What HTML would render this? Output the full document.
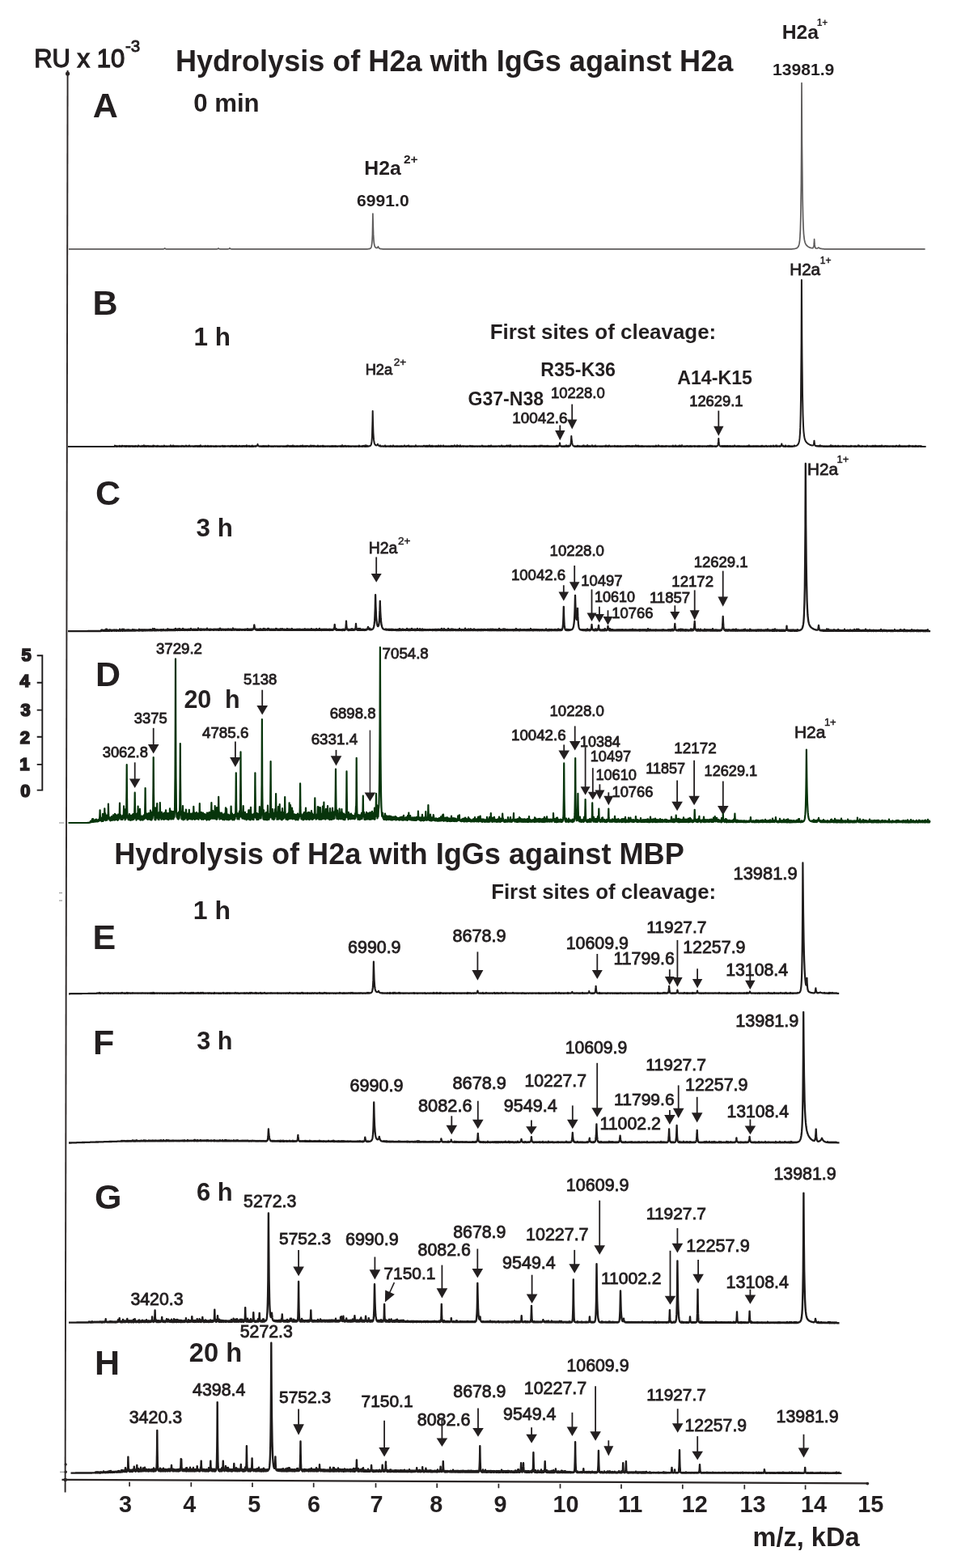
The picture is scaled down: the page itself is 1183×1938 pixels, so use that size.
<!DOCTYPE html>
<html><head><meta charset="utf-8"><title>Hydrolysis of H2a</title>
<style>html,body{margin:0;padding:0;background:#fff;}svg{display:block;}
text{font-family:"Liberation Sans",Arial,sans-serif;font-weight:bold;fill:#231f20;}</style></head>
<body><svg width="1183" height="1938" viewBox="0 0 1183 1938">
<rect width="1183" height="1938" fill="#fff"/>
<path d="M83.6 87L80.6 1844.5" stroke="#2b2626" stroke-width="1.9" fill="none"/>
<circle cx="83.6" cy="91" r="2.6" fill="#2b2626"/>
<path d="M76.5 1828.90L1072.5 1833.30" stroke="#2b2626" stroke-width="2.3" fill="none"/>
<circle cx="80.8" cy="1829" r="2.2" fill="#2b2626"/>
<circle cx="1072.3" cy="1833.6" r="1.9" fill="#2b2626"/>
<path d="M160.1 1831.8V1837.3" stroke="#2b2626" stroke-width="1.7" fill="none"/>
<path d="M236.3 1832.1V1837.6" stroke="#2b2626" stroke-width="1.7" fill="none"/>
<path d="M312.0 1832.4V1837.9" stroke="#2b2626" stroke-width="1.7" fill="none"/>
<path d="M387.7 1832.8V1838.3" stroke="#2b2626" stroke-width="1.7" fill="none"/>
<path d="M464.5 1833.1V1838.6" stroke="#2b2626" stroke-width="1.7" fill="none"/>
<path d="M540.2 1833.4V1838.9" stroke="#2b2626" stroke-width="1.7" fill="none"/>
<path d="M616.4 1833.8V1839.3" stroke="#2b2626" stroke-width="1.7" fill="none"/>
<path d="M692.5 1834.1V1839.6" stroke="#2b2626" stroke-width="1.7" fill="none"/>
<path d="M768.0 1834.5V1840.0" stroke="#2b2626" stroke-width="1.7" fill="none"/>
<path d="M843.8 1834.8V1840.3" stroke="#2b2626" stroke-width="1.7" fill="none"/>
<path d="M920.3 1835.1V1840.6" stroke="#2b2626" stroke-width="1.7" fill="none"/>
<path d="M995.6 1835.5V1841.0" stroke="#2b2626" stroke-width="1.7" fill="none"/>
<text x="146.9" y="1868.5" font-size="28.80">3</text>
<text x="226.2" y="1868.5" font-size="28.80">4</text>
<text x="306.2" y="1868.5" font-size="28.80">5</text>
<text x="379.9" y="1868.5" font-size="28.80">6</text>
<text x="457.4" y="1868.5" font-size="28.80">7</text>
<text x="531.3" y="1868.5" font-size="28.80">8</text>
<text x="610.6" y="1868.5" font-size="28.80">9</text>
<text x="683.6" y="1868.5" font-size="28.80">10</text>
<text x="763.9" y="1868.5" font-size="28.80">11</text>
<text x="842.7" y="1868.5" font-size="28.80">12</text>
<text x="914.5" y="1868.5" font-size="28.80">13</text>
<text x="990.1" y="1868.5" font-size="28.80">14</text>
<text x="1060.2" y="1868.5" font-size="28.80">15</text>
<text x="930.5" y="1910.7" font-size="32.54">m/z, kDa</text>
<text x="42.2" y="82.9" font-size="30.99" style="font-weight:normal" stroke="#231f20" stroke-width="1.30">RU x 10</text>
<text x="155.0" y="64.1" font-size="20.50" style="font-weight:normal" stroke="#231f20" stroke-width="0.90">-3</text>
<text x="216.9" y="87.8" font-size="36.07">Hydrolysis of H2a with IgGs against H2a</text>
<text x="141.2" y="1067.5" font-size="36.13">Hydrolysis of H2a with IgGs against MBP</text>
<text x="114.7" y="145.0" font-size="43.00">A</text>
<text x="239.2" y="138.1" font-size="31.19">0 min</text>
<text x="450.3" y="215.8" font-size="24.80">H2a</text>
<text x="498.9" y="202.3" font-size="15.50">2+</text>
<text x="441.1" y="254.7" font-size="21.10">6991.0</text>
<text x="966.7" y="48.0" font-size="24.69">H2a</text>
<text x="1009.7" y="31.8" font-size="12.00">1+</text>
<text x="954.9" y="92.7" font-size="21.14">13981.9</text>
<polyline points="85.0,307.9 86.0,307.9 87.0,307.9 88.0,307.9 89.0,307.9 90.0,307.9 91.0,307.9 92.0,307.9 93.0,307.9 94.0,307.9 95.0,307.9 96.0,307.9 97.0,307.9 98.0,307.9 99.0,307.9 100.0,307.9 101.0,307.9 102.0,307.9 103.0,307.9 104.0,307.9 105.0,307.9 106.0,307.9 107.0,307.9 108.0,307.9 109.0,307.9 110.0,307.9 111.0,307.9 112.0,307.9 113.0,307.9 114.0,307.9 115.0,307.9 116.0,307.9 117.0,307.9 118.0,307.9 119.0,307.9 120.0,307.9 121.0,307.9 122.0,307.9 123.0,307.9 124.0,307.9 125.0,307.9 126.0,307.9 127.0,307.9 128.0,307.9 129.0,307.9 130.0,307.9 131.0,307.9 132.0,307.9 133.0,307.9 134.0,307.9 135.0,307.9 136.0,307.9 137.0,307.9 138.0,307.9 139.0,307.9 140.0,307.9 141.0,307.9 142.0,307.9 143.0,307.9 144.0,307.9 145.0,307.9 146.0,307.9 147.0,307.9 148.0,307.9 149.0,307.9 150.0,307.9 151.0,307.9 152.0,307.9 153.0,307.9 154.0,307.9 155.0,307.9 156.0,307.9 157.0,307.9 158.0,307.9 159.0,307.9 160.0,307.9 161.0,307.9 162.0,307.9 163.0,307.9 164.0,307.9 165.0,307.9 166.0,307.9 167.0,307.9 168.0,307.9 169.0,307.9 170.0,307.9 171.0,307.9 172.0,307.9 173.0,307.9 174.0,307.9 175.0,307.9 176.0,307.9 177.0,307.9 178.0,307.9 179.0,307.9 180.0,307.9 181.0,307.9 182.0,307.9 183.0,307.9 184.0,307.9 185.0,307.9 186.0,307.9 187.0,307.9 188.0,307.9 189.0,307.9 190.0,307.9 191.0,307.9 192.0,307.9 193.0,307.9 194.0,307.9 195.0,307.9 196.0,307.9 197.0,307.9 198.0,307.9 199.0,307.9 200.0,307.9 200.7,307.9 201.0,307.9 201.1,307.9 201.4,307.8 201.8,307.8 202.0,307.8 202.2,307.8 202.6,307.7 202.9,307.5 203.0,307.5 203.3,307.2 203.7,306.8 204.0,307.2 204.1,307.2 204.4,307.5 204.8,307.7 205.0,307.7 205.2,307.8 205.6,307.8 205.9,307.8 206.0,307.8 206.3,307.9 206.7,307.9 207.0,307.9 208.0,307.9 209.0,307.9 210.0,307.9 211.0,307.9 212.0,307.9 213.0,307.9 214.0,307.9 215.0,307.9 216.0,307.9 217.0,307.9 218.0,307.9 219.0,307.9 220.0,307.9 221.0,307.9 222.0,307.9 223.0,307.9 224.0,307.9 225.0,307.9 226.0,307.9 227.0,307.9 228.0,307.9 229.0,307.9 230.0,307.9 231.0,307.9 232.0,307.9 233.0,307.9 234.0,307.9 235.0,307.9 236.0,307.9 237.0,307.9 238.0,307.9 239.0,307.9 240.0,307.9 241.0,307.9 242.0,307.9 243.0,307.9 244.0,307.9 245.0,307.9 246.0,307.9 247.0,307.9 248.0,307.9 249.0,307.9 250.0,307.9 251.0,307.9 252.0,307.9 253.0,307.9 254.0,307.9 255.0,307.9 256.0,307.9 257.0,307.9 258.0,307.9 259.0,307.9 260.0,307.9 261.0,307.9 262.0,307.9 263.0,307.9 264.0,307.9 265.0,307.9 266.0,307.9 267.0,307.9 267.4,307.9 267.8,307.8 268.0,307.8 268.1,307.8 268.5,307.8 268.9,307.7 269.0,307.6 269.2,307.5 269.6,307.2 270.0,306.8 270.4,307.2 270.8,307.5 271.0,307.6 271.1,307.7 271.5,307.8 271.9,307.8 272.0,307.8 272.2,307.8 272.6,307.9 273.0,307.9 274.0,307.9 275.0,307.9 276.0,307.9 277.0,307.9 278.0,307.9 279.0,307.9 280.0,307.9 281.0,307.9 281.4,307.9 281.8,307.8 282.0,307.8 282.1,307.8 282.5,307.7 282.9,307.6 283.0,307.6 283.2,307.4 283.6,307.1 284.0,306.6 284.4,307.1 284.8,307.4 285.0,307.6 285.1,307.6 285.5,307.7 285.9,307.8 286.0,307.8 286.2,307.8 286.6,307.9 287.0,307.9 288.0,307.9 289.0,307.9 290.0,307.9 291.0,307.9 292.0,307.9 293.0,307.9 294.0,307.9 295.0,307.9 296.0,307.9 297.0,307.9 298.0,307.9 299.0,307.9 300.0,307.9 301.0,307.9 302.0,307.9 303.0,307.9 304.0,307.9 305.0,307.9 306.0,307.9 307.0,307.9 308.0,307.9 309.0,307.9 310.0,307.9 311.0,307.9 312.0,307.9 313.0,307.9 314.0,307.9 315.0,307.9 316.0,307.9 317.0,307.9 318.0,307.9 319.0,307.9 320.0,307.9 321.0,307.9 322.0,307.9 323.0,307.9 324.0,307.9 325.0,307.9 326.0,307.9 327.0,307.9 328.0,307.9 329.0,307.9 330.0,307.9 331.0,307.9 332.0,307.9 333.0,307.9 334.0,307.9 335.0,307.9 336.0,307.9 337.0,307.9 338.0,307.9 339.0,307.9 340.0,307.9 341.0,307.9 342.0,307.9 343.0,307.9 344.0,307.9 345.0,307.9 346.0,307.9 347.0,307.9 348.0,307.9 349.0,307.9 350.0,307.9 351.0,307.9 352.0,307.9 353.0,307.9 354.0,307.9 355.0,307.9 356.0,307.9 357.0,307.9 358.0,307.9 359.0,307.9 360.0,307.9 361.0,307.9 362.0,307.9 363.0,307.9 364.0,307.9 365.0,307.9 366.0,307.9 367.0,307.9 368.0,307.9 369.0,307.9 370.0,307.9 371.0,307.9 372.0,307.9 373.0,307.9 374.0,307.9 375.0,307.9 376.0,307.9 377.0,307.9 378.0,307.9 379.0,307.9 380.0,307.9 381.0,307.9 382.0,307.9 383.0,307.9 384.0,307.9 385.0,307.9 386.0,307.9 387.0,307.9 388.0,307.9 389.0,307.9 390.0,307.9 391.0,307.9 392.0,307.9 393.0,307.9 394.0,307.9 395.0,307.9 396.0,307.9 397.0,307.9 398.0,307.9 399.0,307.9 400.0,307.9 401.0,307.9 402.0,307.9 403.0,307.9 404.0,307.9 405.0,307.9 406.0,307.9 407.0,307.9 408.0,307.9 409.0,307.9 410.0,307.9 411.0,307.9 412.0,307.9 413.0,307.9 414.0,307.9 415.0,307.9 416.0,307.9 417.0,307.9 418.0,307.9 419.0,307.9 420.0,307.9 421.0,307.9 422.0,307.9 423.0,307.9 424.0,307.9 425.0,307.9 426.0,307.9 427.0,307.9 428.0,307.9 429.0,307.9 430.0,307.9 431.0,307.9 432.0,307.9 433.0,307.9 434.0,307.9 435.0,307.9 436.0,307.9 437.0,307.9 438.0,307.9 439.0,307.9 440.0,307.9 441.0,307.9 442.0,307.9 443.0,307.9 444.0,307.9 445.0,307.9 446.0,307.9 447.0,307.9 448.0,307.9 449.0,307.9 450.0,307.9 451.0,307.9 452.0,307.9 453.0,307.9 453.7,307.8 454.0,307.8 454.6,307.8 455.0,307.7 455.5,307.7 456.0,307.6 456.4,307.6 457.0,307.4 457.3,307.3 458.0,306.9 458.2,306.7 458.7,306.0 459.0,305.3 459.0,305.3 459.1,304.9 459.2,304.3 459.5,302.8 459.8,300.3 460.0,297.7 460.1,296.6 460.4,290.3 460.6,280.6 460.9,264.1 461.0,269.4 461.3,280.2 461.6,289.9 462.0,296.0 462.0,296.4 462.3,299.8 462.7,302.2 462.7,302.3 463.0,303.5 463.0,303.7 463.4,304.7 463.8,305.3 463.9,305.5 464.0,305.6 464.4,306.0 464.5,306.1 464.8,306.2 465.0,306.3 465.2,306.4 465.7,306.4 466.0,306.4 466.1,306.4 466.3,306.3 466.6,306.1 467.0,305.7 467.1,305.6 467.5,304.7 467.9,305.8 468.0,305.8 468.1,306.0 468.4,306.4 468.9,306.9 469.0,307.0 469.3,307.2 469.8,307.3 469.9,307.4 470.0,307.4 470.2,307.5 470.6,307.6 471.0,307.6 471.1,307.6 471.7,307.7 472.0,307.7 473.0,307.8 473.5,307.8 474.0,307.8 475.0,307.8 475.3,307.8 476.0,307.8 477.0,307.9 478.0,307.9 479.0,307.9 480.0,307.9 481.0,307.9 482.0,307.9 483.0,307.9 484.0,307.9 485.0,307.9 486.0,307.9 487.0,307.9 488.0,307.9 489.0,307.9 490.0,307.9 491.0,307.9 492.0,307.9 493.0,307.9 494.0,307.9 495.0,307.9 496.0,307.9 497.0,307.9 498.0,307.9 499.0,307.9 500.0,307.9 501.0,307.9 502.0,307.9 503.0,307.9 504.0,307.9 505.0,307.9 506.0,307.9 507.0,307.9 508.0,307.9 509.0,307.9 510.0,307.9 511.0,307.9 512.0,307.9 513.0,307.9 514.0,307.9 515.0,307.9 516.0,307.9 517.0,307.9 518.0,307.9 519.0,307.9 520.0,307.9 521.0,307.9 522.0,307.9 523.0,307.9 524.0,307.9 525.0,307.9 526.0,307.9 527.0,307.9 528.0,307.9 529.0,307.9 530.0,307.9 531.0,307.9 532.0,307.9 533.0,307.9 534.0,307.9 535.0,307.9 536.0,307.9 537.0,307.9 538.0,307.9 539.0,307.9 540.0,307.9 541.0,307.9 542.0,307.9 543.0,307.9 544.0,307.9 545.0,307.9 546.0,307.9 547.0,307.9 548.0,307.9 549.0,307.9 550.0,307.9 551.0,307.9 552.0,307.9 553.0,307.9 554.0,307.9 555.0,307.9 556.0,307.9 557.0,307.9 558.0,307.9 559.0,307.9 560.0,307.9 561.0,307.9 562.0,307.9 563.0,307.9 564.0,307.9 565.0,307.9 566.0,307.9 567.0,307.9 568.0,307.9 569.0,307.9 570.0,307.9 571.0,307.9 572.0,307.9 573.0,307.9 574.0,307.9 575.0,307.9 576.0,307.9 577.0,307.9 578.0,307.9 579.0,307.9 580.0,307.9 581.0,307.9 582.0,307.9 583.0,307.9 584.0,307.9 585.0,307.9 586.0,307.9 587.0,307.9 588.0,307.9 589.0,307.9 590.0,307.9 591.0,307.9 592.0,307.9 593.0,307.9 594.0,307.9 595.0,307.9 596.0,307.9 597.0,307.9 598.0,307.9 599.0,307.9 600.0,307.9 601.0,307.9 602.0,307.9 603.0,307.9 604.0,307.9 605.0,307.9 606.0,307.9 607.0,307.9 608.0,307.9 609.0,307.9 610.0,307.9 611.0,307.9 612.0,307.9 613.0,307.9 614.0,307.9 615.0,307.9 616.0,307.9 617.0,307.9 618.0,307.9 619.0,307.9 620.0,307.9 621.0,307.9 622.0,307.9 623.0,307.9 624.0,307.9 625.0,307.9 626.0,307.9 627.0,307.9 628.0,307.9 629.0,307.9 630.0,307.9 631.0,307.9 632.0,307.9 633.0,307.9 634.0,307.9 635.0,307.9 636.0,307.9 637.0,307.9 638.0,307.9 639.0,307.9 640.0,307.9 641.0,307.9 642.0,307.9 643.0,307.9 644.0,307.9 645.0,307.9 646.0,307.9 647.0,307.9 648.0,307.9 649.0,307.9 650.0,307.9 651.0,307.9 652.0,307.9 653.0,307.9 654.0,307.9 655.0,307.9 656.0,307.9 657.0,307.9 658.0,307.9 659.0,307.9 660.0,307.9 661.0,307.9 662.0,307.9 663.0,307.9 664.0,307.9 665.0,307.9 666.0,307.9 667.0,307.9 668.0,307.9 669.0,307.9 670.0,307.9 671.0,307.9 672.0,307.9 673.0,307.9 674.0,307.9 675.0,307.9 676.0,307.9 677.0,307.9 678.0,307.9 679.0,307.9 680.0,307.9 681.0,307.9 682.0,307.9 683.0,307.9 684.0,307.9 685.0,307.9 686.0,307.9 687.0,307.9 688.0,307.9 689.0,307.9 690.0,307.9 691.0,307.9 692.0,307.9 693.0,307.9 694.0,307.9 695.0,307.9 696.0,307.9 697.0,307.9 698.0,307.9 699.0,307.9 700.0,307.9 701.0,307.9 702.0,307.9 703.0,307.9 704.0,307.9 705.0,307.9 706.0,307.9 707.0,307.9 708.0,307.9 709.0,307.9 710.0,307.9 711.0,307.9 712.0,307.9 713.0,307.9 714.0,307.9 715.0,307.9 716.0,307.9 717.0,307.9 718.0,307.9 719.0,307.9 720.0,307.9 721.0,307.9 722.0,307.9 723.0,307.9 724.0,307.9 725.0,307.9 726.0,307.9 727.0,307.9 728.0,307.9 729.0,307.9 730.0,307.9 731.0,307.9 732.0,307.9 733.0,307.9 734.0,307.9 735.0,307.9 736.0,307.9 737.0,307.9 738.0,307.9 739.0,307.9 740.0,307.9 741.0,307.9 742.0,307.9 743.0,307.9 744.0,307.9 745.0,307.9 746.0,307.9 747.0,307.9 748.0,307.9 749.0,307.9 750.0,307.9 751.0,307.9 752.0,307.9 753.0,307.9 754.0,307.9 755.0,307.9 756.0,307.9 757.0,307.9 758.0,307.9 759.0,307.9 760.0,307.9 761.0,307.9 762.0,307.9 763.0,307.9 764.0,307.9 765.0,307.9 766.0,307.9 767.0,307.9 768.0,307.9 769.0,307.9 770.0,307.9 771.0,307.9 772.0,307.9 773.0,307.9 774.0,307.9 775.0,307.9 776.0,307.9 777.0,307.9 778.0,307.9 779.0,307.9 780.0,307.9 781.0,307.9 782.0,307.9 783.0,307.9 784.0,307.9 785.0,307.9 786.0,307.9 787.0,307.9 788.0,307.9 789.0,307.9 790.0,307.9 791.0,307.9 792.0,307.9 793.0,307.9 794.0,307.9 795.0,307.9 796.0,307.9 797.0,307.9 798.0,307.9 799.0,307.9 800.0,307.9 801.0,307.9 802.0,307.9 803.0,307.9 804.0,307.9 805.0,307.9 806.0,307.9 807.0,307.9 808.0,307.9 809.0,307.9 810.0,307.9 811.0,307.9 812.0,307.9 813.0,307.9 814.0,307.9 815.0,307.9 816.0,307.9 817.0,307.9 818.0,307.9 819.0,307.9 820.0,307.9 821.0,307.9 822.0,307.9 823.0,307.9 824.0,307.9 825.0,307.9 826.0,307.9 827.0,307.9 828.0,307.9 829.0,307.9 830.0,307.9 831.0,307.9 832.0,307.9 833.0,307.9 834.0,307.9 835.0,307.9 836.0,307.9 837.0,307.9 838.0,307.9 839.0,307.9 840.0,307.9 841.0,307.9 842.0,307.9 843.0,307.9 844.0,307.9 845.0,307.9 846.0,307.9 847.0,307.9 848.0,307.9 849.0,307.9 850.0,307.9 851.0,307.9 852.0,307.9 853.0,307.9 854.0,307.9 855.0,307.9 856.0,307.9 857.0,307.9 858.0,307.9 859.0,307.9 860.0,307.9 861.0,307.9 862.0,307.9 863.0,307.9 864.0,307.9 865.0,307.9 866.0,307.9 867.0,307.9 868.0,307.9 869.0,307.9 870.0,307.9 871.0,307.9 872.0,307.9 873.0,307.9 874.0,307.9 875.0,307.9 876.0,307.9 877.0,307.9 878.0,307.9 879.0,307.9 880.0,307.9 881.0,307.9 882.0,307.9 883.0,307.9 884.0,307.9 885.0,307.9 886.0,307.9 887.0,307.9 888.0,307.9 889.0,307.9 890.0,307.9 891.0,307.9 892.0,307.9 893.0,307.9 894.0,307.9 895.0,307.9 896.0,307.9 897.0,307.9 898.0,307.9 899.0,307.9 900.0,307.9 901.0,307.9 902.0,307.9 903.0,307.9 904.0,307.9 905.0,307.9 906.0,307.9 907.0,307.9 908.0,307.9 909.0,307.9 910.0,307.9 911.0,307.9 912.0,307.9 913.0,307.9 914.0,307.9 915.0,307.9 916.0,307.9 917.0,307.9 918.0,307.9 919.0,307.9 920.0,307.9 921.0,307.9 922.0,307.9 923.0,307.9 924.0,307.9 925.0,307.9 926.0,307.9 927.0,307.9 928.0,307.9 929.0,307.9 930.0,307.9 931.0,307.9 932.0,307.9 933.0,307.9 934.0,307.9 935.0,307.9 936.0,307.9 937.0,307.9 938.0,307.9 939.0,307.9 940.0,307.9 941.0,307.9 942.0,307.9 943.0,307.9 944.0,307.9 945.0,307.9 946.0,307.9 947.0,307.9 948.0,307.9 949.0,307.9 950.0,307.9 951.0,307.9 952.0,307.9 953.0,307.9 954.0,307.9 955.0,307.9 956.0,307.9 957.0,307.9 958.0,307.9 959.0,307.9 960.0,307.9 961.0,307.9 962.0,307.9 963.0,307.9 964.0,307.9 965.0,307.9 966.0,307.9 967.0,307.9 968.0,307.9 969.0,307.9 970.0,307.9 971.0,307.9 972.0,307.9 973.0,307.9 974.0,307.9 975.0,307.9 976.0,307.9 977.0,307.9 978.0,307.8 979.0,307.8 980.0,307.7 981.0,307.7 981.4,307.6 982.0,307.5 982.6,307.4 983.0,307.3 983.8,307.1 984.0,307.0 985.0,306.6 986.0,305.8 986.2,305.6 987.0,304.5 987.4,303.6 988.0,301.4 988.4,299.0 988.6,297.3 988.7,295.9 989.0,292.2 989.0,291.4 989.4,284.1 989.7,273.0 989.8,268.3 990.0,256.7 990.0,255.3 990.4,226.1 990.7,180.0 991.0,102.6 991.4,178.1 991.9,225.3 992.0,236.9 992.3,253.5 992.7,271.0 993.0,279.6 993.1,282.0 993.4,287.1 993.5,289.0 994.0,293.6 994.0,293.9 994.4,296.5 995.0,299.3 995.8,301.4 996.0,301.7 997.0,303.2 998.0,304.1 998.2,304.3 999.0,304.9 1000.0,305.4 1000.6,305.7 1001.0,305.9 1002.0,306.3 1003.0,306.5 1004.0,306.7 1004.1,306.7 1004.5,306.7 1004.8,306.6 1005.0,306.4 1005.0,306.4 1005.2,306.1 1005.3,306.1 1005.4,305.9 1005.5,305.5 1005.8,304.5 1006.0,303.5 1006.1,302.9 1006.3,300.2 1006.4,299.6 1006.6,295.7 1006.9,300.2 1007.0,301.8 1007.1,302.9 1007.4,304.6 1007.5,305.1 1007.6,305.6 1007.8,306.0 1007.9,306.2 1008.0,306.4 1008.2,306.6 1008.4,306.8 1008.6,306.9 1008.7,306.9 1009.0,307.0 1009.8,307.0 1010.0,306.9 1010.2,306.9 1010.9,306.7 1011.0,306.6 1012.0,306.1 1013.0,306.7 1013.1,306.8 1014.0,307.1 1014.2,307.2 1015.0,307.4 1015.4,307.4 1016.0,307.5 1016.5,307.6 1017.0,307.7 1017.6,307.7 1018.0,307.7 1018.8,307.8 1019.0,307.8 1019.9,307.8 1020.0,307.8 1021.0,307.8 1022.0,307.9 1023.0,307.9 1024.0,307.9 1025.0,307.9 1026.0,307.9 1027.0,307.9 1028.0,307.9 1029.0,307.9 1030.0,307.9 1031.0,307.9 1032.0,307.9 1033.0,307.9 1034.0,307.9 1035.0,307.9 1036.0,307.9 1037.0,307.9 1038.0,307.9 1039.0,307.9 1040.0,307.9 1041.0,307.9 1042.0,307.9 1043.0,307.9 1044.0,307.9 1045.0,307.9 1046.0,307.9 1047.0,307.9 1048.0,307.9 1049.0,307.9 1050.0,307.9 1051.0,307.9 1052.0,307.9 1053.0,307.9 1054.0,307.9 1055.0,307.9 1056.0,307.9 1057.0,307.9 1058.0,307.9 1059.0,307.9 1060.0,307.9 1061.0,307.9 1062.0,307.9 1063.0,307.9 1064.0,307.9 1065.0,307.9 1066.0,307.9 1067.0,307.9 1068.0,307.9 1069.0,307.9 1070.0,307.9 1071.0,307.9 1072.0,307.9 1073.0,307.9 1074.0,307.9 1075.0,307.9 1076.0,307.9 1077.0,307.9 1078.0,307.9 1079.0,307.9 1080.0,307.9 1081.0,307.9 1082.0,307.9 1083.0,307.9 1084.0,307.9 1085.0,307.9 1086.0,307.9 1087.0,307.9 1088.0,307.9 1089.0,307.9 1090.0,307.9 1091.0,307.9 1092.0,307.9 1093.0,307.9 1094.0,307.9 1095.0,307.9 1096.0,307.9 1097.0,307.9 1098.0,307.9 1099.0,307.9 1100.0,307.9 1101.0,307.9 1102.0,307.9 1103.0,307.9 1104.0,307.9 1105.0,307.9 1106.0,307.9 1107.0,307.9 1108.0,307.9 1109.0,307.9 1110.0,307.9 1111.0,307.9 1112.0,307.9 1113.0,307.9 1114.0,307.9 1115.0,307.9 1116.0,307.9 1117.0,307.9 1118.0,307.9 1119.0,307.9 1120.0,307.9 1121.0,307.9 1122.0,307.9 1123.0,307.9 1124.0,307.9 1125.0,307.9 1126.0,307.9 1127.0,307.9 1128.0,307.9 1129.0,307.9 1130.0,307.9 1131.0,307.9 1132.0,307.9 1133.0,307.9 1134.0,307.9 1135.0,307.9 1136.0,307.9 1137.0,307.9 1138.0,307.9 1139.0,307.9 1140.0,307.9 1141.0,307.9 1142.0,307.9 1143.0,307.9 1143.6,307.9" fill="none" stroke="#5e5c5c" stroke-width="1.70" stroke-linejoin="round"/>
<text x="114.4" y="388.5" font-size="43.00">B</text>
<text x="239.5" y="427.2" font-size="31.44">1 h</text>
<text x="605.7" y="419.4" font-size="25.93">First sites of cleavage:</text>
<text x="451.7" y="462.8" font-size="18.26" style="font-weight:normal" stroke="#231f20" stroke-width="0.80">H2a</text>
<text x="486.8" y="451.5" font-size="13.50" style="font-weight:normal" stroke="#231f20" stroke-width="0.50">2+</text>
<text x="668.2" y="464.6" font-size="23.19">R35-K36</text>
<text x="681.0" y="492.0" font-size="18.45" style="font-weight:normal" stroke="#231f20" stroke-width="0.85">10228.0</text>
<text x="578.5" y="501.1" font-size="23.06">G37-N38</text>
<text x="633.2" y="523.0" font-size="18.90" style="font-weight:normal" stroke="#231f20" stroke-width="0.85">10042.6</text>
<text x="837.2" y="475.4" font-size="23.19">A14-K15</text>
<text x="852.2" y="502.1" font-size="18.35" style="font-weight:normal" stroke="#231f20" stroke-width="0.85">12629.1</text>
<text x="976.3" y="339.6" font-size="20.60" style="font-weight:normal" stroke="#231f20" stroke-width="0.80">H2a</text>
<text x="1013.8" y="326.0" font-size="12.00" style="font-weight:normal" stroke="#231f20" stroke-width="0.50">1+</text>
<path d="M707.2 499.6V520.5" stroke="#231f20" stroke-width="1.8" fill="none"/>
<path d="M701.0 518.5L713.4 518.5L707.2 530.6Z" fill="#231f20"/>
<path d="M692.3 525.5V534.0" stroke="#231f20" stroke-width="1.8" fill="none"/>
<path d="M686.1 532.0L698.5 532.0L692.3 544.3Z" fill="#231f20"/>
<path d="M888.3 507.6V528.8" stroke="#231f20" stroke-width="1.8" fill="none"/>
<path d="M882.1 526.8L894.5 526.8L888.3 538.7Z" fill="#231f20"/>
<polyline points="84.0,552.0 84.5,552.0 85.0,552.0 85.5,552.0 86.0,552.0 86.5,552.0 87.0,552.0 87.5,552.0 88.0,552.0 88.5,552.0 89.0,552.0 89.5,552.0 90.0,552.0 90.5,552.0 91.0,552.0 91.5,552.0 92.0,552.0 92.5,552.0 93.0,552.0 93.5,552.0 94.0,552.0 94.5,552.0 95.0,552.0 95.5,552.0 96.0,552.0 96.5,552.0 97.0,552.0 97.5,552.0 98.0,552.0 98.5,552.0 99.0,552.0 99.5,552.0 100.0,552.0 100.5,552.0 101.0,552.0 101.5,552.0 102.0,552.0 102.5,552.0 103.0,552.0 103.5,552.0 104.0,552.0 104.5,552.0 105.0,552.0 105.5,552.0 106.0,552.0 106.5,552.0 107.0,552.0 107.5,552.0 108.0,552.0 108.5,552.0 109.0,552.0 109.5,552.0 110.0,552.0 110.5,552.0 111.0,552.0 111.5,552.0 112.0,552.0 112.5,552.0 113.0,552.0 113.5,552.0 114.0,552.0 114.5,552.0 115.0,552.0 115.5,552.0 116.0,552.0 116.5,552.0 117.0,552.0 117.5,552.0 118.0,552.0 118.5,552.0 119.0,552.0 119.5,552.0 120.0,552.0 120.5,552.0 121.0,552.0 121.5,552.0 122.0,552.0 122.5,552.0 123.0,552.0 123.5,552.0 124.0,552.0 124.5,552.0 125.0,552.0 125.5,552.0 126.0,552.0 126.5,552.0 127.0,552.0 127.5,552.0 128.0,552.0 128.5,552.0 129.0,552.0 129.5,552.0 130.0,552.0 130.5,552.0 131.0,552.0 131.5,552.0 132.0,552.0 132.5,552.0 133.0,552.0 133.5,552.0 134.0,552.0 134.5,552.0 135.0,552.0 135.5,552.0 136.0,552.0 136.5,552.0 137.0,552.0 137.5,552.0 138.0,552.0 138.5,552.0 139.0,552.0 139.5,552.0 140.0,552.0 140.5,552.0 141.0,552.0 141.5,552.0 142.0,550.6 142.5,551.8 143.0,551.0 143.5,551.9 144.0,551.1 144.5,551.9 145.0,551.3 145.5,551.9 146.0,551.2 146.5,551.8 147.0,551.2 147.5,552.0 148.0,550.8 148.5,551.9 149.0,551.3 149.5,551.9 150.0,551.2 150.5,552.0 151.0,550.7 151.5,551.8 152.0,551.2 152.5,551.8 153.0,551.1 153.5,551.8 154.0,551.1 154.5,551.9 155.0,551.0 155.5,552.0 156.0,551.1 156.5,551.9 157.0,551.1 157.5,551.8 158.0,551.2 158.5,551.9 159.0,551.1 159.5,551.9 160.0,551.1 160.5,551.9 161.0,551.2 161.5,551.9 162.0,551.1 162.5,551.8 163.0,551.2 163.5,551.9 164.0,551.1 164.5,551.9 165.0,551.2 165.5,551.9 166.0,551.2 166.5,551.9 167.0,551.1 167.5,552.0 168.0,551.1 168.5,551.8 169.0,551.2 169.5,552.0 170.0,551.2 170.5,552.0 171.0,550.5 171.5,551.8 172.0,551.2 172.5,551.8 173.0,551.2 173.5,552.0 174.0,551.3 174.5,551.9 175.0,551.4 175.5,552.0 176.0,550.8 176.5,551.9 177.0,551.3 177.5,551.9 178.0,550.4 178.5,552.0 179.0,551.4 179.5,551.9 180.0,550.8 180.5,552.0 181.0,551.2 181.5,551.9 182.0,551.1 182.5,551.8 183.0,551.1 183.5,552.0 184.0,551.1 184.5,552.0 185.0,551.2 185.5,552.0 186.0,551.2 186.5,551.9 187.0,551.3 187.5,552.0 188.0,551.2 188.5,552.0 189.0,550.9 189.5,552.0 190.0,550.6 190.5,551.9 191.0,551.1 191.5,551.8 192.0,551.3 192.5,552.0 193.0,551.2 193.5,551.9 194.0,551.2 194.5,551.9 195.0,550.9 195.5,551.9 196.0,551.3 196.5,552.0 197.0,551.4 197.5,552.0 198.0,551.4 198.5,551.9 199.0,551.4 199.5,552.0 200.0,551.2 200.5,551.9 201.0,551.2 201.5,551.9 202.0,551.3 202.5,551.9 203.0,550.6 203.5,551.9 204.0,551.3 204.5,551.9 205.0,551.3 205.5,551.9 206.0,551.4 206.5,552.0 207.0,551.4 207.5,551.9 208.0,551.4 208.5,551.9 209.0,551.3 209.5,551.9 210.0,551.4 210.5,551.9 211.0,550.4 211.5,552.0 212.0,551.2 212.5,551.9 213.0,551.1 213.5,552.0 214.0,550.5 214.5,551.9 215.0,551.1 215.5,552.0 216.0,551.1 216.5,551.9 217.0,551.2 217.5,551.9 218.0,551.1 218.5,551.9 219.0,551.2 219.5,551.9 220.0,551.1 220.5,551.9 221.0,551.2 221.5,552.0 222.0,551.2 222.5,551.8 223.0,551.2 223.5,552.0 224.0,551.3 224.5,552.0 225.0,550.9 225.5,551.8 226.0,551.1 226.5,552.0 227.0,551.2 227.5,551.9 228.0,551.2 228.5,551.9 229.0,551.3 229.5,551.8 230.0,550.6 230.5,551.9 231.0,551.3 231.5,551.9 232.0,551.2 232.5,551.8 233.0,551.1 233.5,552.0 234.0,550.5 234.5,551.8 235.0,551.3 235.5,551.9 236.0,551.3 236.5,551.8 237.0,551.2 237.5,551.8 238.0,551.3 238.5,551.9 239.0,551.2 239.5,552.0 240.0,551.2 240.5,551.9 241.0,551.1 241.5,552.0 242.0,551.1 242.5,551.8 243.0,551.1 243.5,552.0 244.0,551.1 244.5,551.9 245.0,551.0 245.5,552.0 246.0,551.0 246.5,552.0 247.0,551.1 247.5,552.0 248.0,550.4 248.5,551.9 249.0,551.2 249.5,551.9 250.0,551.3 250.5,552.0 251.0,551.4 251.5,551.8 252.0,551.3 252.5,551.9 253.0,551.2 253.5,552.0 254.0,550.9 254.5,551.9 255.0,551.3 255.5,551.9 256.0,551.3 256.5,551.9 257.0,550.8 257.5,551.9 258.0,551.2 258.5,552.0 259.0,551.2 259.5,551.9 260.0,551.2 260.5,551.9 261.0,551.1 261.5,551.9 262.0,551.2 262.5,551.8 263.0,551.3 263.5,551.9 264.0,551.2 264.5,551.9 265.0,551.3 265.5,552.0 266.0,551.2 266.5,551.9 267.0,551.1 267.5,551.9 268.0,551.2 268.5,551.9 269.0,551.3 269.5,551.8 270.0,551.4 270.5,551.9 271.0,551.3 271.5,552.0 272.0,551.3 272.5,551.9 273.0,551.3 273.5,551.8 274.0,551.3 274.5,551.8 275.0,550.9 275.5,552.0 276.0,551.2 276.5,551.9 277.0,551.1 277.5,551.9 278.0,551.1 278.5,551.9 279.0,551.2 279.5,551.8 280.0,551.2 280.5,551.8 281.0,551.2 281.5,551.8 282.0,551.1 282.5,551.8 283.0,551.2 283.5,551.9 284.0,551.2 284.5,552.0 285.0,551.1 285.5,551.9 286.0,551.1 286.5,551.8 287.0,550.8 287.5,551.9 288.0,551.1 288.5,551.9 289.0,551.2 289.5,552.0 290.0,551.1 290.5,551.9 291.0,551.1 291.5,551.9 292.0,550.7 292.5,552.0 293.0,551.2 293.5,552.0 294.0,551.3 294.5,552.0 295.0,551.2 295.5,551.9 296.0,550.8 296.5,551.8 297.0,551.2 297.5,552.0 298.0,551.2 298.5,551.9 299.0,551.1 299.5,551.9 300.0,551.0 300.5,551.9 301.0,551.1 301.5,551.8 302.0,551.1 302.5,551.9 303.0,551.0 303.5,551.8 304.0,551.1 304.5,551.9 305.0,550.4 305.5,552.0 306.0,551.1 306.5,551.8 307.0,551.3 307.5,551.9 308.0,550.9 308.5,552.0 309.0,551.4 309.5,552.0 310.0,551.2 310.5,552.0 311.0,551.1 311.5,551.9 312.0,550.6 312.5,552.0 313.0,551.3 313.5,551.9 314.0,551.2 314.5,551.8 315.0,551.3 315.5,551.9 315.9,551.2 316.0,551.0 316.2,551.5 316.5,551.8 316.6,551.8 317.0,551.4 317.4,551.3 317.5,551.2 317.8,550.9 318.0,550.5 318.1,550.2 318.5,549.0 318.9,550.2 319.0,550.5 319.2,550.9 319.5,551.2 319.6,551.3 320.0,551.3 320.4,551.8 320.5,551.8 320.8,551.6 321.0,551.4 321.1,551.5 321.5,551.9 322.0,551.3 322.5,551.9 323.0,551.2 323.5,551.9 324.0,551.2 324.5,551.9 325.0,551.1 325.5,551.9 326.0,551.1 326.5,552.0 327.0,551.1 327.5,552.0 328.0,551.2 328.5,551.9 329.0,551.1 329.5,551.9 330.0,551.3 330.5,551.9 331.0,551.2 331.5,552.0 332.0,550.6 332.5,551.9 333.0,551.3 333.5,551.8 334.0,551.2 334.5,551.9 335.0,551.3 335.5,551.9 336.0,551.3 336.5,551.9 337.0,551.3 337.5,551.9 338.0,551.3 338.5,552.0 339.0,551.2 339.5,551.8 340.0,551.3 340.5,551.9 341.0,551.3 341.5,551.8 342.0,551.3 342.5,551.9 343.0,551.2 343.5,551.9 344.0,551.3 344.5,552.0 345.0,551.3 345.5,552.0 346.0,551.3 346.5,551.9 347.0,551.3 347.5,551.8 348.0,551.4 348.5,551.9 349.0,551.2 349.5,551.9 350.0,551.3 350.5,551.9 351.0,551.4 351.5,552.0 352.0,551.4 352.5,552.0 353.0,551.2 353.5,551.9 354.0,551.2 354.5,552.0 355.0,550.8 355.5,551.9 356.0,550.6 356.5,551.8 357.0,551.2 357.5,551.9 358.0,551.1 358.5,551.9 359.0,551.0 359.5,552.0 360.0,551.1 360.5,551.9 361.0,551.1 361.5,552.0 362.0,550.5 362.5,552.0 363.0,551.2 363.5,551.9 364.0,551.1 364.5,551.9 365.0,551.2 365.5,552.0 366.0,551.2 366.5,552.0 367.0,551.1 367.5,552.0 368.0,551.1 368.5,551.9 369.0,551.3 369.5,551.9 370.0,551.2 370.5,551.9 371.0,551.1 371.5,552.0 372.0,550.8 372.5,551.9 373.0,551.2 373.5,551.9 374.0,550.5 374.5,552.0 375.0,551.1 375.5,552.0 376.0,551.2 376.5,551.9 377.0,551.1 377.5,551.9 378.0,551.0 378.5,552.0 379.0,551.0 379.5,551.8 380.0,551.1 380.5,551.8 381.0,551.2 381.5,552.0 382.0,551.2 382.5,552.0 383.0,551.2 383.5,551.9 384.0,550.5 384.5,551.9 385.0,551.2 385.5,551.9 386.0,550.7 386.5,551.8 387.0,551.2 387.5,551.9 388.0,550.7 388.5,551.9 389.0,551.0 389.5,551.8 390.0,551.2 390.5,552.0 391.0,551.3 391.5,552.0 392.0,551.3 392.5,551.9 393.0,550.6 393.5,551.9 394.0,551.2 394.5,552.0 395.0,551.3 395.5,551.9 396.0,551.1 396.5,551.9 397.0,551.2 397.5,551.8 398.0,551.1 398.5,552.0 399.0,550.7 399.5,552.0 400.0,551.1 400.5,551.9 401.0,551.2 401.5,551.9 402.0,551.2 402.5,552.0 403.0,551.3 403.5,551.8 404.0,551.2 404.5,552.0 405.0,551.2 405.5,551.8 406.0,551.2 406.5,551.9 407.0,551.3 407.5,551.9 408.0,551.2 408.5,551.9 409.0,551.2 409.5,551.9 410.0,551.1 410.5,551.9 411.0,551.1 411.5,551.9 412.0,551.1 412.5,552.0 413.0,551.2 413.5,551.9 414.0,551.1 414.5,551.9 415.0,551.1 415.5,551.9 416.0,551.2 416.5,551.9 417.0,551.3 417.5,551.9 418.0,551.3 418.5,551.8 419.0,551.2 419.5,551.8 420.0,551.2 420.5,551.9 421.0,551.1 421.5,551.9 422.0,551.1 422.5,552.0 423.0,550.3 423.5,551.9 424.0,551.2 424.5,552.0 425.0,551.1 425.5,552.0 426.0,551.1 426.5,551.8 427.0,550.9 427.5,552.0 428.0,551.2 428.5,552.0 429.0,551.3 429.5,551.8 430.0,551.1 430.5,551.9 431.0,551.1 431.5,551.9 432.0,551.3 432.5,551.9 433.0,551.2 433.5,551.9 434.0,551.3 434.5,551.9 435.0,551.3 435.5,551.8 436.0,551.4 436.5,551.9 437.0,551.2 437.5,551.9 438.0,551.3 438.5,551.9 439.0,551.3 439.5,551.9 440.0,551.2 440.5,552.0 441.0,551.3 441.5,551.8 442.0,551.2 442.5,551.9 443.0,551.3 443.5,551.9 444.0,550.6 444.5,552.0 445.0,551.4 445.5,551.8 446.0,551.5 446.5,551.9 447.0,551.3 447.5,552.0 448.0,551.1 448.5,551.9 449.0,551.1 449.5,551.8 450.0,550.7 450.5,552.0 451.0,551.2 451.5,551.9 452.0,550.4 452.5,552.0 453.0,550.6 453.5,551.9 454.0,550.8 454.4,551.7 454.5,551.9 455.0,551.4 455.3,551.7 455.5,551.8 456.0,551.3 456.2,551.5 456.5,551.6 457.0,551.1 457.1,551.3 457.5,551.2 458.0,550.8 458.5,550.1 458.8,549.4 458.9,549.0 459.0,548.6 459.1,548.4 459.3,546.9 459.5,545.4 459.6,544.4 459.8,541.8 459.9,540.5 460.0,538.1 460.1,534.3 460.4,524.1 460.5,520.6 460.7,508.0 461.0,522.0 461.1,524.2 461.4,533.9 461.5,535.7 461.8,540.1 462.0,542.7 462.1,543.9 462.5,546.3 462.5,546.3 462.8,547.8 463.0,548.3 463.2,548.8 463.4,549.1 463.5,549.3 463.6,549.4 463.9,549.8 464.0,549.9 464.3,550.1 464.5,550.3 464.8,550.4 465.0,550.4 465.2,550.4 465.5,550.4 465.6,550.4 466.0,550.2 466.1,550.2 466.5,549.8 466.6,549.7 467.0,548.8 467.4,549.9 467.5,550.0 467.9,550.5 468.0,550.6 468.4,551.0 468.5,551.1 468.8,551.2 469.0,551.3 469.2,551.4 469.5,551.5 469.7,551.3 470.0,550.4 470.1,550.9 470.5,551.7 470.6,551.7 471.0,551.2 471.5,551.8 472.0,551.3 472.5,551.8 473.0,551.3 473.3,551.6 473.5,551.8 474.0,551.3 474.5,551.9 475.0,551.3 475.1,551.4 475.5,551.8 476.0,550.5 476.5,551.9 477.0,551.2 477.5,552.0 478.0,551.3 478.5,551.8 479.0,551.4 479.5,551.9 480.0,551.4 480.5,551.9 481.0,551.2 481.5,551.9 482.0,551.2 482.5,551.9 483.0,550.8 483.5,551.9 484.0,551.3 484.5,551.9 485.0,551.3 485.5,551.9 486.0,550.5 486.5,551.8 487.0,551.2 487.5,552.0 488.0,551.3 488.5,551.9 489.0,551.4 489.5,551.9 490.0,551.2 490.5,552.0 491.0,551.1 491.5,551.9 492.0,551.3 492.5,552.0 493.0,551.3 493.5,551.9 494.0,551.2 494.5,551.9 495.0,551.2 495.5,551.9 496.0,551.1 496.5,551.9 497.0,551.2 497.5,551.9 498.0,551.2 498.5,552.0 499.0,551.3 499.5,551.8 500.0,550.5 500.5,551.9 501.0,551.3 501.5,552.0 502.0,551.3 502.5,551.9 503.0,551.1 503.5,551.8 504.0,551.1 504.5,551.8 505.0,550.5 505.5,552.0 506.0,551.2 506.5,551.9 507.0,551.3 507.5,552.0 508.0,551.2 508.5,551.9 509.0,551.3 509.5,551.9 510.0,551.2 510.5,551.8 511.0,551.2 511.5,551.9 512.0,551.3 512.5,552.0 513.0,551.4 513.5,551.9 514.0,550.4 514.5,552.0 515.0,551.3 515.5,551.8 516.0,551.2 516.5,552.0 517.0,551.3 517.5,551.8 518.0,551.3 518.5,551.8 519.0,551.4 519.5,551.9 520.0,551.4 520.5,551.9 521.0,551.4 521.5,551.9 522.0,551.3 522.5,551.9 523.0,551.3 523.5,551.8 524.0,550.7 524.5,551.8 525.0,551.2 525.5,551.9 526.0,551.1 526.5,551.9 527.0,550.8 527.5,552.0 528.0,551.1 528.5,551.9 529.0,550.8 529.5,552.0 530.0,551.3 530.5,551.8 531.0,550.4 531.5,551.9 532.0,551.1 532.5,552.0 533.0,551.1 533.5,551.9 534.0,550.7 534.5,552.0 535.0,551.2 535.5,551.9 536.0,551.2 536.5,551.8 537.0,551.3 537.5,551.9 538.0,551.2 538.5,551.9 539.0,551.1 539.5,552.0 540.0,551.1 540.5,552.0 541.0,551.2 541.5,552.0 542.0,550.5 542.5,551.9 543.0,551.2 543.5,551.9 544.0,551.1 544.5,552.0 545.0,550.6 545.5,551.9 546.0,551.2 546.5,551.8 547.0,551.2 547.5,551.9 548.0,550.5 548.5,551.9 549.0,551.3 549.5,552.0 550.0,551.3 550.5,551.9 551.0,551.3 551.5,551.9 552.0,551.2 552.5,552.0 553.0,551.3 553.5,552.0 554.0,551.2 554.5,551.9 555.0,551.4 555.5,552.0 556.0,551.4 556.5,551.9 557.0,551.2 557.5,552.0 558.0,550.8 558.5,552.0 559.0,551.1 559.5,551.9 560.0,551.1 560.5,551.9 561.0,551.2 561.5,551.8 562.0,550.4 562.5,551.9 563.0,551.2 563.5,551.9 564.0,551.1 564.5,551.9 565.0,550.4 565.5,552.0 566.0,550.6 566.5,551.8 567.0,551.3 567.5,551.9 568.0,551.1 568.5,551.9 569.0,550.4 569.5,551.9 570.0,551.2 570.5,552.0 571.0,551.3 571.5,551.8 572.0,551.1 572.5,552.0 573.0,551.2 573.5,551.9 574.0,551.2 574.5,551.8 575.0,551.2 575.5,551.9 576.0,551.3 576.5,551.9 577.0,551.3 577.5,551.9 578.0,551.2 578.5,551.9 579.0,551.2 579.5,551.8 580.0,551.4 580.5,551.9 581.0,550.9 581.5,551.9 582.0,551.2 582.5,551.9 583.0,551.1 583.5,552.0 584.0,551.1 584.5,551.9 585.0,551.2 585.5,551.9 586.0,551.2 586.5,551.9 587.0,551.3 587.5,552.0 588.0,551.4 588.5,551.8 589.0,551.4 589.5,552.0 590.0,551.3 590.5,552.0 591.0,551.3 591.5,551.8 592.0,551.4 592.5,552.0 593.0,551.4 593.5,551.9 594.0,551.2 594.5,551.9 595.0,551.2 595.5,551.8 596.0,550.6 596.5,551.9 597.0,551.1 597.5,551.9 598.0,551.3 598.5,551.9 599.0,551.3 599.5,551.9 600.0,551.4 600.5,552.0 601.0,551.4 601.5,551.9 602.0,551.3 602.5,551.9 603.0,551.3 603.5,551.9 604.0,550.8 604.5,551.9 605.0,551.1 605.5,552.0 606.0,551.1 606.5,551.9 607.0,550.5 607.5,551.9 608.0,551.2 608.5,551.9 609.0,551.2 609.5,551.9 610.0,551.3 610.5,551.9 611.0,551.3 611.5,551.9 612.0,551.3 612.5,551.9 613.0,551.4 613.5,551.9 614.0,551.2 614.5,551.9 615.0,551.3 615.5,551.8 616.0,551.3 616.5,551.8 617.0,551.0 617.5,551.9 618.0,551.4 618.5,552.0 619.0,551.2 619.5,551.8 620.0,550.5 620.5,551.9 621.0,551.1 621.5,552.0 622.0,551.2 622.5,551.9 623.0,551.3 623.5,551.9 624.0,551.2 624.5,551.9 625.0,551.3 625.5,551.8 626.0,550.7 626.5,551.9 627.0,550.6 627.5,551.9 628.0,551.1 628.5,551.8 629.0,550.5 629.5,551.9 630.0,551.1 630.5,552.0 631.0,550.3 631.5,552.0 632.0,551.3 632.5,551.8 633.0,551.2 633.5,551.9 634.0,551.3 634.5,551.9 635.0,551.3 635.5,552.0 636.0,551.3 636.5,552.0 637.0,551.4 637.5,551.9 638.0,551.3 638.5,551.9 639.0,551.1 639.5,552.0 640.0,551.3 640.5,552.0 641.0,551.3 641.5,551.8 642.0,551.1 642.5,551.9 643.0,550.6 643.5,552.0 644.0,551.2 644.5,551.9 645.0,551.2 645.5,551.8 646.0,551.2 646.5,551.8 647.0,551.2 647.5,551.9 648.0,551.1 648.5,551.9 649.0,551.2 649.5,551.9 650.0,551.3 650.5,551.9 651.0,551.0 651.5,551.8 652.0,551.4 652.5,552.0 653.0,551.4 653.5,552.0 654.0,551.3 654.5,551.9 655.0,551.2 655.5,552.0 656.0,551.3 656.5,551.9 657.0,551.2 657.5,551.9 658.0,551.1 658.5,552.0 659.0,551.2 659.5,552.0 660.0,551.1 660.5,551.9 661.0,550.8 661.5,551.9 662.0,551.2 662.5,552.0 663.0,551.1 663.5,551.9 664.0,551.2 664.5,551.8 665.0,551.2 665.5,551.9 666.0,551.1 666.5,551.9 667.0,551.2 667.5,552.0 668.0,550.6 668.5,551.9 669.0,551.1 669.5,551.8 670.0,550.6 670.5,551.9 671.0,551.3 671.5,551.9 672.0,551.1 672.5,551.9 673.0,551.1 673.5,551.9 674.0,551.2 674.5,552.0 675.0,551.1 675.5,552.0 676.0,551.1 676.5,551.9 677.0,550.9 677.5,552.0 678.0,551.2 678.5,551.9 679.0,551.2 679.5,551.9 680.0,551.2 680.5,552.0 681.0,551.2 681.5,551.9 682.0,551.3 682.5,551.9 683.0,551.3 683.5,551.9 684.0,551.3 684.5,551.9 685.0,551.4 685.5,551.9 686.0,551.4 686.5,552.0 687.0,551.3 687.5,552.0 688.0,550.7 688.5,551.9 689.0,551.1 689.5,551.9 689.9,550.9 690.0,550.7 690.2,551.1 690.4,551.7 690.5,551.7 690.7,551.6 691.0,551.2 691.0,551.1 691.2,551.0 691.5,550.3 691.5,550.2 691.7,549.2 692.0,547.4 692.3,549.2 692.5,550.2 692.5,550.3 692.8,551.0 693.0,551.1 693.0,551.2 693.3,551.6 693.5,551.7 693.6,551.8 693.8,551.4 694.0,551.2 694.1,551.3 694.5,551.9 695.0,551.2 695.5,551.9 696.0,551.2 696.5,551.9 697.0,551.2 697.5,551.9 698.0,551.1 698.5,551.9 699.0,551.2 699.5,551.8 700.0,550.4 700.5,552.0 701.0,550.8 701.5,551.9 702.0,551.2 702.5,551.9 703.0,550.6 703.5,551.9 703.9,551.3 704.0,551.1 704.2,551.4 704.5,551.3 704.8,550.9 705.0,550.5 705.1,550.2 705.4,549.1 705.5,548.5 705.7,547.2 706.0,544.1 706.3,538.9 706.5,541.5 706.8,544.1 707.0,546.0 707.2,547.2 707.5,548.5 707.6,549.1 708.0,550.0 708.1,550.2 708.5,550.9 708.5,550.9 709.0,551.2 709.5,551.6 709.5,551.6 709.9,551.3 710.0,551.2 710.5,551.9 711.0,551.2 711.5,551.9 712.0,551.4 712.5,552.0 713.0,551.3 713.5,551.9 714.0,550.7 714.5,551.9 715.0,551.2 715.5,551.9 716.0,551.1 716.5,551.9 717.0,551.3 717.5,551.9 718.0,551.3 718.5,551.9 719.0,551.3 719.5,551.9 720.0,551.1 720.5,551.9 721.0,550.5 721.5,551.9 722.0,550.6 722.5,552.0 723.0,551.2 723.5,551.9 724.0,551.2 724.5,552.0 725.0,551.0 725.5,551.9 726.0,550.3 726.5,551.9 727.0,550.8 727.5,552.0 728.0,551.2 728.5,552.0 729.0,551.1 729.5,551.9 730.0,551.2 730.5,551.9 731.0,551.2 731.5,551.8 732.0,550.4 732.5,551.9 733.0,551.1 733.5,552.0 734.0,551.2 734.5,551.9 735.0,551.1 735.5,551.9 736.0,550.5 736.5,551.9 737.0,551.2 737.5,552.0 738.0,551.3 738.5,552.0 739.0,551.3 739.5,551.8 740.0,551.4 740.5,551.9 741.0,551.3 741.5,552.0 742.0,551.3 742.5,551.9 743.0,551.4 743.5,551.9 744.0,551.2 744.5,552.0 745.0,551.2 745.5,551.9 746.0,551.3 746.5,551.8 747.0,551.2 747.5,551.9 748.0,551.0 748.5,551.9 749.0,550.5 749.5,551.9 750.0,551.2 750.5,551.9 751.0,551.1 751.5,551.9 752.0,551.1 752.5,551.9 753.0,550.5 753.5,551.8 754.0,551.2 754.5,551.9 755.0,551.2 755.5,552.0 756.0,551.3 756.5,551.8 757.0,551.2 757.5,551.9 758.0,551.2 758.5,551.8 759.0,551.3 759.5,551.9 760.0,550.8 760.5,551.9 761.0,551.3 761.5,551.9 762.0,551.3 762.5,551.9 763.0,551.1 763.5,551.9 764.0,551.1 764.5,551.9 765.0,551.2 765.5,551.9 766.0,551.2 766.5,552.0 767.0,551.1 767.5,551.9 768.0,551.2 768.5,551.9 769.0,551.3 769.5,551.9 770.0,551.3 770.5,551.9 771.0,551.4 771.5,551.8 772.0,551.3 772.5,552.0 773.0,551.2 773.5,551.9 774.0,551.1 774.5,552.0 775.0,551.0 775.5,551.8 776.0,551.1 776.5,551.9 777.0,551.1 777.5,551.8 778.0,551.1 778.5,551.9 779.0,551.2 779.5,551.9 780.0,551.2 780.5,551.9 781.0,551.1 781.5,552.0 782.0,551.1 782.5,552.0 783.0,551.1 783.5,551.8 784.0,551.2 784.5,551.9 785.0,551.1 785.5,551.8 786.0,550.4 786.5,552.0 787.0,551.0 787.5,551.8 788.0,551.0 788.5,551.9 789.0,550.6 789.5,551.9 790.0,551.0 790.5,551.9 791.0,551.3 791.5,551.9 792.0,551.2 792.5,551.9 793.0,551.1 793.5,551.9 794.0,551.1 794.5,551.9 795.0,551.2 795.5,551.9 796.0,551.3 796.5,551.9 797.0,551.4 797.5,551.8 798.0,551.3 798.5,552.0 799.0,551.4 799.5,551.9 800.0,551.2 800.5,552.0 801.0,551.2 801.5,551.9 802.0,551.3 802.5,551.9 803.0,551.2 803.5,551.9 804.0,551.2 804.5,551.9 805.0,551.3 805.5,551.8 806.0,551.3 806.5,552.0 807.0,551.2 807.5,551.9 808.0,551.3 808.5,552.0 809.0,551.3 809.5,551.9 810.0,551.3 810.5,551.9 811.0,550.6 811.5,551.9 812.0,551.2 812.5,551.9 813.0,551.2 813.5,551.8 814.0,550.4 814.5,552.0 815.0,551.2 815.5,551.8 816.0,551.2 816.5,551.9 817.0,551.3 817.5,552.0 818.0,551.1 818.5,552.0 819.0,551.1 819.5,551.9 820.0,551.2 820.5,551.9 821.0,551.2 821.5,552.0 822.0,551.2 822.5,551.9 823.0,551.1 823.5,551.9 824.0,551.1 824.5,551.8 825.0,551.2 825.5,551.8 826.0,551.3 826.5,551.9 827.0,551.2 827.5,552.0 828.0,551.2 828.5,551.9 829.0,551.4 829.5,551.9 830.0,551.4 830.5,551.9 831.0,551.0 831.5,551.9 832.0,550.6 832.5,552.0 833.0,551.2 833.5,552.0 834.0,551.3 834.5,552.0 835.0,550.5 835.5,552.0 836.0,551.2 836.5,551.9 837.0,551.3 837.5,551.9 838.0,551.3 838.5,552.0 839.0,551.1 839.5,552.0 840.0,550.5 840.5,552.0 841.0,551.3 841.5,551.9 842.0,550.7 842.5,552.0 843.0,550.3 843.5,551.8 844.0,551.3 844.5,552.0 845.0,551.4 845.5,551.9 846.0,551.2 846.5,552.0 847.0,551.2 847.5,552.0 848.0,551.3 848.5,552.0 849.0,551.1 849.5,551.8 850.0,551.1 850.5,551.9 851.0,551.3 851.5,551.9 852.0,551.2 852.5,552.0 853.0,551.1 853.5,551.9 854.0,551.1 854.5,552.0 855.0,551.2 855.5,552.0 856.0,551.3 856.5,551.8 857.0,551.2 857.5,551.8 858.0,551.1 858.5,552.0 859.0,551.1 859.5,552.0 860.0,551.3 860.5,551.8 861.0,551.2 861.5,551.9 862.0,551.3 862.5,551.9 863.0,551.1 863.5,551.9 864.0,551.1 864.5,551.9 865.0,551.0 865.5,551.9 866.0,551.2 866.5,551.8 867.0,551.3 867.5,552.0 868.0,551.2 868.5,551.9 869.0,551.3 869.5,551.8 870.0,551.3 870.5,551.9 871.0,551.2 871.5,551.8 872.0,551.3 872.5,551.9 873.0,551.3 873.5,552.0 874.0,551.2 874.5,551.8 875.0,551.1 875.5,551.9 876.0,551.1 876.5,551.8 877.0,551.1 877.5,551.9 878.0,550.6 878.5,551.8 879.0,551.2 879.5,551.9 880.0,550.9 880.5,551.9 881.0,551.2 881.5,551.9 882.0,551.3 882.5,551.8 883.0,551.3 883.5,552.0 884.0,551.3 884.5,551.9 885.0,551.3 885.5,551.9 885.9,551.5 886.0,551.4 886.2,551.6 886.5,551.5 886.8,551.2 887.0,550.9 887.1,550.6 887.4,549.8 887.5,549.4 887.7,548.3 888.0,545.9 888.3,542.0 888.5,544.8 888.6,545.9 888.9,548.3 889.0,548.9 889.2,549.8 889.5,550.6 889.8,551.2 890.0,551.4 890.1,551.5 890.4,551.7 890.5,551.7 890.7,551.6 891.0,551.2 891.5,551.8 892.0,551.1 892.5,551.9 893.0,551.1 893.5,551.9 894.0,551.1 894.5,551.9 895.0,551.0 895.5,551.9 896.0,551.1 896.5,551.9 897.0,551.1 897.5,551.9 898.0,551.0 898.5,552.0 899.0,551.0 899.5,551.9 900.0,551.0 900.5,551.9 901.0,551.3 901.5,552.0 902.0,551.1 902.5,552.0 903.0,551.1 903.5,551.9 904.0,551.2 904.5,551.9 905.0,551.3 905.5,552.0 906.0,551.1 906.5,551.9 907.0,551.3 907.5,551.9 908.0,550.5 908.5,551.8 909.0,551.2 909.5,551.9 910.0,551.2 910.5,552.0 911.0,551.2 911.5,551.9 912.0,551.1 912.5,551.9 913.0,551.1 913.5,551.9 914.0,551.1 914.5,551.9 915.0,551.2 915.5,552.0 916.0,551.3 916.5,551.9 917.0,551.3 917.5,552.0 918.0,551.4 918.5,552.0 919.0,551.2 919.5,551.9 920.0,551.3 920.5,551.9 921.0,551.2 921.5,551.9 922.0,551.3 922.5,551.9 923.0,551.2 923.5,551.9 924.0,551.1 924.5,551.9 925.0,551.0 925.5,552.0 926.0,550.4 926.5,552.0 927.0,551.1 927.5,552.0 928.0,551.2 928.5,552.0 929.0,551.3 929.5,552.0 930.0,551.2 930.5,551.9 931.0,551.2 931.5,552.0 932.0,551.1 932.5,552.0 933.0,551.2 933.5,551.9 934.0,551.2 934.5,551.9 935.0,551.1 935.5,551.9 936.0,551.2 936.5,551.9 937.0,551.1 937.5,551.9 938.0,551.3 938.5,551.9 939.0,551.3 939.5,552.0 940.0,551.3 940.5,552.0 941.0,551.1 941.5,552.0 942.0,550.7 942.5,551.9 943.0,551.2 943.5,551.9 944.0,551.2 944.5,551.9 945.0,551.2 945.5,552.0 946.0,551.2 946.5,551.8 947.0,550.8 947.5,551.9 948.0,551.2 948.5,552.0 949.0,551.3 949.5,552.0 950.0,551.2 950.5,551.8 951.0,551.2 951.5,551.9 952.0,551.3 952.5,551.9 953.0,550.8 953.5,552.0 954.0,551.3 954.5,551.8 955.0,551.3 955.5,551.9 956.0,550.6 956.5,551.9 957.0,551.3 957.5,552.0 958.0,551.2 958.5,551.8 959.0,550.6 959.5,552.0 960.0,550.5 960.5,551.9 961.0,551.2 961.5,551.9 962.0,551.2 962.5,551.8 963.0,551.2 963.5,552.0 964.0,551.1 964.2,551.5 964.5,551.9 964.5,551.9 964.7,551.6 965.0,551.1 965.0,551.1 965.2,551.5 965.5,551.2 965.5,551.2 965.8,550.7 966.0,550.0 966.0,549.8 966.3,548.4 966.5,549.5 966.6,549.8 966.8,550.7 967.0,551.1 967.1,551.2 967.4,551.5 967.5,551.6 967.6,551.6 967.9,551.1 968.0,550.8 968.1,551.1 968.4,551.7 968.5,551.9 969.0,551.3 969.5,552.0 970.0,551.3 970.5,551.9 971.0,550.5 971.5,552.0 972.0,551.3 972.5,551.8 973.0,551.3 973.5,552.0 974.0,551.3 974.5,551.9 975.0,550.9 975.5,552.0 976.0,551.2 976.5,551.9 977.0,551.2 977.5,551.9 978.0,551.3 978.5,551.9 979.0,551.3 979.5,551.9 980.0,551.4 980.5,551.8 981.0,551.4 981.3,551.7 981.5,551.7 982.0,550.5 982.5,551.5 983.0,551.2 983.5,551.3 983.7,551.2 984.0,551.1 984.5,550.9 984.9,550.7 985.0,550.6 985.5,550.3 986.0,549.8 986.1,549.7 986.5,549.2 987.0,548.4 987.3,547.7 987.5,547.1 988.0,545.0 988.3,543.1 988.5,541.4 988.6,540.1 989.0,535.4 989.0,534.5 989.3,528.4 989.5,521.0 989.6,517.0 989.7,512.3 989.9,499.3 990.0,493.4 990.2,469.9 990.5,435.8 990.6,423.7 990.9,346.0 991.0,367.5 991.3,421.6 991.5,444.3 991.8,468.9 992.0,487.3 992.2,497.2 992.5,511.6 992.6,514.7 993.0,525.4 993.0,525.6 993.4,532.6 993.5,533.5 993.5,533.9 993.9,537.1 994.0,538.3 994.3,540.1 994.5,541.2 995.0,543.2 995.5,544.5 996.0,545.5 996.2,545.7 996.5,546.2 997.0,546.8 997.5,547.3 998.0,547.8 998.5,548.2 998.8,548.4 999.0,548.5 999.5,548.9 1000.0,549.1 1000.5,549.4 1001.0,549.6 1001.5,549.8 1001.5,549.9 1002.0,550.0 1002.5,550.2 1003.0,550.4 1003.5,550.5 1004.0,550.6 1004.1,550.6 1004.4,550.6 1004.5,550.6 1004.7,550.6 1004.9,550.6 1005.0,550.5 1005.2,550.4 1005.5,550.1 1005.5,550.0 1005.7,549.6 1006.0,548.7 1006.0,548.6 1006.2,547.2 1006.5,544.7 1006.7,547.1 1006.8,547.2 1007.0,548.7 1007.0,548.8 1007.3,549.8 1007.5,550.3 1007.5,550.4 1007.8,550.8 1008.0,551.0 1008.1,551.1 1008.3,551.2 1008.5,551.3 1008.6,551.3 1009.0,551.1 1009.4,551.5 1009.5,551.5 1010.0,551.1 1010.5,551.6 1011.0,551.0 1011.5,551.7 1012.0,551.2 1012.0,551.2 1012.5,551.7 1013.0,550.8 1013.5,551.8 1014.0,550.4 1014.5,551.8 1015.0,551.0 1015.5,551.8 1016.0,551.1 1016.5,551.8 1017.0,551.2 1017.5,551.9 1018.0,551.2 1018.5,551.9 1019.0,551.2 1019.5,551.9 1020.0,551.2 1020.5,551.9 1021.0,551.3 1021.5,551.9 1022.0,551.4 1022.5,552.0 1023.0,551.4 1023.5,552.0 1024.0,551.4 1024.5,551.9 1025.0,551.2 1025.5,551.9 1026.0,551.1 1026.5,551.9 1027.0,550.3 1027.5,552.0 1028.0,551.2 1028.5,551.9 1029.0,550.7 1029.5,552.0 1030.0,551.2 1030.5,552.0 1031.0,551.3 1031.5,552.0 1032.0,551.1 1032.5,552.0 1033.0,550.8 1033.5,552.0 1034.0,551.3 1034.5,552.0 1035.0,551.2 1035.5,552.0 1036.0,550.7 1036.5,552.0 1037.0,551.3 1037.5,551.9 1038.0,551.4 1038.5,551.9 1039.0,551.2 1039.5,551.9 1040.0,551.3 1040.5,551.8 1041.0,551.3 1041.5,551.9 1042.0,550.9 1042.5,551.9 1043.0,551.3 1043.5,551.9 1044.0,551.0 1044.5,551.8 1045.0,551.3 1045.5,551.9 1046.0,551.1 1046.5,551.9 1047.0,551.2 1047.5,551.9 1048.0,551.3 1048.5,551.9 1049.0,551.3 1049.5,551.9 1050.0,551.3 1050.5,551.9 1051.0,551.3 1051.5,551.9 1052.0,550.8 1052.5,551.9 1053.0,551.2 1053.5,551.8 1054.0,551.2 1054.5,551.8 1055.0,551.3 1055.5,552.0 1056.0,551.2 1056.5,551.9 1057.0,551.1 1057.5,551.9 1058.0,551.2 1058.5,552.0 1059.0,551.3 1059.5,552.0 1060.0,551.2 1060.5,551.8 1061.0,550.4 1061.5,551.9 1062.0,550.6 1062.5,551.9 1063.0,551.2 1063.5,551.9 1064.0,551.3 1064.5,551.9 1065.0,551.3 1065.5,552.0 1066.0,550.8 1066.5,551.9 1067.0,551.2 1067.5,551.8 1068.0,551.2 1068.5,551.9 1069.0,551.2 1069.5,551.9 1070.0,551.2 1070.5,552.0 1071.0,551.2 1071.5,552.0 1072.0,550.6 1072.5,551.8 1073.0,551.3 1073.5,552.0 1074.0,551.4 1074.5,551.8 1075.0,551.3 1075.5,551.9 1076.0,551.2 1076.5,551.9 1077.0,551.2 1077.5,551.9 1078.0,551.1 1078.5,551.9 1079.0,550.7 1079.5,551.9 1080.0,551.1 1080.5,552.0 1081.0,551.1 1081.5,551.9 1082.0,550.6 1082.5,552.0 1083.0,551.1 1083.5,552.0 1084.0,551.1 1084.5,551.9 1085.0,551.2 1085.5,552.0 1086.0,551.1 1086.5,551.9 1087.0,551.0 1087.5,551.9 1088.0,551.1 1088.5,551.9 1089.0,551.1 1089.5,551.9 1090.0,550.5 1090.5,551.9 1091.0,551.3 1091.5,551.9 1092.0,551.2 1092.5,551.9 1093.0,551.2 1093.5,551.9 1094.0,551.1 1094.5,551.8 1095.0,551.1 1095.5,551.9 1096.0,551.2 1096.5,552.0 1097.0,551.1 1097.5,552.0 1098.0,551.3 1098.5,551.9 1099.0,551.2 1099.5,552.0 1100.0,551.2 1100.5,551.9 1101.0,551.3 1101.5,551.8 1102.0,551.3 1102.5,551.9 1103.0,551.2 1103.5,551.9 1104.0,551.1 1104.5,551.9 1105.0,551.3 1105.5,551.9 1106.0,551.3 1106.5,551.9 1107.0,551.2 1107.5,552.0 1108.0,550.7 1108.5,551.8 1109.0,551.3 1109.5,552.0 1110.0,551.2 1110.5,551.9 1111.0,551.1 1111.5,551.9 1112.0,550.4 1112.5,551.9 1113.0,551.1 1113.5,551.9 1114.0,551.3 1114.5,551.9 1115.0,551.2 1115.5,551.9 1116.0,551.2 1116.5,552.0 1117.0,551.2 1117.5,551.9 1118.0,551.3 1118.5,551.9 1119.0,551.2 1119.5,551.9 1120.0,551.2 1120.5,551.9 1121.0,551.3 1121.5,551.8 1122.0,551.2 1122.5,552.0 1123.0,551.1 1123.5,551.9 1124.0,550.6 1124.5,551.9 1125.0,551.1 1125.5,551.8 1126.0,551.2 1126.5,551.8 1127.0,551.3 1127.5,551.9 1128.0,551.1 1128.5,551.9 1129.0,551.2 1129.5,551.9 1130.0,551.2 1130.5,551.9 1131.0,551.2 1131.5,551.9 1132.0,550.9 1132.5,551.9 1133.0,551.2 1133.5,551.9 1134.0,551.2 1134.5,551.9 1135.0,551.2 1135.5,552.0 1136.0,551.1 1136.5,551.8 1137.0,551.2 1137.5,551.9 1138.0,551.1 1138.5,552.0 1139.0,551.3 1139.5,551.9 1140.0,552.0 1140.5,552.0 1141.0,552.0 1141.5,552.0 1142.0,552.0 1142.5,552.0 1143.0,552.0 1143.5,552.0 1144.0,552.0 1144.5,552.0 1144.6,552.0" fill="none" stroke="#1e1b1b" stroke-width="2.00" stroke-linejoin="round"/>
<text x="118.0" y="623.9" font-size="43.00">C</text>
<text x="242.6" y="663.0" font-size="31.33">3 h</text>
<text x="455.8" y="683.5" font-size="19.40" style="font-weight:normal" stroke="#231f20" stroke-width="0.80">H2a</text>
<text x="492.1" y="672.5" font-size="13.50" style="font-weight:normal" stroke="#231f20" stroke-width="0.50">2+</text>
<path d="M465.2 688.5V711.0" stroke="#231f20" stroke-width="1.8" fill="none"/>
<path d="M458.7 709.0L471.7 709.0L465.2 719.8Z" fill="#231f20"/>
<text x="679.6" y="687.4" font-size="18.65" style="font-weight:normal" stroke="#231f20" stroke-width="0.85">10228.0</text>
<path d="M710.2 699.0V721.3" stroke="#231f20" stroke-width="1.8" fill="none"/>
<path d="M703.9 719.3L716.5 719.3L710.2 730.6Z" fill="#231f20"/>
<text x="631.9" y="716.9" font-size="18.64" style="font-weight:normal" stroke="#231f20" stroke-width="0.85">10042.6</text>
<path d="M696.8 723.3V733.5" stroke="#231f20" stroke-width="1.8" fill="none"/>
<path d="M690.5 731.5L703.1 731.5L696.8 742.8Z" fill="#231f20"/>
<text x="718.3" y="723.9" font-size="18.37" style="font-weight:normal" stroke="#231f20" stroke-width="0.85">10497</text>
<path d="M731.5 728.5V759.4" stroke="#231f20" stroke-width="1.8" fill="none"/>
<path d="M725.5 757.4L737.5 757.4L731.5 768.0Z" fill="#231f20"/>
<text x="735.1" y="743.7" font-size="17.95" style="font-weight:normal" stroke="#231f20" stroke-width="0.85">10610</text>
<path d="M740.9 749.8V761.0" stroke="#231f20" stroke-width="1.8" fill="none"/>
<path d="M734.9 759.0L746.9 759.0L740.9 769.6Z" fill="#231f20"/>
<text x="756.3" y="764.4" font-size="18.36" style="font-weight:normal" stroke="#231f20" stroke-width="0.85">10766</text>
<path d="M751.5 754.3V764.0" stroke="#231f20" stroke-width="1.8" fill="none"/>
<path d="M745.5 762.0L757.5 762.0L751.5 772.6Z" fill="#231f20"/>
<text x="802.9" y="744.6" font-size="18.59" style="font-weight:normal" stroke="#231f20" stroke-width="0.85">11857</text>
<path d="M834.3 748.3V757.9" stroke="#231f20" stroke-width="1.8" fill="none"/>
<path d="M828.3 755.9L840.3 755.9L834.3 766.5Z" fill="#231f20"/>
<text x="830.3" y="724.8" font-size="18.59" style="font-weight:normal" stroke="#231f20" stroke-width="0.85">12172</text>
<path d="M858.7 729.4V756.3" stroke="#231f20" stroke-width="1.8" fill="none"/>
<path d="M852.7 754.3L864.7 754.3L858.7 766.5Z" fill="#231f20"/>
<text x="857.7" y="701.1" font-size="18.50" style="font-weight:normal" stroke="#231f20" stroke-width="0.85">12629.1</text>
<path d="M893.7 705.6V739.6" stroke="#231f20" stroke-width="1.8" fill="none"/>
<path d="M887.4 737.6L900.0 737.6L893.7 749.8Z" fill="#231f20"/>
<text x="998.0" y="587.4" font-size="20.66" style="font-weight:normal" stroke="#231f20" stroke-width="0.80">H2a</text>
<text x="1034.5" y="572.0" font-size="13.00" style="font-weight:normal" stroke="#231f20" stroke-width="0.50">1+</text>
<polyline points="84.0,780.2 84.5,780.2 85.0,780.2 85.5,780.2 86.0,780.2 86.5,780.2 87.0,780.2 87.5,780.2 88.0,780.2 88.5,780.2 89.0,780.2 89.5,780.2 90.0,780.2 90.5,780.2 91.0,780.2 91.5,780.1 92.0,780.1 92.5,780.1 93.0,780.1 93.5,780.1 94.0,780.1 94.5,780.1 95.0,780.1 95.5,780.1 96.0,780.1 96.5,780.1 97.0,780.1 97.5,780.1 98.0,780.1 98.5,780.1 99.0,780.1 99.5,780.1 100.0,780.1 100.5,780.1 101.0,780.1 101.5,780.1 102.0,780.1 102.5,780.1 103.0,780.1 103.5,780.1 104.0,780.1 104.5,780.1 105.0,780.1 105.5,780.1 106.0,780.1 106.5,780.1 107.0,780.1 107.5,780.1 108.0,780.1 108.5,780.0 109.0,780.0 109.5,780.0 110.0,780.0 110.5,780.0 111.0,780.0 111.5,780.0 112.0,780.0 112.5,780.0 113.0,780.0 113.5,780.0 114.0,780.0 114.5,780.0 115.0,780.0 115.5,780.0 116.0,780.0 116.5,780.0 117.0,780.0 117.5,780.0 118.0,780.0 118.5,780.0 119.0,780.0 119.5,780.0 120.0,780.0 120.5,780.0 121.0,780.0 121.5,780.0 122.0,780.0 122.5,780.0 123.0,780.0 123.5,780.0 124.0,780.0 124.5,780.0 125.0,778.9 125.5,779.8 126.0,778.4 126.5,779.7 127.0,778.9 127.5,779.7 128.0,778.9 128.5,779.8 129.0,778.8 129.5,779.8 130.0,778.6 130.5,779.7 131.0,777.6 131.5,779.8 132.0,777.6 132.5,779.8 133.0,778.7 133.5,779.7 134.0,778.6 134.5,779.7 135.0,778.7 135.5,779.7 136.0,778.3 136.5,779.6 137.0,778.8 137.5,779.8 138.0,778.8 138.5,779.8 139.0,778.7 139.5,779.6 140.0,778.7 140.5,779.6 141.0,778.5 141.5,779.8 142.0,778.5 142.5,779.6 143.0,778.6 143.5,779.8 144.0,778.5 144.5,779.8 145.0,778.8 145.5,779.6 146.0,778.9 146.5,779.7 147.0,778.9 147.5,779.6 148.0,777.7 148.5,779.8 149.0,778.6 149.5,779.6 150.0,778.4 150.5,779.5 151.0,777.7 151.5,779.8 152.0,778.8 152.5,779.6 153.0,777.7 153.5,779.7 154.0,778.5 154.5,779.7 155.0,778.6 155.5,779.6 156.0,778.6 156.5,779.6 157.0,778.4 157.5,779.6 158.0,778.4 158.5,779.6 159.0,778.3 159.5,779.6 160.0,778.6 160.5,779.5 161.0,778.8 161.5,779.5 162.0,778.8 162.5,779.6 163.0,778.6 163.5,779.5 164.0,778.0 164.5,779.5 165.0,778.3 165.5,779.5 166.0,778.4 166.5,779.5 167.0,778.5 167.5,779.5 168.0,778.6 168.5,779.4 169.0,778.7 169.5,779.4 170.0,778.7 170.5,779.4 171.0,778.7 171.5,779.5 172.0,777.8 172.5,779.5 173.0,778.3 173.5,779.3 174.0,778.5 174.5,779.4 175.0,778.3 175.5,779.5 176.0,778.5 176.5,779.5 177.0,778.3 177.5,779.5 178.0,778.4 178.5,779.3 179.0,778.3 179.5,779.5 180.0,778.4 180.5,779.4 181.0,778.4 181.5,779.4 182.0,778.4 182.5,779.4 183.0,778.6 183.5,779.2 184.0,778.3 184.5,779.2 185.0,778.1 185.5,779.3 186.0,778.1 186.5,779.3 187.0,778.3 187.5,779.4 188.0,778.5 188.5,779.3 189.0,777.0 189.5,779.2 190.0,778.1 190.5,779.2 191.0,777.1 191.5,779.3 192.0,778.3 192.5,779.2 193.0,778.3 193.5,779.2 194.0,778.3 194.5,779.1 195.0,778.3 195.5,779.3 196.0,778.4 196.5,779.1 197.0,778.4 197.5,779.1 198.0,778.2 198.5,779.3 199.0,778.1 199.5,779.3 200.0,778.2 200.5,779.2 201.0,778.2 201.5,779.1 202.0,777.9 202.5,779.2 203.0,778.4 203.5,779.0 204.0,778.5 204.5,779.2 205.0,778.4 205.5,779.1 206.0,778.2 206.5,779.2 207.0,777.3 207.5,779.0 208.0,777.6 208.5,779.1 209.0,778.1 209.5,779.1 210.0,778.0 210.5,779.1 211.0,778.1 211.5,779.0 212.0,778.1 212.5,779.1 213.0,778.2 213.5,779.0 214.0,778.3 214.5,779.0 215.0,778.0 215.5,779.0 216.0,777.8 216.5,779.1 217.0,776.8 217.5,779.0 218.0,777.8 218.5,778.9 219.0,777.8 219.5,779.1 220.0,777.3 220.5,778.9 221.0,777.6 221.5,778.9 222.0,777.0 222.5,779.0 223.0,777.9 223.5,778.8 224.0,777.7 224.5,778.8 225.0,778.0 225.5,778.9 226.0,776.8 226.5,778.8 227.0,778.1 227.5,778.9 228.0,777.8 228.5,779.0 229.0,778.0 229.5,778.8 230.0,778.0 230.5,778.9 231.0,778.0 231.5,779.0 232.0,777.9 232.5,778.9 233.0,777.8 233.5,778.8 234.0,777.7 234.5,778.8 235.0,777.8 235.5,778.7 236.0,776.9 236.5,778.7 237.0,777.9 237.5,778.7 238.0,777.9 238.5,778.9 239.0,777.8 239.5,778.8 240.0,777.7 240.5,778.8 241.0,777.7 241.5,778.7 242.0,777.7 242.5,778.8 243.0,777.9 243.5,778.8 244.0,777.9 244.5,778.8 245.0,776.4 245.5,778.7 246.0,777.7 246.5,778.6 247.0,777.6 247.5,778.7 248.0,777.5 248.5,778.7 249.0,777.5 249.5,778.7 250.0,777.7 250.5,778.6 251.0,777.6 251.5,778.6 252.0,777.8 252.5,778.7 253.0,777.8 253.5,778.6 254.0,777.6 254.5,778.6 255.0,777.7 255.5,778.6 256.0,776.7 256.5,778.7 257.0,777.8 257.5,778.6 258.0,778.0 258.5,778.7 259.0,777.8 259.5,778.7 260.0,777.6 260.5,778.7 261.0,777.8 261.5,778.6 262.0,777.9 262.5,778.6 263.0,778.0 263.5,778.7 264.0,777.7 264.5,778.7 265.0,777.6 265.5,778.6 266.0,777.8 266.5,778.6 267.0,777.7 267.5,778.8 268.0,777.7 268.5,778.6 269.0,777.6 269.5,778.8 270.0,777.6 270.5,778.8 271.0,777.5 271.5,778.8 272.0,776.7 272.5,778.6 273.0,777.5 273.5,778.7 274.0,777.6 274.5,778.8 275.0,777.8 275.5,778.6 276.0,777.8 276.5,778.7 277.0,777.8 277.5,778.6 278.0,778.0 278.5,778.8 279.0,777.7 279.5,778.7 280.0,777.8 280.5,778.6 281.0,777.8 281.5,778.8 282.0,777.4 282.5,778.6 283.0,777.7 283.5,778.8 284.0,777.7 284.5,778.6 285.0,777.6 285.5,778.8 286.0,777.7 286.5,778.7 287.0,777.7 287.5,778.8 288.0,776.5 288.5,778.6 289.0,777.5 289.5,778.7 290.0,777.6 290.5,778.6 291.0,777.6 291.5,778.6 292.0,777.7 292.5,778.7 293.0,777.9 293.5,778.7 294.0,777.8 294.5,778.7 295.0,777.9 295.5,778.8 296.0,777.8 296.5,778.7 297.0,777.7 297.5,778.6 298.0,777.9 298.5,778.7 299.0,778.0 299.5,778.8 300.0,778.0 300.5,778.6 301.0,778.0 301.5,778.7 302.0,778.0 302.5,778.7 303.0,777.7 303.5,778.7 304.0,777.8 304.5,778.6 305.0,777.6 305.5,778.7 306.0,777.3 306.5,778.8 307.0,777.8 307.5,778.7 308.0,777.7 308.5,778.8 309.0,777.7 309.5,778.7 310.0,777.6 310.5,778.8 311.0,777.5 311.5,778.8 311.6,778.6 311.9,777.8 312.0,777.7 312.3,778.3 312.5,778.4 312.6,778.3 312.9,777.4 313.0,777.2 313.3,777.4 313.5,776.9 313.6,776.5 314.0,774.9 314.0,774.7 314.3,772.3 314.5,774.0 314.6,774.9 315.0,776.5 315.0,776.5 315.3,777.4 315.5,777.8 315.6,778.0 316.0,777.5 316.0,777.5 316.3,778.4 316.5,778.6 316.7,778.4 317.0,777.5 317.5,778.8 318.0,777.9 318.5,778.9 319.0,777.8 319.5,778.9 320.0,777.6 320.5,778.9 321.0,777.7 321.5,778.7 322.0,777.3 322.5,778.7 323.0,777.9 323.5,778.8 324.0,777.6 324.5,778.8 325.0,777.8 325.5,778.7 326.0,776.8 326.5,778.6 327.0,777.3 327.5,778.9 328.0,777.5 328.5,778.7 329.0,777.7 329.5,778.6 330.0,777.7 330.5,778.7 331.0,776.9 331.5,778.7 332.0,776.8 332.5,778.7 333.0,777.8 333.5,778.8 334.0,777.7 334.5,778.8 335.0,777.6 335.5,778.7 336.0,777.7 336.5,778.8 337.0,777.8 337.5,778.7 338.0,777.8 338.5,778.9 339.0,777.7 339.5,778.7 340.0,777.8 340.5,778.9 341.0,776.9 341.5,778.7 342.0,777.1 342.5,778.7 343.0,777.7 343.5,778.7 344.0,777.7 344.5,778.7 345.0,777.8 345.5,778.9 346.0,777.8 346.5,778.9 347.0,777.3 347.5,778.7 348.0,777.4 348.5,778.7 349.0,777.2 349.5,778.7 350.0,777.9 350.5,778.8 351.0,777.7 351.5,778.7 352.0,777.7 352.5,778.9 353.0,777.9 353.5,778.9 354.0,778.1 354.5,778.9 355.0,777.0 355.5,778.9 356.0,777.6 356.5,778.8 357.0,777.6 357.5,778.8 358.0,777.7 358.5,778.9 359.0,777.6 359.5,778.7 360.0,777.8 360.5,778.8 361.0,777.0 361.5,778.8 362.0,777.9 362.5,778.7 363.0,777.9 363.5,778.8 364.0,778.0 364.5,778.7 365.0,778.0 365.5,778.9 366.0,778.0 366.5,778.7 367.0,777.8 367.5,778.7 368.0,777.8 368.5,778.8 369.0,777.8 369.5,778.7 370.0,777.6 370.5,778.7 371.0,777.8 371.5,778.7 372.0,777.9 372.5,778.9 373.0,778.0 373.5,778.9 374.0,777.9 374.5,778.9 375.0,777.8 375.5,778.8 376.0,777.9 376.5,778.7 377.0,777.3 377.5,778.8 378.0,778.0 378.5,778.7 379.0,777.8 379.5,778.7 380.0,777.7 380.5,778.9 381.0,777.8 381.5,778.8 382.0,777.8 382.5,778.7 383.0,777.9 383.5,778.7 384.0,777.7 384.5,778.9 385.0,777.1 385.5,778.8 386.0,777.7 386.5,778.9 387.0,777.9 387.5,778.8 388.0,777.7 388.5,778.7 389.0,777.9 389.5,779.0 390.0,777.9 390.5,778.9 391.0,777.2 391.5,778.9 392.0,777.7 392.5,778.9 393.0,778.0 393.5,778.8 394.0,777.8 394.5,778.8 395.0,776.9 395.5,778.8 396.0,777.9 396.5,778.8 397.0,778.0 397.5,779.0 398.0,777.8 398.5,778.7 399.0,777.9 399.5,778.7 400.0,777.7 400.5,778.9 401.0,777.8 401.5,778.9 402.0,777.7 402.5,778.8 403.0,777.8 403.5,778.9 404.0,777.7 404.5,778.7 405.0,777.9 405.5,778.8 406.0,777.9 406.5,778.8 407.0,777.7 407.5,779.0 408.0,777.8 408.5,778.8 409.0,777.9 409.5,778.7 410.0,778.0 410.5,778.9 411.0,777.9 411.5,778.7 411.6,778.6 411.9,778.1 412.0,777.8 412.1,778.1 412.4,778.4 412.5,778.3 412.6,778.0 412.9,777.4 413.0,777.1 413.2,776.4 413.4,774.7 413.5,774.2 413.7,772.0 414.0,774.7 414.0,775.0 414.2,776.4 414.5,777.4 414.5,777.5 414.8,778.0 415.0,777.7 415.0,777.8 415.3,778.4 415.5,778.8 415.5,778.8 415.8,777.9 416.0,777.3 416.5,778.7 417.0,778.0 417.5,778.9 418.0,778.1 418.5,778.8 419.0,777.9 419.5,778.8 420.0,778.1 420.5,778.7 421.0,778.1 421.5,778.9 422.0,778.1 422.5,779.0 423.0,778.1 423.5,779.0 424.0,777.8 424.5,778.7 425.0,777.8 425.5,779.0 426.0,778.0 426.2,778.4 426.4,778.7 426.5,778.6 426.6,778.4 426.9,778.1 427.0,777.8 427.1,777.5 427.3,776.5 427.5,775.3 427.6,774.8 427.8,772.2 428.0,767.7 428.2,772.2 428.4,774.8 428.5,775.3 428.7,776.5 428.9,777.5 429.0,777.3 429.1,777.7 429.4,778.3 429.5,778.6 429.6,778.6 429.8,778.0 430.0,777.5 430.5,779.0 431.0,778.0 431.5,779.0 432.0,778.1 432.5,778.7 433.0,777.8 433.5,778.9 434.0,777.6 434.5,778.8 435.0,777.1 435.5,778.8 436.0,777.7 436.5,778.9 437.0,777.8 437.5,778.9 438.0,777.7 438.2,778.2 438.4,778.7 438.5,778.7 438.6,778.5 438.9,777.9 439.0,777.6 439.1,777.9 439.3,777.2 439.5,776.4 439.6,776.1 439.8,774.2 440.0,771.0 440.2,774.2 440.4,776.1 440.5,776.4 440.7,777.2 440.9,777.9 441.0,777.8 441.1,778.1 441.4,778.6 441.5,778.7 441.6,778.8 441.8,778.2 442.0,777.7 442.5,778.8 443.0,776.8 443.5,778.8 444.0,777.7 444.5,778.9 445.0,776.8 445.5,778.9 446.0,777.9 446.5,778.9 447.0,777.9 447.5,778.9 448.0,778.0 448.5,778.8 449.0,777.8 449.5,778.8 450.0,777.9 450.5,779.0 451.0,778.1 451.5,778.8 452.0,778.0 452.1,778.2 452.4,778.7 452.5,778.8 452.8,778.4 453.0,777.8 453.1,778.1 453.5,778.4 453.6,778.3 453.9,778.0 454.0,777.8 454.2,777.4 454.5,776.8 454.6,776.4 455.0,774.8 455.1,775.3 455.4,776.4 455.5,776.7 455.8,777.3 456.0,777.7 456.1,777.8 456.5,778.2 456.6,778.2 456.9,777.2 457.0,776.7 457.2,777.8 457.5,778.4 457.6,778.4 457.8,778.2 458.0,777.7 458.1,777.9 458.5,778.4 459.0,777.8 459.3,778.2 459.5,778.1 459.6,778.1 460.0,777.7 460.5,777.6 460.8,777.4 461.0,777.2 461.1,777.0 461.3,776.8 461.5,776.4 461.6,776.1 462.0,775.1 462.3,773.8 462.4,773.6 462.5,772.7 462.6,772.0 462.7,771.2 463.0,768.0 463.1,767.4 463.4,761.3 463.5,758.9 463.8,751.4 463.8,749.5 464.0,740.7 464.1,735.2 464.5,749.7 464.6,751.4 465.0,760.8 465.0,761.0 465.3,765.1 465.5,767.0 465.5,767.3 465.9,770.5 466.0,771.0 466.1,771.2 466.4,772.6 466.5,773.0 466.8,773.7 466.8,773.7 467.0,774.0 467.3,774.1 467.4,774.1 467.5,774.0 467.7,773.8 467.7,773.7 468.0,773.1 468.1,772.9 468.3,771.9 468.4,771.3 468.5,770.6 468.8,768.5 469.0,765.3 469.1,763.7 469.4,755.9 469.5,754.4 469.8,743.0 469.9,748.1 470.0,749.6 470.2,756.0 470.5,760.9 470.7,764.2 471.0,767.6 471.2,769.2 471.5,771.6 471.6,772.3 471.8,773.0 471.9,773.6 472.0,774.0 472.1,774.3 472.5,775.5 472.5,775.6 473.0,776.4 473.0,776.4 473.4,777.0 473.5,777.0 473.7,777.2 473.9,777.3 474.0,777.4 474.5,777.7 475.0,777.9 475.5,778.1 475.6,778.1 475.8,778.2 476.0,778.2 476.5,778.3 477.0,777.4 477.5,778.5 477.6,778.5 477.8,778.4 478.0,777.9 478.5,778.6 479.0,778.0 479.5,778.7 479.6,778.7 479.7,778.5 480.0,777.8 480.5,778.8 481.0,778.0 481.5,778.9 482.0,777.8 482.5,778.9 483.0,778.0 483.4,778.8 483.5,778.9 484.0,777.8 484.5,779.0 485.0,777.7 485.4,778.7 485.5,778.9 486.0,777.9 486.5,778.8 487.0,778.1 487.5,778.9 488.0,778.1 488.5,778.8 489.0,777.9 489.5,779.0 490.0,778.1 490.5,779.0 491.0,778.1 491.5,779.0 492.0,777.9 492.5,779.0 493.0,777.8 493.5,779.0 494.0,777.1 494.5,779.0 495.0,777.8 495.5,779.1 496.0,777.9 496.5,779.0 497.0,778.0 497.5,778.9 498.0,777.5 498.5,779.0 499.0,778.0 499.5,778.9 500.0,778.1 500.5,778.9 501.0,778.2 501.5,779.0 502.0,778.0 502.5,778.9 503.0,776.9 503.5,778.9 504.0,778.0 504.5,779.0 505.0,777.8 505.5,779.0 506.0,777.8 506.5,779.0 507.0,777.7 507.5,779.0 508.0,777.7 508.5,778.9 509.0,776.9 509.5,778.9 510.0,777.9 510.5,778.9 511.0,778.0 511.5,778.9 512.0,777.8 512.5,779.1 513.0,777.8 513.5,779.0 514.0,777.7 514.5,779.0 515.0,777.6 515.5,778.9 516.0,776.9 516.5,778.9 517.0,778.0 517.5,778.9 518.0,778.1 518.5,779.0 519.0,777.2 519.5,779.0 520.0,777.9 520.5,779.0 521.0,778.1 521.5,779.0 522.0,777.4 522.5,779.1 523.0,778.1 523.5,779.1 524.0,778.0 524.5,778.9 525.0,778.0 525.5,779.1 526.0,778.1 526.5,778.9 527.0,778.2 527.5,779.0 528.0,778.1 528.5,778.9 529.0,778.2 529.5,779.0 530.0,778.2 530.5,778.9 531.0,778.0 531.5,778.9 532.0,778.1 532.5,778.9 533.0,778.2 533.5,778.9 534.0,778.2 534.5,779.1 535.0,778.0 535.5,779.0 536.0,778.1 536.5,778.9 537.0,778.0 537.5,779.0 538.0,777.9 538.5,779.0 539.0,777.9 539.5,779.1 540.0,778.1 540.5,779.1 541.0,777.9 541.5,778.9 542.0,777.8 542.5,779.0 543.0,778.1 543.5,778.9 544.0,777.9 544.5,779.1 545.0,777.7 545.5,779.0 546.0,776.9 546.5,779.0 547.0,777.8 547.5,779.1 548.0,777.9 548.5,779.1 549.0,777.0 549.5,779.0 550.0,778.1 550.5,779.0 551.0,778.2 551.5,779.1 552.0,778.2 552.5,779.1 553.0,778.3 553.5,779.1 554.0,776.8 554.5,779.0 555.0,777.9 555.5,779.0 556.0,778.0 556.5,779.0 557.0,777.9 557.5,779.1 558.0,777.3 558.5,779.0 559.0,778.0 559.5,779.1 560.0,777.5 560.5,779.1 561.0,778.1 561.5,778.9 562.0,778.0 562.5,779.0 563.0,778.0 563.5,779.1 564.0,778.2 564.5,779.0 565.0,778.3 565.5,779.0 566.0,778.1 566.5,779.1 567.0,777.9 567.5,779.1 568.0,776.9 568.5,779.0 569.0,778.0 569.5,779.0 570.0,778.2 570.5,779.2 571.0,778.0 571.5,778.9 572.0,778.2 572.5,779.1 573.0,778.1 573.5,779.1 574.0,778.2 574.5,779.1 575.0,776.7 575.5,779.1 576.0,778.2 576.5,779.0 577.0,778.0 577.5,779.0 578.0,778.2 578.5,779.0 579.0,777.5 579.5,779.0 580.0,777.8 580.5,779.0 581.0,777.9 581.5,779.0 582.0,777.3 582.5,779.0 583.0,778.1 583.5,779.1 584.0,778.1 584.5,779.0 585.0,777.9 585.5,779.1 586.0,777.4 586.5,779.0 587.0,778.0 587.5,779.1 588.0,778.2 588.5,779.0 589.0,778.2 589.5,779.0 590.0,778.2 590.5,779.2 591.0,778.0 591.5,779.1 592.0,778.0 592.5,779.1 593.0,778.1 593.5,779.0 594.0,778.0 594.5,779.2 595.0,777.9 595.5,779.1 596.0,778.0 596.5,779.1 597.0,778.1 597.5,779.0 598.0,777.9 598.5,779.0 599.0,777.9 599.5,778.9 600.0,778.1 600.5,779.0 601.0,778.2 601.5,778.9 602.0,778.2 602.5,779.0 603.0,777.6 603.5,779.0 604.0,778.2 604.5,779.1 605.0,777.9 605.5,779.2 606.0,777.8 606.5,779.1 607.0,777.8 607.5,779.2 608.0,777.8 608.5,779.1 609.0,777.7 609.5,779.0 610.0,778.0 610.5,779.1 611.0,778.0 611.5,779.1 612.0,778.0 612.5,779.0 613.0,777.9 613.5,779.0 614.0,778.2 614.5,779.2 615.0,778.3 615.5,779.0 616.0,778.0 616.5,779.2 617.0,776.9 617.5,779.1 618.0,778.2 618.5,779.2 619.0,778.0 619.5,779.0 620.0,778.2 620.5,779.1 621.0,778.2 621.5,779.1 622.0,777.3 622.5,779.2 623.0,778.0 623.5,779.2 624.0,777.4 624.5,779.1 625.0,778.1 625.5,779.1 626.0,778.1 626.5,779.1 627.0,778.0 627.5,779.2 628.0,778.2 628.5,779.1 629.0,778.2 629.5,779.0 630.0,778.2 630.5,779.1 631.0,778.3 631.5,779.1 632.0,778.2 632.5,779.1 633.0,778.1 633.5,779.0 634.0,778.2 634.5,779.2 635.0,778.1 635.5,779.2 636.0,778.1 636.5,779.0 637.0,777.9 637.5,779.2 638.0,777.0 638.5,779.1 639.0,778.0 639.5,779.0 640.0,778.0 640.5,779.1 641.0,778.2 641.5,779.2 642.0,778.3 642.5,779.2 643.0,777.6 643.5,779.1 644.0,778.3 644.5,779.0 645.0,778.3 645.5,779.0 646.0,778.2 646.5,779.1 647.0,778.3 647.5,779.1 648.0,778.0 648.5,779.1 649.0,778.2 649.5,779.1 650.0,778.2 650.5,779.2 651.0,778.1 651.5,779.0 652.0,778.2 652.5,779.2 653.0,778.0 653.5,779.1 654.0,778.0 654.5,779.2 655.0,778.2 655.5,779.0 656.0,777.0 656.5,779.1 657.0,778.1 657.5,779.0 658.0,778.2 658.5,779.2 659.0,778.2 659.5,779.2 660.0,778.0 660.5,779.1 661.0,778.0 661.5,779.1 662.0,778.1 662.5,779.1 663.0,778.0 663.5,779.1 664.0,778.1 664.5,779.2 665.0,778.1 665.5,779.1 666.0,778.3 666.5,779.2 667.0,778.2 667.5,779.3 668.0,778.3 668.5,779.0 669.0,778.2 669.5,779.2 670.0,778.1 670.5,779.1 671.0,778.3 671.5,779.1 672.0,778.4 672.5,779.2 673.0,778.4 673.5,779.1 674.0,778.3 674.5,779.1 675.0,777.4 675.5,779.2 676.0,778.2 676.5,779.3 677.0,778.4 677.5,779.3 678.0,778.1 678.5,779.2 679.0,778.0 679.5,779.3 680.0,778.0 680.5,779.0 681.0,778.2 681.5,779.2 682.0,778.0 682.5,779.1 683.0,778.2 683.5,779.1 684.0,778.4 684.5,779.1 685.0,778.1 685.5,779.1 686.0,777.9 686.5,779.2 687.0,778.2 687.5,779.1 688.0,778.3 688.5,779.2 689.0,778.1 689.5,779.1 690.0,777.4 690.5,779.2 691.0,778.1 691.5,779.1 692.0,778.0 692.5,779.1 693.0,778.2 693.5,779.1 694.0,778.0 694.4,778.7 694.5,778.6 694.7,778.4 695.0,777.8 695.3,776.9 695.5,775.9 695.6,775.3 695.9,772.7 696.0,771.5 696.2,768.4 696.5,761.4 696.8,749.8 697.0,758.1 697.1,761.4 697.4,768.4 697.5,770.1 697.7,772.7 698.0,775.3 698.3,776.8 698.5,777.5 698.6,777.8 698.9,778.2 699.0,778.0 699.2,778.5 699.5,778.9 700.0,777.9 700.5,779.0 701.0,778.0 701.5,779.1 702.0,778.0 702.5,779.1 703.0,778.1 703.5,779.0 704.0,778.2 704.5,778.8 705.0,778.2 705.5,778.6 706.0,778.2 706.5,778.3 707.0,778.0 707.5,777.6 707.8,777.2 708.0,776.9 708.2,776.6 708.5,775.8 708.6,775.6 709.0,774.0 709.4,771.6 709.5,770.8 709.8,767.8 710.0,765.2 710.2,761.7 710.5,754.8 710.6,751.9 711.0,735.8 711.3,745.8 711.5,751.0 711.5,751.4 711.6,754.0 712.0,759.8 712.0,760.0 712.0,760.5 712.3,763.4 712.5,764.8 712.6,765.1 712.6,765.5 713.0,765.9 713.0,765.9 713.0,765.9 713.1,765.7 713.3,764.3 713.5,762.5 713.6,761.1 713.7,760.1 714.0,751.9 714.1,756.0 714.3,761.9 714.5,765.2 714.6,767.5 714.7,767.9 714.9,770.8 715.0,771.7 715.0,771.8 715.2,773.0 715.4,774.3 715.5,775.0 715.7,775.8 716.0,776.7 716.0,776.7 716.4,777.4 716.5,777.6 716.7,777.8 716.9,778.0 717.0,778.1 717.5,778.4 718.0,778.1 718.5,778.7 718.8,778.6 719.0,778.2 719.5,778.9 720.0,778.1 720.5,779.0 720.8,778.7 721.0,778.3 721.5,779.1 722.0,778.2 722.5,779.1 722.7,778.9 723.0,778.3 723.5,779.2 724.0,778.3 724.5,779.2 724.6,778.9 725.0,778.1 725.5,779.3 726.0,777.4 726.5,779.2 726.6,779.0 727.0,778.3 727.5,779.1 728.0,778.2 728.5,779.2 729.0,778.1 729.4,779.0 729.5,779.2 729.7,778.9 729.9,778.4 730.0,778.2 730.2,778.6 730.5,778.3 730.5,778.2 730.7,777.7 731.0,776.6 731.0,776.5 731.2,774.9 731.5,772.0 731.8,774.9 732.0,776.5 732.0,776.6 732.3,777.7 732.5,778.3 732.5,778.4 732.8,778.5 733.0,778.0 733.1,778.2 733.3,778.8 733.5,779.1 733.6,778.9 734.0,778.2 734.5,779.2 735.0,778.3 735.5,779.3 736.0,777.4 736.5,779.2 737.0,778.4 737.5,779.3 737.9,778.0 738.0,777.6 738.2,778.1 738.4,778.9 738.5,779.0 738.7,778.8 739.0,778.4 739.0,778.3 739.2,778.0 739.5,777.0 739.5,776.9 739.7,775.5 740.0,773.0 740.3,775.5 740.5,776.9 740.5,777.0 740.8,778.0 741.0,778.4 741.0,778.5 741.3,778.9 741.5,779.0 741.6,779.1 741.8,778.5 742.0,778.2 742.1,778.4 742.5,779.3 743.0,778.4 743.5,779.4 744.0,778.5 744.5,779.2 745.0,778.2 745.5,779.2 746.0,778.1 746.5,779.2 747.0,777.7 747.5,779.3 748.0,777.0 748.5,779.2 749.0,778.2 749.4,779.1 749.5,779.3 749.7,778.9 749.9,778.3 750.0,778.1 750.2,778.5 750.5,778.7 750.5,778.6 750.7,778.2 751.0,777.4 751.0,777.3 751.2,776.1 751.5,774.0 751.8,776.1 752.0,777.3 752.0,777.4 752.3,778.2 752.5,778.6 752.5,778.7 752.8,778.7 753.0,778.4 753.1,778.5 753.3,779.0 753.5,779.3 753.6,778.8 754.0,777.0 754.5,779.4 755.0,778.1 755.5,779.2 756.0,778.0 756.5,779.3 757.0,778.1 757.5,779.2 758.0,778.4 758.5,779.3 759.0,778.5 759.5,779.3 760.0,778.6 760.5,779.4 761.0,778.5 761.5,779.2 762.0,778.4 762.5,779.2 763.0,778.2 763.5,779.4 764.0,778.4 764.5,779.4 765.0,778.3 765.5,779.3 766.0,778.3 766.5,779.4 767.0,778.4 767.5,779.4 768.0,778.3 768.5,779.3 769.0,778.1 769.5,779.2 770.0,778.2 770.5,779.3 771.0,778.4 771.5,779.3 772.0,778.4 772.5,779.2 773.0,778.2 773.5,779.4 774.0,778.2 774.5,779.2 775.0,778.5 775.5,779.2 776.0,778.4 776.5,779.3 777.0,778.4 777.5,779.3 778.0,778.2 778.5,779.3 779.0,778.3 779.5,779.3 780.0,778.2 780.5,779.4 781.0,778.1 781.5,779.4 782.0,777.6 782.5,779.2 783.0,778.2 783.5,779.4 784.0,778.4 784.5,779.3 785.0,778.3 785.5,779.3 786.0,778.3 786.5,779.3 787.0,778.5 787.5,779.4 788.0,778.6 788.5,779.3 789.0,778.4 789.5,779.2 790.0,778.3 790.5,779.5 791.0,778.1 791.5,779.5 792.0,778.4 792.5,779.4 793.0,778.4 793.5,779.4 794.0,778.3 794.5,779.3 795.0,778.3 795.5,779.4 796.0,778.3 796.5,779.3 797.0,778.3 797.5,779.4 798.0,778.3 798.5,779.5 799.0,778.4 799.5,779.5 800.0,778.3 800.5,779.5 801.0,777.1 801.5,779.4 802.0,778.2 802.5,779.5 803.0,778.3 803.5,779.3 804.0,778.0 804.5,779.3 805.0,778.6 805.5,779.4 806.0,778.5 806.5,779.3 807.0,778.5 807.5,779.3 808.0,778.5 808.5,779.3 809.0,778.5 809.5,779.3 810.0,778.5 810.5,779.5 811.0,778.3 811.5,779.4 812.0,778.5 812.5,779.3 813.0,778.6 813.5,779.4 814.0,778.5 814.5,779.4 815.0,778.6 815.5,779.3 816.0,778.5 816.5,779.3 817.0,778.6 817.5,779.4 818.0,778.4 818.5,779.5 819.0,778.2 819.5,779.4 820.0,778.1 820.5,779.3 821.0,778.4 821.5,779.4 822.0,778.6 822.5,779.3 823.0,778.7 823.5,779.3 824.0,778.6 824.5,779.3 825.0,778.6 825.5,779.3 826.0,778.3 826.5,779.5 827.0,778.3 827.5,779.4 828.0,778.3 828.5,779.5 829.0,778.2 829.5,779.5 830.0,778.1 830.5,779.4 831.0,777.7 831.5,779.3 832.0,778.5 832.2,778.9 832.5,779.3 832.5,779.3 832.7,779.0 833.0,778.3 833.0,778.3 833.2,778.4 833.5,777.7 833.5,777.7 833.8,776.4 834.0,774.7 834.0,774.3 834.3,771.0 834.5,773.7 834.6,774.3 834.8,776.4 835.0,777.3 835.1,777.7 835.4,778.4 835.5,778.7 835.6,778.9 835.9,778.8 836.0,778.5 836.1,778.8 836.4,779.3 836.5,779.4 837.0,778.5 837.5,779.4 838.0,778.6 838.5,779.5 839.0,777.9 839.5,779.4 840.0,778.7 840.5,779.4 841.0,777.7 841.5,779.6 842.0,777.6 842.5,779.4 843.0,778.5 843.5,779.4 844.0,777.8 844.5,779.5 845.0,778.4 845.5,779.4 846.0,778.6 846.5,779.5 847.0,778.1 847.5,779.5 848.0,778.4 848.5,779.5 849.0,778.2 849.5,779.4 850.0,778.5 850.5,779.5 851.0,778.6 851.5,779.5 852.0,778.6 852.5,779.4 853.0,778.6 853.5,779.4 854.0,777.3 854.5,779.5 855.0,778.5 855.5,779.4 856.0,777.8 856.5,779.4 856.6,779.1 856.9,778.2 857.0,777.7 857.1,778.1 857.4,778.7 857.5,778.4 857.6,778.0 857.9,777.0 858.0,776.6 858.2,775.3 858.4,772.5 858.5,771.7 858.7,768.0 859.0,772.5 859.0,773.1 859.2,775.4 859.5,777.0 859.5,777.1 859.8,778.0 860.0,777.7 860.0,777.8 860.3,778.7 860.5,779.2 860.5,779.3 860.8,778.7 861.0,778.3 861.5,779.6 862.0,778.5 862.5,779.5 863.0,777.6 863.5,779.5 864.0,778.4 864.5,779.5 865.0,778.4 865.5,779.5 866.0,777.6 866.5,779.5 867.0,778.6 867.5,779.4 868.0,778.6 868.5,779.6 869.0,778.6 869.5,779.5 870.0,778.6 870.5,779.5 871.0,777.6 871.5,779.6 872.0,778.3 872.5,779.6 873.0,778.3 873.5,779.6 874.0,778.3 874.5,779.4 875.0,778.3 875.5,779.5 876.0,778.4 876.5,779.4 877.0,778.3 877.5,779.6 878.0,778.4 878.5,779.6 879.0,778.3 879.5,779.5 880.0,778.4 880.5,779.6 881.0,777.1 881.5,779.5 882.0,778.5 882.5,779.5 883.0,778.6 883.5,779.6 884.0,778.4 884.5,779.6 885.0,778.4 885.5,779.6 886.0,778.5 886.5,779.7 887.0,778.6 887.5,779.6 888.0,778.8 888.5,779.6 889.0,778.7 889.5,779.5 890.0,778.7 890.5,779.6 891.0,778.5 891.3,779.1 891.5,779.2 891.6,779.1 891.9,778.8 892.0,778.6 892.2,778.2 892.5,777.3 892.8,775.7 893.0,774.2 893.1,773.2 893.4,769.0 893.5,767.0 893.7,762.0 894.0,769.0 894.3,773.2 894.5,775.0 894.6,775.7 894.9,777.3 895.0,777.7 895.2,778.2 895.5,778.8 895.8,778.8 896.0,778.3 896.1,778.5 896.5,779.5 897.0,778.3 897.5,779.6 898.0,778.3 898.5,779.5 899.0,778.4 899.5,779.7 900.0,778.4 900.5,779.6 901.0,778.1 901.5,779.4 902.0,778.5 902.5,779.5 903.0,778.7 903.5,779.5 904.0,778.5 904.5,779.5 905.0,778.5 905.5,779.5 906.0,777.9 906.5,779.7 907.0,778.7 907.5,779.6 908.0,778.0 908.5,779.6 909.0,778.6 909.5,779.7 910.0,777.5 910.5,779.6 911.0,778.6 911.5,779.7 912.0,778.4 912.5,779.6 913.0,778.6 913.5,779.6 914.0,778.7 914.5,779.5 915.0,778.7 915.5,779.6 916.0,778.6 916.5,779.6 917.0,778.5 917.5,779.5 918.0,778.6 918.5,779.5 919.0,778.1 919.5,779.5 920.0,778.5 920.5,779.6 921.0,777.6 921.5,779.5 922.0,778.7 922.5,779.5 923.0,778.6 923.5,779.7 924.0,778.5 924.5,779.5 925.0,778.6 925.5,779.5 926.0,778.7 926.5,779.7 927.0,777.7 927.5,779.6 928.0,778.2 928.5,779.7 929.0,778.7 929.5,779.6 930.0,778.6 930.5,779.5 931.0,778.7 931.5,779.6 932.0,778.7 932.5,779.5 933.0,778.6 933.5,779.6 934.0,778.6 934.5,779.8 935.0,778.6 935.5,779.7 936.0,778.4 936.5,779.5 937.0,778.4 937.5,779.7 938.0,778.4 938.5,779.6 939.0,778.5 939.5,779.6 940.0,778.4 940.5,779.7 941.0,778.4 941.5,779.6 942.0,778.7 942.5,779.6 943.0,778.7 943.5,779.6 944.0,778.6 944.5,779.7 945.0,778.6 945.5,779.6 946.0,778.7 946.5,779.5 947.0,778.3 947.5,779.6 948.0,778.8 948.5,779.6 949.0,777.6 949.5,779.6 950.0,778.6 950.5,779.6 951.0,778.6 951.5,779.7 952.0,778.8 952.5,779.6 953.0,778.8 953.5,779.6 954.0,778.7 954.5,779.7 955.0,778.1 955.5,779.8 956.0,778.7 956.5,779.8 957.0,777.9 957.5,779.8 958.0,777.4 958.5,779.7 959.0,778.5 959.5,779.7 960.0,778.5 960.5,779.7 961.0,778.5 961.5,779.6 962.0,778.8 962.5,779.6 963.0,778.6 963.5,779.8 964.0,778.8 964.5,779.8 965.0,778.6 965.5,779.7 966.0,778.6 966.5,779.7 967.0,778.6 967.5,779.7 968.0,778.6 968.5,779.8 969.0,778.8 969.5,779.7 970.0,778.8 970.5,779.8 970.7,779.4 970.9,778.9 971.0,778.7 971.1,779.1 971.4,779.3 971.5,779.2 971.6,779.0 971.8,778.5 972.0,777.8 972.0,777.6 972.3,776.2 972.5,773.7 972.7,776.2 973.0,777.6 973.0,777.8 973.2,778.5 973.4,779.0 973.5,779.2 973.6,779.3 973.9,779.0 974.0,778.8 974.1,778.9 974.3,779.3 974.5,779.6 975.0,778.5 975.5,779.6 976.0,778.8 976.5,779.8 977.0,778.6 977.5,779.7 978.0,778.5 978.5,779.8 979.0,778.8 979.5,779.8 980.0,778.4 980.5,779.6 981.0,778.6 981.5,779.8 982.0,778.7 982.5,779.7 983.0,778.8 983.5,779.7 984.0,778.6 984.5,779.7 985.0,778.7 985.5,779.7 986.0,778.1 986.2,778.7 986.5,779.5 987.0,778.9 987.4,779.4 987.5,779.4 988.0,778.9 988.5,779.1 988.6,779.1 989.0,778.9 989.5,778.7 989.8,778.5 990.0,778.4 990.5,778.0 991.0,777.5 991.5,776.8 992.0,775.8 992.2,775.2 992.5,774.1 993.0,771.4 993.4,768.4 993.4,767.8 993.5,766.6 993.7,763.7 994.0,757.7 994.0,756.5 994.4,745.1 994.5,740.8 994.6,735.8 994.8,727.0 995.0,707.5 995.1,697.7 995.5,650.3 995.5,641.4 995.8,573.0 996.0,611.3 996.2,648.8 996.5,677.4 996.7,696.2 997.0,716.1 997.2,724.7 997.5,738.8 997.6,742.7 998.0,752.3 998.1,753.7 998.4,759.7 998.5,760.5 998.5,760.9 999.0,765.3 999.0,765.5 999.4,768.4 999.5,768.7 1000.0,770.8 1000.5,772.2 1001.0,773.3 1001.1,773.4 1001.5,774.1 1002.0,774.7 1002.5,775.3 1003.0,775.7 1003.5,776.1 1003.7,776.3 1004.0,776.5 1004.5,776.8 1005.0,777.1 1005.5,777.4 1006.0,777.6 1006.4,777.7 1006.5,777.8 1007.0,778.0 1007.5,778.2 1008.0,778.3 1008.5,778.5 1009.0,778.4 1009.5,778.7 1009.9,778.7 1010.0,778.7 1010.2,778.7 1010.4,778.6 1010.5,778.6 1010.7,778.4 1011.0,778.1 1011.0,778.1 1011.2,777.6 1011.5,776.7 1011.5,776.6 1011.6,775.9 1011.7,775.2 1012.0,772.8 1012.3,775.3 1012.5,776.8 1012.5,776.9 1012.8,777.9 1013.0,778.4 1013.0,778.4 1013.3,778.8 1013.5,779.0 1013.6,779.1 1013.8,779.1 1014.0,778.8 1014.1,779.0 1014.3,779.4 1014.5,779.4 1015.0,778.9 1015.5,779.5 1016.0,778.8 1016.5,779.6 1016.9,778.9 1017.0,778.7 1017.5,779.7 1018.0,778.7 1018.5,779.7 1019.0,778.8 1019.5,779.7 1020.0,778.9 1020.5,779.8 1021.0,778.8 1021.5,779.7 1022.0,777.4 1022.5,779.8 1023.0,778.6 1023.5,779.9 1024.0,777.6 1024.5,779.8 1025.0,778.6 1025.5,779.9 1026.0,778.6 1026.5,779.9 1027.0,778.8 1027.5,779.9 1028.0,778.8 1028.5,779.8 1029.0,778.8 1029.5,779.8 1030.0,778.8 1030.5,779.9 1031.0,778.2 1031.5,779.7 1032.0,778.9 1032.5,779.7 1033.0,778.7 1033.5,779.9 1034.0,778.8 1034.5,779.8 1035.0,779.0 1035.5,779.8 1036.0,777.9 1036.5,779.9 1037.0,778.8 1037.5,779.7 1038.0,778.8 1038.5,779.9 1039.0,779.0 1039.5,779.9 1040.0,779.1 1040.5,779.8 1041.0,778.9 1041.5,779.8 1042.0,779.0 1042.5,779.8 1043.0,778.9 1043.5,779.9 1044.0,777.7 1044.5,779.8 1045.0,779.0 1045.5,779.8 1046.0,779.1 1046.5,779.8 1047.0,779.0 1047.5,779.9 1048.0,778.7 1048.5,779.9 1049.0,779.0 1049.5,780.0 1050.0,779.0 1050.5,779.9 1051.0,778.4 1051.5,779.9 1052.0,779.1 1052.5,779.8 1053.0,778.9 1053.5,780.0 1054.0,778.8 1054.5,779.8 1055.0,778.9 1055.5,779.8 1056.0,777.9 1056.5,779.8 1057.0,778.6 1057.5,779.8 1058.0,778.9 1058.5,779.8 1059.0,777.7 1059.5,779.8 1060.0,778.7 1060.5,779.9 1061.0,777.6 1061.5,779.9 1062.0,778.3 1062.5,779.9 1063.0,778.7 1063.5,779.8 1064.0,778.9 1064.5,780.0 1065.0,779.0 1065.5,779.9 1066.0,779.0 1066.5,779.9 1067.0,778.8 1067.5,779.8 1068.0,778.9 1068.5,779.9 1069.0,778.7 1069.5,779.9 1070.0,777.6 1070.5,779.9 1071.0,778.9 1071.5,779.9 1072.0,778.8 1072.5,780.0 1073.0,778.9 1073.5,780.0 1074.0,779.1 1074.5,779.9 1075.0,778.4 1075.5,780.0 1076.0,778.9 1076.5,779.8 1077.0,779.0 1077.5,780.1 1078.0,779.0 1078.5,779.9 1079.0,778.9 1079.5,780.0 1080.0,778.7 1080.5,780.0 1081.0,779.0 1081.5,779.9 1082.0,779.0 1082.5,780.1 1083.0,778.9 1083.5,780.0 1084.0,779.1 1084.5,779.9 1085.0,779.1 1085.5,779.9 1086.0,779.0 1086.5,779.8 1087.0,779.0 1087.5,779.8 1088.0,778.8 1088.5,780.0 1089.0,777.8 1089.5,779.9 1090.0,779.0 1090.5,780.0 1091.0,779.0 1091.5,780.0 1092.0,778.8 1092.5,779.9 1093.0,778.8 1093.5,780.0 1094.0,778.7 1094.5,779.9 1095.0,779.0 1095.5,780.0 1096.0,779.0 1096.5,780.1 1097.0,779.2 1097.5,780.0 1098.0,779.2 1098.5,779.9 1099.0,779.0 1099.5,779.9 1100.0,779.1 1100.5,780.0 1101.0,779.3 1101.5,780.0 1102.0,779.0 1102.5,780.0 1103.0,779.1 1103.5,780.1 1104.0,779.2 1104.5,780.0 1105.0,779.2 1105.5,779.9 1106.0,778.0 1106.5,780.0 1107.0,779.2 1107.5,779.9 1108.0,779.2 1108.5,779.9 1109.0,779.1 1109.5,780.1 1110.0,779.2 1110.5,779.9 1111.0,779.2 1111.5,780.1 1112.0,779.0 1112.5,779.9 1113.0,778.1 1113.5,780.0 1114.0,778.6 1114.5,779.9 1115.0,778.9 1115.5,779.9 1116.0,778.9 1116.5,780.0 1117.0,778.8 1117.5,780.0 1118.0,778.0 1118.5,780.0 1119.0,778.9 1119.5,780.1 1120.0,779.0 1120.5,780.1 1121.0,778.9 1121.5,780.0 1122.0,779.0 1122.5,780.0 1123.0,779.1 1123.5,779.9 1124.0,779.1 1124.5,780.0 1125.0,779.3 1125.5,780.0 1126.0,779.0 1126.5,780.1 1127.0,778.1 1127.5,780.0 1128.0,778.7 1128.5,780.1 1129.0,779.0 1129.5,780.1 1130.0,778.8 1130.5,780.0 1131.0,779.0 1131.5,779.9 1132.0,779.1 1132.5,780.1 1133.0,779.0 1133.5,780.0 1134.0,778.8 1134.5,780.1 1135.0,778.8 1135.5,780.2 1136.0,779.1 1136.5,780.1 1137.0,779.2 1137.5,780.1 1138.0,779.0 1138.5,780.1 1139.0,779.0 1139.5,779.9 1140.0,779.0 1140.5,780.0 1141.0,779.1 1141.5,780.2 1142.0,779.3 1142.5,780.0 1143.0,779.3 1143.5,780.2 1144.0,779.0 1144.5,780.0 1145.0,779.1 1145.5,780.0 1146.0,778.7 1146.5,780.0 1147.0,778.3 1147.5,780.2 1148.0,780.2 1148.5,780.2 1149.0,780.2 1149.5,780.2 1150.0,780.2 1150.1,780.2" fill="none" stroke="#1e1b1b" stroke-width="2.30" stroke-linejoin="round"/>
<path d="M45.7 810.2H52.3V976.6H45.7 M45.7 843.8H52.3 M45.7 877.6H52.3 M45.7 910.8H52.3 M45.7 944.9H52.3" stroke="#1c1a1b" stroke-width="1.9" fill="none"/>
<text x="26.5" y="817.3" font-size="22.00" stroke="#231f20" stroke-width="1.7">5</text>
<text x="24.5" y="849.4" font-size="22.00" stroke="#231f20" stroke-width="1.7">4</text>
<text x="25.5" y="885.2" font-size="22.00" stroke="#231f20" stroke-width="1.7">3</text>
<text x="24.8" y="918.5" font-size="22.00" stroke="#231f20" stroke-width="1.7">2</text>
<text x="24.2" y="951.9" font-size="22.00" stroke="#231f20" stroke-width="1.7">1</text>
<text x="25.3" y="984.6" font-size="22.00" stroke="#231f20" stroke-width="1.7">0</text>
<text x="118.1" y="848.2" font-size="43.00">D</text>
<text x="227.4" y="874.8" font-size="30.48">20</text>
<text x="278.1" y="874.8" font-size="30.50">h</text>
<text x="192.9" y="807.8" font-size="18.67" style="font-weight:normal" stroke="#231f20" stroke-width="0.85">3729.2</text>
<text x="165.8" y="893.5" font-size="18.40" style="font-weight:normal" stroke="#231f20" stroke-width="0.85">3375</text>
<path d="M189.7 899.8V921.9" stroke="#231f20" stroke-width="1.8" fill="none"/>
<path d="M182.9 919.9L196.5 919.9L189.7 931.4Z" fill="#231f20"/>
<text x="126.7" y="936.0" font-size="18.36" style="font-weight:normal" stroke="#231f20" stroke-width="0.85">3062.8</text>
<path d="M166.7 942.3V964.5" stroke="#231f20" stroke-width="1.8" fill="none"/>
<path d="M159.9 962.5L173.5 962.5L166.7 974.0Z" fill="#231f20"/>
<text x="250.0" y="911.6" font-size="18.77" style="font-weight:normal" stroke="#231f20" stroke-width="0.85">4785.6</text>
<path d="M290.9 916.5V938.0" stroke="#231f20" stroke-width="1.8" fill="none"/>
<path d="M284.1 936.0L297.7 936.0L290.9 948.1Z" fill="#231f20"/>
<text x="301.1" y="846.3" font-size="18.52" style="font-weight:normal" stroke="#231f20" stroke-width="0.85">5138</text>
<path d="M324.2 852.7V873.9" stroke="#231f20" stroke-width="1.8" fill="none"/>
<path d="M317.4 871.9L331.0 871.9L324.2 883.4Z" fill="#231f20"/>
<text x="384.7" y="920.1" font-size="18.78" style="font-weight:normal" stroke="#231f20" stroke-width="0.85">6331.4</text>
<path d="M415.5 926.9V936.2" stroke="#231f20" stroke-width="1.8" fill="none"/>
<path d="M408.7 934.2L422.3 934.2L415.5 946.4Z" fill="#231f20"/>
<text x="407.7" y="887.7" font-size="18.60" style="font-weight:normal" stroke="#231f20" stroke-width="0.85">6898.8</text>
<path d="M457.4 902.5V981.6" stroke="#231f20" stroke-width="1.3" fill="none"/>
<path d="M450.6 979.6L464.2 979.6L457.4 990.5Z" fill="#231f20"/>
<text x="472.6" y="813.8" font-size="18.71" style="font-weight:normal" stroke="#231f20" stroke-width="0.85">7054.8</text>
<text x="679.5" y="885.4" font-size="18.65" style="font-weight:normal" stroke="#231f20" stroke-width="0.85">10228.0</text>
<path d="M710.7 897.4V918.1" stroke="#231f20" stroke-width="1.8" fill="none"/>
<path d="M703.9 916.1L717.5 916.1L710.7 927.6Z" fill="#231f20"/>
<text x="632.0" y="914.7" font-size="18.70" style="font-weight:normal" stroke="#231f20" stroke-width="0.85">10042.6</text>
<path d="M697.2 920.4V929.6" stroke="#231f20" stroke-width="1.8" fill="none"/>
<path d="M690.4 927.6L704.0 927.6L697.2 939.1Z" fill="#231f20"/>
<text x="717.0" y="922.7" font-size="17.92" style="font-weight:normal" stroke="#231f20" stroke-width="0.85">10384</text>
<path d="M723.6 923.3V974.2" stroke="#231f20" stroke-width="1.8" fill="none"/>
<path d="M717.6 972.2L729.6 972.2L723.6 982.8Z" fill="#231f20"/>
<text x="729.8" y="941.4" font-size="18.07" style="font-weight:normal" stroke="#231f20" stroke-width="0.85">10497</text>
<path d="M732.8 949.2V980.8" stroke="#231f20" stroke-width="1.8" fill="none"/>
<path d="M726.8 978.8L738.8 978.8L732.8 988.5Z" fill="#231f20"/>
<text x="736.4" y="964.4" font-size="18.21" style="font-weight:normal" stroke="#231f20" stroke-width="0.85">10610</text>
<path d="M741.4 969.3V978.5" stroke="#231f20" stroke-width="1.8" fill="none"/>
<path d="M735.4 976.5L747.4 976.5L741.4 988.0Z" fill="#231f20"/>
<text x="756.5" y="985.1" font-size="18.29" style="font-weight:normal" stroke="#231f20" stroke-width="0.85">10766</text>
<path d="M752.3 979.3V985.7" stroke="#231f20" stroke-width="1.8" fill="none"/>
<path d="M746.3 983.7L758.3 983.7L752.3 995.2Z" fill="#231f20"/>
<text x="798.3" y="955.8" font-size="17.99" style="font-weight:normal" stroke="#231f20" stroke-width="0.85">11857</text>
<path d="M837.1 964.4V992.8" stroke="#231f20" stroke-width="1.8" fill="none"/>
<path d="M830.3 990.8L843.9 990.8L837.1 1002.3Z" fill="#231f20"/>
<text x="833.3" y="931.3" font-size="18.82" style="font-weight:normal" stroke="#231f20" stroke-width="0.85">12172</text>
<path d="M858.1 939.7V985.7" stroke="#231f20" stroke-width="1.8" fill="none"/>
<path d="M851.3 983.7L864.9 983.7L858.1 995.2Z" fill="#231f20"/>
<text x="870.6" y="959.2" font-size="18.12" style="font-weight:normal" stroke="#231f20" stroke-width="0.85">12629.1</text>
<path d="M893.8 965.5V998.0" stroke="#231f20" stroke-width="1.8" fill="none"/>
<path d="M887.0 996.0L900.6 996.0L893.8 1007.5Z" fill="#231f20"/>
<text x="982.0" y="911.7" font-size="20.94" style="font-weight:normal" stroke="#231f20" stroke-width="0.80">H2a</text>
<text x="1018.9" y="896.7" font-size="13.00" style="font-weight:normal" stroke="#231f20" stroke-width="0.50">1+</text>
<polyline points="84.5,1017.0 85.0,1017.0 85.5,1017.0 86.0,1017.0 86.5,1017.0 87.0,1017.0 87.5,1017.0 88.0,1017.0 88.5,1017.0 89.0,1017.0 89.5,1017.0 90.0,1017.0 90.5,1017.0 91.0,1017.0 91.5,1017.0 92.0,1017.0 92.5,1017.0 93.0,1017.0 93.5,1017.0 94.0,1017.0 94.5,1017.0 95.0,1017.0 95.5,1017.0 96.0,1017.0 96.5,1017.0 97.0,1017.0 97.5,1017.0 98.0,1017.0 98.5,1017.0 99.0,1017.0 99.5,1017.0 100.0,1017.0 100.5,1017.0 101.0,1017.0 101.5,1017.0 102.0,1017.0 102.5,1017.0 103.0,1017.0 103.5,1017.0 104.0,1017.0 104.5,1017.0 105.0,1017.0 105.5,1017.0 106.0,1017.0 106.5,1017.0 107.0,1017.0 107.5,1017.0 108.0,1017.0 108.5,1016.9 109.0,1016.9 109.5,1016.8 110.0,1016.8 110.5,1016.7 111.0,1016.6 111.5,1016.6 112.0,1014.8 112.5,1016.2 113.0,1014.5 113.5,1016.0 114.0,1012.4 114.5,1016.0 115.0,1012.1 115.5,1015.9 116.0,1013.7 116.5,1015.6 117.0,1013.6 117.5,1015.7 118.0,1013.1 118.5,1015.4 119.0,1012.6 119.5,1015.3 120.0,1013.8 120.5,1015.4 121.0,1013.4 121.5,1015.1 122.0,1012.9 122.1,1013.3 122.3,1014.1 122.5,1014.7 122.5,1014.6 122.7,1014.2 122.8,1013.4 123.0,1012.5 123.0,1012.2 123.2,1010.2 123.4,1006.9 123.5,1004.6 123.6,1001.3 123.8,1006.8 124.0,1010.0 124.0,1010.4 124.2,1012.1 124.3,1013.3 124.5,1013.9 124.5,1014.1 124.7,1013.4 124.9,1012.2 125.0,1011.6 125.1,1012.3 125.5,1015.1 126.0,1010.5 126.5,1015.0 127.0,1005.9 127.5,1014.9 127.8,1012.4 128.0,1010.8 128.0,1010.7 128.2,1012.2 128.4,1013.6 128.5,1013.1 128.6,1012.8 128.7,1011.4 128.9,1009.1 129.0,1007.9 129.1,1005.5 129.3,999.3 129.5,1005.5 129.5,1005.7 129.7,1009.2 129.9,1007.7 130.0,1005.2 130.1,1006.1 130.2,1009.5 130.4,1013.0 130.5,1014.2 130.6,1013.1 130.8,1011.2 131.0,1009.1 131.5,1013.7 132.0,1007.6 132.5,1013.6 132.5,1013.4 132.7,1011.9 132.9,1010.4 133.0,1009.3 133.1,1009.7 133.2,1011.2 133.4,1010.1 133.5,1008.6 133.6,1007.2 133.8,1002.0 133.9,993.7 134.0,997.9 134.1,1002.2 134.3,1007.1 134.4,1010.2 134.5,1010.8 134.6,1011.9 134.8,1012.1 135.0,1011.2 135.0,1011.0 135.2,1011.7 135.3,1012.6 135.5,1013.5 136.0,1010.3 136.5,1014.4 137.0,1010.3 137.5,1013.8 138.0,1009.2 138.5,1013.7 139.0,1009.4 139.5,1013.6 140.0,1007.3 140.5,1012.7 141.0,1007.8 141.5,1013.7 142.0,1005.8 142.5,1013.5 143.0,1006.9 143.5,1012.9 144.0,1007.9 144.5,1012.9 145.0,1007.7 145.5,1013.9 146.0,1006.7 146.5,1012.8 146.6,1011.9 146.8,1010.3 146.9,1008.8 147.0,1008.4 147.1,1009.7 147.3,1011.4 147.5,1009.6 147.5,1009.2 147.7,1006.5 147.8,1001.5 148.0,992.6 148.2,1001.5 148.3,1006.5 148.5,1009.2 148.5,1009.6 148.7,1011.1 148.9,1008.7 149.0,1007.1 149.1,1007.7 149.2,1009.6 149.4,1011.6 149.5,1012.8 150.0,1008.3 150.5,1012.8 151.0,1008.6 151.5,1012.8 151.7,1010.9 151.9,1009.0 152.0,1007.6 152.0,1007.9 152.2,1009.7 152.4,1011.4 152.5,1010.9 152.6,1010.3 152.7,1007.2 152.9,1002.9 153.0,1000.0 153.1,996.3 153.3,1003.3 153.4,1007.6 153.5,1008.8 153.6,1010.2 153.8,1009.9 154.0,1007.6 154.0,1007.1 154.1,1008.8 154.3,1011.0 154.5,1013.1 154.5,1013.4 155.0,1000.4 155.3,1007.9 155.5,1012.2 155.5,1012.1 155.7,1010.7 155.8,1008.1 156.0,1005.3 156.2,999.7 156.3,989.6 156.5,976.0 156.5,973.7 156.7,945.2 156.9,973.7 157.0,985.7 157.1,989.6 157.2,999.3 157.4,1005.4 157.5,1007.6 157.6,1008.8 157.8,1010.9 157.9,1009.0 158.0,1008.1 158.1,1009.0 158.5,1012.8 159.0,1008.7 159.5,1013.3 160.0,1006.1 160.5,1012.6 161.0,1007.5 161.5,1013.9 162.0,1008.5 162.5,1013.1 163.0,1007.6 163.5,1013.4 164.0,1006.7 164.5,1013.0 165.0,1006.1 165.3,1010.0 165.5,1012.3 165.5,1012.7 165.7,1010.5 165.8,1008.0 166.0,1005.4 166.2,1006.8 166.3,1001.8 166.5,995.0 166.5,993.9 166.7,979.7 166.9,993.8 167.0,999.9 167.1,1001.8 167.2,1006.6 167.4,1009.6 167.5,1010.7 167.6,1011.3 167.8,1010.2 167.9,1007.9 168.0,1006.8 168.1,1008.2 168.5,1013.7 169.0,1005.8 169.2,1008.9 169.4,1011.1 169.5,1012.3 169.6,1011.0 169.8,1008.7 169.9,1006.3 170.0,1005.4 170.1,1007.0 170.3,1007.6 170.5,1003.5 170.5,1002.2 170.6,996.5 170.8,1003.4 171.0,1006.0 171.0,1005.9 171.2,1008.0 171.3,1010.4 171.5,1012.5 171.5,1012.4 171.7,1010.4 171.9,1008.6 172.0,1007.0 172.0,1007.4 172.5,1012.4 173.0,999.9 173.5,1013.6 174.0,1008.5 174.5,1013.5 175.0,1008.5 175.5,1012.6 176.0,1008.8 176.5,1013.7 177.0,1008.7 177.5,1012.7 178.0,1007.4 178.2,1009.9 178.4,1012.2 178.5,1012.3 178.6,1012.0 178.7,1010.9 178.9,1008.8 179.0,1007.1 179.1,1005.5 179.2,999.7 179.4,990.5 179.5,984.2 179.6,974.0 179.8,990.5 179.9,999.7 180.0,1001.6 180.1,1005.3 180.3,1008.8 180.5,1010.8 180.5,1011.0 180.7,1010.1 180.8,1007.8 181.0,1005.4 181.5,1012.2 182.0,1006.3 182.5,1013.0 183.0,1005.7 183.5,1012.7 184.0,1005.2 184.5,1012.4 185.0,1007.3 185.5,1012.8 186.0,1001.5 186.5,1013.4 187.0,1007.7 187.5,1013.4 188.0,1003.6 188.3,1008.8 188.5,1011.7 188.5,1011.5 188.7,1010.3 188.8,1008.0 189.0,1003.9 189.2,997.5 189.3,986.2 189.5,970.7 189.5,968.1 189.7,936.0 189.9,968.1 190.0,981.8 190.1,986.2 190.2,997.1 190.4,1003.9 190.5,1006.4 190.6,1007.8 190.8,1008.0 190.9,1004.3 191.0,1002.5 191.1,1004.7 191.5,1013.3 192.0,998.3 192.5,1013.3 192.8,1006.0 192.9,1001.3 193.0,999.3 193.1,1002.3 193.3,1007.0 193.5,1011.0 193.5,1010.7 193.6,1009.3 193.8,1006.3 194.0,1001.4 194.0,1000.7 194.2,993.0 194.3,1001.2 194.5,1006.1 194.5,1006.3 194.7,1009.2 194.9,1007.9 195.0,1006.0 195.0,1006.4 195.2,1008.8 195.4,1011.1 195.5,1012.7 195.6,1011.7 196.0,1004.7 196.4,1012.1 196.5,1013.2 196.6,1011.3 196.8,1008.0 197.0,1004.6 197.0,1003.9 197.1,1006.1 197.3,1009.0 197.5,1006.0 197.5,1005.5 197.7,1000.6 197.8,992.1 198.0,1000.5 198.0,1000.9 198.2,1005.4 198.4,1009.1 198.5,1010.6 198.5,1010.9 198.7,1010.0 198.9,1008.1 199.0,1006.8 199.1,1007.5 199.2,1009.6 199.5,1012.8 200.0,1003.9 200.5,1012.2 201.0,1007.6 201.5,1012.5 202.0,1005.6 202.5,1012.8 203.0,1004.7 203.5,1012.7 204.0,1004.7 204.5,1011.9 205.0,1001.4 205.5,1012.3 206.0,1004.8 206.5,1012.3 207.0,1006.4 207.5,1012.9 208.0,1005.1 208.5,1013.1 209.0,1007.1 209.2,1009.4 209.4,1011.1 209.5,1012.0 209.6,1009.7 209.8,1005.4 209.9,1000.9 210.0,999.4 210.1,1002.3 210.3,1007.1 210.5,1006.5 210.5,1005.6 210.6,1001.7 210.8,1006.4 211.0,1003.7 211.0,1003.6 211.2,1006.5 211.3,1009.8 211.5,1012.7 211.5,1012.6 211.7,1009.0 211.9,1005.6 212.0,1002.8 212.0,1003.5 212.5,1011.9 213.0,1003.1 213.5,1012.3 214.0,1003.3 214.5,1012.3 215.0,1002.8 215.5,1009.9 215.7,1007.5 215.9,1003.5 216.0,999.8 216.1,997.3 216.2,986.6 216.4,968.8 216.5,961.1 216.6,941.3 216.8,893.5 217.0,814.3 217.2,893.5 217.4,941.3 217.5,961.1 217.6,968.8 217.8,986.6 217.9,997.3 218.0,999.8 218.1,1003.5 218.3,1007.5 218.5,1009.9 219.0,1005.3 219.5,1011.8 220.0,1004.8 220.5,1012.6 221.0,1003.7 221.4,1010.6 221.5,1011.6 221.6,1011.1 221.8,1008.8 221.9,1006.3 222.0,1004.8 222.1,1001.7 222.3,993.3 222.4,980.1 222.5,974.7 222.6,958.1 222.8,919.0 223.0,958.1 223.0,961.3 223.2,980.1 223.3,993.9 223.5,1001.7 223.7,1006.6 223.8,1006.6 224.0,1004.3 224.0,1004.8 224.2,1007.6 224.5,1012.4 225.0,1003.1 225.5,1011.9 226.0,996.0 226.5,1013.4 227.0,1004.2 227.5,1012.1 228.0,1004.5 228.5,1012.7 228.5,1012.1 228.7,1009.9 228.9,1007.4 229.0,1005.9 229.1,1006.7 229.2,1009.1 229.4,1010.9 229.5,1010.0 229.6,1009.0 229.8,1005.9 229.9,1000.7 230.0,1001.0 230.1,1003.7 230.3,1008.1 230.5,1010.8 230.5,1011.2 230.6,1011.1 230.8,1008.5 231.0,1005.8 231.0,1005.6 231.2,1008.1 231.3,1010.9 231.5,1013.4 232.0,1005.6 232.4,1011.5 232.5,1013.0 232.6,1012.0 232.8,1009.8 232.9,1007.5 233.0,1006.6 233.1,1007.9 233.3,1010.4 233.4,1009.1 233.5,1008.3 233.6,1005.9 233.8,1000.8 234.0,1005.9 234.0,1005.9 234.2,1008.1 234.3,1010.7 234.5,1012.0 234.7,1010.5 234.8,1007.9 235.0,1005.6 235.0,1006.0 235.2,1008.3 235.5,1012.3 236.0,1006.7 236.5,1011.9 237.0,1005.5 237.5,1012.9 237.9,1006.2 238.0,1005.3 238.1,1007.0 238.3,1009.4 238.5,1011.9 238.5,1012.2 238.6,1009.9 238.8,1006.8 239.0,1003.9 239.0,1003.8 239.2,1003.5 239.3,996.9 239.5,1003.1 239.5,1003.7 239.7,1007.6 239.9,1006.3 240.0,1004.0 240.0,1004.7 240.2,1007.9 240.4,1010.9 240.5,1012.9 240.6,1012.0 240.7,1010.0 241.0,1006.8 241.5,1012.6 242.0,1004.9 242.5,1011.9 243.0,1004.1 243.5,1012.1 244.0,1006.8 244.5,1012.1 245.0,1005.4 245.4,1011.0 245.5,1012.9 245.5,1012.4 245.7,1010.3 245.9,1008.2 246.0,1006.9 246.1,1007.7 246.2,1009.3 246.4,1006.3 246.5,1004.4 246.6,1001.5 246.8,993.2 246.9,1001.3 247.0,1003.3 247.1,1006.4 247.3,1009.2 247.5,1011.0 247.5,1011.3 247.6,1010.3 247.8,1007.0 248.0,1003.9 248.0,1003.8 248.2,1006.6 248.5,1012.2 249.0,1004.2 249.5,1013.0 250.0,1005.7 250.5,1012.3 251.0,1004.7 251.5,1012.8 252.0,1006.8 252.5,1011.9 253.0,1006.2 253.5,1012.0 254.0,1007.2 254.5,1012.5 255.0,1006.6 255.5,1013.6 256.0,1004.5 256.5,1012.7 257.0,1007.0 257.5,1012.6 258.0,1004.6 258.5,1013.4 259.0,1003.8 259.5,1012.7 260.0,1005.0 260.0,1004.7 260.1,1007.1 260.3,1010.0 260.5,1012.0 260.7,1010.1 260.9,1007.6 261.0,1005.5 261.0,1005.9 261.2,1000.8 261.4,992.2 261.5,998.6 261.6,1000.6 261.7,1005.9 261.9,1007.9 261.9,1007.6 262.0,1006.5 262.1,1007.6 262.1,1007.8 262.2,1010.0 262.3,1010.3 262.4,1011.8 262.4,1011.8 262.5,1011.8 262.6,1011.7 262.6,1011.6 262.8,1009.5 262.8,1009.3 263.0,1006.7 263.0,1006.3 263.1,1006.7 263.3,1002.0 263.5,1006.6 263.5,1006.8 263.7,1009.5 263.8,1009.0 264.0,1007.6 264.0,1007.7 264.2,1009.2 264.3,1010.5 264.4,1010.8 264.5,1011.9 264.5,1011.8 264.5,1011.4 264.7,1009.4 264.7,1008.8 264.9,1006.8 265.0,1004.9 265.0,1005.4 265.2,1008.4 265.4,1007.4 265.5,1004.8 265.6,1003.1 265.7,996.2 265.9,1003.1 266.0,1004.0 266.1,1005.3 266.3,1008.3 266.4,1011.2 266.5,1011.8 266.6,1010.3 266.8,1007.2 267.0,1003.9 267.0,1003.2 267.1,1005.8 267.5,1013.0 268.0,998.0 268.5,1012.5 268.7,1009.6 268.9,1006.9 269.0,1005.3 269.1,1006.3 269.3,1009.0 269.4,1009.7 269.5,1009.2 269.6,1007.2 269.8,1003.2 270.0,996.8 270.0,996.3 270.2,984.9 270.4,996.3 270.5,1000.7 270.6,1002.9 270.8,1007.2 270.9,1007.5 271.0,1006.8 271.1,1008.6 271.3,1010.9 271.5,1012.7 271.5,1012.7 271.7,1009.8 272.0,1004.7 272.5,1011.9 273.0,1005.7 273.5,1011.8 274.0,1004.7 274.5,1012.3 275.0,1007.2 275.5,1013.1 276.0,1006.4 276.5,1011.9 277.0,1007.1 277.5,1013.3 278.0,1005.3 278.5,1012.5 279.0,998.4 279.5,1012.3 280.0,999.5 280.5,1013.1 281.0,1007.4 281.5,1012.5 282.0,1006.7 282.5,1013.4 283.0,1007.4 283.5,1012.8 284.0,1007.9 284.2,1010.0 284.4,1011.6 284.5,1012.6 284.6,1011.7 284.8,1010.0 284.9,1008.2 285.0,1007.5 285.1,1008.5 285.3,1007.5 285.4,1003.5 285.5,1001.9 285.6,996.6 285.8,1003.3 286.0,1007.6 286.0,1007.9 286.1,1009.5 286.3,1011.4 286.5,1012.3 286.7,1010.4 286.9,1007.8 287.0,1005.5 287.0,1006.0 287.5,1013.5 288.0,1007.1 288.5,1012.6 289.0,1007.2 289.5,1013.3 290.0,1006.6 290.4,1010.8 290.5,1011.8 290.6,1011.0 290.8,1008.8 290.9,1006.6 291.0,1005.8 291.1,1006.3 291.3,1001.1 291.4,992.9 291.5,989.6 291.6,979.4 291.8,955.3 292.0,979.4 292.0,981.4 292.1,992.9 292.3,1001.1 292.5,1006.3 292.7,1009.3 292.9,1008.3 293.0,1006.5 293.0,1006.9 293.2,1008.8 293.5,1012.3 294.0,1005.3 294.5,1011.8 295.0,1007.0 295.5,1012.6 296.0,1002.7 296.1,1004.6 296.3,1007.8 296.4,1009.8 296.5,1009.2 296.6,1007.4 296.8,1003.0 297.0,995.6 297.0,994.5 297.1,983.8 297.3,964.2 297.5,929.4 297.7,964.2 297.9,983.7 298.0,994.5 298.0,995.6 298.2,1003.0 298.4,1007.4 298.5,1009.2 298.6,1009.8 298.7,1009.4 298.9,1007.1 299.0,1005.7 299.3,1009.2 299.5,1011.4 299.5,1011.7 299.6,1010.2 299.8,1008.3 300.0,1006.5 300.0,1006.4 300.2,1008.6 300.3,1007.4 300.5,1003.7 300.5,1003.1 300.7,996.2 300.9,1003.3 301.0,1006.6 301.0,1007.4 301.2,1009.9 301.4,1011.4 301.5,1012.0 301.6,1012.2 301.7,1009.7 301.9,1007.0 302.0,1005.8 302.1,1007.0 302.5,1012.5 303.0,1003.9 303.5,1011.7 304.0,1005.9 304.5,1013.3 305.0,1007.2 305.5,1012.1 305.9,1007.0 306.0,1005.9 306.1,1007.1 306.3,1009.8 306.4,1012.4 306.5,1012.4 306.6,1012.0 306.8,1010.1 307.0,1008.0 307.0,1007.5 307.1,1006.2 307.3,1001.4 307.5,1006.2 307.5,1006.7 307.7,1009.0 307.8,1005.2 308.0,1001.4 308.0,1001.6 308.2,1005.6 308.4,1009.8 308.5,1013.1 308.5,1012.9 308.7,1011.4 309.0,1009.0 309.5,1013.4 310.0,997.9 310.5,1012.7 311.0,1006.8 311.5,1012.0 312.0,1006.6 312.5,1013.0 313.0,1007.5 313.5,1013.1 314.0,1005.7 314.2,1007.8 314.4,1010.2 314.5,1009.5 314.5,1009.3 314.7,1006.2 314.9,1001.1 315.0,995.8 315.1,992.9 315.2,979.4 315.4,955.3 315.5,970.2 315.6,978.4 315.8,992.9 315.9,1001.1 316.0,1003.7 316.1,1006.2 316.3,1009.1 316.4,1011.0 316.5,1011.3 316.6,1011.4 316.8,1008.3 317.0,1004.9 317.5,1013.1 318.0,1005.4 318.5,1012.9 319.0,1006.2 319.4,1012.2 319.5,1012.9 319.6,1011.6 319.8,1009.5 320.0,1007.6 320.0,1007.3 320.1,1008.9 320.3,1010.1 320.5,1007.7 320.7,1003.8 320.9,997.0 321.0,1002.9 321.0,1003.5 321.2,1007.7 321.4,1009.9 321.5,1011.0 321.6,1011.4 321.7,1010.6 321.9,1008.4 322.0,1007.2 322.1,1008.0 322.2,1009.9 322.5,1011.5 322.7,1010.0 322.9,1007.3 323.0,1004.9 323.0,1004.3 323.2,997.9 323.4,986.9 323.5,975.5 323.6,969.4 323.7,940.5 323.9,889.0 324.0,920.9 324.1,938.3 324.2,969.4 324.4,986.9 324.5,992.5 324.6,997.9 324.8,1004.1 324.9,1005.5 325.0,1004.7 325.1,1006.8 325.3,1010.0 325.5,1012.5 326.0,1001.4 326.5,1013.1 327.0,1006.1 327.5,1012.7 328.0,1005.0 328.5,1013.2 329.0,1004.1 329.5,1013.1 330.0,1005.5 330.5,1013.4 331.0,995.5 331.5,1012.5 332.0,1006.5 332.5,1012.8 333.0,1005.7 333.2,1008.2 333.4,1010.4 333.5,1010.7 333.6,1010.3 333.7,1008.0 333.9,1004.4 334.0,1001.3 334.1,998.0 334.2,987.8 334.4,969.7 334.5,959.6 334.6,941.0 334.8,971.0 334.9,987.8 335.0,991.3 335.1,998.0 335.3,1004.4 335.5,1008.2 335.5,1008.5 335.6,1010.3 335.8,1008.6 336.0,1006.2 336.5,1012.5 337.0,1000.0 337.5,1011.7 338.0,1004.6 338.5,1013.1 339.0,1005.9 339.5,1012.0 339.7,1007.2 339.9,1002.9 340.0,1000.0 340.1,1001.2 340.2,1005.5 340.4,1009.4 340.5,1008.0 340.6,1006.5 340.8,1002.0 340.9,993.9 341.0,989.3 341.1,981.0 341.3,994.4 341.4,1002.0 341.5,1003.6 341.6,1006.5 341.8,1007.1 342.0,1004.3 342.0,1004.0 342.1,1006.8 342.3,1010.1 342.5,1013.0 343.0,1004.9 343.5,1012.5 344.0,997.1 344.3,1007.0 344.5,1012.3 344.5,1012.7 344.7,1010.7 344.8,1008.6 345.0,1006.8 345.0,1007.0 345.2,1009.1 345.4,1006.4 345.5,1003.1 345.5,1001.8 345.7,994.1 345.9,1001.8 346.0,1005.0 346.1,1006.6 346.2,1009.3 346.4,1011.0 346.5,1011.6 346.6,1011.9 346.8,1008.9 346.9,1006.0 347.0,1005.0 347.1,1006.9 347.5,1013.0 348.0,1003.6 348.5,1013.5 349.0,999.1 349.5,1012.4 350.0,1004.1 350.5,1011.9 350.8,1008.5 351.0,1006.5 351.0,1006.2 351.1,1008.3 351.3,1010.7 351.5,1009.9 351.7,1007.4 351.9,1003.4 352.0,997.7 352.0,996.8 352.2,985.0 352.4,996.8 352.5,1001.8 352.6,1003.4 352.7,1007.4 352.9,1008.1 353.0,1007.1 353.1,1007.9 353.2,1009.9 353.4,1011.9 353.5,1012.6 353.6,1011.8 354.0,1008.2 354.5,1011.6 355.0,1006.0 355.5,1013.3 356.0,1005.3 356.2,1008.5 356.4,1011.0 356.5,1012.6 356.6,1011.4 356.7,1008.6 356.9,1005.6 357.0,1004.3 357.1,1005.9 357.3,1005.8 357.4,1000.8 357.5,998.3 357.6,992.3 357.8,1000.7 358.0,1005.0 358.0,1004.4 358.1,1006.8 358.3,1009.8 358.5,1011.9 358.5,1011.9 358.7,1006.8 358.8,1000.8 359.0,995.2 359.0,995.8 359.5,1011.6 360.0,1007.0 360.5,1011.7 361.0,998.6 361.5,1012.5 362.0,1002.3 362.5,1011.9 363.0,1006.3 363.5,1012.2 364.0,1006.4 364.5,1012.1 365.0,1008.0 365.5,1013.4 366.0,1006.8 366.5,1011.9 367.0,1007.0 367.5,1013.1 368.0,1005.5 368.5,1013.4 369.0,1006.5 369.5,1011.5 369.7,1009.9 369.9,1008.4 370.0,1007.4 370.1,1007.9 370.2,1009.4 370.4,1007.8 370.5,1005.8 370.6,1003.8 370.8,997.4 370.9,986.2 371.0,979.9 371.1,968.3 371.3,987.0 371.4,997.4 371.5,999.6 371.6,1003.8 371.8,1007.8 372.0,1005.8 372.0,1005.6 372.1,1007.6 372.3,1010.0 372.5,1012.3 373.0,1007.0 373.5,1011.9 374.0,1007.9 374.5,1013.3 375.0,1005.5 375.5,1013.2 376.0,1004.0 376.5,1012.2 377.0,1006.5 377.5,1012.1 378.0,998.6 378.5,1013.0 379.0,1004.9 379.5,1012.7 380.0,1005.5 380.5,1012.4 381.0,1004.0 381.5,1012.7 382.0,1004.0 382.5,1013.1 383.0,1004.6 383.5,1012.4 384.0,1006.2 384.5,1012.1 385.0,1002.0 385.5,1012.8 386.0,1005.4 386.5,1012.8 387.0,1006.5 387.5,1011.9 387.9,1007.6 388.0,1006.6 388.1,1007.3 388.2,1009.3 388.4,1011.3 388.5,1010.9 388.6,1010.0 388.8,1007.6 388.9,1003.8 389.0,1002.3 389.1,997.6 389.3,986.4 389.5,997.6 389.5,998.5 389.6,1003.8 389.8,1007.6 390.0,1007.0 390.2,1009.3 390.4,1011.3 390.5,1012.6 390.5,1012.7 390.7,1011.2 391.0,1008.2 391.4,1011.1 391.5,1012.3 391.5,1012.1 391.7,1009.9 391.9,1007.8 392.0,1006.3 392.1,1006.9 392.2,1009.1 392.4,1007.5 392.5,1005.5 392.6,1003.6 392.8,997.0 392.9,1003.5 393.0,1004.3 393.1,1005.8 393.3,1008.2 393.4,1010.8 393.5,1011.6 393.6,1008.2 393.8,1003.2 394.0,998.5 394.0,997.7 394.1,1002.3 394.5,1013.0 395.0,1007.4 395.5,1012.1 396.0,998.2 396.5,1012.9 397.0,1005.7 397.5,1012.7 398.0,1006.2 398.5,1012.1 399.0,997.2 399.0,996.6 399.1,1001.5 399.3,1007.4 399.5,1011.8 399.7,1010.4 399.9,1007.9 400.0,1005.8 400.0,1005.6 400.2,1000.5 400.4,991.6 400.5,998.1 400.6,1000.2 400.7,1005.6 400.9,1006.5 401.0,1005.1 401.1,1006.3 401.2,1008.7 401.4,1011.3 401.5,1012.3 401.6,1010.9 401.8,1008.2 402.0,1004.9 402.4,1011.3 402.5,1012.7 402.6,1010.6 402.8,1006.0 402.9,1001.6 403.0,999.8 403.1,1002.5 403.3,1006.7 403.5,1008.8 403.5,1008.2 403.6,1005.8 403.8,1000.8 404.0,1005.8 404.0,1006.2 404.2,1008.8 404.3,1010.2 404.5,1011.6 404.5,1011.3 404.7,1006.0 404.9,1000.4 405.0,996.0 405.0,997.0 405.2,1002.6 405.5,1011.6 406.0,1004.7 406.5,1012.5 407.0,1006.5 407.5,1013.2 408.0,999.1 408.5,1012.7 409.0,1004.6 409.5,1013.0 410.0,1004.2 410.5,1012.8 411.0,998.6 411.5,1012.0 412.0,1003.3 412.5,1012.3 413.0,1003.5 413.5,1011.6 413.7,1009.1 413.9,1006.7 414.0,1005.2 414.1,1006.0 414.2,1004.9 414.4,999.3 414.5,996.8 414.6,990.6 414.8,975.6 415.0,950.7 415.2,975.6 415.4,990.6 415.5,996.8 415.6,999.3 415.8,1004.9 415.9,1007.5 416.0,1006.8 416.1,1008.3 416.3,1010.8 416.5,1012.2 417.0,1001.7 417.5,1011.5 418.0,1005.8 418.2,1008.9 418.4,1011.3 418.5,1012.6 418.6,1011.6 418.8,1009.5 418.9,1007.2 419.0,1006.3 419.1,1007.4 419.3,1008.4 419.4,1005.1 419.5,1003.8 419.6,999.7 419.8,1005.1 420.0,1006.8 420.0,1006.6 420.1,1008.2 420.3,1010.1 420.5,1011.9 420.7,1009.2 420.9,1006.8 421.0,1004.7 421.0,1004.6 421.0,1005.1 421.2,1007.3 421.3,1010.0 421.5,1012.3 421.5,1012.1 421.7,1009.1 421.9,1005.8 422.0,1003.5 422.0,1004.2 422.2,1005.3 422.4,1000.0 422.5,1003.5 422.6,1005.3 422.7,1008.5 422.9,1005.4 423.0,1004.0 423.1,1005.5 423.3,1008.5 423.4,1011.3 423.5,1012.3 423.6,1010.9 423.8,1008.9 424.0,1006.5 424.5,1013.0 425.0,1005.6 425.5,1013.2 426.0,1006.6 426.5,1013.1 427.0,1007.7 427.1,1008.7 427.3,1010.3 427.4,1010.6 427.5,1010.2 427.6,1008.9 427.8,1005.8 428.0,1000.5 428.0,999.7 428.1,992.1 428.3,978.2 428.5,953.4 428.7,978.2 428.9,992.1 429.0,999.7 429.0,1000.5 429.2,1005.8 429.4,1008.9 429.5,1010.2 429.6,1010.6 429.7,1008.1 429.9,1005.5 430.0,1003.9 430.5,1012.9 431.0,1004.2 431.5,1011.5 432.0,1006.0 432.5,1012.1 433.0,1007.3 433.5,1012.4 434.0,1005.6 434.5,1011.8 435.0,1007.1 435.5,1012.0 436.0,1007.9 436.5,1011.9 437.0,1008.1 437.5,1011.9 438.0,1008.0 438.5,1012.3 439.0,1005.3 439.3,1009.1 439.5,1011.3 439.5,1011.1 439.6,1007.2 439.8,1002.1 440.0,996.7 440.2,996.9 440.4,986.2 440.5,971.0 440.5,968.5 440.7,936.9 440.9,968.5 441.0,981.9 441.1,986.2 441.2,996.9 441.4,1003.7 441.5,1006.1 441.6,1007.5 441.8,1009.9 441.9,1008.8 442.0,1008.2 442.1,1009.2 442.5,1012.9 443.0,1007.2 443.5,1011.5 444.0,1008.2 444.5,1013.2 445.0,1007.3 445.5,1012.6 446.0,1007.6 446.5,1011.7 447.0,1004.9 447.4,1010.7 447.5,1012.2 447.6,1011.3 447.8,1009.2 447.9,1007.0 448.0,1006.2 448.1,1007.6 448.3,1006.9 448.4,1002.8 448.5,1001.1 448.6,995.9 448.8,983.7 449.0,995.9 449.0,996.9 449.1,1002.8 449.3,1006.9 449.5,1009.5 449.7,1009.3 449.9,1006.4 450.0,1003.9 450.0,1004.5 450.2,1007.6 450.5,1013.0 451.0,1006.3 451.5,1013.2 452.0,1006.3 452.5,1012.4 453.0,1003.9 453.5,1012.6 454.0,1006.3 454.5,1012.4 455.0,1005.0 455.5,1011.6 456.0,1005.3 456.5,1013.0 457.0,1004.4 457.5,1012.3 458.0,1004.3 458.5,1012.9 459.0,1004.2 459.5,1011.5 460.0,1002.8 460.5,1012.3 461.0,1004.7 461.5,1011.8 462.0,1006.2 462.5,1012.6 463.0,998.6 463.5,1012.6 463.6,1011.2 463.8,1008.8 463.9,1006.3 464.0,1005.6 464.1,1007.0 464.3,1009.1 464.5,1006.3 464.5,1005.9 464.6,1001.8 464.8,994.3 465.0,980.9 465.2,994.2 465.4,1001.7 465.5,1005.7 465.5,1006.2 465.7,1004.9 465.9,999.0 466.0,995.0 466.1,996.7 466.2,1002.6 466.4,1008.2 466.5,1011.5 467.0,1005.8 467.5,1009.3 467.8,1002.3 468.0,996.1 468.1,999.2 468.4,995.7 468.5,992.5 468.7,984.3 469.0,965.6 469.3,934.8 469.5,903.7 469.6,883.9 469.9,800.0 470.0,832.7 470.2,883.9 470.5,934.8 470.8,965.6 471.0,979.1 471.1,984.4 471.4,995.7 471.5,998.4 471.7,1002.5 471.7,1002.7 471.9,1005.2 472.0,1006.5 472.1,1007.1 472.2,1008.3 472.3,1008.7 472.4,1009.1 472.5,1009.2 472.6,1009.2 472.8,1008.8 472.9,1007.4 473.0,1006.6 473.1,1004.8 473.3,1008.0 473.5,1010.1 473.5,1010.4 473.6,1011.3 473.8,1011.4 474.0,1010.6 474.0,1010.5 474.2,1011.3 474.3,1012.1 474.5,1012.9 474.5,1012.8 475.0,1008.9 475.5,1012.8 476.0,1005.7 476.5,1012.5 477.0,1008.5 477.5,1013.3 478.0,1008.3 478.5,1013.1 479.0,1009.1 479.5,1012.6 480.0,1008.9 480.5,1013.2 481.0,1008.7 481.5,1012.7 482.0,1008.9 482.5,1013.1 483.0,1008.8 483.5,1013.3 484.0,1009.8 484.5,1013.5 485.0,1009.6 485.5,1013.4 486.0,1010.6 486.5,1012.8 487.0,1009.6 487.5,1012.8 488.0,1009.7 488.5,1012.7 489.0,1009.2 489.5,1013.7 490.0,1010.1 490.5,1012.9 491.0,1010.9 491.5,1012.9 492.0,1011.2 492.5,1013.1 493.0,1010.9 493.5,1013.6 494.0,1010.5 494.5,1013.4 495.0,1010.1 495.5,1013.2 496.0,1010.0 496.5,1013.4 497.0,1009.6 497.5,1013.6 498.0,1010.4 498.5,1013.7 499.0,1007.9 499.5,1013.5 500.0,1011.0 500.5,1013.1 501.0,1010.9 501.5,1013.3 502.0,1010.0 502.5,1013.5 503.0,1010.6 503.5,1013.9 503.9,1009.6 504.0,1008.2 504.1,1008.8 504.2,1010.8 504.4,1012.7 504.5,1013.1 504.6,1012.9 504.8,1011.9 504.9,1010.6 505.0,1009.8 505.1,1008.3 505.3,1004.5 505.4,1008.3 505.5,1009.1 505.6,1010.7 505.8,1011.2 505.8,1011.1 506.0,1009.5 506.0,1009.3 506.0,1009.1 506.1,1010.4 506.1,1010.5 506.3,1012.1 506.3,1012.2 506.5,1013.1 506.5,1013.1 506.7,1012.7 506.7,1012.6 506.8,1011.6 507.0,1010.5 507.0,1010.4 507.2,1008.0 507.4,1010.4 507.5,1011.7 507.5,1012.0 507.7,1012.7 507.9,1011.4 508.0,1010.6 508.1,1011.0 508.2,1012.1 508.4,1013.1 508.5,1013.7 508.6,1013.2 509.0,1010.9 509.5,1013.3 510.0,1010.3 510.5,1013.9 511.0,1011.1 511.5,1013.6 512.0,1010.3 512.5,1013.8 513.0,1010.3 513.5,1014.0 514.0,1011.2 514.5,1013.8 515.0,1009.9 515.5,1013.4 515.5,1013.3 515.7,1012.4 515.9,1011.6 516.0,1011.0 516.0,1011.3 516.2,1012.3 516.4,1011.9 516.5,1011.1 516.6,1010.2 516.8,1007.5 516.9,1002.6 517.0,1004.8 517.1,1007.3 517.3,1010.2 517.5,1011.9 517.5,1012.2 517.6,1012.9 517.8,1011.6 518.0,1010.2 518.0,1010.1 518.1,1011.1 518.3,1012.3 518.5,1013.5 519.0,1011.0 519.5,1014.1 520.0,1010.3 520.5,1014.4 521.0,1011.3 521.5,1014.0 522.0,1006.9 522.5,1014.0 523.0,1011.2 523.5,1014.3 524.0,1010.6 524.5,1013.9 524.9,1011.0 525.0,1010.4 525.1,1011.0 525.3,1012.2 525.4,1013.5 525.5,1013.6 525.6,1012.7 525.8,1010.6 526.0,1008.5 526.0,1008.0 526.1,1007.8 526.3,1003.0 526.5,1007.6 526.5,1008.0 526.7,1010.5 526.8,1011.7 527.0,1010.4 527.0,1010.5 527.2,1011.7 527.4,1013.0 527.5,1014.0 527.5,1013.8 527.7,1012.7 528.0,1010.8 528.2,1012.0 528.4,1013.3 528.5,1013.3 528.5,1013.2 528.7,1012.2 528.9,1010.4 529.0,1008.6 529.0,1007.7 529.2,1002.8 529.4,995.0 529.5,1000.0 529.6,1002.8 529.8,1007.7 529.9,1010.5 530.0,1011.4 530.1,1012.0 530.3,1012.8 530.5,1013.8 530.5,1013.9 530.6,1013.3 530.8,1012.3 531.0,1011.2 531.5,1014.1 532.0,1006.7 532.5,1014.3 533.0,1010.9 533.5,1014.5 534.0,1010.4 534.4,1013.3 534.5,1013.9 534.6,1013.5 534.8,1012.6 534.9,1011.6 535.0,1011.3 535.1,1012.0 535.3,1013.1 535.5,1012.1 535.5,1011.7 535.6,1010.1 535.8,1007.1 536.0,1007.6 536.0,1007.5 536.2,1009.5 536.3,1011.9 536.5,1013.8 536.5,1013.8 536.7,1013.0 536.9,1012.2 537.0,1011.5 537.0,1011.8 537.2,1012.6 537.5,1014.2 538.0,1011.8 538.5,1014.5 539.0,1011.3 539.5,1014.3 540.0,1011.9 540.5,1014.3 541.0,1012.1 541.5,1014.9 542.0,1011.5 542.5,1014.4 543.0,1011.0 543.5,1014.7 544.0,1010.8 544.5,1014.4 545.0,1009.3 545.5,1014.4 546.0,1011.9 546.5,1014.1 547.0,1007.3 547.5,1014.2 548.0,1006.6 548.5,1014.8 549.0,1010.5 549.5,1014.2 550.0,1011.6 550.5,1014.4 551.0,1010.6 551.5,1014.1 552.0,1010.5 552.5,1015.1 553.0,1010.3 553.5,1015.0 554.0,1011.4 554.5,1014.2 555.0,1011.7 555.5,1014.9 556.0,1011.5 556.5,1015.2 557.0,1012.3 557.5,1015.0 558.0,1008.5 558.5,1015.0 559.0,1011.2 559.5,1014.3 560.0,1011.6 560.5,1014.8 561.0,1011.1 561.5,1014.9 562.0,1011.9 562.5,1015.2 563.0,1011.6 563.5,1014.6 564.0,1012.4 564.5,1015.1 564.8,1013.6 565.0,1012.6 565.0,1012.6 565.2,1013.3 565.3,1014.1 565.5,1014.5 565.5,1014.5 565.7,1013.2 565.9,1011.8 566.0,1010.6 566.0,1010.9 566.2,1008.3 566.4,1011.1 566.5,1011.8 566.5,1012.2 566.6,1012.7 566.6,1013.1 566.7,1013.6 566.8,1013.8 566.9,1013.5 567.0,1013.2 567.0,1013.2 567.1,1013.4 567.2,1013.7 567.3,1013.7 567.3,1013.5 567.4,1012.9 567.5,1012.5 567.5,1012.4 567.6,1011.5 567.7,1010.6 567.9,1007.4 568.0,1010.1 568.0,1010.6 568.2,1012.6 568.4,1013.7 568.5,1014.2 568.6,1014.4 568.7,1014.4 568.9,1013.6 569.0,1013.2 569.1,1013.4 569.3,1014.0 569.5,1014.8 570.0,1013.3 570.5,1015.3 571.0,1012.6 571.5,1014.8 572.0,1012.1 572.5,1015.1 573.0,1011.7 573.5,1015.3 574.0,1011.9 574.5,1015.4 575.0,1010.6 575.5,1014.9 576.0,1011.6 576.5,1015.3 577.0,1012.7 577.5,1015.3 578.0,1012.1 578.5,1015.2 579.0,1010.1 579.5,1015.0 580.0,1011.5 580.5,1015.0 581.0,1012.5 581.5,1015.4 582.0,1013.2 582.5,1015.4 583.0,1013.5 583.5,1015.5 584.0,1013.3 584.5,1015.2 585.0,1012.4 585.5,1015.4 586.0,1012.0 586.5,1015.3 587.0,1010.2 587.5,1015.0 588.0,1012.9 588.5,1015.2 589.0,1012.3 589.5,1015.4 590.0,1012.0 590.5,1015.2 591.0,1009.9 591.5,1015.7 592.0,1009.5 592.3,1013.2 592.5,1015.2 592.7,1014.2 592.9,1013.1 593.0,1012.2 593.0,1012.3 593.2,1013.5 593.4,1013.3 593.5,1012.1 593.5,1011.5 593.7,1008.6 593.9,1011.6 594.0,1012.7 594.1,1013.1 594.2,1014.1 594.4,1015.0 594.5,1015.2 594.6,1015.0 594.8,1014.2 595.0,1013.3 595.0,1013.0 595.1,1013.7 595.5,1015.7 596.0,1012.3 596.5,1015.8 597.0,1012.9 597.5,1015.5 598.0,1012.5 598.5,1015.4 599.0,1013.3 599.5,1016.0 600.0,1013.4 600.5,1015.5 601.0,1013.2 601.5,1015.7 602.0,1009.9 602.5,1015.7 603.0,1012.8 603.5,1015.8 604.0,1012.3 604.5,1015.7 605.0,1010.1 605.4,1014.0 605.5,1015.7 605.5,1015.5 605.7,1014.8 605.9,1014.0 606.0,1013.5 606.0,1013.8 606.2,1013.7 606.4,1012.2 606.5,1010.8 606.6,1009.4 606.8,1005.1 606.9,1009.5 607.0,1010.7 607.1,1012.1 607.3,1013.7 607.5,1014.6 607.5,1014.8 607.6,1014.8 607.8,1014.1 608.0,1013.4 608.0,1013.3 608.1,1014.1 608.5,1015.9 609.0,1010.5 609.5,1015.4 610.0,1012.8 610.5,1015.4 611.0,1009.8 611.5,1015.4 612.0,1012.6 612.5,1015.3 613.0,1013.0 613.5,1015.6 614.0,1013.0 614.5,1016.0 615.0,1012.7 615.5,1015.4 616.0,1012.1 616.5,1015.7 617.0,1009.7 617.5,1015.6 618.0,1012.5 618.5,1015.8 619.0,1011.7 619.5,1015.3 619.8,1014.2 620.0,1013.6 620.2,1014.3 620.4,1015.0 620.5,1014.8 620.5,1014.7 620.7,1013.8 620.9,1012.3 621.0,1010.7 621.0,1009.9 621.2,1005.7 621.4,1009.8 621.5,1011.4 621.6,1012.4 621.8,1013.6 621.9,1012.3 622.0,1011.7 622.1,1012.4 622.3,1013.7 622.5,1015.0 622.5,1015.3 622.6,1014.9 623.0,1013.6 623.5,1015.9 624.0,1013.8 624.5,1016.0 625.0,1013.0 625.5,1015.6 626.0,1013.6 626.5,1015.7 627.0,1013.5 627.5,1015.7 628.0,1010.2 628.5,1015.3 629.0,1013.1 629.5,1015.5 630.0,1013.3 630.5,1015.7 631.0,1010.2 631.5,1015.6 632.0,1013.0 632.5,1015.8 633.0,1013.7 633.5,1015.3 633.5,1015.1 633.7,1014.1 633.9,1013.2 634.0,1012.6 634.1,1013.0 634.2,1014.0 634.4,1013.8 634.5,1013.2 634.6,1012.2 634.8,1009.7 635.0,1005.2 635.0,1006.7 635.1,1009.5 635.3,1012.2 635.5,1013.7 635.5,1013.9 635.6,1014.7 635.8,1013.8 636.0,1012.9 636.2,1013.8 636.4,1014.8 636.5,1015.6 637.0,1013.2 637.5,1015.4 638.0,1012.7 638.5,1015.9 639.0,1013.6 639.5,1015.9 640.0,1012.1 640.5,1016.0 641.0,1013.2 641.5,1015.5 642.0,1010.0 642.5,1015.7 643.0,1011.1 643.5,1015.4 644.0,1012.7 644.5,1015.7 645.0,1012.3 645.5,1015.9 646.0,1012.8 646.5,1015.4 647.0,1012.7 647.5,1016.0 648.0,1012.3 648.5,1015.5 649.0,1012.6 649.5,1015.8 650.0,1012.9 650.5,1015.6 651.0,1012.8 651.5,1015.9 652.0,1012.2 652.5,1015.8 653.0,1013.2 653.5,1016.0 654.0,1009.2 654.5,1015.6 655.0,1012.9 655.5,1015.4 656.0,1013.4 656.5,1016.0 657.0,1013.8 657.5,1015.4 658.0,1013.7 658.5,1015.6 659.0,1013.1 659.5,1015.4 660.0,1013.8 660.5,1016.0 661.0,1010.3 661.5,1016.0 662.0,1011.3 662.5,1015.5 663.0,1013.0 663.5,1015.7 664.0,1012.4 664.5,1015.5 665.0,1012.4 665.5,1015.4 666.0,1012.1 666.5,1016.0 667.0,1011.9 667.5,1015.3 668.0,1012.3 668.5,1015.6 669.0,1012.3 669.5,1015.7 670.0,1012.8 670.5,1016.0 671.0,1012.1 671.5,1015.6 672.0,1011.7 672.5,1016.1 673.0,1009.9 673.5,1015.7 674.0,1011.6 674.5,1015.7 675.0,1013.6 675.5,1015.5 676.0,1009.4 676.5,1015.7 677.0,1013.6 677.5,1015.5 678.0,1012.7 678.5,1015.4 679.0,1013.6 679.5,1015.7 680.0,1012.7 680.5,1015.5 681.0,1012.7 681.5,1015.3 682.0,1013.3 682.5,1015.7 682.6,1015.0 682.8,1013.8 683.0,1012.7 683.0,1012.5 683.1,1013.5 683.3,1014.5 683.5,1013.7 683.7,1012.2 683.9,1009.4 684.0,1005.7 684.0,1005.1 684.2,1009.5 684.4,1012.1 684.5,1013.4 684.5,1013.7 684.7,1014.2 684.9,1013.1 685.0,1012.5 685.1,1013.0 685.2,1014.1 685.4,1015.2 685.5,1015.8 686.0,1012.0 686.5,1015.8 687.0,1013.1 687.5,1016.1 688.0,1010.8 688.5,1016.1 689.0,1010.7 689.5,1016.0 690.0,1012.5 690.5,1015.5 691.0,1013.5 691.5,1015.7 692.0,1013.2 692.5,1015.4 693.0,1012.6 693.5,1016.0 694.0,1013.3 694.5,1016.0 695.0,1012.8 695.5,1015.3 695.7,1014.6 695.9,1013.7 696.0,1013.1 696.1,1012.4 696.3,1010.2 696.5,1006.3 696.5,1004.9 696.6,999.8 696.8,989.0 697.0,973.4 697.0,972.3 697.2,943.4 697.4,972.3 697.5,983.4 697.6,989.7 697.8,999.8 698.0,1006.3 698.0,1007.5 698.1,1010.2 698.3,1012.5 698.5,1013.8 698.5,1013.9 698.7,1014.8 699.0,1013.2 699.5,1015.8 700.0,1011.7 700.5,1015.6 701.0,1013.3 701.5,1015.5 702.0,1013.9 702.5,1016.1 703.0,1011.5 703.5,1015.6 704.0,1013.7 704.5,1015.5 705.0,1013.3 705.5,1015.5 706.0,1013.8 706.5,1015.5 707.0,1013.3 707.5,1016.1 708.0,1012.6 708.5,1015.6 709.0,1012.9 709.5,1015.3 709.7,1014.5 709.9,1013.4 710.0,1012.8 710.1,1012.1 710.3,1009.7 710.5,1005.4 710.5,1003.9 710.6,998.4 710.8,986.7 711.0,969.8 711.0,968.5 711.2,937.1 711.4,968.5 711.5,980.6 711.6,987.4 711.8,998.3 712.0,1005.4 712.0,1006.7 712.1,1009.6 712.3,1012.1 712.5,1013.4 712.5,1013.5 712.7,1014.3 712.9,1013.8 713.0,1013.4 713.1,1013.9 713.3,1014.1 713.5,1013.0 713.5,1012.7 713.6,1011.2 713.8,1008.1 714.0,1003.9 714.0,1003.3 714.2,994.8 714.4,980.8 714.5,989.1 714.6,994.8 714.8,1002.9 715.0,1008.2 715.0,1009.0 715.1,1011.3 715.3,1013.2 715.5,1014.2 715.5,1014.3 715.7,1014.9 715.9,1013.9 716.0,1013.4 716.5,1015.5 717.0,1009.6 717.5,1015.5 718.0,1012.9 718.5,1016.0 719.0,1013.4 719.5,1015.6 720.0,1013.6 720.5,1015.7 721.0,1012.7 721.5,1015.9 722.0,1009.8 722.2,1012.3 722.4,1014.5 722.5,1015.0 722.5,1014.9 722.7,1014.0 722.9,1012.6 723.0,1011.4 723.1,1010.1 723.2,1006.2 723.4,999.1 723.5,995.2 723.6,988.0 723.8,999.1 724.0,1006.2 724.0,1007.5 724.1,1010.1 724.3,1012.6 724.5,1014.1 724.5,1014.2 724.6,1014.9 724.8,1014.2 725.0,1013.6 725.5,1015.9 726.0,1013.6 726.5,1016.1 727.0,1013.1 727.5,1015.4 728.0,1013.8 728.5,1015.9 729.0,1012.1 729.5,1015.4 730.0,1012.6 730.5,1016.0 730.8,1014.3 731.0,1013.1 731.0,1013.0 731.1,1013.7 731.3,1014.3 731.5,1013.1 731.7,1011.0 731.9,1007.7 732.0,1003.0 732.0,1001.7 732.2,992.3 732.4,1002.2 732.5,1006.3 732.5,1007.7 732.7,1011.2 732.9,1013.0 733.0,1012.4 733.1,1012.9 733.2,1014.1 733.4,1015.3 733.5,1015.6 733.6,1014.6 734.0,1009.8 734.5,1015.5 735.0,1012.7 735.5,1015.9 736.0,1012.0 736.5,1015.6 737.0,1012.1 737.5,1016.0 738.0,1011.6 738.5,1015.8 738.9,1010.4 739.0,1009.0 739.1,1009.9 739.2,1012.2 739.4,1014.4 739.5,1014.6 739.6,1014.0 739.8,1012.7 740.0,1010.2 740.0,1009.3 740.1,1006.4 740.3,999.5 740.5,1006.1 740.5,1006.9 740.6,1010.2 740.8,1012.6 741.0,1013.5 741.2,1014.1 741.4,1014.9 741.5,1015.5 741.5,1015.4 741.7,1014.6 742.0,1013.3 742.5,1016.0 743.0,1012.9 743.5,1015.5 744.0,1010.9 744.5,1015.6 745.0,1010.4 745.5,1015.5 746.0,1013.4 746.5,1015.5 747.0,1012.8 747.5,1015.8 748.0,1013.5 748.5,1015.8 749.0,1013.9 749.5,1016.1 750.0,1012.8 750.5,1015.9 750.9,1013.8 751.0,1013.2 751.1,1013.6 751.2,1014.5 751.4,1014.9 751.5,1014.6 751.6,1014.1 751.8,1012.7 752.0,1010.2 752.0,1009.3 752.1,1006.4 752.3,999.5 752.5,1006.1 752.5,1006.9 752.6,1010.2 752.8,1012.6 753.0,1013.3 753.2,1014.2 753.4,1015.1 753.5,1015.7 753.5,1015.7 753.7,1015.0 754.0,1013.5 754.5,1015.8 755.0,1013.4 755.5,1015.5 756.0,1013.9 756.5,1015.9 757.0,1012.3 757.5,1015.5 758.0,1013.0 758.5,1015.5 759.0,1012.7 759.5,1015.5 760.0,1008.9 760.5,1015.9 761.0,1012.6 761.5,1015.6 762.0,1012.8 762.5,1016.1 762.9,1013.6 763.0,1012.9 763.1,1013.3 763.2,1014.3 763.4,1015.3 763.5,1015.7 763.6,1015.3 763.8,1014.3 763.9,1013.4 764.0,1013.1 764.1,1013.7 764.3,1012.2 764.5,1013.8 764.5,1014.0 764.6,1014.7 764.8,1014.2 765.0,1013.5 765.0,1013.4 765.2,1014.3 765.3,1015.1 765.5,1015.9 765.5,1015.8 765.7,1014.9 766.0,1013.3 766.5,1015.5 767.0,1013.9 767.5,1015.7 768.0,1012.9 768.5,1016.1 769.0,1012.2 769.5,1016.0 770.0,1012.8 770.5,1015.6 771.0,1012.1 771.5,1015.5 772.0,1012.6 772.5,1016.2 773.0,1009.8 773.5,1016.1 774.0,1013.4 774.5,1015.9 775.0,1013.7 775.5,1015.5 776.0,1013.5 776.5,1016.1 777.0,1010.6 777.5,1015.5 778.0,1013.1 778.0,1013.0 778.2,1014.1 778.3,1015.2 778.5,1015.8 778.5,1015.7 778.7,1014.9 778.9,1013.6 779.0,1012.8 779.0,1013.0 779.2,1012.8 779.4,1010.5 779.5,1012.0 779.6,1012.8 779.7,1014.1 779.9,1013.1 780.0,1012.6 780.1,1013.1 780.3,1014.2 780.4,1015.2 780.5,1015.5 780.6,1015.0 780.8,1014.3 781.0,1013.3 781.5,1015.7 782.0,1013.3 782.5,1016.1 783.0,1013.2 783.5,1016.0 784.0,1013.9 784.5,1015.7 784.5,1015.7 784.7,1015.1 784.8,1014.4 785.0,1013.7 785.0,1013.8 785.2,1014.5 785.4,1014.7 785.5,1014.0 785.5,1013.7 785.7,1011.9 785.9,1009.2 786.0,1011.1 786.1,1012.0 786.2,1013.7 786.4,1014.7 786.5,1015.0 786.6,1015.3 786.8,1014.1 786.9,1013.1 787.0,1012.7 787.1,1013.5 787.3,1014.6 787.5,1016.0 788.0,1013.1 788.5,1016.1 789.0,1013.7 789.5,1015.8 790.0,1013.8 790.5,1015.5 791.0,1014.0 791.5,1015.6 792.0,1011.0 792.5,1015.8 793.0,1013.8 793.5,1016.0 794.0,1013.7 794.5,1015.9 795.0,1013.1 795.5,1015.8 796.0,1013.5 796.5,1016.0 797.0,1013.2 797.5,1015.8 798.0,1013.2 798.5,1015.6 799.0,1013.8 799.5,1015.9 800.0,1012.7 800.5,1015.9 801.0,1012.4 801.5,1016.2 802.0,1013.4 802.5,1016.1 803.0,1013.9 803.5,1016.1 804.0,1009.5 804.5,1015.7 805.0,1012.6 805.5,1015.5 806.0,1013.6 806.5,1016.2 807.0,1012.6 807.5,1015.8 808.0,1012.3 808.5,1015.7 809.0,1013.0 809.5,1015.8 810.0,1011.6 810.5,1016.1 811.0,1012.8 811.5,1015.9 812.0,1013.6 812.5,1016.2 813.0,1013.1 813.5,1015.5 814.0,1013.4 814.5,1015.9 815.0,1013.7 815.5,1015.7 816.0,1012.1 816.5,1016.0 817.0,1013.7 817.5,1015.7 818.0,1013.1 818.5,1016.1 819.0,1013.1 819.5,1015.6 820.0,1013.7 820.5,1015.7 821.0,1013.6 821.5,1015.7 822.0,1012.9 822.5,1015.6 823.0,1012.9 823.5,1016.0 824.0,1013.1 824.5,1016.0 825.0,1013.8 825.5,1015.6 826.0,1014.0 826.5,1016.0 827.0,1014.1 827.5,1015.7 828.0,1014.1 828.5,1015.6 829.0,1013.5 829.5,1015.6 830.0,1009.6 830.5,1015.7 831.0,1013.6 831.5,1015.9 832.0,1012.6 832.5,1016.1 833.0,1012.3 833.5,1016.1 834.0,1013.0 834.3,1014.6 834.5,1015.6 834.5,1015.7 834.6,1015.1 834.8,1014.3 835.0,1013.6 835.2,1014.4 835.4,1013.1 835.5,1011.4 835.5,1011.0 835.7,1007.5 835.9,1011.1 836.0,1012.6 836.0,1013.1 836.2,1014.4 836.4,1015.1 836.5,1015.4 836.6,1015.2 836.8,1014.1 836.9,1013.0 837.0,1012.5 837.1,1013.1 837.5,1015.6 838.0,1012.1 838.5,1016.1 839.0,1011.9 839.5,1016.2 840.0,1012.9 840.5,1016.2 841.0,1012.7 841.5,1016.0 842.0,1013.5 842.5,1015.9 843.0,1013.0 843.5,1015.9 844.0,1012.7 844.5,1015.8 845.0,1010.4 845.5,1015.9 846.0,1012.8 846.5,1016.0 847.0,1012.6 847.5,1016.0 848.0,1013.6 848.5,1016.0 849.0,1012.7 849.5,1015.6 850.0,1013.5 850.5,1016.2 851.0,1011.6 851.5,1016.2 852.0,1012.9 852.5,1016.0 853.0,1010.9 853.5,1015.7 854.0,1012.0 854.5,1015.5 855.0,1013.6 855.5,1016.1 856.0,1013.6 856.5,1016.2 857.0,1014.0 857.3,1015.2 857.5,1015.8 857.5,1015.8 857.6,1015.1 857.8,1014.1 858.0,1013.2 858.2,1013.0 858.4,1010.8 858.5,1007.8 858.5,1007.0 858.7,1000.9 858.9,1007.2 859.0,1009.9 859.0,1010.8 859.2,1013.1 859.4,1014.3 859.5,1014.8 859.6,1015.1 859.8,1014.4 859.9,1013.0 860.0,1012.5 860.1,1013.2 860.5,1015.7 861.0,1013.1 861.5,1015.9 862.0,1013.6 862.5,1016.1 863.0,1012.3 863.0,1012.0 863.1,1013.1 863.3,1014.4 863.5,1015.7 863.5,1015.7 863.7,1014.4 863.8,1012.6 864.0,1011.0 864.0,1011.1 864.2,1011.8 864.4,1008.9 864.5,1011.3 864.5,1011.8 864.7,1013.6 864.9,1014.2 865.0,1013.8 865.1,1014.0 865.2,1014.6 865.4,1015.2 865.5,1015.6 865.6,1015.3 865.8,1014.7 866.0,1013.9 866.5,1016.3 867.0,1013.6 867.5,1015.6 868.0,1013.6 868.5,1015.5 869.0,1013.0 869.5,1015.8 870.0,1009.7 870.5,1015.6 871.0,1013.2 871.5,1016.2 872.0,1013.2 872.5,1015.6 873.0,1013.7 873.5,1015.7 874.0,1013.1 874.5,1015.7 875.0,1013.3 875.5,1015.7 876.0,1013.8 876.5,1016.0 877.0,1012.9 877.5,1015.7 878.0,1013.6 878.5,1015.5 879.0,1012.7 879.5,1015.9 880.0,1012.9 880.5,1016.0 881.0,1013.6 881.5,1015.9 882.0,1010.5 882.4,1014.1 882.5,1015.6 882.5,1015.4 882.7,1014.6 882.9,1013.7 883.0,1013.1 883.0,1013.4 883.2,1014.4 883.4,1013.8 883.5,1012.9 883.6,1012.0 883.8,1009.2 883.9,1011.4 884.0,1010.7 884.1,1011.7 884.3,1013.6 884.5,1015.3 884.5,1015.4 884.6,1015.4 884.6,1015.2 884.8,1014.6 884.8,1014.5 884.9,1013.8 885.0,1013.6 885.0,1013.5 885.1,1014.0 885.1,1014.2 885.3,1014.8 885.5,1015.1 885.5,1015.0 885.6,1014.3 885.8,1012.8 886.0,1010.9 886.0,1011.0 886.2,1012.5 886.3,1014.2 886.5,1015.1 886.5,1015.1 886.7,1014.6 886.9,1013.7 887.0,1013.0 887.0,1013.2 887.2,1014.2 887.4,1015.2 887.5,1015.8 888.0,1012.8 888.5,1015.6 889.0,1013.5 889.5,1015.8 890.0,1013.8 890.5,1015.5 891.0,1013.8 891.5,1016.3 892.0,1011.1 892.4,1014.9 892.5,1015.9 892.6,1015.5 892.8,1014.5 892.9,1013.6 893.0,1013.2 893.1,1013.8 893.3,1014.2 893.5,1012.6 893.5,1012.1 893.6,1010.3 893.8,1006.0 894.0,1010.1 894.0,1010.6 894.1,1012.6 894.3,1014.1 894.5,1015.0 894.7,1015.0 894.9,1013.9 895.0,1013.1 895.0,1013.2 895.2,1014.3 895.5,1016.1 896.0,1013.8 896.5,1015.6 897.0,1012.1 897.5,1016.2 898.0,1012.6 898.5,1016.3 899.0,1013.5 899.5,1015.5 900.0,1014.2 900.5,1016.1 901.0,1013.8 901.5,1015.9 902.0,1013.9 902.5,1016.2 903.0,1014.3 903.5,1015.8 904.0,1014.3 904.5,1015.9 905.0,1014.1 905.5,1016.1 906.0,1013.5 906.5,1016.1 907.0,1012.5 907.2,1013.7 907.4,1015.0 907.5,1015.6 907.5,1015.5 907.7,1015.0 907.9,1014.0 908.0,1013.0 908.0,1012.5 908.2,1009.8 908.4,1005.5 908.5,1008.3 908.6,1009.8 908.8,1012.5 908.9,1014.0 909.0,1014.3 909.1,1014.7 909.3,1015.3 909.5,1015.8 909.5,1015.9 909.6,1015.7 909.8,1014.8 910.0,1013.8 910.5,1016.2 911.0,1013.7 911.5,1016.2 912.0,1013.9 912.5,1016.0 913.0,1014.3 913.5,1016.0 914.0,1014.3 914.5,1016.0 915.0,1014.4 915.5,1016.0 916.0,1014.3 916.5,1015.9 917.0,1014.4 917.5,1015.8 918.0,1014.8 918.5,1016.0 919.0,1014.4 919.5,1016.1 920.0,1014.4 920.5,1016.1 921.0,1014.7 921.5,1016.3 922.0,1014.6 922.5,1016.2 923.0,1014.7 923.5,1016.2 924.0,1014.7 924.5,1015.9 925.0,1014.8 925.5,1016.0 926.0,1014.4 926.5,1016.0 926.5,1015.9 926.7,1015.4 926.9,1014.9 927.0,1014.5 927.0,1014.6 927.2,1015.2 927.4,1015.0 927.5,1014.5 927.6,1014.1 927.7,1012.6 927.9,1010.1 928.0,1011.4 928.1,1012.6 928.3,1014.1 928.4,1015.0 928.5,1015.2 928.6,1015.6 928.8,1015.2 929.0,1014.6 929.0,1014.5 929.1,1014.9 929.3,1015.5 929.5,1016.0 930.0,1014.7 930.5,1016.0 931.0,1014.3 931.5,1016.0 932.0,1014.7 932.5,1016.3 933.0,1014.6 933.5,1016.3 934.0,1014.1 934.5,1016.1 935.0,1013.7 935.5,1016.2 936.0,1014.4 936.5,1015.9 937.0,1013.8 937.5,1016.3 938.0,1014.6 938.5,1016.0 939.0,1014.3 939.5,1016.1 940.0,1014.0 940.5,1015.9 941.0,1014.1 941.5,1015.9 942.0,1013.7 942.5,1016.2 943.0,1013.6 943.5,1016.1 944.0,1014.2 944.5,1016.0 945.0,1014.4 945.5,1015.9 946.0,1012.8 946.5,1016.0 947.0,1014.1 947.5,1016.2 948.0,1014.3 948.5,1016.1 949.0,1014.3 949.5,1015.9 950.0,1014.1 950.5,1016.2 951.0,1014.5 951.5,1016.1 952.0,1013.3 952.5,1016.1 953.0,1014.4 953.5,1015.9 954.0,1014.5 954.5,1015.9 955.0,1011.6 955.5,1015.9 956.0,1013.7 956.5,1015.9 957.0,1014.1 957.5,1016.1 957.5,1016.0 957.7,1015.4 957.9,1014.7 958.0,1014.2 958.0,1014.3 958.2,1015.0 958.4,1015.0 958.5,1014.5 958.6,1014.1 958.7,1012.6 958.9,1010.0 959.0,1011.3 959.1,1012.5 959.3,1014.1 959.4,1015.0 959.5,1015.2 959.6,1015.6 959.8,1015.1 960.0,1014.5 960.0,1014.4 960.1,1014.9 960.3,1015.5 960.5,1016.1 961.0,1014.8 961.5,1016.3 962.0,1015.1 962.5,1016.3 963.0,1014.3 963.5,1016.2 964.0,1011.9 964.5,1015.9 965.0,1013.9 965.5,1016.2 966.0,1014.5 966.5,1016.3 967.0,1014.0 967.5,1016.2 968.0,1014.2 968.5,1016.1 969.0,1012.5 969.5,1016.2 970.0,1013.9 970.5,1016.2 971.0,1014.1 971.5,1016.1 972.0,1013.1 972.5,1016.4 973.0,1014.4 973.5,1016.4 974.0,1012.4 974.5,1016.2 975.0,1013.6 975.5,1016.3 976.0,1014.2 976.5,1016.3 977.0,1013.8 977.5,1016.3 978.0,1014.1 978.5,1016.3 979.0,1014.4 979.5,1016.3 980.0,1014.6 980.5,1016.1 981.0,1014.0 981.5,1016.2 982.0,1014.5 982.5,1016.2 983.0,1014.6 983.5,1016.2 984.0,1014.5 984.5,1016.2 985.0,1013.5 985.5,1016.0 986.0,1014.7 986.5,1016.1 987.0,1012.3 987.5,1016.0 988.0,1012.2 988.5,1015.9 988.9,1015.0 989.0,1014.7 989.5,1016.3 989.9,1015.3 990.0,1015.1 990.5,1016.0 990.9,1014.6 991.0,1014.3 991.5,1016.0 991.9,1015.0 992.0,1014.7 992.5,1015.7 992.9,1015.2 993.0,1015.0 993.5,1015.0 993.9,1014.5 994.0,1014.3 994.5,1013.1 994.8,1011.8 994.9,1011.2 995.0,1010.6 995.1,1009.8 995.4,1006.7 995.5,1005.3 995.7,1001.8 995.9,996.9 996.0,993.9 996.3,981.1 996.5,968.5 996.6,960.4 996.9,926.6 997.0,936.8 997.3,960.2 997.5,972.5 997.7,980.8 998.0,991.5 998.1,993.4 998.5,1001.2 998.5,1001.8 998.7,1004.4 998.9,1006.0 999.0,1007.4 999.2,1009.1 999.5,1010.5 999.6,1011.1 1000.0,1012.3 1000.0,1012.4 1000.5,1013.4 1001.0,1014.1 1001.5,1014.5 1002.0,1014.8 1002.3,1015.0 1002.5,1015.1 1003.0,1014.9 1003.5,1015.4 1004.0,1014.2 1004.1,1014.6 1004.5,1015.7 1005.0,1014.7 1005.5,1015.9 1005.9,1013.7 1006.0,1013.1 1006.5,1016.0 1007.0,1014.6 1007.5,1016.1 1007.7,1015.4 1008.0,1014.0 1008.5,1016.0 1009.0,1014.0 1009.4,1015.8 1009.5,1016.1 1009.8,1015.2 1010.0,1014.0 1010.1,1014.6 1010.5,1015.6 1010.9,1013.9 1011.0,1013.1 1011.2,1014.3 1011.3,1014.2 1011.5,1013.5 1011.6,1013.1 1012.0,1010.9 1012.4,1013.1 1012.5,1013.6 1012.8,1014.4 1013.0,1014.9 1013.1,1015.1 1013.5,1015.6 1013.9,1014.7 1014.0,1014.2 1014.2,1015.3 1014.5,1016.2 1014.6,1015.9 1015.0,1014.5 1015.5,1016.0 1016.0,1014.4 1016.5,1016.1 1017.0,1014.0 1017.5,1016.2 1018.0,1013.2 1018.5,1016.2 1019.0,1014.4 1019.5,1016.1 1020.0,1014.5 1020.5,1016.1 1021.0,1014.7 1021.5,1016.0 1022.0,1014.6 1022.5,1016.3 1023.0,1014.1 1023.5,1016.3 1024.0,1014.7 1024.5,1016.1 1025.0,1015.0 1025.5,1016.3 1026.0,1014.5 1026.5,1016.0 1027.0,1013.2 1027.5,1016.1 1028.0,1012.6 1028.5,1016.0 1029.0,1014.5 1029.5,1016.1 1030.0,1014.0 1030.5,1016.3 1031.0,1014.4 1031.5,1016.3 1032.0,1011.8 1032.5,1016.2 1033.0,1013.7 1033.5,1016.4 1034.0,1013.6 1034.5,1016.3 1035.0,1014.1 1035.5,1016.4 1036.0,1013.6 1036.5,1016.1 1037.0,1014.1 1037.5,1016.3 1038.0,1013.9 1038.5,1016.4 1039.0,1013.9 1039.5,1016.4 1040.0,1011.5 1040.5,1016.4 1041.0,1013.9 1041.5,1016.3 1042.0,1014.4 1042.5,1016.3 1043.0,1014.5 1043.5,1016.2 1044.0,1014.7 1044.5,1016.3 1045.0,1014.2 1045.5,1016.4 1046.0,1014.6 1046.5,1016.0 1047.0,1014.7 1047.5,1016.2 1048.0,1012.6 1048.5,1016.4 1049.0,1014.1 1049.5,1016.4 1050.0,1014.5 1050.5,1016.4 1051.0,1014.3 1051.5,1016.3 1052.0,1014.3 1052.5,1016.0 1053.0,1014.8 1053.5,1016.4 1054.0,1014.6 1054.5,1016.5 1055.0,1014.9 1055.5,1016.3 1056.0,1014.3 1056.5,1016.4 1057.0,1014.5 1057.5,1016.2 1058.0,1015.0 1058.5,1016.3 1058.5,1016.2 1058.7,1015.5 1058.9,1014.7 1059.0,1014.2 1059.0,1014.4 1059.2,1015.1 1059.4,1015.2 1059.5,1014.8 1059.6,1014.3 1059.8,1012.9 1059.9,1010.6 1060.0,1011.7 1060.1,1012.9 1060.3,1014.4 1060.5,1015.2 1060.5,1015.4 1060.6,1015.7 1060.8,1015.2 1061.0,1014.6 1061.0,1014.5 1061.2,1015.0 1061.3,1015.6 1061.5,1016.2 1062.0,1014.0 1062.5,1016.1 1063.0,1012.3 1063.5,1016.3 1064.0,1014.5 1064.5,1016.4 1065.0,1014.3 1065.5,1016.1 1066.0,1014.3 1066.5,1016.0 1067.0,1013.0 1067.5,1016.5 1068.0,1014.1 1068.5,1016.3 1069.0,1013.9 1069.5,1016.2 1070.0,1014.1 1070.5,1016.2 1071.0,1014.1 1071.5,1016.3 1072.0,1014.7 1072.5,1016.3 1073.0,1014.5 1073.5,1016.1 1074.0,1014.3 1074.5,1016.2 1075.0,1012.5 1075.5,1016.0 1076.0,1014.2 1076.5,1016.2 1077.0,1014.6 1077.5,1016.5 1078.0,1014.2 1078.5,1016.4 1079.0,1014.6 1079.5,1016.3 1080.0,1014.2 1080.5,1016.3 1081.0,1013.9 1081.5,1016.2 1082.0,1014.4 1082.5,1016.1 1083.0,1014.1 1083.5,1016.4 1084.0,1014.1 1084.5,1016.4 1085.0,1013.9 1085.5,1016.3 1086.0,1013.8 1086.5,1016.4 1087.0,1014.6 1087.5,1016.1 1088.0,1015.0 1088.5,1016.5 1089.0,1014.6 1089.5,1016.1 1090.0,1014.2 1090.5,1016.3 1091.0,1013.8 1091.5,1016.2 1092.0,1014.5 1092.5,1016.1 1093.0,1014.7 1093.5,1016.3 1094.0,1014.1 1094.5,1016.2 1095.0,1014.6 1095.5,1016.1 1096.0,1015.0 1096.5,1016.1 1097.0,1014.7 1097.5,1016.3 1098.0,1014.9 1098.5,1016.1 1099.0,1012.7 1099.5,1016.5 1100.0,1014.7 1100.5,1016.1 1101.0,1015.0 1101.5,1016.4 1102.0,1015.3 1102.5,1016.3 1103.0,1014.4 1103.5,1016.3 1104.0,1014.6 1104.5,1016.2 1105.0,1015.1 1105.5,1016.2 1106.0,1015.2 1106.5,1016.1 1107.0,1014.7 1107.5,1016.4 1108.0,1014.1 1108.5,1016.4 1109.0,1014.0 1109.5,1016.2 1110.0,1013.8 1110.5,1016.1 1111.0,1014.3 1111.5,1016.2 1112.0,1014.7 1112.5,1016.1 1113.0,1014.9 1113.5,1016.2 1114.0,1014.8 1114.5,1016.1 1115.0,1014.7 1115.5,1016.5 1116.0,1014.3 1116.5,1016.4 1117.0,1014.0 1117.5,1016.1 1118.0,1014.6 1118.5,1016.4 1119.0,1014.4 1119.5,1016.5 1120.0,1014.2 1120.5,1016.4 1121.0,1014.8 1121.5,1016.3 1122.0,1013.4 1122.5,1016.5 1123.0,1015.1 1123.5,1016.6 1124.0,1014.6 1124.5,1016.4 1125.0,1015.1 1125.5,1016.4 1126.0,1013.1 1126.5,1016.3 1127.0,1015.0 1127.5,1016.1 1128.0,1014.5 1128.5,1016.3 1129.0,1014.1 1129.5,1016.3 1130.0,1014.8 1130.5,1016.4 1131.0,1015.1 1131.5,1016.5 1132.0,1014.5 1132.5,1016.2 1133.0,1013.8 1133.5,1016.4 1134.0,1015.1 1134.5,1016.5 1135.0,1014.9 1135.5,1016.4 1136.0,1013.6 1136.5,1016.2 1137.0,1014.0 1137.5,1016.3 1138.0,1014.7 1138.5,1016.3 1139.0,1014.7 1139.5,1016.2 1140.0,1014.1 1140.5,1016.5 1141.0,1014.7 1141.5,1016.2 1142.0,1014.4 1142.5,1016.4 1143.0,1014.2 1143.5,1016.4 1144.0,1013.5 1144.5,1016.4 1145.0,1014.6 1145.5,1016.2 1146.0,1014.4 1146.5,1016.3 1147.0,1012.8 1147.5,1016.5 1148.0,1014.6 1148.5,1016.4 1149.0,1014.5 1149.5,1016.3 1150.0,1016.6" fill="none" stroke="#07340b" stroke-width="2.20" stroke-linejoin="round"/>
<text x="114.4" y="1173.0" font-size="43.00">E</text>
<text x="238.8" y="1135.8" font-size="31.97">1 h</text>
<text x="607.2" y="1110.6" font-size="25.79">First sites of cleavage:</text>
<text x="906.5" y="1086.5" font-size="21.90" style="font-weight:normal" stroke="#231f20" stroke-width="0.85">13981.9</text>
<text x="430.1" y="1178.0" font-size="21.40" style="font-weight:normal" stroke="#231f20" stroke-width="0.85">6990.9</text>
<text x="559.4" y="1164.2" font-size="21.58" style="font-weight:normal" stroke="#231f20" stroke-width="0.85">8678.9</text>
<path d="M590.4 1176.4V1200.9" stroke="#231f20" stroke-width="1.8" fill="none"/>
<path d="M583.4 1198.9L597.4 1198.9L590.4 1211.7Z" fill="#231f20"/>
<text x="699.7" y="1173.2" font-size="21.38" style="font-weight:normal" stroke="#231f20" stroke-width="0.85">10609.9</text>
<path d="M738.3 1179.0V1200.9" stroke="#231f20" stroke-width="1.8" fill="none"/>
<path d="M731.8 1198.9L744.8 1198.9L738.3 1210.1Z" fill="#231f20"/>
<text x="799.3" y="1153.2" font-size="20.91" style="font-weight:normal" stroke="#231f20" stroke-width="0.85">11927.7</text>
<path d="M837.4 1161.9V1209.9" stroke="#231f20" stroke-width="1.8" fill="none"/>
<path d="M831.2 1207.9L843.6 1207.9L837.4 1219.7Z" fill="#231f20"/>
<text x="758.5" y="1191.8" font-size="21.25" style="font-weight:normal" stroke="#231f20" stroke-width="0.85">11799.6</text>
<path d="M827.8 1198.2V1208.9" stroke="#231f20" stroke-width="1.8" fill="none"/>
<path d="M821.8 1206.9L833.8 1206.9L827.8 1217.5Z" fill="#231f20"/>
<text x="844.2" y="1178.0" font-size="21.38" style="font-weight:normal" stroke="#231f20" stroke-width="0.85">12257.9</text>
<path d="M862.1 1197.3V1212.1" stroke="#231f20" stroke-width="1.8" fill="none"/>
<path d="M855.9 1210.1L868.3 1210.1L862.1 1221.3Z" fill="#231f20"/>
<text x="897.2" y="1206.2" font-size="21.27" style="font-weight:normal" stroke="#231f20" stroke-width="0.85">13108.4</text>
<path d="M927.3 1200.5V1213.7" stroke="#231f20" stroke-width="1.8" fill="none"/>
<path d="M921.1 1211.7L933.5 1211.7L927.3 1223.0Z" fill="#231f20"/>
<polyline points="85.0,1228.3 85.5,1228.3 86.0,1228.3 86.5,1228.3 87.0,1228.2 87.5,1228.2 88.0,1228.2 88.5,1228.2 89.0,1228.2 89.5,1228.2 90.0,1228.2 90.5,1228.2 91.0,1228.2 91.5,1228.2 92.0,1228.2 92.5,1228.2 93.0,1228.2 93.5,1228.2 94.0,1228.2 94.5,1228.1 95.0,1228.1 95.5,1228.1 96.0,1228.1 96.5,1228.1 97.0,1228.1 97.5,1228.1 98.0,1228.1 98.5,1228.1 99.0,1228.1 99.5,1228.1 100.0,1228.1 100.5,1228.1 101.0,1228.1 101.5,1228.0 102.0,1228.0 102.5,1228.0 103.0,1228.0 103.5,1228.0 104.0,1228.0 104.5,1228.0 105.0,1228.0 105.5,1228.0 106.0,1228.0 106.5,1228.0 107.0,1228.0 107.5,1228.0 108.0,1228.0 108.5,1228.0 109.0,1227.9 109.5,1227.9 110.0,1227.9 110.5,1227.9 111.0,1227.9 111.5,1227.9 112.0,1227.9 112.5,1227.9 113.0,1227.9 113.5,1227.9 114.0,1227.9 114.5,1227.9 115.0,1227.9 115.5,1227.9 116.0,1227.9 116.5,1227.8 117.0,1227.8 117.5,1227.8 118.0,1227.8 118.5,1227.8 119.0,1227.8 119.5,1227.8 120.0,1227.3 120.5,1227.7 121.0,1227.3 121.5,1227.8 122.0,1227.3 122.5,1227.7 123.0,1227.0 123.5,1227.8 124.0,1227.3 124.5,1227.8 125.0,1227.4 125.5,1227.7 126.0,1227.3 126.5,1227.7 127.0,1227.4 127.5,1227.8 128.0,1227.5 128.5,1227.8 129.0,1227.5 129.5,1227.7 130.0,1227.4 130.5,1227.7 131.0,1227.4 131.5,1227.7 132.0,1227.3 132.5,1227.7 133.0,1227.4 133.5,1227.8 134.0,1227.2 134.5,1227.7 135.0,1227.5 135.5,1227.8 136.0,1227.5 136.5,1227.8 137.0,1227.4 137.5,1227.7 138.0,1227.5 138.5,1227.8 139.0,1227.4 139.5,1227.8 140.0,1227.3 140.5,1227.7 141.0,1227.2 141.5,1227.7 142.0,1227.4 142.5,1227.7 143.0,1227.3 143.5,1227.8 144.0,1227.3 144.5,1227.8 145.0,1227.3 145.5,1227.7 146.0,1227.4 146.5,1227.8 147.0,1227.4 147.5,1227.7 148.0,1227.4 148.5,1227.7 149.0,1227.4 149.5,1227.8 150.0,1227.1 150.5,1227.7 151.0,1227.0 151.5,1227.7 152.0,1227.4 152.5,1227.7 153.0,1227.3 153.5,1227.8 154.0,1227.4 154.5,1227.8 155.0,1227.4 155.5,1227.8 156.0,1227.3 156.5,1227.7 157.0,1227.0 157.5,1227.8 158.0,1227.3 158.5,1227.8 159.0,1227.2 159.5,1227.7 160.0,1227.3 160.5,1227.7 161.0,1227.3 161.5,1227.8 162.0,1227.4 162.5,1227.7 163.0,1227.3 163.5,1227.8 164.0,1227.1 164.5,1227.7 165.0,1227.3 165.5,1227.7 166.0,1227.3 166.5,1227.7 167.0,1227.3 167.5,1227.7 168.0,1227.4 168.5,1227.7 169.0,1227.3 169.5,1227.7 170.0,1227.3 170.5,1227.8 171.0,1227.3 171.5,1227.7 172.0,1227.4 172.5,1227.7 173.0,1227.3 173.5,1227.7 174.0,1227.3 174.5,1227.8 175.0,1227.3 175.5,1227.7 176.0,1227.2 176.5,1227.7 177.0,1227.3 177.5,1227.7 178.0,1227.3 178.5,1227.7 179.0,1227.3 179.5,1227.8 180.0,1227.3 180.5,1227.7 181.0,1227.3 181.5,1227.7 182.0,1227.3 182.5,1227.8 183.0,1227.4 183.5,1227.7 184.0,1227.4 184.5,1227.7 185.0,1227.5 185.5,1227.8 186.0,1227.2 186.5,1227.8 187.0,1227.2 187.5,1227.8 188.0,1227.4 188.5,1227.8 189.0,1227.0 189.5,1227.8 190.0,1226.9 190.5,1227.8 191.0,1227.4 191.5,1227.8 192.0,1227.4 192.5,1227.7 193.0,1227.3 193.5,1227.8 194.0,1227.3 194.5,1227.8 195.0,1227.4 195.5,1227.7 196.0,1227.3 196.5,1227.7 197.0,1227.4 197.5,1227.8 198.0,1227.4 198.5,1227.7 199.0,1227.5 199.5,1227.7 200.0,1227.4 200.5,1227.8 201.0,1227.4 201.5,1227.8 202.0,1227.3 202.5,1227.7 203.0,1227.4 203.5,1227.8 204.0,1227.4 204.5,1227.7 205.0,1227.4 205.5,1227.8 206.0,1227.4 206.5,1227.8 207.0,1227.4 207.5,1227.7 208.0,1227.5 208.5,1227.8 209.0,1227.4 209.5,1227.8 210.0,1227.4 210.5,1227.7 211.0,1227.4 211.5,1227.8 212.0,1227.4 212.5,1227.7 213.0,1227.4 213.5,1227.8 214.0,1227.4 214.5,1227.8 215.0,1227.4 215.5,1227.8 216.0,1227.3 216.5,1227.8 217.0,1227.4 217.5,1227.7 218.0,1227.3 218.5,1227.8 219.0,1227.3 219.5,1227.7 220.0,1227.3 220.5,1227.8 221.0,1227.3 221.5,1227.8 222.0,1227.3 222.5,1227.8 223.0,1226.8 223.5,1227.7 224.0,1227.3 224.5,1227.7 225.0,1227.0 225.5,1227.7 226.0,1227.3 226.5,1227.8 227.0,1227.3 227.5,1227.8 228.0,1227.4 228.5,1227.7 229.0,1227.0 229.5,1227.7 230.0,1227.3 230.5,1227.8 231.0,1227.3 231.5,1227.7 232.0,1227.2 232.5,1227.8 233.0,1227.3 233.5,1227.8 234.0,1227.3 234.5,1227.8 235.0,1227.1 235.5,1227.8 236.0,1227.1 236.5,1227.7 237.0,1227.0 237.5,1227.8 238.0,1227.3 238.5,1227.7 239.0,1227.0 239.5,1227.8 240.0,1227.3 240.5,1227.7 241.0,1227.3 241.5,1227.8 242.0,1227.4 242.5,1227.7 243.0,1227.1 243.5,1227.8 244.0,1227.3 244.5,1227.7 245.0,1226.9 245.5,1227.8 246.0,1227.4 246.5,1227.8 247.0,1227.3 247.5,1227.8 248.0,1226.9 248.5,1227.8 249.0,1227.4 249.5,1227.7 250.0,1226.9 250.5,1227.7 251.0,1227.0 251.5,1227.8 252.0,1227.4 252.5,1227.7 253.0,1227.4 253.5,1227.8 254.0,1227.3 254.5,1227.7 255.0,1227.4 255.5,1227.7 256.0,1227.3 256.5,1227.7 257.0,1227.2 257.5,1227.8 258.0,1227.4 258.5,1227.8 259.0,1227.1 259.5,1227.7 260.0,1227.3 260.5,1227.8 261.0,1227.4 261.5,1227.8 262.0,1227.4 262.5,1227.7 263.0,1227.4 263.5,1227.8 264.0,1227.5 264.5,1227.8 265.0,1226.9 265.5,1227.8 266.0,1227.3 266.5,1227.7 267.0,1227.3 267.5,1227.8 268.0,1227.3 268.5,1227.7 269.0,1227.3 269.5,1227.8 270.0,1227.4 270.5,1227.8 271.0,1227.4 271.5,1227.8 272.0,1227.4 272.5,1227.8 273.0,1227.4 273.5,1227.8 274.0,1227.4 274.5,1227.7 275.0,1227.4 275.5,1227.7 276.0,1227.0 276.5,1227.8 277.0,1227.5 277.5,1227.7 278.0,1227.4 278.5,1227.8 279.0,1227.5 279.5,1227.8 280.0,1227.1 280.5,1227.8 281.0,1227.1 281.5,1227.8 282.0,1227.2 282.5,1227.7 283.0,1227.4 283.5,1227.8 284.0,1227.1 284.5,1227.8 285.0,1227.4 285.5,1227.7 286.0,1227.3 286.5,1227.8 287.0,1227.3 287.5,1227.7 288.0,1227.4 288.5,1227.7 289.0,1227.3 289.5,1227.8 290.0,1227.3 290.5,1227.8 291.0,1226.9 291.5,1227.7 292.0,1227.2 292.5,1227.8 293.0,1227.4 293.5,1227.7 294.0,1227.1 294.5,1227.8 295.0,1227.5 295.5,1227.8 296.0,1227.5 296.5,1227.8 297.0,1227.4 297.5,1227.7 298.0,1227.3 298.5,1227.7 299.0,1227.4 299.5,1227.7 300.0,1227.3 300.5,1227.7 301.0,1227.4 301.5,1227.8 302.0,1227.2 302.5,1227.8 303.0,1227.4 303.5,1227.8 304.0,1227.3 304.5,1227.8 305.0,1227.1 305.5,1227.7 306.0,1227.3 306.5,1227.8 307.0,1227.4 307.5,1227.8 308.0,1227.4 308.5,1227.7 309.0,1227.0 309.5,1227.8 310.0,1227.3 310.5,1227.7 311.0,1227.0 311.5,1227.7 312.0,1227.3 312.5,1227.8 313.0,1227.3 313.5,1227.7 314.0,1227.3 314.5,1227.8 315.0,1227.3 315.5,1227.8 316.0,1226.9 316.5,1227.8 317.0,1227.2 317.5,1227.8 318.0,1227.3 318.5,1227.7 319.0,1227.4 319.5,1227.8 320.0,1227.4 320.5,1227.7 321.0,1227.3 321.5,1227.7 322.0,1226.9 322.5,1227.8 323.0,1227.4 323.5,1227.8 324.0,1227.4 324.5,1227.8 325.0,1227.3 325.5,1227.7 326.0,1227.3 326.5,1227.7 327.0,1227.0 327.5,1227.7 328.0,1227.4 328.5,1227.8 329.0,1227.5 329.5,1227.8 330.0,1227.4 330.5,1227.8 331.0,1227.3 331.5,1227.7 332.0,1227.3 332.5,1227.7 333.0,1227.3 333.5,1227.7 334.0,1227.3 334.5,1227.8 335.0,1227.1 335.5,1227.7 336.0,1227.3 336.5,1227.8 337.0,1227.3 337.5,1227.7 338.0,1227.4 338.5,1227.7 339.0,1227.3 339.5,1227.7 340.0,1227.3 340.5,1227.7 341.0,1227.4 341.5,1227.7 342.0,1227.4 342.5,1227.7 343.0,1227.1 343.5,1227.8 344.0,1227.4 344.5,1227.7 345.0,1227.3 345.5,1227.8 346.0,1227.3 346.5,1227.7 347.0,1227.4 347.5,1227.8 348.0,1227.4 348.5,1227.7 349.0,1227.3 349.5,1227.7 350.0,1227.3 350.5,1227.8 351.0,1227.3 351.5,1227.7 352.0,1227.3 352.5,1227.8 353.0,1227.3 353.5,1227.8 354.0,1227.4 354.5,1227.7 355.0,1227.2 355.5,1227.7 356.0,1227.4 356.5,1227.8 357.0,1227.4 357.5,1227.7 358.0,1227.0 358.5,1227.7 359.0,1227.3 359.5,1227.7 360.0,1227.3 360.5,1227.8 361.0,1227.3 361.5,1227.8 362.0,1227.4 362.5,1227.8 363.0,1227.4 363.5,1227.7 364.0,1227.5 364.5,1227.7 365.0,1227.4 365.5,1227.7 366.0,1227.3 366.5,1227.7 367.0,1227.1 367.5,1227.8 368.0,1227.4 368.5,1227.8 369.0,1227.3 369.5,1227.8 370.0,1227.4 370.5,1227.8 371.0,1227.4 371.5,1227.8 372.0,1227.4 372.5,1227.7 373.0,1226.9 373.5,1227.7 374.0,1227.0 374.5,1227.8 375.0,1227.3 375.5,1227.8 376.0,1227.4 376.5,1227.7 377.0,1227.3 377.5,1227.8 378.0,1227.4 378.5,1227.7 379.0,1227.4 379.5,1227.8 380.0,1227.1 380.5,1227.8 381.0,1227.4 381.5,1227.7 382.0,1227.4 382.5,1227.8 383.0,1227.4 383.5,1227.8 384.0,1227.3 384.5,1227.8 385.0,1227.4 385.5,1227.8 386.0,1227.2 386.5,1227.7 387.0,1227.4 387.5,1227.8 388.0,1227.4 388.5,1227.7 389.0,1227.1 389.5,1227.7 390.0,1227.4 390.5,1227.7 391.0,1227.4 391.5,1227.8 392.0,1227.4 392.5,1227.8 393.0,1227.3 393.5,1227.7 394.0,1227.4 394.5,1227.7 395.0,1226.9 395.5,1227.8 396.0,1227.3 396.5,1227.8 397.0,1227.3 397.5,1227.8 398.0,1227.4 398.5,1227.8 399.0,1227.4 399.5,1227.8 400.0,1227.4 400.5,1227.7 401.0,1227.0 401.5,1227.7 402.0,1227.2 402.5,1227.7 403.0,1227.1 403.5,1227.8 404.0,1227.4 404.5,1227.8 405.0,1227.3 405.5,1227.7 406.0,1227.3 406.5,1227.8 407.0,1227.4 407.5,1227.8 408.0,1227.4 408.5,1227.7 409.0,1227.3 409.5,1227.7 410.0,1227.4 410.5,1227.7 411.0,1227.4 411.5,1227.7 412.0,1227.5 412.5,1227.8 413.0,1227.4 413.5,1227.7 414.0,1227.5 414.5,1227.8 415.0,1227.4 415.5,1227.8 416.0,1227.4 416.5,1227.7 417.0,1227.3 417.5,1227.7 418.0,1227.3 418.5,1227.7 419.0,1227.3 419.5,1227.8 420.0,1226.9 420.5,1227.7 421.0,1227.3 421.5,1227.7 422.0,1227.4 422.5,1227.7 423.0,1227.4 423.5,1227.8 424.0,1227.4 424.5,1227.8 425.0,1227.2 425.5,1227.8 426.0,1227.3 426.5,1227.8 427.0,1227.3 427.5,1227.8 428.0,1227.3 428.5,1227.8 429.0,1227.3 429.5,1227.8 430.0,1227.3 430.5,1227.7 431.0,1227.2 431.5,1227.7 432.0,1227.2 432.5,1227.7 433.0,1227.4 433.5,1227.8 434.0,1226.9 434.5,1227.7 435.0,1227.3 435.5,1227.7 436.0,1227.0 436.5,1227.8 437.0,1227.5 437.5,1227.7 438.0,1227.4 438.5,1227.8 439.0,1227.3 439.5,1227.8 440.0,1227.3 440.5,1227.8 441.0,1227.4 441.5,1227.7 442.0,1227.3 442.5,1227.8 443.0,1227.4 443.5,1227.7 444.0,1227.2 444.5,1227.8 445.0,1227.4 445.5,1227.7 446.0,1227.1 446.5,1227.7 447.0,1227.4 447.5,1227.7 448.0,1227.4 448.5,1227.8 449.0,1227.4 449.5,1227.7 450.0,1227.4 450.5,1227.7 451.0,1227.3 451.5,1227.8 452.0,1227.4 452.5,1227.7 453.0,1227.4 453.5,1227.7 454.0,1226.9 454.5,1227.7 454.7,1227.6 455.0,1227.4 455.5,1227.7 455.6,1227.5 456.0,1226.9 456.5,1227.6 457.0,1227.3 457.4,1227.5 457.5,1227.4 458.0,1227.3 458.3,1227.2 458.5,1227.1 459.0,1226.8 459.2,1226.6 459.5,1226.3 459.7,1226.0 460.0,1225.4 460.0,1225.3 460.1,1225.0 460.2,1224.4 460.5,1223.2 460.5,1223.1 460.8,1220.9 461.0,1218.5 461.1,1217.5 461.4,1211.9 461.5,1207.6 461.6,1203.2 461.9,1188.6 462.0,1193.3 462.3,1202.9 462.5,1209.2 462.6,1211.5 463.0,1216.9 463.0,1217.3 463.3,1220.3 463.5,1221.5 463.7,1222.5 463.7,1222.5 464.0,1223.7 464.0,1223.8 464.4,1224.7 464.5,1224.9 464.8,1225.3 464.9,1225.4 465.0,1225.6 465.3,1225.8 465.5,1226.0 465.8,1226.1 466.0,1226.2 466.2,1226.2 466.5,1226.2 466.6,1226.2 467.0,1226.0 467.1,1226.0 467.3,1225.8 467.5,1225.6 467.6,1225.6 468.0,1224.8 468.4,1225.8 468.5,1225.8 468.9,1226.4 469.0,1226.5 469.1,1226.6 469.4,1226.8 469.5,1226.9 469.8,1227.0 470.0,1227.1 470.2,1227.2 470.5,1227.3 470.7,1227.3 470.9,1227.4 471.0,1227.3 471.1,1227.4 471.5,1227.5 471.6,1227.5 472.0,1227.1 472.5,1227.6 472.7,1227.6 473.0,1227.3 473.5,1227.6 474.0,1227.3 474.5,1227.7 475.0,1227.3 475.5,1227.7 476.0,1227.3 476.3,1227.6 476.5,1227.7 477.0,1227.4 477.5,1227.7 478.0,1227.4 478.5,1227.8 479.0,1227.1 479.5,1227.7 480.0,1227.4 480.5,1227.7 481.0,1227.4 481.5,1227.8 482.0,1227.0 482.5,1227.8 483.0,1227.4 483.5,1227.7 484.0,1227.3 484.5,1227.7 485.0,1227.3 485.5,1227.8 486.0,1227.0 486.5,1227.8 487.0,1226.9 487.5,1227.7 488.0,1226.8 488.5,1227.8 489.0,1227.3 489.5,1227.8 490.0,1227.3 490.5,1227.8 491.0,1227.3 491.5,1227.7 492.0,1227.3 492.5,1227.8 493.0,1226.9 493.5,1227.7 494.0,1227.0 494.5,1227.8 495.0,1227.4 495.5,1227.7 496.0,1227.3 496.5,1227.7 497.0,1227.3 497.5,1227.7 498.0,1227.4 498.5,1227.8 499.0,1227.4 499.5,1227.7 500.0,1227.4 500.5,1227.8 501.0,1227.3 501.5,1227.7 502.0,1227.3 502.5,1227.7 503.0,1227.4 503.5,1227.7 504.0,1227.3 504.5,1227.7 505.0,1227.5 505.5,1227.8 506.0,1227.4 506.5,1227.7 507.0,1227.4 507.5,1227.7 508.0,1227.4 508.5,1227.7 509.0,1227.3 509.5,1227.7 510.0,1227.4 510.5,1227.7 511.0,1227.2 511.5,1227.8 512.0,1227.2 512.5,1227.8 513.0,1227.4 513.5,1227.7 514.0,1227.4 514.5,1227.7 515.0,1227.3 515.5,1227.8 516.0,1227.4 516.5,1227.8 517.0,1227.4 517.5,1227.7 518.0,1227.4 518.5,1227.7 519.0,1227.3 519.5,1227.7 520.0,1227.3 520.5,1227.7 521.0,1227.3 521.5,1227.7 522.0,1227.3 522.5,1227.8 523.0,1227.4 523.5,1227.7 524.0,1227.4 524.5,1227.7 525.0,1227.1 525.5,1227.8 526.0,1227.4 526.5,1227.8 527.0,1227.5 527.5,1227.8 528.0,1227.5 528.5,1227.7 529.0,1227.4 529.5,1227.7 530.0,1227.4 530.5,1227.8 531.0,1227.5 531.5,1227.7 532.0,1227.4 532.5,1227.8 533.0,1227.3 533.5,1227.7 534.0,1227.4 534.5,1227.8 535.0,1227.3 535.5,1227.8 536.0,1227.0 536.5,1227.8 537.0,1227.3 537.5,1227.8 538.0,1227.3 538.5,1227.8 539.0,1227.3 539.5,1227.8 540.0,1227.0 540.5,1227.8 541.0,1227.3 541.5,1227.7 542.0,1227.4 542.5,1227.8 543.0,1227.4 543.5,1227.8 544.0,1227.0 544.5,1227.8 545.0,1227.2 545.5,1227.7 546.0,1227.2 546.5,1227.7 547.0,1227.5 547.5,1227.8 548.0,1227.4 548.5,1227.8 549.0,1227.3 549.5,1227.7 550.0,1227.4 550.5,1227.8 551.0,1227.4 551.5,1227.8 552.0,1227.3 552.5,1227.8 553.0,1227.3 553.5,1227.7 554.0,1227.4 554.5,1227.7 555.0,1227.4 555.5,1227.8 556.0,1227.4 556.5,1227.8 557.0,1227.4 557.5,1227.7 558.0,1227.4 558.5,1227.7 559.0,1227.1 559.5,1227.7 560.0,1227.1 560.5,1227.8 561.0,1227.1 561.5,1227.8 562.0,1227.4 562.5,1227.7 563.0,1227.3 563.5,1227.7 564.0,1227.3 564.5,1227.8 565.0,1227.4 565.5,1227.8 566.0,1227.3 566.5,1227.7 567.0,1227.3 567.5,1227.8 568.0,1227.3 568.5,1227.8 569.0,1227.3 569.5,1227.8 570.0,1227.4 570.5,1227.8 571.0,1227.3 571.5,1227.8 572.0,1227.3 572.5,1227.7 573.0,1227.3 573.5,1227.8 574.0,1227.3 574.5,1227.8 575.0,1227.3 575.5,1227.7 576.0,1227.3 576.5,1227.8 577.0,1227.4 577.5,1227.8 578.0,1227.0 578.5,1227.8 579.0,1227.1 579.5,1227.7 580.0,1227.3 580.5,1227.8 581.0,1227.2 581.5,1227.7 582.0,1227.4 582.5,1227.8 583.0,1227.5 583.5,1227.7 584.0,1227.3 584.5,1227.7 585.0,1227.4 585.5,1227.8 586.0,1227.4 586.5,1227.7 587.0,1227.2 587.5,1227.7 588.0,1227.3 588.3,1227.6 588.5,1227.7 588.6,1227.6 588.9,1227.4 589.0,1227.3 589.2,1227.4 589.5,1227.1 589.8,1226.6 590.0,1226.2 590.1,1225.9 590.4,1224.6 590.5,1225.1 590.7,1225.9 591.0,1226.6 591.3,1227.1 591.5,1227.3 591.6,1227.4 591.9,1227.5 592.0,1227.4 592.2,1227.6 592.5,1227.7 592.8,1227.5 593.0,1227.3 593.5,1227.7 594.0,1227.3 594.5,1227.8 595.0,1227.4 595.5,1227.7 596.0,1227.3 596.5,1227.8 597.0,1227.0 597.5,1227.8 598.0,1227.5 598.5,1227.8 599.0,1227.5 599.5,1227.7 600.0,1227.4 600.5,1227.8 601.0,1227.0 601.5,1227.7 602.0,1227.3 602.5,1227.7 603.0,1227.3 603.5,1227.8 604.0,1227.4 604.5,1227.7 605.0,1227.4 605.5,1227.8 606.0,1227.4 606.5,1227.7 607.0,1227.4 607.5,1227.7 608.0,1227.4 608.5,1227.8 609.0,1227.4 609.5,1227.7 610.0,1227.4 610.5,1227.7 611.0,1227.0 611.5,1227.8 612.0,1227.4 612.5,1227.8 613.0,1227.4 613.5,1227.8 614.0,1227.1 614.5,1227.7 615.0,1227.1 615.5,1227.8 616.0,1227.3 616.5,1227.8 617.0,1227.3 617.5,1227.8 618.0,1227.3 618.5,1227.8 619.0,1227.3 619.5,1227.7 620.0,1227.0 620.5,1227.7 621.0,1227.4 621.5,1227.8 622.0,1227.4 622.5,1227.7 623.0,1227.3 623.5,1227.7 624.0,1227.3 624.5,1227.7 625.0,1226.9 625.5,1227.8 626.0,1227.3 626.5,1227.7 627.0,1227.3 627.5,1227.7 628.0,1227.3 628.5,1227.7 629.0,1227.4 629.5,1227.7 630.0,1227.4 630.5,1227.7 631.0,1227.4 631.5,1227.7 632.0,1227.4 632.5,1227.7 633.0,1227.4 633.5,1227.7 634.0,1227.0 634.5,1227.7 635.0,1227.3 635.5,1227.8 636.0,1227.3 636.5,1227.7 637.0,1227.3 637.5,1227.7 638.0,1227.3 638.5,1227.8 639.0,1227.3 639.5,1227.8 640.0,1227.3 640.5,1227.8 641.0,1227.4 641.5,1227.7 642.0,1227.4 642.5,1227.7 643.0,1227.4 643.5,1227.7 644.0,1227.3 644.5,1227.8 645.0,1227.4 645.5,1227.8 646.0,1227.2 646.5,1227.7 647.0,1227.3 647.5,1227.8 648.0,1227.4 648.5,1227.8 649.0,1227.4 649.5,1227.8 650.0,1227.5 650.5,1227.8 651.0,1227.4 651.5,1227.7 652.0,1227.3 652.5,1227.7 653.0,1227.4 653.5,1227.8 654.0,1227.5 654.5,1227.7 655.0,1227.4 655.5,1227.7 656.0,1227.5 656.5,1227.8 657.0,1227.3 657.5,1227.8 658.0,1227.3 658.5,1227.8 659.0,1227.4 659.5,1227.7 660.0,1227.4 660.5,1227.7 661.0,1227.4 661.5,1227.7 662.0,1227.4 662.5,1227.8 663.0,1227.4 663.5,1227.7 664.0,1227.4 664.5,1227.7 665.0,1227.4 665.5,1227.8 666.0,1227.2 666.5,1227.8 667.0,1227.4 667.5,1227.8 668.0,1227.4 668.5,1227.8 669.0,1227.3 669.5,1227.8 670.0,1227.4 670.5,1227.7 671.0,1227.4 671.5,1227.8 672.0,1227.3 672.5,1227.7 673.0,1227.4 673.5,1227.7 674.0,1227.4 674.5,1227.8 675.0,1227.4 675.5,1227.8 676.0,1227.4 676.5,1227.7 677.0,1227.4 677.5,1227.8 678.0,1227.3 678.5,1227.8 679.0,1227.3 679.5,1227.7 680.0,1227.4 680.5,1227.7 681.0,1227.3 681.5,1227.8 682.0,1227.4 682.5,1227.7 683.0,1227.1 683.5,1227.8 684.0,1227.4 684.5,1227.7 685.0,1227.4 685.5,1227.8 686.0,1227.3 686.5,1227.7 687.0,1226.8 687.5,1227.8 688.0,1227.4 688.5,1227.7 689.0,1227.3 689.5,1227.7 690.0,1227.4 690.5,1227.8 691.0,1226.9 691.5,1227.7 692.0,1227.4 692.5,1227.8 693.0,1227.4 693.5,1227.8 694.0,1227.3 694.5,1227.8 695.0,1227.3 695.5,1227.7 696.0,1227.4 696.5,1227.8 697.0,1227.4 697.5,1227.8 698.0,1227.3 698.5,1227.7 699.0,1227.4 699.5,1227.7 700.0,1227.3 700.5,1227.7 701.0,1227.3 701.5,1227.8 702.0,1227.0 702.5,1227.8 703.0,1227.3 703.5,1227.7 704.0,1227.4 704.5,1227.7 704.9,1227.4 705.0,1227.3 705.2,1227.5 705.5,1227.7 705.8,1227.5 706.0,1227.3 706.1,1227.4 706.4,1227.4 706.5,1227.3 706.7,1227.1 707.0,1226.7 707.3,1226.0 707.5,1226.5 707.6,1226.7 707.9,1227.1 708.0,1227.2 708.2,1227.4 708.5,1227.6 708.8,1227.5 709.0,1227.3 709.1,1227.4 709.4,1227.6 709.5,1227.7 709.7,1227.6 710.0,1227.3 710.5,1227.8 711.0,1227.4 711.5,1227.7 712.0,1227.4 712.5,1227.7 713.0,1227.2 713.5,1227.7 714.0,1227.4 714.5,1227.7 715.0,1227.3 715.5,1227.8 716.0,1227.4 716.5,1227.8 717.0,1227.3 717.5,1227.8 718.0,1227.3 718.5,1227.7 719.0,1227.3 719.5,1227.7 720.0,1227.0 720.5,1227.8 721.0,1227.4 721.5,1227.7 722.0,1227.4 722.5,1227.8 723.0,1227.3 723.5,1227.7 724.0,1227.3 724.5,1227.8 725.0,1227.3 725.5,1227.7 725.8,1227.5 726.0,1227.3 726.1,1227.4 726.4,1227.6 726.5,1227.6 726.7,1227.6 727.0,1227.3 727.3,1227.2 727.5,1226.9 727.6,1226.8 727.9,1226.1 728.0,1225.8 728.2,1225.0 728.5,1226.1 728.8,1226.8 729.0,1227.1 729.1,1227.2 729.4,1227.4 729.5,1227.5 729.7,1227.6 730.0,1227.3 730.3,1227.6 730.5,1227.7 730.6,1227.7 731.0,1227.4 731.5,1227.8 732.0,1227.4 732.5,1227.8 733.0,1227.4 733.5,1227.8 734.0,1227.3 734.5,1227.6 734.8,1227.5 735.0,1227.3 735.0,1227.3 735.3,1227.1 735.5,1226.7 735.5,1226.6 735.8,1225.8 736.0,1224.9 736.1,1224.5 736.3,1222.3 736.5,1220.4 736.6,1218.8 736.9,1222.3 737.0,1223.6 737.1,1224.5 737.4,1225.8 737.5,1226.2 737.6,1226.6 737.9,1227.1 738.0,1227.2 738.2,1227.4 738.4,1227.5 738.5,1227.6 738.7,1227.6 739.0,1227.3 739.5,1227.7 740.0,1227.4 740.5,1227.8 741.0,1226.9 741.5,1227.8 742.0,1227.4 742.5,1227.8 743.0,1227.3 743.5,1227.8 744.0,1227.4 744.5,1227.8 745.0,1227.3 745.5,1227.7 746.0,1227.4 746.5,1227.7 747.0,1227.4 747.5,1227.7 748.0,1227.3 748.5,1227.8 749.0,1227.4 749.5,1227.8 750.0,1227.5 750.5,1227.8 751.0,1227.1 751.5,1227.7 752.0,1227.4 752.5,1227.7 753.0,1227.3 753.5,1227.7 754.0,1227.3 754.5,1227.8 755.0,1227.4 755.5,1227.7 756.0,1227.5 756.5,1227.7 757.0,1227.4 757.5,1227.8 758.0,1227.4 758.5,1227.7 759.0,1227.4 759.5,1227.8 760.0,1227.3 760.5,1227.8 761.0,1227.3 761.5,1227.8 762.0,1227.4 762.5,1227.8 763.0,1227.4 763.5,1227.8 764.0,1227.4 764.5,1227.8 765.0,1227.4 765.5,1227.7 766.0,1227.4 766.5,1227.8 767.0,1227.2 767.5,1227.7 768.0,1227.4 768.5,1227.7 769.0,1227.4 769.5,1227.8 770.0,1227.4 770.5,1227.8 771.0,1227.4 771.5,1227.7 772.0,1227.4 772.5,1227.8 773.0,1227.5 773.5,1227.8 774.0,1227.4 774.5,1227.7 775.0,1227.4 775.5,1227.7 776.0,1227.3 776.5,1227.7 777.0,1227.4 777.5,1227.8 778.0,1227.4 778.5,1227.7 779.0,1227.4 779.5,1227.7 780.0,1227.1 780.5,1227.8 781.0,1227.4 781.5,1227.8 782.0,1227.4 782.5,1227.7 783.0,1227.3 783.5,1227.7 784.0,1227.3 784.5,1227.8 785.0,1227.3 785.5,1227.7 786.0,1227.3 786.5,1227.7 787.0,1227.4 787.5,1227.7 788.0,1227.3 788.5,1227.8 789.0,1227.4 789.5,1227.7 790.0,1227.4 790.5,1227.8 791.0,1227.2 791.5,1227.7 792.0,1227.4 792.5,1227.7 793.0,1227.5 793.5,1227.7 794.0,1227.4 794.5,1227.7 795.0,1227.4 795.5,1227.8 796.0,1227.4 796.5,1227.8 797.0,1227.3 797.5,1227.8 798.0,1227.4 798.5,1227.7 799.0,1227.4 799.5,1227.8 800.0,1227.4 800.5,1227.7 801.0,1227.4 801.5,1227.8 802.0,1227.4 802.5,1227.8 803.0,1227.4 803.5,1227.7 804.0,1227.3 804.5,1227.8 805.0,1227.3 805.5,1227.8 806.0,1227.3 806.5,1227.8 807.0,1227.4 807.5,1227.7 808.0,1227.4 808.5,1227.7 809.0,1227.4 809.5,1227.8 810.0,1227.4 810.5,1227.7 811.0,1227.4 811.5,1227.7 812.0,1227.4 812.5,1227.8 813.0,1226.9 813.5,1227.8 814.0,1227.3 814.5,1227.8 815.0,1227.4 815.5,1227.8 816.0,1227.4 816.5,1227.8 817.0,1227.5 817.5,1227.7 818.0,1227.5 818.5,1227.8 819.0,1227.3 819.5,1227.7 820.0,1227.0 820.5,1227.7 821.0,1226.9 821.5,1227.7 822.0,1227.0 822.5,1227.7 823.0,1227.3 823.5,1227.8 824.0,1227.3 824.5,1227.7 825.0,1226.9 825.3,1227.3 825.5,1227.4 825.5,1227.4 825.8,1227.1 826.0,1226.7 826.0,1226.6 826.3,1225.8 826.5,1224.9 826.6,1224.5 826.8,1222.3 827.0,1220.4 827.1,1218.8 827.4,1222.3 827.5,1223.6 827.6,1224.5 827.9,1225.8 828.0,1226.2 828.1,1226.6 828.4,1227.1 828.5,1227.2 828.7,1227.4 828.9,1227.4 829.0,1227.4 829.2,1227.5 829.5,1227.7 830.0,1227.4 830.5,1227.8 831.0,1227.3 831.5,1227.8 832.0,1227.3 832.5,1227.8 833.0,1227.3 833.5,1227.8 834.0,1227.3 834.5,1227.8 835.0,1227.3 835.3,1227.6 835.5,1227.7 835.6,1227.7 835.8,1227.4 836.0,1227.3 836.1,1227.4 836.4,1227.2 836.5,1227.0 836.6,1226.9 836.9,1226.2 837.0,1225.8 837.1,1225.2 837.4,1223.6 837.5,1224.3 837.7,1225.2 837.9,1226.2 838.0,1226.5 838.2,1226.9 838.5,1227.2 838.5,1227.3 838.7,1227.5 839.0,1227.4 839.0,1227.4 839.2,1227.5 839.5,1227.7 840.0,1227.4 840.5,1227.7 841.0,1227.4 841.5,1227.7 842.0,1227.4 842.5,1227.7 843.0,1227.3 843.5,1227.7 844.0,1227.4 844.5,1227.8 845.0,1227.3 845.5,1227.8 846.0,1226.9 846.5,1227.7 847.0,1227.4 847.5,1227.7 848.0,1227.3 848.5,1227.8 849.0,1227.1 849.5,1227.8 850.0,1227.1 850.5,1227.8 851.0,1227.3 851.5,1227.7 852.0,1227.4 852.5,1227.8 853.0,1227.3 853.5,1227.7 854.0,1227.3 854.5,1227.7 855.0,1227.4 855.5,1227.8 856.0,1227.0 856.5,1227.8 857.0,1227.3 857.5,1227.8 858.0,1227.1 858.5,1227.7 859.0,1227.4 859.5,1227.7 859.6,1227.7 859.9,1227.5 860.0,1227.4 860.2,1227.6 860.5,1227.5 860.8,1227.4 861.0,1227.2 861.1,1227.1 861.4,1226.6 861.5,1226.4 861.7,1225.8 862.0,1224.5 862.3,1225.8 862.5,1226.4 862.6,1226.6 862.9,1227.1 863.0,1227.2 863.2,1227.4 863.5,1227.5 863.8,1227.5 864.0,1227.3 864.1,1227.4 864.4,1227.7 864.5,1227.7 865.0,1227.3 865.5,1227.8 866.0,1227.3 866.5,1227.8 867.0,1227.4 867.5,1227.8 868.0,1227.3 868.5,1227.7 869.0,1227.4 869.5,1227.8 870.0,1227.4 870.5,1227.7 871.0,1227.3 871.5,1227.8 872.0,1227.1 872.5,1227.7 873.0,1227.3 873.5,1227.7 874.0,1227.3 874.5,1227.7 875.0,1227.3 875.5,1227.8 876.0,1227.3 876.5,1227.8 877.0,1227.3 877.5,1227.7 878.0,1227.3 878.5,1227.7 879.0,1227.3 879.5,1227.7 880.0,1227.3 880.5,1227.7 881.0,1227.3 881.5,1227.8 882.0,1227.4 882.5,1227.7 883.0,1227.4 883.5,1227.7 884.0,1227.2 884.5,1227.7 885.0,1227.4 885.5,1227.7 886.0,1227.4 886.5,1227.7 887.0,1227.3 887.5,1227.7 888.0,1227.4 888.5,1227.8 889.0,1227.0 889.5,1227.7 890.0,1227.4 890.5,1227.7 891.0,1227.4 891.5,1227.8 892.0,1227.3 892.5,1227.8 893.0,1227.3 893.5,1227.8 894.0,1227.3 894.5,1227.7 895.0,1227.3 895.5,1227.8 896.0,1227.3 896.5,1227.7 897.0,1227.4 897.5,1227.8 898.0,1227.4 898.5,1227.8 899.0,1227.1 899.5,1227.8 900.0,1227.4 900.5,1227.8 901.0,1227.5 901.5,1227.8 902.0,1227.4 902.5,1227.8 903.0,1227.4 903.5,1227.8 904.0,1227.1 904.5,1227.7 905.0,1227.3 905.5,1227.8 906.0,1227.3 906.5,1227.8 907.0,1227.4 907.5,1227.8 908.0,1227.3 908.5,1227.7 909.0,1227.4 909.5,1227.8 910.0,1227.4 910.5,1227.7 911.0,1227.3 911.5,1227.7 912.0,1227.4 912.5,1227.7 913.0,1227.4 913.5,1227.8 914.0,1227.1 914.5,1227.7 915.0,1227.4 915.5,1227.8 916.0,1227.3 916.5,1227.8 917.0,1227.3 917.5,1227.7 918.0,1227.4 918.5,1227.8 919.0,1227.3 919.5,1227.8 920.0,1227.2 920.5,1227.8 921.0,1227.3 921.5,1227.7 922.0,1227.3 922.5,1227.8 923.0,1227.0 923.5,1227.8 924.0,1226.9 924.3,1227.4 924.5,1227.7 924.6,1227.7 925.0,1227.4 925.0,1227.4 925.3,1227.6 925.5,1227.6 925.6,1227.5 926.0,1227.3 926.0,1227.3 926.3,1226.9 926.5,1226.7 926.7,1226.4 927.0,1225.5 927.3,1226.4 927.5,1226.7 927.7,1226.9 928.0,1227.3 928.0,1227.3 928.4,1227.5 928.5,1227.6 928.7,1227.6 929.0,1227.4 929.0,1227.4 929.4,1227.7 929.5,1227.7 929.7,1227.6 930.0,1227.4 930.5,1227.7 931.0,1227.3 931.5,1227.7 932.0,1227.4 932.5,1227.7 933.0,1227.4 933.5,1227.8 934.0,1227.4 934.5,1227.7 935.0,1227.4 935.5,1227.7 936.0,1227.4 936.5,1227.8 937.0,1227.4 937.5,1227.7 938.0,1227.1 938.5,1227.8 939.0,1227.4 939.5,1227.8 940.0,1227.4 940.5,1227.7 941.0,1227.4 941.5,1227.7 942.0,1227.3 942.5,1227.8 943.0,1227.4 943.5,1227.7 944.0,1227.3 944.5,1227.7 945.0,1227.4 945.5,1227.7 946.0,1227.3 946.5,1227.8 947.0,1227.3 947.5,1227.8 948.0,1227.4 948.5,1227.7 949.0,1227.3 949.5,1227.8 950.0,1226.9 950.5,1227.7 951.0,1227.3 951.5,1227.8 952.0,1227.4 952.5,1227.8 953.0,1227.3 953.5,1227.8 954.0,1227.4 954.5,1227.8 955.0,1227.5 955.5,1227.8 956.0,1227.4 956.5,1227.7 957.0,1227.0 957.5,1227.8 958.0,1227.4 958.5,1227.7 959.0,1227.3 959.5,1227.8 960.0,1227.4 960.5,1227.7 961.0,1227.4 961.5,1227.8 962.0,1227.4 962.5,1227.8 963.0,1227.4 963.5,1227.7 964.0,1227.4 964.5,1227.7 965.0,1227.0 965.5,1227.7 966.0,1227.5 966.5,1227.7 967.0,1227.4 967.5,1227.8 968.0,1227.4 968.5,1227.7 969.0,1227.4 969.5,1227.8 970.0,1227.4 970.5,1227.8 971.0,1227.0 971.5,1227.7 972.0,1227.0 972.5,1227.8 973.0,1227.5 973.5,1227.8 974.0,1227.5 974.5,1227.7 975.0,1227.5 975.5,1227.8 976.0,1227.4 976.5,1227.7 977.0,1227.0 977.5,1227.8 978.0,1227.3 978.5,1227.7 979.0,1227.4 979.5,1227.8 980.0,1227.4 980.5,1227.8 981.0,1227.4 981.5,1227.7 982.0,1227.4 982.5,1227.7 983.0,1227.4 983.5,1227.7 984.0,1227.3 984.5,1227.7 985.0,1227.4 985.2,1227.6 985.5,1227.6 986.0,1227.0 986.1,1227.1 986.5,1227.4 987.0,1227.3 987.5,1227.1 987.9,1226.9 988.0,1226.8 988.5,1226.4 988.8,1226.1 989.0,1225.8 989.5,1224.6 989.7,1223.9 990.0,1222.4 990.3,1220.1 990.5,1217.9 990.6,1216.6 990.9,1211.0 991.0,1208.5 991.2,1202.2 991.5,1188.0 991.8,1164.9 992.0,1142.1 992.1,1127.5 992.4,1066.4 992.5,1078.7 993.0,1127.3 993.5,1159.6 993.6,1164.6 994.0,1181.1 994.2,1187.5 994.5,1194.7 994.5,1195.5 994.8,1201.7 995.0,1205.1 995.4,1210.4 995.5,1211.5 995.7,1213.4 995.9,1215.1 996.0,1215.6 996.1,1216.4 996.4,1217.3 996.5,1217.6 996.5,1217.7 996.6,1217.7 996.8,1217.5 997.0,1216.7 997.0,1216.3 997.2,1214.8 997.3,1213.8 997.5,1208.9 997.7,1215.0 998.0,1218.6 998.0,1219.2 998.2,1221.0 998.4,1222.6 998.5,1223.1 998.6,1223.5 998.6,1223.6 998.9,1224.3 999.0,1224.7 999.1,1224.8 999.3,1225.2 999.5,1225.4 1000.0,1225.9 1000.5,1226.2 1000.7,1226.3 1001.0,1226.4 1001.5,1226.6 1002.0,1226.8 1002.5,1226.9 1002.8,1226.9 1003.0,1227.0 1003.5,1227.1 1004.0,1227.2 1004.5,1227.2 1004.8,1227.3 1005.0,1227.3 1005.5,1227.3 1006.0,1227.3 1006.1,1227.3 1006.3,1227.3 1006.5,1227.3 1006.6,1227.2 1006.8,1227.1 1006.9,1227.1 1007.0,1227.0 1007.1,1226.9 1007.2,1226.8 1007.4,1226.6 1007.5,1226.4 1007.6,1226.1 1007.9,1225.2 1008.0,1224.6 1008.1,1223.7 1008.4,1221.5 1008.4,1221.3 1008.5,1222.4 1008.7,1223.7 1008.9,1225.2 1009.0,1225.3 1009.0,1225.5 1009.2,1226.1 1009.5,1226.6 1009.5,1226.7 1009.7,1226.9 1010.0,1227.1 1010.0,1227.1 1010.2,1227.2 1010.5,1227.3 1010.6,1227.3 1011.0,1226.9 1011.5,1227.3 1011.8,1227.2 1012.0,1227.1 1012.5,1227.1 1012.9,1226.9 1013.0,1226.9 1013.5,1226.7 1014.0,1226.4 1014.5,1226.7 1015.0,1226.9 1015.1,1227.0 1015.5,1227.1 1016.0,1227.1 1016.2,1227.3 1016.5,1227.3 1017.0,1227.4 1017.4,1227.5 1017.5,1227.5 1018.0,1227.4 1018.5,1227.6 1019.0,1226.9 1019.5,1227.7 1019.6,1227.6 1020.0,1227.4 1020.5,1227.7 1020.8,1227.5 1021.0,1227.3 1021.5,1227.7 1021.9,1227.4 1022.0,1227.4 1022.5,1227.7 1023.0,1227.4 1023.5,1227.8 1024.0,1227.4 1024.5,1227.8 1025.0,1226.9 1025.5,1227.8 1026.0,1227.0 1026.5,1227.7 1027.0,1227.1 1027.5,1227.7 1028.0,1227.1 1028.5,1227.7 1029.0,1226.9 1029.5,1227.7 1030.0,1227.4 1030.5,1227.7 1031.0,1227.3 1031.5,1227.7 1032.0,1227.3 1032.5,1227.7 1033.0,1227.3 1033.5,1227.7 1034.0,1227.3 1034.5,1227.7 1035.0,1227.8 1035.5,1227.8 1036.0,1227.8 1036.5,1227.8 1037.0,1227.8 1037.2,1227.8" fill="none" stroke="#1e1b1b" stroke-width="2.20" stroke-linejoin="round"/>
<text x="115.0" y="1302.6" font-size="43.00">F</text>
<text x="243.3" y="1296.8" font-size="30.59">3 h</text>
<text x="909.2" y="1269.2" font-size="21.61" style="font-weight:normal" stroke="#231f20" stroke-width="0.85">13981.9</text>
<text x="432.6" y="1348.9" font-size="21.53" style="font-weight:normal" stroke="#231f20" stroke-width="0.85">6990.9</text>
<text x="559.5" y="1346.3" font-size="21.72" style="font-weight:normal" stroke="#231f20" stroke-width="0.85">8678.9</text>
<path d="M590.8 1360.7V1385.7" stroke="#231f20" stroke-width="1.8" fill="none"/>
<path d="M584.0 1383.7L597.6 1383.7L590.8 1395.2Z" fill="#231f20"/>
<text x="517.0" y="1374.2" font-size="21.76" style="font-weight:normal" stroke="#231f20" stroke-width="0.85">8082.6</text>
<path d="M558.3 1379.3V1392.8" stroke="#231f20" stroke-width="1.8" fill="none"/>
<path d="M551.5 1390.8L565.1 1390.8L558.3 1402.3Z" fill="#231f20"/>
<text x="622.7" y="1374.2" font-size="21.58" style="font-weight:normal" stroke="#231f20" stroke-width="0.85">9549.4</text>
<path d="M656.9 1384.5V1394.3" stroke="#231f20" stroke-width="1.8" fill="none"/>
<path d="M650.1 1392.3L663.7 1392.3L656.9 1402.3Z" fill="#231f20"/>
<text x="648.5" y="1342.6" font-size="21.17" style="font-weight:normal" stroke="#231f20" stroke-width="0.85">10227.7</text>
<path d="M707.8 1366.4V1385.7" stroke="#231f20" stroke-width="1.8" fill="none"/>
<path d="M701.0 1383.7L714.6 1383.7L707.8 1395.2Z" fill="#231f20"/>
<text x="698.8" y="1301.7" font-size="21.15" style="font-weight:normal" stroke="#231f20" stroke-width="0.85">10609.9</text>
<path d="M738.2 1313.8V1371.3" stroke="#231f20" stroke-width="1.8" fill="none"/>
<path d="M731.4 1369.3L745.0 1369.3L738.2 1380.8Z" fill="#231f20"/>
<text x="741.5" y="1395.5" font-size="21.31" style="font-weight:normal" stroke="#231f20" stroke-width="0.85">11002.2</text>
<text x="798.3" y="1323.3" font-size="21.08" style="font-weight:normal" stroke="#231f20" stroke-width="0.85">11927.7</text>
<path d="M838.7 1341.4V1371.8" stroke="#231f20" stroke-width="1.8" fill="none"/>
<path d="M831.9 1369.8L845.5 1369.8L838.7 1382.0Z" fill="#231f20"/>
<text x="759.1" y="1365.8" font-size="21.05" style="font-weight:normal" stroke="#231f20" stroke-width="0.85">11799.6</text>
<path d="M827.9 1372.0V1380.0" stroke="#231f20" stroke-width="1.8" fill="none"/>
<path d="M821.1 1378.0L834.7 1378.0L827.9 1390.1Z" fill="#231f20"/>
<text x="847.0" y="1348.2" font-size="21.44" style="font-weight:normal" stroke="#231f20" stroke-width="0.85">12257.9</text>
<path d="M861.7 1355.8V1377.2" stroke="#231f20" stroke-width="1.8" fill="none"/>
<path d="M854.9 1375.2L868.5 1375.2L861.7 1387.4Z" fill="#231f20"/>
<text x="898.4" y="1380.7" font-size="21.19" style="font-weight:normal" stroke="#231f20" stroke-width="0.85">13108.4</text>
<path d="M927.4 1383.4V1393.5" stroke="#231f20" stroke-width="1.8" fill="none"/>
<path d="M920.6 1391.5L934.2 1391.5L927.4 1402.3Z" fill="#231f20"/>
<polyline points="85.0,1412.5 85.5,1412.5 86.0,1412.5 86.5,1412.5 87.0,1412.5 87.5,1412.5 88.0,1412.5 88.5,1412.4 89.0,1412.4 89.5,1412.4 90.0,1412.4 90.5,1412.4 91.0,1412.4 91.5,1412.3 92.0,1412.3 92.5,1412.3 93.0,1412.3 93.5,1412.3 94.0,1412.3 94.5,1412.3 95.0,1412.2 95.5,1412.2 96.0,1412.2 96.5,1412.2 97.0,1412.2 97.5,1412.2 98.0,1412.2 98.5,1412.1 99.0,1412.1 99.5,1412.1 100.0,1412.1 100.5,1412.1 101.0,1412.1 101.5,1412.0 102.0,1412.0 102.5,1412.0 103.0,1412.0 103.5,1412.0 104.0,1412.0 104.5,1412.0 105.0,1411.9 105.5,1411.9 106.0,1411.9 106.5,1411.9 107.0,1411.9 107.5,1411.9 108.0,1411.9 108.5,1411.8 109.0,1411.8 109.5,1411.8 110.0,1411.8 110.5,1411.8 111.0,1411.8 111.5,1411.7 112.0,1411.7 112.5,1411.7 113.0,1411.7 113.5,1411.7 114.0,1411.7 114.5,1411.7 115.0,1411.6 115.5,1411.6 116.0,1411.6 116.5,1411.6 117.0,1411.6 117.5,1411.6 118.0,1411.6 118.5,1411.5 119.0,1411.5 119.5,1411.5 120.0,1411.5 120.5,1411.5 121.0,1411.5 121.5,1411.5 122.0,1411.4 122.5,1411.4 123.0,1411.4 123.5,1411.4 124.0,1411.4 124.5,1411.4 125.0,1411.3 125.5,1411.3 126.0,1411.3 126.5,1411.3 127.0,1411.3 127.5,1411.3 128.0,1411.3 128.5,1411.2 129.0,1411.2 129.5,1411.2 130.0,1411.2 130.5,1411.2 131.0,1411.2 131.5,1411.2 132.0,1411.1 132.5,1411.1 133.0,1411.1 133.5,1411.1 134.0,1411.1 134.5,1411.1 135.0,1411.0 135.5,1411.0 136.0,1411.0 136.5,1411.0 137.0,1411.0 137.5,1411.0 138.0,1411.0 138.5,1410.9 139.0,1410.9 139.5,1410.9 140.0,1410.9 140.5,1410.9 141.0,1410.9 141.5,1410.9 142.0,1410.8 142.5,1410.8 143.0,1410.8 143.5,1410.8 144.0,1410.8 144.5,1410.8 145.0,1410.7 145.5,1410.7 146.0,1410.7 146.5,1410.7 147.0,1410.7 147.5,1410.7 148.0,1410.7 148.5,1410.6 149.0,1410.6 149.5,1410.6 150.0,1409.9 150.5,1410.6 151.0,1410.0 151.5,1410.5 152.0,1410.0 152.5,1410.5 153.0,1410.0 153.5,1410.5 154.0,1410.0 154.5,1410.5 155.0,1410.1 155.5,1410.5 156.0,1410.1 156.5,1410.5 157.0,1409.9 157.5,1410.6 158.0,1409.9 158.5,1410.5 159.0,1410.0 159.5,1410.5 160.0,1410.0 160.5,1410.5 161.0,1410.1 161.5,1410.5 162.0,1409.9 162.5,1410.5 163.0,1409.9 163.5,1410.4 164.0,1409.4 164.5,1410.5 165.0,1409.9 165.5,1410.5 166.0,1409.8 166.5,1410.5 167.0,1409.8 167.5,1410.5 168.0,1409.6 168.5,1410.4 169.0,1409.3 169.5,1410.5 170.0,1409.9 170.5,1410.4 171.0,1410.0 171.5,1410.5 172.0,1410.0 172.5,1410.5 173.0,1410.0 173.5,1410.5 174.0,1409.8 174.5,1410.4 175.0,1409.8 175.5,1410.4 176.0,1409.8 176.5,1410.4 177.0,1409.9 177.5,1410.4 178.0,1409.3 178.5,1410.4 179.0,1409.9 179.5,1410.5 180.0,1409.5 180.5,1410.4 181.0,1410.0 181.5,1410.3 182.0,1410.0 182.5,1410.3 183.0,1409.9 183.5,1410.4 184.0,1409.5 184.5,1410.4 185.0,1409.8 185.5,1410.4 186.0,1409.7 186.5,1410.4 187.0,1409.8 187.5,1410.4 188.0,1409.8 188.5,1410.3 189.0,1409.4 189.5,1410.4 190.0,1410.0 190.5,1410.4 191.0,1409.8 191.5,1410.3 192.0,1409.4 192.5,1410.3 193.0,1409.8 193.5,1410.3 194.0,1409.7 194.5,1410.4 195.0,1409.9 195.5,1410.4 196.0,1409.8 196.5,1410.4 197.0,1409.5 197.5,1410.3 198.0,1409.8 198.5,1410.3 199.0,1409.1 199.5,1410.4 200.0,1409.7 200.5,1410.3 201.0,1409.7 201.5,1410.3 202.0,1409.0 202.5,1410.3 203.0,1409.7 203.5,1410.3 204.0,1409.8 204.5,1410.4 205.0,1409.7 205.5,1410.3 206.0,1409.0 206.5,1410.3 207.0,1409.6 207.5,1410.2 208.0,1409.2 208.5,1410.3 209.0,1409.5 209.5,1410.3 210.0,1409.9 210.5,1410.3 211.0,1409.7 211.5,1410.3 212.0,1409.8 212.5,1410.3 213.0,1409.8 213.5,1410.3 214.0,1409.4 214.5,1410.3 215.0,1409.8 215.5,1410.3 216.0,1409.8 216.5,1410.3 217.0,1409.8 217.5,1410.3 218.0,1409.7 218.5,1410.3 219.0,1409.7 219.5,1410.2 220.0,1409.7 220.5,1410.3 221.0,1409.7 221.5,1410.3 222.0,1409.7 222.5,1410.2 223.0,1409.7 223.5,1410.2 224.0,1409.6 224.5,1410.2 225.0,1409.6 225.5,1410.2 226.0,1409.4 226.5,1410.2 227.0,1409.7 227.5,1410.3 228.0,1409.3 228.5,1410.2 229.0,1409.8 229.5,1410.2 230.0,1409.8 230.5,1410.2 231.0,1409.6 231.5,1410.2 232.0,1409.0 232.5,1410.3 233.0,1409.6 233.5,1410.2 234.0,1409.6 234.5,1410.2 235.0,1409.6 235.5,1410.1 236.0,1409.6 236.5,1410.2 237.0,1409.6 237.5,1410.1 238.0,1409.6 238.5,1410.1 239.0,1409.6 239.5,1410.2 240.0,1409.2 240.5,1410.2 241.0,1408.8 241.5,1410.1 242.0,1409.6 242.5,1410.2 243.0,1409.4 243.5,1410.2 244.0,1409.1 244.5,1410.2 245.0,1409.7 245.5,1410.2 246.0,1409.5 246.5,1410.1 247.0,1409.6 247.5,1410.1 248.0,1409.0 248.5,1410.2 249.0,1409.6 249.5,1410.1 250.0,1409.5 250.5,1410.1 251.0,1409.6 251.5,1410.1 252.0,1409.5 252.5,1410.1 253.0,1409.5 253.5,1410.1 254.0,1409.5 254.5,1410.1 255.0,1409.5 255.5,1410.2 256.0,1409.2 256.5,1410.1 257.0,1409.3 257.5,1410.2 258.0,1409.6 258.5,1410.1 259.0,1409.7 259.5,1410.2 260.0,1409.6 260.5,1410.2 261.0,1409.5 261.5,1410.2 262.0,1409.6 262.5,1410.1 263.0,1409.6 263.5,1410.1 264.0,1409.6 264.5,1410.3 265.0,1409.2 265.5,1410.2 266.0,1409.8 266.5,1410.3 267.0,1409.7 267.5,1410.3 268.0,1409.6 268.5,1410.3 269.0,1409.7 269.5,1410.2 270.0,1409.6 270.5,1410.3 271.0,1409.6 271.5,1410.2 272.0,1409.2 272.5,1410.3 273.0,1409.6 273.5,1410.2 274.0,1409.6 274.5,1410.2 275.0,1409.1 275.5,1410.3 276.0,1409.6 276.5,1410.3 277.0,1409.7 277.5,1410.3 278.0,1409.1 278.5,1410.3 279.0,1409.1 279.5,1410.3 280.0,1409.3 280.5,1410.2 281.0,1409.8 281.5,1410.4 282.0,1409.7 282.5,1410.3 283.0,1409.5 283.5,1410.3 284.0,1409.7 284.5,1410.3 285.0,1409.7 285.5,1410.3 286.0,1409.8 286.5,1410.3 287.0,1409.8 287.5,1410.3 288.0,1409.9 288.5,1410.3 289.0,1409.2 289.5,1410.3 290.0,1409.8 290.5,1410.4 291.0,1409.9 291.5,1410.4 292.0,1409.4 292.5,1410.3 293.0,1409.8 293.5,1410.3 294.0,1409.2 294.5,1410.4 295.0,1409.9 295.5,1410.3 296.0,1409.9 296.5,1410.4 297.0,1409.9 297.5,1410.4 298.0,1409.9 298.5,1410.4 299.0,1409.8 299.5,1410.4 300.0,1409.7 300.5,1410.4 301.0,1409.7 301.5,1410.4 302.0,1409.7 302.5,1410.4 303.0,1409.8 303.5,1410.4 304.0,1409.8 304.5,1410.4 305.0,1409.8 305.5,1410.4 306.0,1409.6 306.5,1410.4 307.0,1409.9 307.5,1410.5 308.0,1410.0 308.5,1410.5 309.0,1410.0 309.5,1410.4 310.0,1409.9 310.5,1410.5 311.0,1409.9 311.5,1410.4 312.0,1409.7 312.5,1410.4 313.0,1409.9 313.5,1410.4 314.0,1409.9 314.5,1410.4 315.0,1410.0 315.5,1410.5 316.0,1410.0 316.5,1410.5 317.0,1410.1 317.5,1410.5 318.0,1409.9 318.5,1410.5 319.0,1410.1 319.5,1410.5 320.0,1410.0 320.5,1410.5 321.0,1410.0 321.5,1410.5 322.0,1410.0 322.5,1410.6 323.0,1410.1 323.5,1410.5 324.0,1410.0 324.5,1410.5 325.0,1410.1 325.5,1410.5 326.0,1410.0 326.5,1410.5 327.0,1410.1 327.5,1410.5 328.0,1410.1 328.5,1410.6 329.0,1410.0 329.5,1410.5 329.8,1410.2 330.0,1409.9 330.1,1410.0 330.3,1409.9 330.5,1409.6 330.6,1409.4 330.9,1408.6 331.0,1407.9 331.1,1407.3 331.4,1405.0 331.5,1403.6 331.6,1401.4 331.9,1395.5 332.0,1397.2 332.3,1401.5 332.5,1403.2 332.7,1405.1 333.0,1406.5 333.2,1407.3 333.5,1408.4 333.6,1408.6 334.0,1409.4 334.4,1409.9 334.5,1410.0 334.8,1410.2 335.0,1410.0 335.3,1410.3 335.5,1410.4 336.0,1409.9 336.5,1410.6 337.0,1410.0 337.5,1410.5 338.0,1409.9 338.5,1410.6 339.0,1410.0 339.5,1410.6 340.0,1410.1 340.5,1410.6 341.0,1410.1 341.5,1410.6 342.0,1410.1 342.5,1410.6 343.0,1410.0 343.5,1410.6 344.0,1410.0 344.5,1410.6 345.0,1410.0 345.5,1410.7 346.0,1410.0 346.5,1410.7 347.0,1409.7 347.5,1410.7 348.0,1410.0 348.5,1410.6 349.0,1410.0 349.5,1410.7 350.0,1409.7 350.5,1410.7 351.0,1409.9 351.5,1410.7 352.0,1410.1 352.5,1410.6 353.0,1410.1 353.5,1410.7 354.0,1410.0 354.5,1410.7 355.0,1410.1 355.5,1410.7 356.0,1410.1 356.5,1410.7 357.0,1410.2 357.5,1410.6 358.0,1409.7 358.5,1410.7 359.0,1410.3 359.5,1410.7 360.0,1410.2 360.5,1410.7 361.0,1410.2 361.5,1410.7 362.0,1409.7 362.5,1410.7 363.0,1410.2 363.5,1410.8 364.0,1410.3 364.5,1410.8 365.0,1410.3 365.5,1410.7 366.0,1410.2 366.3,1410.5 366.5,1410.6 366.6,1410.6 366.8,1410.4 367.0,1410.2 367.1,1410.2 367.4,1409.7 367.5,1409.4 367.6,1409.1 367.9,1407.9 368.0,1407.2 368.1,1406.0 368.4,1403.0 368.5,1404.4 368.7,1406.1 368.9,1407.9 369.0,1408.3 369.2,1409.1 369.4,1409.8 369.5,1409.9 369.7,1410.2 370.0,1410.3 370.0,1410.3 370.2,1410.5 370.5,1410.7 371.0,1410.3 371.5,1410.8 372.0,1410.3 372.5,1410.7 373.0,1410.3 373.5,1410.8 374.0,1410.3 374.5,1410.8 375.0,1410.3 375.5,1410.8 376.0,1410.3 376.5,1410.8 377.0,1410.0 377.5,1410.8 378.0,1409.9 378.5,1410.8 379.0,1410.2 379.5,1410.9 380.0,1410.2 380.5,1410.9 381.0,1410.3 381.5,1410.7 382.0,1410.3 382.5,1410.9 383.0,1409.8 383.5,1410.8 384.0,1410.2 384.5,1410.8 385.0,1410.3 385.5,1410.9 386.0,1410.4 386.5,1410.9 387.0,1410.4 387.5,1410.9 388.0,1410.3 388.5,1410.9 389.0,1410.3 389.5,1410.9 390.0,1410.3 390.5,1410.8 391.0,1410.3 391.5,1410.9 392.0,1410.4 392.5,1410.9 393.0,1410.3 393.5,1410.9 394.0,1410.3 394.5,1410.9 395.0,1409.8 395.5,1410.9 396.0,1410.3 396.5,1410.8 397.0,1410.3 397.5,1410.9 398.0,1410.4 398.5,1410.9 399.0,1410.4 399.5,1411.0 400.0,1410.3 400.5,1410.9 401.0,1410.4 401.5,1410.9 402.0,1410.4 402.5,1411.0 403.0,1410.5 403.5,1411.0 404.0,1410.4 404.5,1410.9 405.0,1410.5 405.5,1410.9 406.0,1409.9 406.5,1410.9 407.0,1410.4 407.5,1410.9 408.0,1410.5 408.5,1411.0 409.0,1410.4 409.5,1410.9 410.0,1410.1 410.5,1410.9 411.0,1410.5 411.5,1410.9 412.0,1409.8 412.5,1411.0 413.0,1410.0 413.5,1411.0 414.0,1410.5 414.5,1411.0 415.0,1410.5 415.5,1411.0 416.0,1410.4 416.5,1411.0 417.0,1410.4 417.5,1411.0 418.0,1410.3 418.5,1411.0 419.0,1410.3 419.5,1411.0 420.0,1410.4 420.5,1411.0 421.0,1410.4 421.5,1411.1 422.0,1410.3 422.5,1411.1 423.0,1410.2 423.5,1411.1 424.0,1410.3 424.5,1411.0 425.0,1410.3 425.5,1411.1 426.0,1410.5 426.5,1411.0 427.0,1410.5 427.5,1411.1 428.0,1410.6 428.5,1411.0 429.0,1410.5 429.5,1411.0 430.0,1410.4 430.5,1411.1 431.0,1410.6 431.5,1411.0 432.0,1410.5 432.5,1411.0 433.0,1410.5 433.5,1411.0 434.0,1410.5 434.5,1411.0 435.0,1410.6 435.5,1411.1 436.0,1410.7 436.5,1411.1 437.0,1410.7 437.5,1411.1 438.0,1410.7 438.5,1411.1 439.0,1410.7 439.5,1411.1 440.0,1410.6 440.5,1411.1 441.0,1410.6 441.5,1411.1 442.0,1410.5 442.5,1411.1 443.0,1410.4 443.5,1411.1 444.0,1410.5 444.5,1411.1 445.0,1410.2 445.5,1411.1 446.0,1410.6 446.5,1411.1 447.0,1410.7 447.5,1411.2 448.0,1410.5 448.5,1411.2 449.0,1410.7 449.2,1410.9 449.5,1411.0 449.5,1411.0 449.7,1410.9 450.0,1410.6 450.0,1410.5 450.2,1410.5 450.5,1410.0 450.5,1410.0 450.8,1409.2 451.0,1408.1 451.0,1407.8 451.3,1405.7 451.5,1407.4 451.6,1407.8 451.8,1409.1 452.0,1409.7 452.1,1410.0 452.4,1410.4 452.5,1410.6 452.6,1410.7 452.9,1410.7 453.0,1410.5 453.1,1410.7 453.4,1411.1 453.5,1411.1 454.0,1410.5 454.2,1410.8 454.5,1411.1 455.0,1410.4 455.2,1410.7 455.5,1411.0 456.0,1410.6 456.2,1410.8 456.5,1410.9 457.0,1410.7 457.2,1410.8 457.5,1410.7 458.0,1410.5 458.2,1410.4 458.5,1410.2 459.0,1409.9 459.2,1409.6 459.5,1409.2 459.8,1408.7 460.0,1408.2 460.1,1407.9 460.2,1407.5 460.4,1406.7 460.5,1406.2 460.7,1404.9 461.0,1402.2 461.2,1399.5 461.3,1397.9 461.5,1393.7 461.6,1391.1 461.9,1380.1 462.0,1375.1 462.2,1362.4 462.5,1375.7 462.6,1379.8 463.0,1389.7 463.0,1390.5 463.5,1397.2 463.5,1397.6 463.9,1401.3 464.0,1402.2 464.3,1403.9 464.5,1404.8 464.7,1405.6 465.0,1406.4 465.1,1406.8 465.2,1406.9 465.5,1407.4 465.6,1407.5 465.6,1407.6 466.0,1408.0 466.1,1408.1 466.5,1408.3 466.6,1408.3 466.8,1408.4 467.0,1408.4 467.4,1408.2 467.5,1408.1 467.9,1407.6 468.0,1407.5 468.4,1406.6 468.5,1406.1 468.8,1404.8 469.0,1405.8 469.1,1406.3 469.2,1406.9 469.5,1407.7 469.7,1408.3 470.0,1408.9 470.1,1409.1 470.5,1409.6 470.6,1409.7 471.0,1410.0 471.1,1410.0 471.4,1410.2 471.5,1410.3 471.9,1410.5 472.0,1410.5 472.4,1410.6 472.5,1410.6 473.0,1410.6 473.5,1410.8 473.7,1410.8 474.0,1410.3 474.5,1410.9 475.0,1410.5 475.5,1411.0 476.0,1410.3 476.5,1411.1 477.0,1410.8 477.5,1411.2 478.0,1410.2 478.3,1410.9 478.5,1411.2 479.0,1410.8 479.5,1411.2 480.0,1410.7 480.5,1411.3 480.6,1411.1 481.0,1410.7 481.5,1411.3 482.0,1410.7 482.5,1411.3 483.0,1410.7 483.5,1411.3 484.0,1410.8 484.5,1411.3 485.0,1410.8 485.5,1411.3 486.0,1410.8 486.5,1411.4 487.0,1410.9 487.5,1411.3 488.0,1411.0 488.5,1411.3 489.0,1410.9 489.5,1411.4 490.0,1410.9 490.5,1411.3 491.0,1410.9 491.5,1411.4 492.0,1410.9 492.5,1411.4 493.0,1410.5 493.5,1411.4 494.0,1410.7 494.5,1411.4 495.0,1410.8 495.5,1411.3 496.0,1410.9 496.5,1411.3 497.0,1411.0 497.5,1411.4 498.0,1411.0 498.5,1411.3 499.0,1410.9 499.5,1411.4 500.0,1410.9 500.5,1411.4 501.0,1410.9 501.5,1411.4 502.0,1410.9 502.5,1411.4 503.0,1410.8 503.5,1411.5 504.0,1410.8 504.5,1411.4 505.0,1410.9 505.5,1411.5 506.0,1411.0 506.5,1411.5 507.0,1411.0 507.5,1411.5 508.0,1410.9 508.5,1411.4 509.0,1410.9 509.5,1411.4 510.0,1410.9 510.5,1411.5 511.0,1411.0 511.5,1411.5 512.0,1411.0 512.5,1411.5 513.0,1410.8 513.5,1411.5 514.0,1410.9 514.5,1411.4 515.0,1410.8 515.5,1411.5 516.0,1410.2 516.5,1411.5 517.0,1410.8 517.5,1411.5 518.0,1410.2 518.5,1411.6 519.0,1410.9 519.5,1411.5 520.0,1410.9 520.5,1411.5 521.0,1411.1 521.5,1411.5 522.0,1411.0 522.5,1411.5 523.0,1410.9 523.5,1411.6 524.0,1411.0 524.5,1411.6 525.0,1411.0 525.5,1411.6 526.0,1411.0 526.5,1411.6 527.0,1411.1 527.5,1411.5 528.0,1411.1 528.5,1411.5 529.0,1411.2 529.5,1411.6 530.0,1411.1 530.5,1411.6 531.0,1411.1 531.5,1411.6 532.0,1411.0 532.5,1411.6 533.0,1411.0 533.5,1411.6 534.0,1411.1 534.5,1411.5 535.0,1410.6 535.5,1411.6 536.0,1411.1 536.5,1411.5 537.0,1411.0 537.5,1411.6 538.0,1411.0 538.5,1411.6 539.0,1411.1 539.5,1411.6 540.0,1411.0 540.5,1411.6 541.0,1411.1 541.5,1411.6 542.0,1411.2 542.5,1411.7 543.0,1411.1 543.3,1411.4 543.5,1411.5 543.6,1411.5 543.9,1411.1 544.0,1411.0 544.2,1411.1 544.5,1410.8 544.8,1410.2 545.0,1409.6 545.1,1409.2 545.4,1407.5 545.5,1408.1 545.7,1409.2 546.0,1410.2 546.3,1410.8 546.5,1411.1 546.6,1411.2 546.9,1410.9 547.0,1410.8 547.2,1411.1 547.5,1411.6 547.8,1411.4 548.0,1411.2 548.5,1411.6 549.0,1411.2 549.5,1411.6 550.0,1411.2 550.5,1411.6 551.0,1411.2 551.5,1411.6 552.0,1411.2 552.5,1411.7 553.0,1411.1 553.5,1411.7 554.0,1410.6 554.5,1411.7 555.0,1411.3 555.3,1411.6 555.5,1411.7 555.6,1411.6 555.9,1411.3 556.0,1411.2 556.2,1411.4 556.5,1411.4 556.8,1411.1 557.0,1410.8 557.1,1410.6 557.4,1409.9 557.5,1409.6 557.7,1408.7 558.0,1409.9 558.3,1410.7 558.5,1411.0 558.6,1411.1 558.9,1411.3 559.0,1411.2 559.2,1411.4 559.5,1411.6 559.8,1411.4 560.0,1411.3 560.1,1411.4 560.5,1411.7 561.0,1411.3 561.5,1411.7 562.0,1410.8 562.5,1411.7 563.0,1411.2 563.5,1411.7 564.0,1410.9 564.5,1411.8 565.0,1411.3 565.5,1411.8 566.0,1411.2 566.5,1411.8 567.0,1411.2 567.5,1411.8 568.0,1411.3 568.5,1411.7 569.0,1411.3 569.5,1411.8 570.0,1411.3 570.5,1411.7 571.0,1411.2 571.5,1411.8 572.0,1411.1 572.5,1411.7 573.0,1411.3 573.5,1411.8 574.0,1411.4 574.5,1411.8 575.0,1411.2 575.5,1411.8 576.0,1411.3 576.5,1411.8 577.0,1411.3 577.5,1411.8 578.0,1411.4 578.5,1411.8 579.0,1411.4 579.5,1411.8 580.0,1411.4 580.5,1411.9 581.0,1411.4 581.5,1411.9 582.0,1411.4 582.5,1411.8 583.0,1411.5 583.5,1411.9 584.0,1411.1 584.5,1411.9 585.0,1411.3 585.5,1411.8 586.0,1411.3 586.5,1411.9 587.0,1411.4 587.5,1411.9 588.0,1410.9 588.4,1411.6 588.5,1411.7 588.7,1411.6 589.0,1411.4 589.3,1411.0 589.5,1410.7 589.6,1410.5 589.9,1409.5 590.0,1409.0 590.2,1407.9 590.5,1405.2 590.8,1400.9 591.0,1404.0 591.1,1405.3 591.4,1407.9 591.5,1408.5 591.7,1409.5 592.0,1410.5 592.3,1411.1 592.5,1411.3 592.6,1411.4 592.9,1411.1 593.0,1410.9 593.2,1411.3 593.5,1411.8 594.0,1411.3 594.5,1411.9 595.0,1411.3 595.5,1411.9 596.0,1411.4 596.5,1411.9 597.0,1411.3 597.5,1412.0 598.0,1411.3 598.5,1411.9 599.0,1411.4 599.5,1412.0 600.0,1411.5 600.5,1412.0 601.0,1411.4 601.5,1411.9 602.0,1411.4 602.5,1412.0 603.0,1410.8 603.5,1411.9 604.0,1411.4 604.5,1411.9 605.0,1411.4 605.5,1412.0 606.0,1411.5 606.5,1412.0 607.0,1411.4 607.5,1411.9 608.0,1411.4 608.5,1411.9 609.0,1411.3 609.5,1411.9 610.0,1411.4 610.5,1412.0 611.0,1411.3 611.5,1411.9 612.0,1411.3 612.5,1412.0 613.0,1411.3 613.5,1412.0 614.0,1411.3 614.5,1412.0 615.0,1411.3 615.5,1412.0 616.0,1411.3 616.5,1412.0 617.0,1411.3 617.5,1411.9 618.0,1411.4 618.5,1412.0 619.0,1411.3 619.5,1411.9 620.0,1411.3 620.5,1411.9 621.0,1411.3 621.5,1412.0 622.0,1411.5 622.5,1411.9 623.0,1411.1 623.5,1411.9 624.0,1411.5 624.5,1411.9 625.0,1410.8 625.5,1411.9 626.0,1411.5 626.5,1412.0 627.0,1411.4 627.5,1411.9 628.0,1411.3 628.5,1411.9 629.0,1410.7 629.5,1412.0 630.0,1411.3 630.5,1412.0 631.0,1411.3 631.5,1411.9 632.0,1411.4 632.5,1411.9 633.0,1411.3 633.5,1411.9 634.0,1411.3 634.5,1412.0 635.0,1411.4 635.5,1412.0 636.0,1411.4 636.5,1412.0 637.0,1411.4 637.5,1411.9 638.0,1411.3 638.5,1412.0 639.0,1411.4 639.5,1411.9 640.0,1410.8 640.5,1412.0 641.0,1411.6 641.5,1411.9 642.0,1411.5 642.1,1411.6 642.4,1411.9 642.5,1411.9 642.7,1411.8 643.0,1411.5 643.3,1411.5 643.5,1411.3 643.6,1411.1 643.9,1410.5 644.0,1410.3 644.2,1409.6 644.5,1408.0 644.8,1409.6 645.0,1410.3 645.1,1410.5 645.4,1411.1 645.5,1411.3 645.7,1411.5 646.0,1411.3 646.3,1411.7 646.5,1411.9 646.6,1411.8 646.9,1411.5 647.0,1411.4 647.5,1412.0 648.0,1411.4 648.5,1412.0 649.0,1411.1 649.5,1411.9 650.0,1411.4 650.5,1412.0 651.0,1411.5 651.5,1412.0 652.0,1411.5 652.5,1411.9 653.0,1411.4 653.5,1411.9 654.0,1411.3 654.5,1411.9 654.8,1411.6 655.0,1411.4 655.1,1411.5 655.4,1411.5 655.5,1411.4 655.7,1411.1 656.0,1410.5 656.3,1409.5 656.5,1408.5 656.6,1407.9 656.9,1405.2 657.0,1406.2 657.2,1407.9 657.5,1409.5 657.8,1410.5 658.0,1410.9 658.1,1411.1 658.4,1411.5 658.5,1411.6 658.7,1411.7 659.0,1411.4 659.3,1411.7 659.5,1412.0 660.0,1411.4 660.5,1412.0 661.0,1411.5 661.5,1411.9 662.0,1411.5 662.5,1411.9 663.0,1411.4 663.5,1412.0 664.0,1411.5 664.5,1411.9 665.0,1411.5 665.5,1411.9 666.0,1411.5 666.5,1412.0 667.0,1411.2 667.5,1412.0 668.0,1411.5 668.5,1412.0 669.0,1411.4 669.5,1411.9 670.0,1411.5 670.5,1412.0 671.0,1410.9 671.5,1412.0 672.0,1411.6 672.5,1412.0 673.0,1411.5 673.5,1412.0 674.0,1411.5 674.5,1412.0 675.0,1411.4 675.5,1412.0 676.0,1411.4 676.5,1412.0 677.0,1411.5 677.5,1412.0 678.0,1410.8 678.5,1412.0 679.0,1411.5 679.5,1412.0 680.0,1411.5 680.5,1412.0 681.0,1411.4 681.5,1411.9 682.0,1411.4 682.5,1411.9 683.0,1411.3 683.5,1412.0 684.0,1411.5 684.5,1412.0 685.0,1411.6 685.5,1412.1 686.0,1411.6 686.5,1411.9 687.0,1411.6 687.5,1412.0 688.0,1411.5 688.5,1412.0 689.0,1411.4 689.5,1412.0 690.0,1411.2 690.5,1412.0 691.0,1411.5 691.5,1411.9 692.0,1411.6 692.5,1412.0 693.0,1411.5 693.5,1412.0 694.0,1411.5 694.5,1412.0 695.0,1411.5 695.5,1412.0 696.0,1411.5 696.5,1412.0 697.0,1411.6 697.5,1412.0 698.0,1411.5 698.5,1412.0 699.0,1411.5 699.5,1411.9 700.0,1410.8 700.5,1412.0 701.0,1411.5 701.5,1412.1 702.0,1411.5 702.5,1412.0 703.0,1411.6 703.5,1412.0 704.0,1411.4 704.5,1412.0 705.0,1411.4 705.4,1411.9 705.5,1411.8 705.7,1411.7 706.0,1411.5 706.3,1411.1 706.5,1410.7 706.6,1410.4 706.9,1409.4 707.0,1408.9 707.2,1407.6 707.5,1404.8 707.8,1400.0 708.0,1403.4 708.1,1404.8 708.4,1407.6 708.5,1408.3 708.7,1409.4 709.0,1410.4 709.3,1411.1 709.5,1411.4 709.6,1411.5 709.9,1411.1 710.0,1410.8 710.2,1411.3 710.5,1411.9 711.0,1411.4 711.5,1412.0 712.0,1411.4 712.5,1412.0 713.0,1411.4 713.5,1411.9 714.0,1411.0 714.5,1412.0 715.0,1411.6 715.5,1412.0 716.0,1411.4 716.5,1412.0 717.0,1411.5 717.5,1412.0 718.0,1411.4 718.5,1412.0 719.0,1411.5 719.5,1412.1 720.0,1411.5 720.5,1412.0 721.0,1411.6 721.5,1412.1 722.0,1411.6 722.5,1412.0 723.0,1411.6 723.5,1412.0 724.0,1411.6 724.5,1412.0 725.0,1411.5 725.5,1412.0 726.0,1411.1 726.4,1411.8 726.5,1412.0 726.7,1411.8 727.0,1411.5 727.3,1411.6 727.5,1411.5 727.6,1411.4 727.9,1410.9 728.0,1410.7 728.2,1410.1 728.5,1408.8 728.8,1406.7 729.0,1408.2 729.1,1408.8 729.4,1410.1 729.5,1410.4 729.7,1410.9 730.0,1411.4 730.3,1411.6 730.5,1411.8 730.6,1411.8 730.9,1411.5 731.0,1411.4 731.2,1411.7 731.5,1412.0 732.0,1411.4 732.5,1412.0 733.0,1411.4 733.5,1412.0 734.0,1411.2 734.5,1411.9 735.0,1411.5 735.3,1411.4 735.5,1411.1 735.6,1411.0 735.9,1410.2 736.0,1409.9 736.2,1409.0 736.5,1407.0 736.8,1403.7 737.0,1400.4 737.1,1398.3 737.4,1389.4 737.5,1392.9 737.7,1398.3 738.0,1403.7 738.3,1407.0 738.5,1408.5 738.6,1409.0 738.9,1410.2 739.0,1410.5 739.2,1411.0 739.5,1411.4 739.8,1411.4 740.0,1411.0 740.5,1412.0 741.0,1411.5 741.5,1412.1 742.0,1411.5 742.5,1412.0 743.0,1411.0 743.5,1412.0 744.0,1411.4 744.5,1412.0 745.0,1411.5 745.5,1412.0 746.0,1411.6 746.5,1412.1 747.0,1411.4 747.5,1412.1 748.0,1411.4 748.5,1412.0 749.0,1411.4 749.5,1412.0 750.0,1411.4 750.5,1412.1 751.0,1411.5 751.5,1412.1 752.0,1411.4 752.5,1412.0 753.0,1410.8 753.5,1412.0 754.0,1411.4 754.5,1412.0 755.0,1411.1 755.5,1412.0 756.0,1411.5 756.5,1412.0 757.0,1411.1 757.5,1412.1 758.0,1411.5 758.5,1412.0 759.0,1411.5 759.5,1412.1 760.0,1411.6 760.5,1412.1 761.0,1411.5 761.5,1412.0 762.0,1411.4 762.5,1412.1 763.0,1411.5 763.5,1412.0 764.0,1411.5 764.2,1411.7 764.5,1411.9 764.8,1411.7 765.0,1411.5 765.1,1411.4 765.4,1411.0 765.5,1410.8 765.7,1410.2 766.0,1409.0 766.3,1407.0 766.5,1405.0 766.6,1403.7 766.9,1407.0 767.0,1407.8 767.2,1409.0 767.5,1410.2 767.8,1411.0 768.0,1411.1 768.1,1411.3 768.4,1411.7 768.5,1411.8 768.7,1411.8 769.0,1411.4 769.5,1412.0 770.0,1411.4 770.5,1412.1 771.0,1411.5 771.5,1412.0 772.0,1411.6 772.5,1412.1 773.0,1411.1 773.5,1412.0 774.0,1411.5 774.5,1412.0 775.0,1411.6 775.5,1412.1 776.0,1411.6 776.5,1412.0 777.0,1411.5 777.5,1412.0 778.0,1411.5 778.5,1412.0 779.0,1411.5 779.5,1412.0 780.0,1411.3 780.5,1412.0 781.0,1411.2 781.5,1412.0 782.0,1411.5 782.5,1412.0 783.0,1411.6 783.5,1412.0 784.0,1411.6 784.5,1412.1 785.0,1411.5 785.5,1412.1 786.0,1411.6 786.5,1412.1 787.0,1411.6 787.5,1412.1 788.0,1411.5 788.5,1412.1 789.0,1411.5 789.5,1412.1 790.0,1411.2 790.5,1412.1 791.0,1411.6 791.5,1412.1 792.0,1411.7 792.5,1412.1 793.0,1411.4 793.5,1412.1 794.0,1411.5 794.5,1412.0 795.0,1411.5 795.5,1412.0 796.0,1411.5 796.5,1412.0 797.0,1411.5 797.5,1412.0 798.0,1411.5 798.5,1412.0 799.0,1411.6 799.5,1412.0 800.0,1411.0 800.5,1412.0 801.0,1411.6 801.5,1412.0 802.0,1411.6 802.5,1412.0 803.0,1411.6 803.5,1412.1 804.0,1411.7 804.5,1412.0 805.0,1411.5 805.5,1412.0 806.0,1411.6 806.5,1412.0 807.0,1411.5 807.5,1412.1 808.0,1411.5 808.5,1412.0 809.0,1411.5 809.5,1412.1 810.0,1411.6 810.5,1412.1 811.0,1411.7 811.5,1412.1 812.0,1411.6 812.5,1412.0 813.0,1411.5 813.5,1412.0 814.0,1411.5 814.5,1412.1 815.0,1411.6 815.5,1412.1 816.0,1411.5 816.5,1412.1 817.0,1410.9 817.5,1412.1 818.0,1411.4 818.5,1412.0 819.0,1411.5 819.5,1412.1 820.0,1411.4 820.5,1412.1 821.0,1411.5 821.5,1412.1 822.0,1411.6 822.5,1412.1 823.0,1411.6 823.5,1412.1 824.0,1411.6 824.5,1412.0 825.0,1411.6 825.3,1411.7 825.5,1411.4 825.5,1411.3 825.8,1410.8 826.0,1410.1 826.0,1409.9 826.3,1408.5 826.5,1406.8 826.6,1406.0 826.8,1402.0 827.0,1398.4 827.1,1395.5 827.4,1402.0 827.5,1404.4 827.6,1406.0 827.9,1408.5 828.0,1409.2 828.1,1409.9 828.4,1410.8 828.5,1411.0 828.7,1411.3 828.9,1411.0 829.0,1410.9 829.2,1411.4 829.5,1412.0 830.0,1411.6 830.5,1412.1 831.0,1411.5 831.5,1412.1 832.0,1411.4 832.5,1412.0 833.0,1411.6 833.5,1412.0 834.0,1411.6 834.5,1411.8 834.8,1411.5 835.0,1411.2 835.0,1411.1 835.3,1410.4 835.5,1409.6 835.5,1409.3 835.8,1407.5 836.0,1405.4 836.1,1404.3 836.3,1399.3 836.5,1394.7 836.6,1391.0 836.9,1399.3 837.0,1402.3 837.1,1404.3 837.4,1407.5 837.5,1408.4 837.6,1409.3 837.9,1410.4 838.0,1410.7 838.2,1411.1 838.4,1411.5 838.5,1411.6 838.7,1411.8 839.0,1411.5 839.5,1412.1 840.0,1410.9 840.5,1412.1 841.0,1411.5 841.5,1412.1 842.0,1411.5 842.5,1412.1 843.0,1411.5 843.5,1412.1 844.0,1411.6 844.5,1412.1 845.0,1410.8 845.5,1412.1 846.0,1411.4 846.5,1412.0 847.0,1411.4 847.5,1412.0 848.0,1411.4 848.5,1412.1 849.0,1411.1 849.5,1412.1 850.0,1411.5 850.5,1412.1 851.0,1411.5 851.5,1412.1 852.0,1411.5 852.5,1412.2 853.0,1411.1 853.5,1412.1 854.0,1411.5 854.5,1412.1 855.0,1411.6 855.5,1412.1 856.0,1411.6 856.5,1412.1 857.0,1411.6 857.5,1412.1 858.0,1411.5 858.5,1412.1 859.0,1411.6 859.5,1411.9 859.6,1411.9 859.9,1411.7 860.0,1411.6 860.1,1411.4 860.4,1410.9 860.5,1410.6 860.6,1410.1 860.9,1408.8 861.0,1408.2 861.2,1406.5 861.4,1402.9 861.5,1401.7 861.7,1396.9 862.0,1402.9 862.0,1403.6 862.2,1406.6 862.5,1408.8 862.5,1408.9 862.8,1410.1 863.0,1410.9 863.0,1410.9 863.3,1411.4 863.5,1411.7 863.5,1411.7 863.8,1411.8 864.0,1411.5 864.5,1412.1 865.0,1411.6 865.5,1412.1 866.0,1411.7 866.5,1412.2 867.0,1411.7 867.5,1412.1 868.0,1411.6 868.5,1412.1 869.0,1411.6 869.5,1412.1 870.0,1411.5 870.5,1412.1 871.0,1411.1 871.5,1412.2 872.0,1411.7 872.5,1412.1 873.0,1410.9 873.5,1412.1 874.0,1411.5 874.5,1412.1 875.0,1411.6 875.5,1412.1 876.0,1411.5 876.5,1412.1 877.0,1410.9 877.5,1412.1 878.0,1411.6 878.5,1412.1 879.0,1411.6 879.5,1412.2 880.0,1411.3 880.5,1412.2 881.0,1411.6 881.5,1412.1 882.0,1411.3 882.5,1412.2 883.0,1411.0 883.5,1412.1 884.0,1411.5 884.5,1412.2 885.0,1411.6 885.5,1412.1 886.0,1411.6 886.5,1412.2 887.0,1411.7 887.5,1412.1 888.0,1411.7 888.5,1412.1 889.0,1411.0 889.5,1412.2 890.0,1411.6 890.5,1412.1 891.0,1411.1 891.5,1412.2 892.0,1411.7 892.5,1412.1 893.0,1411.6 893.5,1412.1 894.0,1411.7 894.5,1412.1 895.0,1411.7 895.5,1412.1 896.0,1411.6 896.5,1412.1 897.0,1411.6 897.5,1412.2 898.0,1410.9 898.5,1412.1 899.0,1411.5 899.5,1412.2 900.0,1411.1 900.5,1412.2 901.0,1411.6 901.5,1412.1 902.0,1411.6 902.5,1412.1 903.0,1411.2 903.5,1412.1 904.0,1411.5 904.5,1412.1 905.0,1411.6 905.5,1412.2 906.0,1411.7 906.5,1412.1 907.0,1411.6 907.5,1412.1 908.0,1411.6 908.3,1411.9 908.5,1412.0 908.6,1411.9 908.9,1411.7 909.0,1411.5 909.2,1411.4 909.5,1410.9 909.8,1410.1 910.0,1409.2 910.1,1408.7 910.4,1406.4 910.5,1407.3 910.7,1408.7 911.0,1410.1 911.3,1410.9 911.5,1411.3 911.6,1411.4 911.9,1411.4 912.0,1411.2 912.2,1411.6 912.5,1412.0 912.8,1411.9 913.0,1411.7 913.5,1412.2 914.0,1411.6 914.5,1412.1 915.0,1411.5 915.5,1412.2 916.0,1411.4 916.5,1412.1 917.0,1411.6 917.5,1412.1 918.0,1411.6 918.5,1412.2 919.0,1411.7 919.5,1412.2 920.0,1411.6 920.5,1412.1 921.0,1411.5 921.5,1412.1 922.0,1411.5 922.5,1412.1 923.0,1411.6 923.5,1412.1 923.9,1411.7 924.0,1411.6 924.2,1411.9 924.5,1411.9 924.6,1411.9 924.9,1411.6 925.0,1411.5 925.2,1411.2 925.5,1410.8 925.6,1410.6 925.9,1409.5 926.0,1409.3 926.3,1407.9 926.5,1406.0 926.6,1405.0 926.9,1407.9 927.0,1408.2 927.3,1409.5 927.5,1410.3 927.6,1410.6 928.0,1411.2 928.0,1411.3 928.3,1411.6 928.5,1411.8 928.6,1411.9 929.0,1411.7 929.0,1411.6 929.3,1411.9 929.5,1412.1 930.0,1411.6 930.5,1412.1 931.0,1411.6 931.5,1412.2 932.0,1411.6 932.5,1412.1 933.0,1411.5 933.5,1412.2 934.0,1411.6 934.5,1412.2 935.0,1411.7 935.5,1412.2 936.0,1411.6 936.5,1412.2 937.0,1411.6 937.5,1412.2 938.0,1411.1 938.5,1412.2 939.0,1411.6 939.5,1412.2 940.0,1411.6 940.5,1412.1 941.0,1411.5 941.5,1412.1 942.0,1411.6 942.5,1412.1 943.0,1411.7 943.5,1412.2 944.0,1411.7 944.5,1412.1 945.0,1411.6 945.5,1412.1 946.0,1411.0 946.5,1412.2 947.0,1411.6 947.5,1412.2 948.0,1411.6 948.5,1412.1 949.0,1411.6 949.5,1412.2 950.0,1411.5 950.5,1412.1 951.0,1411.6 951.5,1412.1 952.0,1411.6 952.5,1412.2 953.0,1411.7 953.5,1412.1 954.0,1411.7 954.5,1412.1 955.0,1411.6 955.5,1412.1 956.0,1411.7 956.5,1412.2 957.0,1411.6 957.5,1412.2 958.0,1411.6 958.5,1412.2 959.0,1411.0 959.5,1412.2 960.0,1411.6 960.5,1412.2 961.0,1411.7 961.5,1412.1 962.0,1411.6 962.5,1412.2 963.0,1411.6 963.5,1412.1 964.0,1411.0 964.5,1412.2 965.0,1411.6 965.5,1412.2 966.0,1411.6 966.5,1412.2 967.0,1411.6 967.5,1412.2 968.0,1411.6 968.5,1412.2 969.0,1411.7 969.5,1412.2 970.0,1411.1 970.5,1412.1 971.0,1411.5 971.5,1412.1 972.0,1411.7 972.5,1412.2 973.0,1411.6 973.5,1412.2 974.0,1411.6 974.5,1412.2 975.0,1411.5 975.5,1412.2 976.0,1411.5 976.5,1412.2 977.0,1411.5 977.5,1412.2 978.0,1411.0 978.5,1412.2 979.0,1411.5 979.5,1412.2 980.0,1411.7 980.5,1412.2 981.0,1411.7 981.5,1412.2 982.0,1411.7 982.5,1412.1 983.0,1411.7 983.5,1412.1 984.0,1411.7 984.5,1412.0 985.0,1411.6 985.5,1411.8 986.0,1411.6 986.5,1411.5 986.9,1411.3 987.0,1411.2 987.5,1410.9 987.8,1410.7 988.0,1410.5 988.5,1409.9 988.7,1409.6 989.0,1409.0 989.5,1407.9 989.6,1407.6 990.0,1406.2 990.5,1403.7 990.8,1401.5 991.0,1399.5 991.1,1398.4 991.4,1394.0 991.5,1392.2 991.7,1387.7 992.0,1378.3 992.3,1364.0 992.5,1350.3 992.6,1341.7 992.9,1306.7 993.0,1290.9 993.2,1250.8 993.5,1287.5 993.7,1304.9 994.0,1329.0 994.2,1338.6 994.5,1354.6 994.6,1359.9 995.0,1370.6 995.1,1373.5 995.5,1380.9 995.5,1381.5 995.6,1382.5 996.0,1387.7 996.1,1388.5 996.5,1392.3 996.6,1392.8 997.0,1395.6 997.0,1395.8 997.5,1398.0 997.9,1399.5 998.0,1399.9 998.5,1401.4 999.0,1402.7 999.5,1403.8 1000.0,1404.7 1000.2,1405.0 1000.5,1405.5 1001.0,1406.2 1001.5,1406.8 1002.0,1407.4 1002.5,1407.9 1002.6,1407.9 1003.0,1408.3 1003.5,1408.7 1004.0,1409.1 1004.5,1409.4 1004.9,1409.6 1005.0,1409.6 1005.5,1409.8 1006.0,1410.0 1006.3,1410.0 1006.5,1409.9 1006.6,1409.9 1006.9,1409.7 1007.0,1409.6 1007.2,1409.3 1007.2,1409.2 1007.5,1408.6 1007.8,1407.3 1008.0,1406.0 1008.1,1405.2 1008.1,1405.0 1008.4,1401.6 1008.5,1399.9 1008.7,1395.6 1009.0,1401.7 1009.2,1404.9 1009.3,1405.4 1009.5,1407.0 1009.6,1407.5 1009.6,1407.6 1009.9,1409.0 1010.0,1409.3 1010.2,1409.8 1010.4,1410.1 1010.5,1410.3 1010.8,1410.6 1011.0,1410.7 1011.1,1410.7 1011.5,1410.8 1011.9,1410.8 1012.0,1410.7 1012.5,1410.6 1012.6,1410.6 1013.0,1410.4 1013.5,1410.1 1013.8,1409.9 1014.0,1409.7 1014.5,1409.2 1014.9,1408.8 1015.0,1408.6 1015.5,1407.8 1016.0,1406.8 1016.5,1407.8 1017.0,1408.7 1017.1,1408.9 1017.5,1409.4 1018.0,1410.0 1018.2,1410.2 1018.5,1410.4 1019.0,1410.8 1019.4,1411.0 1019.5,1411.1 1020.0,1411.3 1020.5,1411.5 1021.0,1411.6 1021.5,1411.8 1021.6,1411.8 1022.0,1411.8 1022.5,1411.9 1022.8,1411.6 1023.0,1411.1 1023.5,1412.1 1023.9,1411.8 1024.0,1411.7 1024.5,1412.1 1025.0,1411.7 1025.5,1412.2 1026.0,1411.6 1026.5,1412.2 1027.0,1411.7 1027.5,1412.2 1028.0,1411.7 1028.5,1412.2 1029.0,1411.6 1029.5,1412.2 1030.0,1411.7 1030.5,1412.2 1031.0,1411.7 1031.5,1412.2 1032.0,1411.8 1032.5,1412.3 1033.0,1411.7 1033.5,1412.2 1034.0,1411.7 1034.5,1412.3 1035.0,1412.3 1035.5,1412.3 1036.0,1412.3 1036.5,1412.3 1037.0,1412.3 1037.5,1412.3" fill="none" stroke="#1e1b1b" stroke-width="2.30" stroke-linejoin="round"/>
<text x="117.1" y="1494.4" font-size="43.00">G</text>
<text x="242.9" y="1484.2" font-size="30.90">6 h</text>
<text x="301.1" y="1492.0" font-size="21.30" style="font-weight:normal" stroke="#231f20" stroke-width="0.85">5272.3</text>
<text x="345.0" y="1538.3" font-size="20.99" style="font-weight:normal" stroke="#231f20" stroke-width="0.85">5752.3</text>
<path d="M369.1 1545.1V1567.4" stroke="#231f20" stroke-width="1.8" fill="none"/>
<path d="M362.3 1565.4L375.9 1565.4L369.1 1577.2Z" fill="#231f20"/>
<text x="426.9" y="1539.2" font-size="21.57" style="font-weight:normal" stroke="#231f20" stroke-width="0.85">6990.9</text>
<path d="M463.4 1553.5V1571.3" stroke="#231f20" stroke-width="1.8" fill="none"/>
<path d="M456.6 1569.3L470.2 1569.3L463.4 1581.4Z" fill="#231f20"/>
<text x="474.5" y="1580.8" font-size="20.87" style="font-weight:normal" stroke="#231f20" stroke-width="0.85">7150.1</text>
<path d="M487.4 1585.2L481.5 1598" stroke="#231f20" stroke-width="1.6" fill="none"/>
<path d="M475.9 1609.6L476.2 1594.5L487.8 1599.8Z" fill="#231f20"/>
<text x="161.4" y="1613.4" font-size="21.32" style="font-weight:normal" stroke="#231f20" stroke-width="0.85">3420.3</text>
<text x="516.5" y="1552.1" font-size="21.39" style="font-weight:normal" stroke="#231f20" stroke-width="0.85">8082.6</text>
<path d="M546.4 1563.6V1594.3" stroke="#231f20" stroke-width="1.8" fill="none"/>
<path d="M539.6 1592.3L553.2 1592.3L546.4 1604.4Z" fill="#231f20"/>
<text x="560.2" y="1529.7" font-size="21.31" style="font-weight:normal" stroke="#231f20" stroke-width="0.85">8678.9</text>
<path d="M590.3 1543.5V1569.9" stroke="#231f20" stroke-width="1.8" fill="none"/>
<path d="M583.5 1567.9L597.1 1567.9L590.3 1579.4Z" fill="#231f20"/>
<text x="621.1" y="1567.9" font-size="21.48" style="font-weight:normal" stroke="#231f20" stroke-width="0.85">9549.4</text>
<path d="M657.6 1575.7V1601.5" stroke="#231f20" stroke-width="1.8" fill="none"/>
<path d="M650.8 1599.5L664.4 1599.5L657.6 1611.0Z" fill="#231f20"/>
<text x="650.1" y="1533.4" font-size="21.43" style="font-weight:normal" stroke="#231f20" stroke-width="0.85">10227.7</text>
<path d="M710.2 1544.9V1564.2" stroke="#231f20" stroke-width="1.8" fill="none"/>
<path d="M703.4 1562.2L717.0 1562.2L710.2 1573.7Z" fill="#231f20"/>
<text x="699.8" y="1472.2" font-size="21.50" style="font-weight:normal" stroke="#231f20" stroke-width="0.85">10609.9</text>
<path d="M741.2 1483.7V1541.2" stroke="#231f20" stroke-width="1.8" fill="none"/>
<path d="M734.4 1539.2L748.0 1539.2L741.2 1550.7Z" fill="#231f20"/>
<text x="742.9" y="1587.4" font-size="21.06" style="font-weight:normal" stroke="#231f20" stroke-width="0.85">11002.2</text>
<text x="798.8" y="1507.1" font-size="20.94" style="font-weight:normal" stroke="#231f20" stroke-width="0.85">11927.7</text>
<path d="M837.4 1517.9V1538.8" stroke="#231f20" stroke-width="1.8" fill="none"/>
<path d="M830.6 1536.8L844.2 1536.8L837.4 1548.5Z" fill="#231f20"/>
<path d="M828.5 1545.8V1603.8" stroke="#231f20" stroke-width="1.8" fill="none"/>
<path d="M821.7 1601.8L835.3 1601.8L828.5 1612.6Z" fill="#231f20"/>
<text x="848.3" y="1546.9" font-size="21.70" style="font-weight:normal" stroke="#231f20" stroke-width="0.85">12257.9</text>
<path d="M863.1 1557.1V1576.7" stroke="#231f20" stroke-width="1.8" fill="none"/>
<path d="M856.3 1574.7L869.9 1574.7L863.1 1586.3Z" fill="#231f20"/>
<text x="897.6" y="1591.5" font-size="21.41" style="font-weight:normal" stroke="#231f20" stroke-width="0.85">13108.4</text>
<path d="M927.4 1593.6V1602.4" stroke="#231f20" stroke-width="1.8" fill="none"/>
<path d="M920.6 1600.4L934.2 1600.4L927.4 1611.8Z" fill="#231f20"/>
<text x="956.5" y="1457.9" font-size="21.32" style="font-weight:normal" stroke="#231f20" stroke-width="0.85">13981.9</text>
<polyline points="85.0,1634.6 85.5,1634.6 86.0,1634.6 86.5,1634.6 87.0,1634.6 87.5,1634.6 88.0,1634.6 88.5,1634.6 89.0,1634.6 89.5,1634.6 90.0,1634.6 90.5,1634.6 91.0,1634.6 91.5,1634.6 92.0,1634.6 92.5,1634.6 93.0,1634.6 93.5,1634.6 94.0,1634.6 94.5,1634.6 95.0,1634.5 95.5,1634.5 96.0,1634.5 96.5,1634.5 97.0,1634.5 97.5,1634.5 98.0,1634.5 98.5,1634.5 99.0,1634.5 99.5,1634.5 100.0,1634.5 100.5,1634.5 101.0,1634.5 101.5,1634.5 102.0,1634.5 102.5,1634.5 103.0,1634.5 103.5,1634.5 104.0,1634.5 104.5,1634.5 105.0,1634.5 105.5,1634.5 106.0,1634.5 106.5,1634.5 107.0,1634.5 107.5,1634.5 108.0,1634.5 108.5,1634.5 109.0,1634.5 109.5,1634.5 110.0,1633.6 110.5,1634.3 111.0,1633.7 111.5,1634.5 112.0,1633.7 112.5,1634.4 113.0,1633.8 113.5,1634.5 114.0,1633.3 114.5,1634.5 115.0,1633.9 115.5,1634.4 116.0,1633.8 116.5,1634.3 117.0,1633.7 117.5,1634.3 118.0,1633.7 118.5,1634.3 119.0,1633.8 119.5,1634.3 120.0,1633.8 120.5,1634.3 121.0,1633.7 121.5,1634.3 122.0,1633.8 122.5,1634.3 123.0,1633.6 123.5,1634.3 124.0,1633.6 124.5,1634.3 125.0,1633.6 125.5,1634.4 126.0,1633.7 126.5,1634.4 127.0,1633.6 127.5,1634.3 128.0,1633.6 128.5,1634.3 129.0,1633.7 129.3,1634.1 129.5,1634.2 129.5,1634.3 129.7,1634.1 129.8,1633.9 130.0,1633.7 130.2,1633.5 130.3,1632.9 130.5,1632.1 130.5,1632.0 130.7,1630.3 130.9,1632.0 131.0,1632.7 131.1,1632.9 131.2,1633.5 131.4,1633.9 131.5,1634.0 131.6,1634.1 131.8,1634.1 131.9,1633.9 132.0,1633.8 132.1,1633.9 132.5,1634.3 133.0,1633.8 133.5,1634.2 134.0,1633.7 134.5,1634.3 135.0,1633.6 135.5,1634.3 136.0,1633.2 136.5,1634.3 137.0,1633.5 137.5,1634.3 138.0,1633.3 138.5,1634.3 139.0,1633.6 139.5,1634.3 140.0,1633.6 140.5,1634.3 141.0,1633.7 141.5,1634.3 142.0,1633.5 142.5,1634.4 143.0,1633.6 143.5,1634.2 144.0,1633.6 144.5,1634.3 144.6,1634.1 144.8,1633.8 145.0,1633.5 145.0,1633.5 145.1,1633.7 145.3,1633.9 145.5,1633.7 145.5,1633.6 145.7,1633.2 145.8,1632.4 146.0,1631.2 146.0,1631.2 146.2,1632.4 146.3,1632.8 146.4,1633.1 146.4,1633.4 146.5,1633.5 146.5,1633.5 146.6,1633.6 146.7,1633.7 146.8,1633.7 146.9,1633.6 147.0,1633.5 147.0,1633.5 147.1,1633.4 147.2,1633.2 147.2,1632.9 147.3,1632.5 147.4,1631.9 147.5,1631.2 147.7,1629.2 147.8,1631.3 148.0,1632.4 148.0,1632.5 148.2,1633.3 148.4,1633.7 148.5,1633.9 148.6,1634.0 148.7,1633.9 148.9,1633.6 149.0,1633.4 149.1,1633.6 149.5,1634.3 150.0,1632.9 150.5,1634.2 151.0,1633.0 151.5,1634.2 152.0,1630.9 152.5,1634.0 153.0,1632.8 153.5,1634.0 154.0,1632.5 154.5,1634.2 155.0,1632.6 155.5,1634.1 155.9,1633.0 156.0,1632.7 156.1,1632.9 156.2,1633.4 156.4,1633.9 156.5,1633.9 156.6,1633.7 156.8,1632.6 156.9,1631.5 157.0,1631.1 157.1,1631.7 157.3,1629.9 157.5,1631.7 157.5,1632.0 157.6,1632.8 157.8,1633.1 158.0,1632.5 158.0,1632.5 158.2,1633.0 158.3,1633.7 158.5,1634.2 158.5,1634.2 158.7,1633.6 159.0,1632.5 159.5,1634.2 160.0,1632.3 160.5,1634.0 161.0,1632.3 161.5,1633.9 162.0,1632.4 162.5,1634.3 163.0,1632.3 163.5,1634.0 164.0,1632.4 164.5,1634.3 165.0,1630.9 165.2,1632.5 165.4,1633.6 165.5,1634.2 165.6,1633.8 165.8,1633.3 165.9,1632.7 166.0,1632.5 166.1,1632.8 166.3,1632.9 166.5,1631.9 166.5,1631.7 166.7,1630.3 166.8,1631.9 167.0,1632.7 167.2,1633.2 167.3,1633.7 167.5,1634.0 167.5,1634.0 167.7,1633.5 167.9,1633.0 168.0,1632.6 168.1,1632.7 168.5,1634.2 169.0,1632.8 169.5,1633.9 170.0,1632.7 170.5,1633.9 171.0,1632.3 171.5,1634.2 172.0,1631.5 172.5,1634.2 173.0,1632.7 173.5,1634.0 174.0,1632.4 174.5,1634.1 175.0,1632.5 175.5,1634.1 176.0,1631.6 176.5,1633.9 177.0,1632.8 177.5,1634.0 178.0,1632.4 178.5,1634.1 179.0,1632.6 179.5,1634.1 180.0,1632.3 180.5,1633.9 181.0,1631.1 181.5,1633.9 182.0,1632.6 182.5,1634.2 183.0,1632.6 183.5,1633.9 184.0,1632.3 184.5,1634.1 185.0,1632.7 185.5,1634.0 186.0,1632.5 186.5,1633.9 186.7,1633.2 186.9,1632.7 187.0,1632.4 187.1,1632.7 187.3,1633.3 187.4,1633.4 187.5,1633.2 187.6,1632.8 187.8,1631.8 188.0,1630.2 188.0,1629.6 188.1,1627.5 188.3,1630.2 188.5,1631.8 188.5,1631.9 188.7,1632.8 188.8,1632.8 189.0,1632.2 189.0,1632.2 189.2,1632.9 189.4,1633.6 189.5,1634.1 189.5,1634.0 190.0,1632.6 190.2,1633.1 190.4,1633.6 190.5,1633.6 190.6,1633.6 190.7,1633.0 190.9,1632.2 191.0,1631.7 191.1,1631.2 191.2,1629.0 191.4,1625.6 191.5,1623.3 191.6,1619.5 191.8,1625.6 191.9,1629.0 192.0,1629.7 192.1,1631.1 192.3,1632.4 192.5,1633.1 192.5,1633.2 192.7,1633.3 192.8,1632.3 193.0,1631.4 193.5,1634.0 194.0,1632.1 194.5,1633.9 195.0,1632.3 195.5,1634.1 196.0,1632.1 196.5,1634.1 197.0,1632.6 197.5,1633.9 198.0,1632.6 198.5,1633.9 198.8,1633.1 198.9,1632.5 199.0,1632.3 199.1,1632.7 199.3,1633.4 199.5,1633.4 199.5,1633.3 199.6,1632.9 199.8,1632.0 200.0,1630.4 200.0,1630.3 200.2,1628.0 200.3,1630.5 200.5,1631.9 200.5,1632.0 200.7,1632.9 200.9,1633.0 201.0,1632.6 201.0,1632.7 201.2,1633.2 201.4,1633.6 201.5,1633.9 201.6,1633.7 202.0,1632.5 202.5,1633.8 203.0,1632.6 203.5,1634.1 204.0,1632.7 204.5,1634.1 204.6,1633.8 204.7,1633.2 204.9,1632.6 205.0,1632.3 205.1,1632.6 205.3,1633.3 205.4,1633.4 205.5,1633.2 205.6,1632.8 205.8,1631.9 206.0,1630.3 206.0,1630.7 206.1,1631.9 206.3,1632.8 206.5,1633.3 206.5,1633.4 206.7,1632.9 206.8,1632.1 206.8,1632.0 207.0,1631.1 207.0,1631.1 207.0,1631.2 207.2,1632.0 207.2,1632.2 207.3,1633.1 207.4,1633.3 207.5,1633.7 207.5,1633.7 207.7,1633.0 207.9,1632.1 208.0,1631.4 208.0,1631.6 208.2,1630.6 208.4,1632.0 208.5,1632.6 208.6,1632.9 208.7,1633.3 208.9,1632.6 209.0,1632.3 209.1,1632.6 209.3,1633.1 209.4,1633.6 209.5,1633.8 209.6,1633.5 210.0,1632.2 210.5,1633.8 211.0,1632.4 211.5,1633.8 212.0,1630.7 212.5,1634.0 213.0,1632.4 213.5,1634.1 214.0,1632.7 214.5,1634.0 215.0,1630.3 215.5,1634.1 216.0,1632.4 216.5,1633.8 217.0,1631.2 217.5,1634.0 218.0,1632.2 218.5,1634.0 219.0,1630.9 219.5,1633.8 220.0,1631.4 220.5,1634.1 221.0,1632.0 221.5,1633.8 222.0,1631.9 222.5,1634.0 223.0,1631.9 223.5,1634.0 224.0,1632.0 224.5,1634.0 225.0,1632.5 225.5,1633.8 226.0,1632.4 226.5,1634.1 227.0,1632.5 227.5,1633.7 228.0,1632.2 228.5,1634.0 228.5,1633.9 228.7,1633.3 228.9,1632.7 229.0,1632.3 229.1,1632.5 229.2,1633.0 229.4,1633.1 229.5,1632.8 229.6,1632.4 229.8,1631.2 229.9,1629.3 230.0,1630.1 230.1,1631.2 230.3,1632.4 230.5,1633.1 230.5,1633.2 230.6,1633.4 230.8,1632.8 231.0,1632.3 231.0,1632.3 231.2,1632.8 231.3,1633.3 231.5,1633.9 232.0,1632.4 232.5,1634.0 233.0,1631.3 233.5,1633.8 234.0,1631.8 234.5,1633.9 235.0,1632.5 235.5,1633.7 235.9,1632.4 236.0,1632.1 236.1,1632.5 236.3,1633.2 236.4,1633.6 236.5,1633.5 236.6,1633.2 236.8,1632.6 237.0,1631.6 237.0,1631.4 237.1,1630.0 237.3,1627.2 237.5,1629.9 237.5,1630.0 237.7,1631.6 237.8,1632.6 238.0,1632.5 238.0,1632.5 238.2,1633.0 238.4,1633.5 238.5,1633.9 238.5,1633.8 238.7,1633.2 239.0,1632.3 239.5,1633.8 240.0,1632.1 240.5,1634.0 241.0,1632.0 241.5,1633.8 242.0,1632.3 242.2,1633.1 242.4,1633.7 242.5,1633.9 242.6,1633.7 242.8,1633.1 242.9,1632.6 243.0,1632.5 243.1,1632.9 243.3,1632.6 243.5,1631.6 243.5,1631.5 243.7,1630.1 243.8,1631.7 244.0,1632.1 244.2,1632.8 244.3,1633.4 244.5,1633.7 244.5,1633.8 244.7,1633.3 244.9,1632.7 245.0,1632.3 245.1,1632.5 245.2,1632.9 245.4,1633.5 245.5,1633.9 245.6,1633.7 245.7,1633.2 245.9,1632.8 246.0,1632.5 246.1,1632.7 246.2,1632.7 246.4,1631.8 246.5,1631.3 246.6,1630.3 246.8,1631.8 246.9,1631.1 247.0,1630.8 247.1,1631.6 247.3,1632.6 247.5,1633.6 247.5,1633.7 247.7,1633.2 247.8,1632.6 248.0,1632.0 248.5,1634.0 248.9,1631.9 249.0,1631.4 249.1,1631.7 249.2,1632.5 249.4,1633.3 249.5,1633.5 249.6,1633.3 249.8,1632.8 249.9,1631.9 250.0,1631.5 250.1,1630.5 250.3,1628.0 250.5,1630.4 250.5,1630.7 250.7,1631.9 250.8,1632.7 251.0,1632.0 251.2,1632.7 251.3,1633.4 251.5,1633.9 251.5,1633.9 251.7,1633.2 252.0,1632.0 252.5,1634.0 253.0,1632.1 253.5,1633.9 254.0,1631.4 254.5,1633.9 255.0,1632.2 255.5,1633.9 256.0,1632.6 256.5,1633.8 257.0,1632.6 257.5,1633.9 258.0,1632.3 258.5,1634.0 259.0,1632.5 259.5,1633.8 260.0,1631.5 260.5,1633.7 261.0,1632.4 261.5,1633.9 262.0,1632.0 262.5,1633.8 263.0,1632.2 263.5,1633.7 263.9,1632.3 264.0,1631.9 264.1,1632.2 264.2,1632.9 264.4,1632.8 264.5,1632.6 264.6,1632.1 264.8,1630.7 264.9,1628.6 265.0,1627.8 265.1,1625.1 265.3,1618.8 265.5,1625.1 265.5,1625.6 265.6,1628.6 265.8,1630.7 266.0,1631.9 266.2,1632.5 266.4,1633.1 266.5,1633.6 266.5,1633.6 266.7,1633.0 267.0,1632.1 267.5,1633.8 267.6,1633.1 267.8,1632.1 268.0,1631.2 268.0,1631.0 268.1,1631.8 268.3,1632.8 268.5,1632.3 268.7,1631.2 268.9,1629.3 269.0,1626.6 269.0,1626.2 269.2,1629.3 269.4,1631.2 269.5,1632.1 269.6,1632.3 269.7,1632.7 269.9,1631.7 270.0,1631.2 270.1,1631.5 270.2,1632.5 270.4,1633.4 270.5,1633.8 271.0,1630.6 271.5,1633.7 272.0,1631.8 272.5,1633.9 273.0,1631.7 273.5,1633.8 274.0,1632.3 274.5,1633.8 275.0,1632.0 275.5,1633.6 276.0,1632.3 276.5,1633.9 277.0,1632.3 277.5,1633.6 278.0,1632.5 278.5,1633.8 279.0,1632.3 279.5,1633.9 280.0,1632.4 280.5,1633.6 281.0,1632.6 281.5,1633.6 282.0,1632.7 282.5,1633.9 283.0,1632.4 283.5,1633.7 284.0,1632.4 284.5,1633.7 285.0,1632.4 285.5,1633.8 286.0,1630.9 286.5,1633.7 287.0,1632.4 287.2,1633.0 287.4,1633.4 287.5,1633.6 287.6,1633.4 287.8,1633.0 287.9,1632.5 288.0,1632.3 288.1,1632.6 288.3,1632.4 288.4,1631.3 288.5,1630.9 288.6,1629.6 288.8,1631.3 289.0,1631.5 289.0,1631.3 289.1,1632.1 289.3,1633.0 289.5,1633.6 289.7,1633.4 289.9,1632.8 290.0,1632.4 290.0,1632.5 290.5,1633.9 291.0,1630.6 291.5,1633.6 292.0,1630.9 292.5,1633.8 293.0,1630.1 293.5,1633.5 294.0,1631.9 294.5,1633.8 295.0,1631.7 295.5,1633.5 296.0,1631.7 296.5,1633.6 297.0,1630.6 297.5,1633.6 298.0,1632.1 298.5,1633.8 299.0,1630.6 299.5,1633.5 300.0,1632.2 300.5,1633.7 301.0,1631.5 301.5,1633.8 301.8,1632.7 302.0,1632.1 302.0,1632.0 302.1,1632.4 302.3,1632.6 302.5,1631.7 302.7,1630.1 302.9,1627.6 303.0,1624.1 303.0,1623.5 303.2,1616.1 303.4,1623.5 303.5,1626.6 303.6,1627.6 303.7,1630.1 303.9,1631.6 304.0,1632.2 304.1,1632.4 304.2,1633.0 304.4,1633.4 304.5,1633.5 304.6,1633.4 305.0,1631.9 305.5,1633.6 306.0,1629.8 306.5,1633.6 307.0,1632.0 307.5,1633.8 308.0,1631.8 308.5,1633.7 309.0,1631.8 309.5,1633.8 310.0,1630.1 310.5,1633.8 311.0,1631.9 311.5,1633.6 311.9,1632.2 312.0,1631.9 312.1,1632.2 312.2,1632.9 312.4,1633.0 312.5,1632.8 312.6,1632.4 312.8,1631.4 312.9,1629.7 313.0,1629.1 313.1,1627.0 313.3,1622.2 313.5,1627.0 313.5,1627.4 313.6,1629.7 313.8,1631.4 314.0,1632.2 314.2,1632.8 314.4,1633.3 314.5,1633.5 314.5,1633.5 314.7,1633.2 315.0,1632.3 315.5,1633.8 316.0,1632.5 316.5,1633.8 317.0,1632.4 317.5,1633.6 318.0,1632.2 318.5,1633.6 319.0,1630.3 319.3,1632.3 319.5,1633.5 319.5,1633.5 319.6,1632.9 319.8,1631.9 320.0,1630.9 320.2,1631.5 320.4,1629.9 320.5,1627.8 320.5,1627.4 320.7,1622.9 320.9,1627.4 321.0,1629.3 321.1,1629.9 321.2,1631.5 321.4,1632.4 321.5,1632.8 321.6,1633.0 321.8,1633.1 321.9,1632.6 322.0,1632.4 322.1,1632.6 322.5,1633.6 323.0,1632.3 323.5,1633.6 323.9,1632.3 324.0,1631.9 324.5,1633.7 324.9,1631.1 325.0,1630.4 325.5,1633.6 325.9,1631.0 326.0,1630.4 326.5,1633.5 326.9,1632.4 327.0,1632.1 327.5,1633.2 327.9,1632.6 328.0,1632.3 328.5,1632.6 328.9,1632.1 329.0,1632.0 329.5,1630.7 329.7,1629.8 329.9,1628.6 330.0,1628.0 330.0,1627.8 330.2,1625.2 330.5,1621.2 330.5,1620.8 330.8,1613.4 330.9,1609.8 331.0,1605.4 331.1,1601.9 331.4,1582.4 331.5,1567.2 331.6,1551.7 331.9,1499.5 332.0,1516.5 332.3,1551.1 332.5,1573.6 332.6,1581.7 333.0,1601.0 333.0,1602.2 333.3,1612.7 333.5,1616.5 333.6,1618.4 333.7,1619.8 333.9,1622.6 334.0,1623.7 334.0,1624.0 334.2,1625.4 334.4,1626.6 334.5,1627.1 334.8,1627.9 334.8,1627.9 335.0,1628.1 335.1,1628.1 335.4,1627.5 335.5,1627.1 335.7,1625.9 335.9,1624.0 336.0,1622.8 336.3,1626.5 336.5,1628.2 336.6,1628.8 336.9,1630.3 337.0,1630.6 337.2,1631.2 337.5,1631.8 337.8,1632.2 337.9,1632.3 338.0,1632.0 338.1,1632.3 338.4,1632.6 338.5,1632.7 339.0,1631.7 339.5,1633.0 339.9,1632.4 340.0,1632.2 340.5,1633.2 341.0,1632.0 341.5,1633.3 341.9,1632.4 342.0,1632.1 342.5,1633.4 343.0,1632.2 343.5,1633.5 343.9,1632.3 344.0,1632.0 344.5,1633.4 345.0,1632.0 345.5,1633.5 345.9,1632.1 346.0,1631.8 346.5,1633.5 347.0,1631.9 347.4,1633.3 347.5,1633.5 347.6,1633.2 347.8,1631.8 347.9,1630.7 347.9,1630.5 348.0,1630.0 348.1,1630.7 348.3,1631.7 348.4,1630.4 348.5,1629.9 348.6,1628.3 348.8,1624.5 349.0,1628.3 349.0,1628.6 349.1,1630.4 349.3,1631.7 349.5,1632.5 349.7,1632.9 349.9,1632.3 350.0,1631.7 350.0,1631.8 350.2,1632.4 350.5,1633.5 351.0,1632.1 351.5,1633.4 352.0,1632.3 352.5,1633.6 353.0,1632.0 353.5,1633.4 354.0,1632.3 354.5,1633.4 355.0,1631.0 355.5,1633.7 356.0,1632.2 356.5,1633.4 357.0,1632.0 357.5,1633.5 357.6,1633.3 357.7,1632.5 357.9,1631.8 358.0,1631.4 358.1,1631.7 358.2,1632.4 358.4,1632.9 358.5,1632.7 358.6,1632.3 358.8,1631.3 358.8,1630.8 358.9,1629.7 359.0,1630.2 359.0,1630.3 359.1,1631.3 359.2,1631.6 359.3,1632.1 359.4,1632.3 359.5,1632.5 359.5,1632.5 359.5,1632.5 359.6,1632.5 359.7,1632.5 359.8,1632.3 359.9,1632.1 360.0,1631.6 360.1,1631.3 360.2,1630.4 360.2,1629.8 360.4,1630.9 360.4,1631.3 360.5,1631.9 360.6,1632.3 360.8,1632.8 360.9,1632.2 361.0,1632.1 361.1,1632.4 361.3,1632.9 361.5,1633.5 361.5,1633.6 361.6,1633.1 362.0,1631.7 362.5,1633.4 363.0,1630.6 363.5,1633.5 364.0,1631.7 364.5,1633.4 365.0,1631.8 365.5,1633.4 366.0,1632.1 366.5,1633.6 367.0,1632.4 367.5,1633.0 367.6,1632.8 367.8,1631.8 368.0,1630.7 368.0,1630.6 368.2,1629.6 368.4,1627.0 368.5,1623.7 368.5,1622.5 368.7,1615.2 368.9,1603.8 369.0,1595.6 369.1,1584.0 369.3,1603.8 369.5,1615.7 369.5,1616.6 369.7,1622.5 369.9,1627.0 370.0,1629.2 370.0,1629.6 370.2,1631.2 370.4,1632.2 370.5,1632.5 370.6,1632.8 371.0,1631.7 371.5,1633.6 372.0,1631.7 372.5,1633.6 373.0,1630.0 373.5,1633.4 374.0,1631.7 374.5,1633.5 375.0,1631.9 375.5,1633.3 376.0,1632.2 376.5,1633.7 377.0,1632.2 377.5,1633.3 378.0,1632.1 378.5,1633.3 379.0,1632.2 379.5,1633.4 380.0,1631.9 380.5,1633.4 381.0,1632.0 381.5,1633.6 382.0,1631.7 382.5,1633.4 382.9,1632.3 383.0,1632.0 383.1,1632.2 383.2,1632.7 383.4,1632.6 383.5,1632.3 383.6,1631.9 383.8,1630.6 383.9,1628.6 384.0,1627.8 384.1,1625.3 384.3,1619.5 384.5,1625.3 384.5,1625.8 384.6,1628.6 384.8,1630.6 385.0,1631.9 385.2,1632.6 385.4,1633.0 385.5,1633.2 385.5,1633.3 385.7,1632.9 386.0,1631.9 386.5,1633.6 387.0,1632.1 387.5,1633.5 388.0,1632.0 388.5,1633.5 389.0,1632.1 389.5,1633.3 390.0,1632.3 390.5,1633.6 391.0,1632.2 391.5,1633.3 392.0,1631.9 392.5,1633.5 393.0,1630.9 393.5,1633.5 394.0,1632.1 394.5,1633.3 395.0,1631.9 395.5,1633.4 396.0,1630.5 396.5,1633.4 397.0,1631.7 397.5,1633.4 398.0,1631.8 398.5,1633.4 399.0,1632.0 399.5,1633.2 400.0,1631.8 400.5,1633.3 401.0,1631.7 401.5,1633.4 402.0,1631.9 402.5,1633.6 403.0,1631.9 403.5,1633.3 404.0,1631.8 404.5,1633.4 405.0,1631.9 405.5,1633.5 406.0,1631.8 406.5,1633.5 407.0,1631.7 407.5,1633.5 408.0,1631.8 408.5,1633.6 409.0,1631.8 409.5,1633.3 410.0,1631.6 410.5,1633.6 411.0,1631.7 411.5,1633.3 412.0,1631.8 412.5,1633.3 413.0,1631.8 413.5,1633.3 414.0,1632.1 414.5,1633.5 415.0,1629.8 415.5,1633.5 416.0,1632.2 416.5,1633.5 417.0,1632.3 417.5,1633.5 418.0,1632.0 418.5,1633.5 419.0,1632.1 419.5,1633.3 419.6,1632.9 419.8,1632.5 420.0,1632.0 420.0,1632.0 420.2,1632.5 420.3,1632.9 420.5,1632.6 420.5,1632.5 420.5,1632.4 420.6,1631.9 420.7,1631.6 420.8,1630.7 420.9,1630.2 421.0,1628.8 421.0,1628.6 421.0,1628.0 421.2,1629.3 421.2,1629.7 421.3,1630.2 421.4,1630.3 421.5,1630.2 421.5,1630.2 421.6,1630.0 421.7,1629.3 421.7,1628.8 421.9,1627.2 421.9,1628.1 422.0,1629.3 422.0,1629.7 422.1,1630.3 422.2,1631.4 422.3,1631.7 422.4,1632.3 422.4,1632.4 422.5,1632.6 422.6,1632.8 422.7,1632.7 422.9,1632.1 423.0,1631.9 423.0,1631.9 423.1,1632.2 423.2,1632.4 423.3,1632.8 423.3,1633.0 423.5,1633.1 423.5,1633.1 423.7,1632.8 423.9,1632.2 424.0,1631.5 424.0,1631.2 424.2,1629.6 424.4,1626.8 424.5,1628.7 424.6,1629.5 424.7,1631.2 424.9,1631.9 425.0,1631.6 425.1,1631.9 425.3,1632.6 425.4,1633.3 425.5,1633.4 425.6,1633.1 425.8,1632.6 426.0,1631.9 426.5,1633.6 426.8,1632.4 427.0,1631.7 427.2,1632.3 427.4,1632.9 427.5,1633.2 427.5,1633.1 427.7,1632.8 427.9,1632.2 428.0,1631.4 428.1,1631.1 428.2,1629.4 428.4,1631.1 428.5,1631.8 428.6,1632.1 428.8,1632.8 428.9,1632.3 429.0,1632.0 429.1,1632.4 429.3,1632.9 429.4,1633.5 429.5,1633.6 429.6,1633.2 430.0,1631.9 430.5,1633.6 431.0,1632.0 431.5,1633.5 432.0,1631.9 432.5,1633.6 433.0,1631.7 433.5,1633.7 434.0,1631.6 434.5,1633.4 435.0,1632.0 435.5,1633.5 436.0,1630.4 436.5,1633.4 437.0,1631.5 437.2,1632.2 437.4,1633.0 437.5,1633.2 437.5,1633.2 437.7,1632.8 437.9,1632.1 438.0,1631.4 438.1,1631.1 438.2,1629.4 438.4,1626.3 438.5,1628.2 438.6,1629.2 438.8,1631.1 438.9,1632.0 439.0,1631.7 439.1,1632.1 439.3,1632.8 439.4,1633.4 439.5,1633.4 439.6,1633.2 439.8,1632.4 440.0,1631.6 440.5,1633.4 441.0,1631.7 441.5,1633.4 442.0,1631.6 442.5,1633.5 443.0,1631.8 443.5,1633.6 444.0,1631.7 444.5,1633.6 444.9,1631.4 445.0,1630.7 445.1,1631.1 445.2,1632.2 445.4,1633.2 445.5,1633.2 445.6,1633.1 445.8,1632.1 445.9,1631.1 446.0,1630.7 446.1,1630.6 446.3,1628.5 446.5,1630.6 446.5,1630.9 446.6,1631.9 446.8,1632.6 447.0,1632.0 447.0,1632.0 447.2,1632.6 447.3,1633.2 447.5,1633.6 447.5,1633.6 447.7,1633.0 448.0,1631.8 448.5,1633.5 449.0,1631.8 449.5,1633.6 450.0,1632.0 450.5,1633.7 450.7,1633.0 450.9,1632.3 451.0,1631.9 451.1,1632.1 451.2,1632.8 451.4,1632.9 451.5,1632.6 451.6,1632.3 451.8,1631.3 451.9,1629.6 452.0,1628.6 452.1,1626.8 452.3,1629.7 452.4,1631.3 452.5,1631.6 452.6,1632.3 452.8,1632.6 453.0,1632.1 453.0,1632.1 453.1,1632.5 453.3,1633.1 453.5,1633.6 454.0,1632.1 454.4,1633.3 454.5,1633.6 454.5,1633.6 454.7,1633.0 454.9,1632.3 455.0,1631.9 455.1,1632.1 455.2,1632.7 455.4,1632.2 455.5,1631.7 455.6,1631.0 455.8,1629.2 455.9,1631.1 456.0,1631.5 456.1,1632.1 456.3,1632.8 456.5,1633.2 456.5,1633.3 456.6,1633.1 456.8,1632.5 457.0,1631.9 457.0,1631.9 457.2,1632.5 457.5,1633.7 458.0,1632.0 458.5,1633.6 459.0,1631.8 459.5,1633.4 460.0,1632.0 460.5,1633.4 460.9,1632.4 461.0,1632.0 461.2,1632.4 461.4,1631.4 461.5,1631.1 461.7,1629.9 461.9,1627.5 462.0,1626.9 462.2,1623.4 462.5,1616.5 462.5,1615.8 462.7,1605.4 463.0,1587.2 463.4,1605.4 463.5,1609.1 463.8,1616.7 464.0,1620.7 464.2,1623.4 464.5,1626.9 464.6,1627.4 465.0,1630.0 465.0,1630.1 465.4,1631.5 465.5,1631.8 465.8,1632.4 466.0,1632.2 466.1,1632.6 466.5,1633.3 467.0,1632.0 467.5,1633.4 468.0,1632.0 468.5,1633.6 469.0,1631.9 469.5,1633.5 470.0,1632.2 470.5,1633.6 471.0,1631.1 471.5,1633.8 472.0,1631.9 472.5,1633.6 473.0,1632.1 473.5,1633.5 473.7,1632.9 473.9,1632.4 474.0,1632.0 474.1,1632.2 474.2,1632.2 474.4,1631.1 474.5,1630.1 474.6,1629.1 474.8,1626.1 474.9,1620.6 475.0,1617.5 475.1,1611.9 475.3,1621.0 475.4,1626.1 475.5,1627.1 475.6,1629.1 475.8,1631.1 476.0,1632.1 476.0,1632.0 476.1,1632.6 476.3,1633.2 476.5,1633.5 477.0,1631.3 477.5,1633.5 478.0,1632.0 478.5,1633.7 479.0,1632.4 479.5,1633.6 480.0,1632.0 480.5,1633.7 481.0,1630.6 481.5,1633.8 482.0,1631.7 482.3,1632.8 482.5,1633.5 482.5,1633.6 482.6,1633.2 482.8,1632.8 483.0,1632.5 483.2,1632.9 483.4,1632.7 483.5,1632.0 483.5,1631.8 483.7,1630.5 483.9,1631.9 484.0,1631.4 484.1,1631.6 484.2,1632.4 484.4,1633.1 484.5,1633.5 484.6,1633.4 484.8,1632.9 484.9,1632.4 485.0,1632.3 485.1,1632.6 485.5,1633.8 486.0,1632.5 486.5,1633.6 487.0,1632.1 487.5,1633.8 488.0,1632.0 488.5,1633.7 489.0,1631.8 489.5,1633.5 490.0,1631.2 490.5,1633.6 491.0,1630.8 491.5,1633.6 492.0,1632.2 492.5,1633.7 493.0,1632.4 493.5,1633.7 494.0,1632.3 494.5,1633.8 495.0,1632.1 495.5,1633.6 496.0,1632.0 496.5,1633.7 497.0,1631.9 497.5,1633.6 498.0,1632.0 498.5,1633.9 499.0,1631.8 499.5,1633.6 500.0,1633.1 500.5,1633.7 501.0,1633.0 501.5,1633.8 502.0,1632.9 502.5,1633.8 503.0,1632.9 503.5,1633.7 504.0,1632.6 504.5,1633.8 505.0,1633.0 505.5,1633.7 506.0,1633.2 506.5,1633.8 507.0,1633.0 507.5,1633.9 508.0,1632.9 508.5,1633.8 509.0,1632.9 509.5,1633.9 510.0,1632.9 510.5,1633.9 511.0,1632.9 511.5,1633.9 512.0,1633.0 512.5,1633.8 513.0,1633.1 513.5,1633.8 514.0,1633.0 514.5,1633.9 515.0,1632.9 515.5,1633.9 516.0,1633.0 516.5,1633.8 517.0,1633.0 517.5,1633.8 518.0,1633.2 518.5,1633.9 519.0,1633.1 519.5,1633.8 520.0,1633.1 520.5,1633.9 521.0,1633.2 521.5,1633.9 522.0,1633.3 522.5,1633.8 523.0,1633.3 523.5,1633.9 524.0,1632.9 524.5,1633.8 525.0,1633.0 525.5,1633.9 526.0,1633.2 526.5,1633.9 527.0,1633.0 527.5,1633.8 528.0,1632.9 528.5,1634.0 529.0,1633.1 529.5,1634.0 530.0,1633.3 530.5,1633.8 531.0,1633.2 531.5,1633.8 532.0,1633.3 532.5,1633.9 533.0,1633.3 533.5,1633.9 534.0,1633.2 534.5,1633.8 535.0,1633.1 535.5,1633.9 536.0,1633.2 536.5,1633.8 537.0,1632.8 537.5,1633.9 538.0,1633.1 538.5,1633.8 539.0,1633.3 539.5,1633.9 540.0,1633.2 540.5,1634.0 541.0,1633.3 541.5,1633.8 542.0,1633.2 542.5,1633.9 543.0,1632.6 543.5,1634.0 544.0,1633.2 544.4,1633.7 544.5,1633.6 544.6,1633.5 544.8,1633.0 544.9,1632.4 545.0,1632.0 545.1,1631.3 545.3,1629.4 545.5,1626.2 545.5,1624.9 545.6,1621.1 545.8,1611.9 546.0,1620.7 546.0,1621.8 546.1,1626.2 546.3,1629.3 546.5,1631.3 546.7,1632.4 546.9,1633.1 547.0,1633.0 547.0,1633.1 547.2,1633.4 547.5,1633.9 548.0,1633.0 548.5,1634.0 549.0,1632.2 549.5,1633.9 550.0,1633.1 550.5,1634.0 551.0,1633.0 551.5,1633.9 552.0,1633.2 552.5,1634.0 553.0,1633.1 553.5,1634.0 554.0,1633.1 554.5,1634.0 555.0,1633.2 555.5,1633.9 556.0,1633.3 556.4,1633.8 556.5,1634.0 556.6,1633.9 556.8,1633.6 556.9,1633.4 557.0,1633.3 557.1,1633.4 557.3,1633.0 557.5,1632.3 557.5,1632.0 557.6,1631.2 557.8,1629.1 558.0,1631.1 558.0,1631.3 558.1,1632.3 558.3,1633.0 558.5,1633.5 558.7,1633.7 558.9,1633.5 559.0,1633.3 559.0,1633.3 559.2,1633.6 559.5,1634.0 560.0,1633.3 560.5,1634.0 561.0,1633.1 561.5,1633.9 562.0,1633.3 562.5,1633.9 563.0,1633.4 563.5,1634.0 564.0,1632.3 564.5,1634.0 565.0,1632.4 565.5,1634.0 566.0,1633.4 566.5,1633.9 567.0,1633.4 567.5,1634.1 568.0,1633.4 568.5,1634.0 569.0,1633.1 569.5,1634.0 570.0,1633.3 570.5,1634.1 571.0,1633.3 571.5,1634.0 572.0,1633.2 572.5,1634.1 573.0,1633.2 573.5,1634.0 574.0,1633.4 574.5,1634.1 575.0,1633.2 575.5,1634.0 576.0,1633.4 576.5,1634.0 577.0,1633.2 577.5,1634.1 578.0,1633.1 578.5,1634.1 579.0,1633.2 579.5,1634.1 580.0,1633.3 580.5,1634.0 581.0,1633.4 581.5,1634.0 582.0,1633.2 582.5,1634.0 583.0,1633.3 583.5,1634.1 584.0,1633.2 584.5,1634.1 585.0,1633.2 585.5,1634.0 586.0,1633.4 586.5,1634.1 587.0,1633.0 587.5,1633.9 588.0,1632.7 588.2,1633.3 588.5,1632.7 588.5,1632.6 588.7,1631.8 589.0,1630.2 589.0,1630.1 589.2,1627.6 589.5,1623.7 589.5,1623.5 589.8,1616.6 590.0,1606.9 590.0,1604.8 590.3,1586.0 590.5,1597.4 590.7,1605.0 591.0,1615.5 591.0,1616.2 591.1,1617.8 591.4,1623.2 591.5,1624.5 591.7,1626.7 591.8,1627.3 592.0,1628.9 592.1,1629.6 592.3,1630.2 592.5,1630.6 592.6,1630.7 592.9,1630.6 592.9,1630.5 593.0,1630.3 593.2,1629.5 593.2,1629.3 593.5,1627.4 593.8,1630.0 594.0,1631.2 594.1,1631.6 594.4,1632.6 594.5,1632.9 594.7,1633.2 595.0,1633.3 595.3,1633.8 595.5,1633.9 595.6,1634.0 595.9,1633.4 596.0,1633.2 596.5,1634.1 597.0,1633.3 597.5,1634.1 598.0,1633.3 598.5,1634.0 599.0,1633.4 599.5,1634.1 600.0,1633.4 600.5,1634.0 601.0,1633.2 601.5,1634.0 602.0,1633.4 602.5,1634.0 603.0,1633.2 603.5,1634.1 604.0,1633.3 604.5,1634.1 605.0,1633.4 605.5,1634.1 606.0,1632.6 606.5,1634.1 607.0,1633.3 607.5,1634.1 608.0,1633.2 608.5,1634.2 609.0,1633.2 609.5,1634.1 610.0,1633.4 610.5,1634.0 611.0,1633.3 611.5,1634.1 612.0,1633.4 612.5,1634.2 613.0,1633.4 613.5,1634.2 614.0,1633.4 614.5,1634.1 615.0,1633.4 615.5,1634.1 616.0,1633.1 616.5,1634.2 617.0,1633.5 617.5,1634.2 618.0,1633.6 618.5,1634.1 619.0,1633.4 619.5,1634.1 620.0,1633.5 620.5,1634.2 621.0,1633.4 621.5,1634.2 622.0,1633.5 622.5,1634.2 623.0,1633.4 623.5,1634.1 624.0,1633.6 624.5,1634.1 625.0,1633.6 625.5,1634.2 626.0,1633.5 626.5,1634.2 627.0,1633.4 627.5,1634.2 628.0,1633.3 628.5,1634.3 629.0,1633.4 629.5,1634.1 630.0,1633.5 630.5,1634.1 631.0,1633.4 631.5,1634.2 632.0,1633.4 632.5,1634.2 633.0,1633.3 633.5,1634.2 634.0,1633.3 634.5,1634.1 635.0,1633.4 635.5,1634.1 636.0,1632.4 636.5,1634.3 637.0,1633.3 637.5,1634.2 638.0,1633.2 638.5,1634.2 639.0,1633.2 639.5,1634.2 640.0,1633.4 640.5,1634.2 641.0,1633.3 641.5,1634.2 642.0,1633.4 642.5,1634.2 643.0,1633.3 643.3,1633.8 643.5,1634.1 643.5,1634.1 643.6,1633.9 643.8,1633.7 644.0,1633.3 644.2,1632.6 644.4,1631.5 644.5,1629.9 644.5,1629.5 644.7,1626.3 644.9,1629.6 645.0,1631.0 645.0,1631.5 645.2,1632.6 645.4,1633.3 645.5,1633.6 645.6,1633.7 645.8,1633.9 645.9,1633.7 646.0,1633.6 646.1,1633.7 646.5,1634.2 647.0,1633.4 647.5,1634.1 648.0,1633.5 648.5,1634.1 649.0,1632.9 649.5,1634.2 650.0,1633.4 650.5,1634.2 651.0,1633.3 651.5,1634.2 652.0,1633.3 652.5,1634.2 653.0,1633.4 653.5,1634.1 654.0,1633.4 654.5,1634.3 655.0,1633.4 655.5,1634.1 655.6,1634.0 655.8,1633.8 656.0,1633.4 656.0,1633.3 656.1,1632.8 656.3,1631.8 656.5,1630.0 656.5,1629.7 656.6,1627.1 656.8,1622.0 657.0,1613.9 657.2,1622.0 657.4,1627.1 657.5,1629.7 657.5,1630.0 657.7,1631.8 657.9,1632.8 658.0,1633.3 658.0,1633.4 658.2,1633.7 658.4,1634.0 658.5,1634.1 659.0,1633.3 659.5,1634.3 660.0,1633.2 660.5,1634.2 661.0,1633.5 661.5,1634.2 662.0,1633.4 662.5,1634.2 663.0,1633.5 663.5,1634.3 664.0,1633.5 664.5,1634.3 665.0,1633.6 665.5,1634.2 666.0,1633.6 666.5,1634.2 667.0,1633.7 667.5,1634.2 668.0,1633.6 668.5,1634.3 669.0,1633.6 669.3,1634.0 669.5,1634.2 669.6,1634.1 669.9,1633.7 670.0,1633.5 670.2,1633.8 670.5,1633.6 670.8,1633.2 671.0,1632.7 671.1,1632.4 671.4,1631.1 671.5,1631.6 671.7,1632.4 672.0,1633.2 672.3,1633.6 672.5,1633.8 672.6,1633.9 672.9,1633.3 673.0,1633.1 673.2,1633.6 673.5,1634.2 673.8,1633.6 674.0,1633.2 674.5,1634.3 675.0,1633.5 675.5,1634.2 676.0,1632.8 676.5,1634.3 677.0,1633.5 677.5,1634.3 678.0,1632.6 678.5,1634.3 679.0,1633.6 679.5,1634.3 680.0,1633.7 680.5,1634.3 681.0,1633.5 681.5,1634.3 682.0,1632.6 682.5,1634.2 683.0,1633.6 683.5,1634.2 684.0,1633.6 684.5,1634.2 685.0,1633.6 685.5,1634.3 686.0,1633.6 686.5,1634.4 687.0,1633.6 687.5,1634.3 688.0,1633.5 688.5,1634.4 689.0,1633.6 689.5,1634.2 690.0,1633.6 690.5,1634.4 691.0,1633.6 691.5,1634.3 692.0,1632.8 692.5,1634.3 693.0,1633.7 693.5,1634.4 694.0,1632.9 694.5,1634.3 695.0,1633.7 695.5,1634.4 696.0,1633.7 696.5,1634.4 697.0,1633.7 697.5,1634.3 698.0,1633.7 698.5,1634.3 699.0,1633.7 699.5,1634.4 700.0,1633.7 700.5,1634.4 701.0,1633.9 701.5,1634.4 702.0,1633.8 702.5,1634.4 703.0,1633.8 703.5,1634.4 704.0,1633.3 704.5,1634.4 705.0,1633.8 705.5,1634.4 706.0,1633.8 706.5,1634.3 707.0,1633.6 707.3,1633.5 707.5,1632.8 707.5,1632.8 707.7,1631.8 707.9,1630.1 708.0,1628.2 708.0,1627.3 708.2,1622.5 708.4,1615.2 708.5,1610.6 708.6,1602.5 708.8,1581.4 709.0,1602.5 709.0,1603.3 709.2,1614.7 709.4,1622.5 709.5,1626.2 709.5,1627.3 709.7,1630.1 709.9,1631.8 710.0,1632.3 710.1,1632.8 710.3,1633.5 710.5,1633.9 711.0,1634.0 711.5,1634.4 712.0,1633.9 712.5,1634.3 713.0,1633.8 713.5,1634.4 714.0,1633.3 714.5,1634.4 715.0,1633.9 715.5,1634.4 716.0,1633.8 716.5,1634.3 717.0,1633.9 717.5,1634.4 718.0,1634.0 718.5,1634.4 719.0,1633.6 719.5,1634.4 720.0,1633.9 720.5,1634.4 721.0,1634.0 721.5,1634.4 722.0,1634.0 722.5,1634.4 723.0,1633.9 723.5,1634.4 724.0,1633.8 724.5,1634.5 725.0,1633.8 725.5,1634.4 726.0,1633.9 726.5,1634.4 727.0,1634.0 727.5,1634.4 727.7,1634.3 727.9,1634.1 728.0,1633.9 728.0,1633.9 728.2,1633.6 728.4,1633.0 728.5,1632.3 728.5,1632.0 728.7,1630.2 728.9,1627.4 729.0,1629.2 729.1,1630.2 729.2,1632.0 729.4,1633.0 729.5,1633.3 729.6,1633.6 729.8,1634.0 730.0,1633.9 730.0,1633.8 730.1,1634.0 730.3,1634.2 730.5,1634.4 731.0,1633.9 731.5,1634.4 732.0,1633.8 732.5,1634.4 733.0,1633.8 733.5,1634.4 734.0,1633.9 734.5,1634.3 735.0,1633.9 735.4,1633.2 735.5,1632.9 735.7,1632.3 735.9,1630.9 736.0,1630.4 736.2,1628.5 736.5,1624.7 736.5,1623.7 736.7,1618.5 737.0,1607.7 737.0,1606.6 737.2,1590.4 737.5,1562.2 737.9,1590.8 738.0,1597.9 738.2,1608.1 738.5,1616.0 738.6,1618.3 739.0,1624.7 739.0,1625.1 739.3,1628.6 739.5,1629.8 739.7,1630.9 740.0,1632.1 740.1,1632.3 740.4,1633.2 740.5,1633.3 741.0,1633.9 741.5,1634.2 742.0,1634.0 742.5,1634.4 743.0,1633.9 743.5,1634.5 744.0,1633.3 744.5,1634.5 745.0,1633.8 745.5,1634.4 746.0,1633.9 746.5,1634.4 747.0,1633.9 747.5,1634.4 748.0,1634.0 748.5,1634.5 749.0,1633.7 749.5,1634.5 750.0,1633.9 750.5,1634.5 751.0,1634.0 751.5,1634.5 752.0,1633.8 752.5,1634.4 753.0,1633.4 753.5,1634.4 754.0,1633.5 754.5,1634.5 755.0,1634.0 755.5,1634.6 756.0,1633.9 756.5,1634.5 757.0,1633.8 757.5,1634.5 758.0,1633.7 758.5,1634.5 759.0,1633.9 759.5,1634.5 760.0,1633.9 760.5,1634.4 761.0,1634.0 761.5,1634.5 762.0,1633.9 762.5,1634.5 763.0,1633.9 763.5,1634.5 764.0,1633.9 764.5,1634.2 764.9,1633.7 765.0,1633.5 765.2,1633.4 765.4,1632.6 765.5,1632.3 765.7,1631.4 766.0,1629.3 766.0,1628.8 766.2,1625.9 766.5,1620.1 766.5,1619.5 766.7,1610.8 767.0,1595.5 767.4,1610.9 767.5,1614.8 767.7,1620.3 768.0,1624.5 768.1,1625.8 768.5,1629.2 768.5,1629.4 768.6,1630.1 768.8,1631.3 768.9,1631.5 769.0,1631.8 769.2,1632.4 769.2,1632.4 769.5,1632.9 769.6,1633.0 769.8,1633.1 769.9,1633.1 770.0,1633.1 770.1,1633.0 770.4,1632.5 770.5,1632.3 770.7,1631.6 771.0,1629.8 771.3,1631.7 771.5,1632.5 771.6,1632.8 771.9,1633.5 772.0,1633.4 772.2,1633.8 772.5,1634.2 772.8,1634.1 773.0,1633.9 773.1,1634.1 773.4,1634.4 773.5,1634.5 774.0,1633.9 774.5,1634.5 775.0,1634.0 775.5,1634.5 776.0,1633.9 776.5,1634.6 777.0,1634.0 777.5,1634.5 778.0,1634.0 778.5,1634.6 779.0,1634.1 779.5,1634.5 780.0,1633.9 780.5,1634.5 781.0,1633.9 781.5,1634.5 782.0,1634.0 782.5,1634.5 783.0,1634.1 783.5,1634.5 784.0,1634.0 784.5,1634.6 785.0,1634.1 785.5,1634.6 786.0,1634.1 786.5,1634.6 787.0,1634.2 787.5,1634.6 788.0,1634.1 788.5,1634.6 789.0,1634.0 789.5,1634.6 790.0,1634.1 790.5,1634.6 791.0,1634.2 791.5,1634.6 792.0,1634.2 792.5,1634.6 793.0,1634.1 793.5,1634.6 794.0,1633.6 794.5,1634.6 795.0,1634.1 795.5,1634.6 796.0,1634.1 796.5,1634.6 797.0,1634.0 797.5,1634.6 798.0,1633.9 798.5,1634.6 799.0,1633.9 799.5,1634.6 800.0,1633.9 800.5,1634.5 801.0,1634.0 801.5,1634.6 802.0,1634.1 802.5,1634.7 803.0,1634.1 803.5,1634.6 804.0,1634.0 804.5,1634.5 805.0,1634.0 805.5,1634.6 806.0,1633.9 806.5,1634.6 807.0,1634.0 807.5,1634.6 808.0,1634.0 808.5,1634.7 809.0,1634.0 809.5,1634.5 810.0,1633.5 810.5,1634.7 811.0,1634.0 811.5,1634.7 812.0,1634.0 812.5,1634.6 813.0,1634.1 813.5,1634.6 814.0,1633.8 814.5,1634.7 815.0,1634.0 815.5,1634.6 816.0,1634.1 816.5,1634.6 817.0,1634.2 817.5,1634.6 818.0,1634.1 818.5,1634.6 819.0,1634.2 819.5,1634.7 820.0,1634.1 820.5,1634.6 821.0,1634.2 821.5,1634.6 822.0,1634.1 822.5,1634.6 823.0,1634.2 823.5,1634.7 824.0,1634.1 824.5,1634.7 825.0,1634.1 825.5,1634.6 826.0,1633.8 826.5,1634.5 826.7,1634.3 826.9,1634.0 827.0,1633.6 827.0,1633.6 827.2,1632.8 827.4,1631.4 827.5,1630.0 827.5,1629.3 827.7,1625.4 827.9,1619.3 828.0,1623.3 828.1,1625.4 828.2,1629.3 828.4,1631.4 828.5,1632.1 828.6,1632.8 828.8,1633.5 829.0,1634.0 829.0,1634.1 829.1,1634.3 829.3,1634.4 829.5,1634.6 830.0,1633.7 830.5,1634.7 831.0,1634.3 831.5,1634.7 832.0,1634.2 832.5,1634.6 833.0,1633.6 833.5,1634.6 834.0,1634.0 834.5,1634.4 835.0,1633.9 835.3,1633.3 835.5,1632.7 835.6,1632.4 835.8,1631.0 836.0,1629.4 836.1,1628.4 836.4,1624.4 836.5,1621.0 836.6,1617.8 836.9,1606.4 837.0,1599.2 837.1,1588.3 837.4,1558.5 837.5,1568.2 837.8,1588.7 838.0,1601.0 838.1,1606.5 838.5,1617.7 838.9,1624.4 839.0,1626.1 839.2,1628.5 839.5,1630.4 839.6,1631.0 840.0,1632.4 840.0,1632.5 840.3,1633.3 840.5,1633.6 841.0,1634.1 841.5,1634.5 842.0,1634.2 842.5,1634.7 843.0,1633.6 843.5,1634.7 844.0,1634.2 844.5,1634.7 845.0,1633.9 845.5,1634.7 846.0,1634.2 846.5,1634.6 847.0,1634.2 847.5,1634.7 848.0,1634.3 848.5,1634.7 849.0,1634.1 849.5,1634.7 850.0,1634.2 850.5,1634.8 851.0,1634.2 851.5,1634.7 851.6,1634.6 851.8,1634.3 852.0,1634.0 852.0,1633.9 852.1,1634.1 852.3,1633.9 852.5,1633.2 852.5,1633.1 852.6,1632.2 852.8,1630.4 853.0,1627.5 853.2,1630.4 853.4,1632.2 853.5,1633.1 853.5,1633.2 853.7,1633.9 853.9,1634.2 854.0,1634.2 854.0,1634.3 854.2,1634.4 854.4,1634.6 854.5,1634.7 855.0,1634.2 855.5,1634.7 856.0,1634.1 856.5,1634.8 857.0,1634.1 857.5,1634.7 858.0,1634.2 858.5,1634.7 859.0,1634.1 859.5,1634.7 860.0,1634.2 860.5,1634.6 861.0,1634.0 861.2,1633.5 861.4,1632.7 861.5,1631.9 861.6,1631.4 861.8,1629.2 861.9,1625.5 862.0,1623.9 862.1,1619.8 862.3,1610.0 862.5,1593.6 862.7,1610.0 862.9,1619.8 863.0,1623.9 863.1,1625.5 863.2,1629.2 863.4,1631.4 863.5,1631.9 863.6,1632.7 863.8,1633.5 864.0,1634.0 864.5,1634.6 865.0,1634.3 865.5,1634.7 866.0,1633.6 866.5,1634.7 867.0,1633.9 867.5,1634.8 868.0,1633.5 868.5,1634.8 869.0,1634.2 869.5,1634.7 870.0,1634.2 870.5,1634.8 871.0,1634.1 871.5,1634.7 872.0,1634.1 872.5,1634.8 873.0,1634.1 873.5,1634.8 874.0,1634.2 874.5,1634.7 875.0,1633.9 875.5,1634.7 876.0,1634.2 876.5,1634.7 877.0,1634.3 877.5,1634.8 878.0,1634.1 878.5,1634.8 879.0,1634.3 879.5,1634.7 880.0,1634.0 880.5,1634.7 881.0,1634.2 881.5,1634.8 882.0,1634.1 882.5,1634.7 883.0,1634.2 883.5,1634.8 884.0,1634.2 884.5,1634.8 885.0,1633.5 885.5,1634.8 886.0,1634.1 886.5,1634.7 887.0,1634.3 887.5,1634.8 888.0,1634.2 888.5,1634.8 889.0,1634.3 889.5,1634.8 890.0,1634.3 890.5,1634.8 891.0,1634.2 891.5,1634.8 892.0,1634.1 892.5,1634.8 893.0,1634.3 893.5,1634.7 894.0,1634.3 894.5,1634.8 895.0,1634.3 895.5,1634.8 896.0,1634.2 896.5,1634.8 897.0,1634.2 897.5,1634.8 898.0,1634.2 898.5,1634.8 899.0,1634.3 899.5,1634.8 900.0,1634.3 900.5,1634.7 901.0,1634.1 901.5,1634.7 902.0,1634.4 902.5,1634.9 903.0,1634.0 903.5,1634.8 904.0,1634.4 904.5,1634.8 905.0,1634.3 905.5,1634.8 906.0,1634.4 906.5,1634.8 907.0,1633.8 907.5,1634.9 908.0,1634.1 908.5,1634.8 909.0,1634.3 909.5,1634.7 909.6,1634.7 909.8,1634.4 910.0,1634.0 910.0,1633.9 910.1,1633.9 910.3,1633.2 910.5,1632.0 910.5,1631.9 910.6,1630.2 910.8,1626.8 911.0,1621.5 911.2,1626.8 911.4,1630.2 911.5,1631.9 911.5,1632.0 911.7,1633.2 911.9,1633.9 912.0,1634.2 912.0,1634.3 912.2,1634.6 912.4,1634.7 912.5,1634.8 913.0,1634.2 913.5,1634.9 914.0,1634.2 914.5,1634.8 915.0,1634.3 915.5,1634.9 916.0,1633.9 916.5,1634.9 917.0,1634.3 917.5,1634.9 918.0,1634.3 918.5,1634.8 919.0,1634.3 919.5,1634.8 920.0,1634.2 920.5,1634.9 921.0,1634.3 921.5,1634.8 922.0,1634.3 922.5,1634.9 923.0,1634.4 923.5,1634.9 924.0,1634.4 924.5,1634.9 925.0,1634.3 925.1,1634.4 925.3,1634.5 925.5,1634.2 925.5,1634.2 925.7,1633.8 925.9,1633.0 926.0,1632.1 926.0,1631.7 926.2,1629.6 926.4,1626.4 926.5,1624.0 926.6,1620.7 926.8,1626.4 927.0,1629.8 927.0,1630.0 927.2,1631.7 927.4,1633.0 927.5,1633.7 927.5,1633.8 927.7,1634.2 927.9,1634.4 928.0,1634.3 928.1,1634.4 928.5,1634.9 929.0,1633.6 929.5,1634.8 930.0,1634.3 930.5,1634.8 931.0,1634.4 931.5,1634.8 932.0,1634.4 932.5,1634.9 933.0,1634.4 933.5,1634.9 934.0,1634.4 934.5,1634.9 935.0,1634.4 935.5,1634.9 936.0,1634.3 936.5,1634.9 937.0,1634.3 937.5,1634.9 938.0,1634.4 938.5,1634.9 939.0,1634.4 939.5,1634.9 940.0,1634.4 940.5,1634.9 941.0,1634.4 941.5,1634.9 942.0,1634.3 942.5,1635.0 943.0,1634.4 943.5,1634.9 944.0,1634.5 944.5,1634.9 945.0,1634.5 945.5,1634.9 946.0,1634.4 946.5,1635.0 947.0,1634.4 947.5,1634.9 948.0,1634.4 948.5,1634.9 949.0,1633.8 949.5,1634.9 950.0,1634.4 950.5,1634.9 951.0,1634.4 951.5,1635.0 952.0,1634.5 952.5,1635.0 953.0,1634.5 953.5,1635.0 954.0,1634.5 954.5,1634.9 955.0,1634.5 955.5,1634.9 956.0,1634.5 956.5,1634.9 957.0,1634.4 957.5,1635.0 958.0,1634.4 958.5,1634.9 959.0,1634.5 959.5,1634.9 960.0,1634.4 960.5,1635.0 961.0,1634.4 961.5,1635.0 962.0,1634.3 962.5,1635.0 963.0,1634.3 963.5,1635.0 964.0,1634.3 964.5,1635.0 965.0,1634.4 965.5,1634.9 966.0,1634.5 966.5,1635.0 967.0,1634.5 967.5,1635.0 968.0,1634.5 968.5,1635.0 969.0,1634.4 969.5,1634.9 970.0,1634.4 970.5,1635.0 971.0,1634.5 971.5,1635.0 972.0,1634.4 972.5,1635.0 973.0,1633.9 973.5,1635.0 974.0,1634.6 974.5,1635.0 975.0,1634.6 975.5,1635.0 976.0,1634.0 976.5,1635.0 977.0,1634.5 977.5,1634.9 978.0,1634.0 978.5,1635.0 979.0,1634.5 979.5,1635.0 980.0,1634.5 980.5,1635.0 981.0,1634.4 981.5,1635.0 982.0,1634.1 982.5,1634.9 983.0,1634.4 983.5,1635.0 984.0,1634.0 984.5,1634.9 985.0,1634.5 985.4,1634.9 985.5,1634.8 986.0,1634.5 986.4,1634.7 986.5,1634.7 987.0,1634.4 987.4,1634.5 987.5,1634.4 988.0,1634.2 988.4,1634.0 988.5,1634.0 989.0,1633.6 989.4,1633.1 989.5,1633.0 990.0,1632.1 990.4,1630.9 990.5,1630.6 990.8,1629.1 991.0,1627.8 991.1,1626.8 991.4,1623.8 991.5,1623.2 991.5,1622.5 991.8,1617.7 992.0,1611.9 992.1,1608.7 992.4,1595.9 992.4,1594.9 992.5,1590.3 992.8,1571.8 993.0,1545.0 993.1,1535.5 993.4,1474.6 993.5,1491.4 993.8,1533.8 994.0,1551.6 994.2,1570.8 994.5,1585.3 994.7,1593.0 995.0,1604.3 995.1,1606.7 995.5,1615.1 995.5,1615.3 995.7,1618.1 995.9,1620.7 996.0,1621.4 996.4,1624.3 996.5,1625.2 996.8,1626.6 997.0,1627.5 997.5,1629.0 998.0,1630.0 998.5,1630.8 999.0,1631.4 999.5,1631.8 1000.0,1632.2 1000.3,1632.4 1000.5,1632.5 1001.0,1632.8 1001.5,1633.0 1002.0,1633.3 1002.5,1633.5 1002.6,1633.5 1003.0,1633.6 1003.5,1633.8 1004.0,1633.9 1004.5,1634.0 1004.9,1634.1 1005.0,1634.1 1005.5,1634.2 1005.6,1634.2 1005.9,1634.2 1006.0,1634.2 1006.2,1634.2 1006.5,1634.0 1006.8,1633.8 1007.0,1633.6 1007.1,1633.5 1007.2,1633.3 1007.4,1632.9 1007.5,1632.6 1007.7,1631.8 1008.0,1630.0 1008.3,1631.9 1008.5,1632.7 1008.6,1633.0 1008.9,1633.7 1009.0,1633.9 1009.2,1634.1 1009.5,1634.4 1009.8,1634.5 1010.0,1634.1 1010.1,1634.3 1010.4,1634.8 1010.5,1634.8 1011.0,1634.5 1011.5,1634.9 1011.8,1634.3 1012.0,1633.8 1012.5,1634.9 1013.0,1634.4 1013.5,1635.0 1014.0,1634.5 1014.5,1635.0 1015.0,1634.0 1015.5,1635.0 1016.0,1634.5 1016.5,1635.1 1017.0,1634.6 1017.5,1635.0 1018.0,1634.5 1018.5,1635.0 1019.0,1634.6 1019.5,1635.0 1020.0,1634.6 1020.5,1635.1 1021.0,1634.7 1021.5,1635.1 1022.0,1634.7 1022.5,1635.1 1023.0,1634.6 1023.5,1635.1 1024.0,1634.1 1024.5,1635.1 1025.0,1634.5 1025.5,1635.2 1026.0,1634.0 1026.5,1635.2 1027.0,1634.5 1027.5,1635.1 1028.0,1634.5 1028.5,1635.2 1029.0,1634.4 1029.5,1635.1 1030.0,1634.4 1030.5,1635.2 1031.0,1634.6 1031.5,1635.2 1032.0,1634.6 1032.5,1635.2 1033.0,1634.6 1033.5,1635.1 1034.0,1634.6 1034.5,1635.2 1035.0,1635.2 1035.5,1635.2 1036.0,1635.2 1036.5,1635.2 1037.0,1635.2 1037.5,1635.2" fill="none" stroke="#1e1b1b" stroke-width="2.40" stroke-linejoin="round"/>
<text x="117.0" y="1699.3" font-size="43.00">H</text>
<text x="233.8" y="1683.4" font-size="32.66">20 h</text>
<text x="296.7" y="1653.0" font-size="21.30" style="font-weight:normal" stroke="#231f20" stroke-width="0.85">5272.3</text>
<text x="238.1" y="1724.7" font-size="21.34" style="font-weight:normal" stroke="#231f20" stroke-width="0.85">4398.4</text>
<text x="159.7" y="1758.5" font-size="21.42" style="font-weight:normal" stroke="#231f20" stroke-width="0.85">3420.3</text>
<text x="345.0" y="1734.1" font-size="20.99" style="font-weight:normal" stroke="#231f20" stroke-width="0.85">5752.3</text>
<path d="M369.1 1741.6V1762.2" stroke="#231f20" stroke-width="1.8" fill="none"/>
<path d="M362.3 1760.2L375.9 1760.2L369.1 1773.7Z" fill="#231f20"/>
<text x="446.6" y="1739.2" font-size="20.91" style="font-weight:normal" stroke="#231f20" stroke-width="0.85">7150.1</text>
<path d="M475.1 1755.8V1790.9" stroke="#231f20" stroke-width="1.8" fill="none"/>
<path d="M468.3 1788.9L481.9 1788.9L475.1 1800.4Z" fill="#231f20"/>
<text x="515.7" y="1762.2" font-size="21.49" style="font-weight:normal" stroke="#231f20" stroke-width="0.85">8082.6</text>
<path d="M546.4 1755.0V1779.4" stroke="#231f20" stroke-width="1.8" fill="none"/>
<path d="M539.6 1777.4L553.2 1777.4L546.4 1788.0Z" fill="#231f20"/>
<text x="560.3" y="1726.8" font-size="21.31" style="font-weight:normal" stroke="#231f20" stroke-width="0.85">8678.9</text>
<path d="M591.0 1740.6V1767.0" stroke="#231f20" stroke-width="1.8" fill="none"/>
<path d="M584.2 1765.0L597.8 1765.0L591.0 1775.7Z" fill="#231f20"/>
<text x="622.0" y="1755.0" font-size="21.41" style="font-weight:normal" stroke="#231f20" stroke-width="0.85">9549.4</text>
<path d="M657.1 1764.2V1774.8" stroke="#231f20" stroke-width="1.8" fill="none"/>
<path d="M650.3 1772.8L663.9 1772.8L657.1 1783.7Z" fill="#231f20"/>
<text x="647.8" y="1722.8" font-size="21.43" style="font-weight:normal" stroke="#231f20" stroke-width="0.85">10227.7</text>
<path d="M707.4 1745.8V1765.6" stroke="#231f20" stroke-width="1.8" fill="none"/>
<path d="M700.6 1763.6L714.2 1763.6L707.4 1775.1Z" fill="#231f20"/>
<text x="700.4" y="1695.2" font-size="21.35" style="font-weight:normal" stroke="#231f20" stroke-width="0.85">10609.9</text>
<path d="M736.1 1713.3V1771.3" stroke="#231f20" stroke-width="1.8" fill="none"/>
<path d="M729.3 1769.3L742.9 1769.3L736.1 1780.8Z" fill="#231f20"/>
<path d="M752.3 1780.3V1789.3" stroke="#231f20" stroke-width="1.8" fill="none"/>
<path d="M746.3 1787.3L758.3 1787.3L752.3 1799.5Z" fill="#231f20"/>
<text x="799.2" y="1730.5" font-size="20.77" style="font-weight:normal" stroke="#231f20" stroke-width="0.85">11927.7</text>
<path d="M837.7 1741.2V1761.3" stroke="#231f20" stroke-width="1.8" fill="none"/>
<path d="M830.9 1759.3L844.5 1759.3L837.7 1770.8Z" fill="#231f20"/>
<text x="846.6" y="1769.3" font-size="21.15" style="font-weight:normal" stroke="#231f20" stroke-width="0.85">12257.9</text>
<path d="M862.2 1775.1V1795.8" stroke="#231f20" stroke-width="1.8" fill="none"/>
<path d="M855.4 1793.8L869.0 1793.8L862.2 1804.4Z" fill="#231f20"/>
<text x="959.6" y="1757.9" font-size="21.32" style="font-weight:normal" stroke="#231f20" stroke-width="0.85">13981.9</text>
<path d="M993.5 1772.8V1791.5" stroke="#231f20" stroke-width="1.8" fill="none"/>
<path d="M986.7 1789.5L1000.3 1789.5L993.5 1801.5Z" fill="#231f20"/>
<polyline points="87.5,1820.6 88.0,1820.6 88.5,1820.6 89.0,1820.6 89.5,1820.6 90.0,1820.6 90.5,1820.6 91.0,1820.6 91.5,1820.6 92.0,1820.6 92.5,1820.6 93.0,1820.6 93.5,1820.5 94.0,1820.5 94.5,1820.5 95.0,1820.5 95.5,1820.5 96.0,1820.5 96.5,1820.5 97.0,1820.5 97.5,1820.5 98.0,1820.5 98.5,1820.5 99.0,1820.5 99.5,1820.5 100.0,1820.5 100.5,1820.5 101.0,1820.5 101.5,1820.5 102.0,1820.5 102.5,1820.5 103.0,1820.5 103.5,1820.5 104.0,1820.5 104.5,1820.5 105.0,1820.5 105.5,1820.5 106.0,1820.5 106.5,1820.5 107.0,1820.5 107.5,1820.5 108.0,1820.5 108.5,1820.5 109.0,1820.5 109.5,1820.5 110.0,1820.5 110.5,1820.5 111.0,1820.5 111.5,1820.5 112.0,1820.5 112.5,1820.5 113.0,1820.5 113.5,1820.5 114.0,1820.4 114.5,1820.4 115.0,1820.4 115.5,1820.4 116.0,1820.4 116.5,1820.4 117.0,1820.4 117.5,1820.4 118.0,1819.6 118.5,1820.4 119.0,1819.5 119.5,1820.3 120.0,1819.3 120.5,1820.4 121.0,1819.4 121.5,1820.2 122.0,1819.5 122.5,1820.4 123.0,1819.5 123.5,1820.4 124.0,1819.6 124.5,1820.4 125.0,1819.3 125.5,1820.1 126.0,1819.4 126.5,1820.2 127.0,1819.4 127.5,1820.1 128.0,1818.4 128.5,1820.1 129.0,1819.3 129.5,1820.1 130.0,1819.2 130.5,1820.2 131.0,1819.3 131.5,1819.9 132.0,1819.3 132.5,1820.0 133.0,1818.8 133.5,1819.9 134.0,1818.9 134.5,1820.0 135.0,1818.1 135.5,1819.8 136.0,1818.9 136.5,1819.9 137.0,1818.0 137.5,1819.8 138.0,1819.0 138.5,1819.9 139.0,1818.9 139.5,1819.7 140.0,1818.9 140.5,1819.8 141.0,1818.9 141.5,1819.7 142.0,1818.9 142.5,1819.6 143.0,1818.8 143.5,1819.6 144.0,1818.7 144.5,1819.7 145.0,1818.7 145.5,1819.5 146.0,1818.2 146.5,1819.5 147.0,1818.1 147.5,1819.6 148.0,1818.6 148.5,1819.4 149.0,1818.5 149.5,1819.5 150.0,1817.1 150.5,1819.3 151.0,1817.2 151.5,1819.3 152.0,1817.3 152.5,1818.9 153.0,1817.5 153.5,1818.8 154.0,1817.2 154.5,1819.2 155.0,1814.2 155.5,1818.9 156.0,1816.5 156.5,1819.2 157.0,1816.8 157.2,1817.6 157.3,1818.3 157.5,1818.0 157.5,1817.9 157.7,1816.9 157.9,1815.2 158.0,1813.6 158.1,1812.7 158.2,1808.4 158.4,1800.8 158.5,1805.5 158.6,1808.4 158.8,1812.7 158.9,1815.4 159.0,1815.4 159.1,1816.2 159.3,1817.5 159.4,1818.4 159.5,1818.5 159.6,1818.5 159.8,1817.6 160.0,1816.7 160.5,1819.1 161.0,1816.8 161.5,1818.8 162.0,1817.1 162.5,1818.8 163.0,1816.8 163.5,1819.0 164.0,1816.5 164.4,1818.2 164.5,1818.5 164.6,1818.2 164.8,1817.5 164.9,1816.9 165.0,1816.6 165.1,1817.1 165.3,1817.6 165.5,1816.7 165.5,1816.4 165.6,1815.1 165.8,1812.6 166.0,1815.2 166.0,1815.3 166.2,1816.7 166.3,1817.6 166.5,1818.1 166.5,1818.1 166.7,1817.8 166.9,1817.1 167.0,1816.5 167.0,1816.7 167.2,1817.5 167.5,1818.8 167.9,1816.8 168.0,1816.3 168.1,1816.7 168.2,1817.5 168.4,1818.3 168.5,1818.2 168.6,1817.9 168.8,1817.2 168.9,1816.1 169.0,1815.6 169.1,1814.3 169.3,1811.0 169.5,1814.2 169.5,1814.5 169.7,1816.1 169.8,1817.2 170.0,1816.5 170.2,1817.3 170.3,1818.1 170.5,1818.6 170.5,1818.5 170.7,1817.3 171.0,1815.3 171.5,1818.8 172.0,1816.3 172.5,1818.3 173.0,1816.7 173.5,1818.6 174.0,1813.7 174.5,1818.4 175.0,1816.6 175.5,1818.5 176.0,1816.4 176.5,1818.1 177.0,1814.5 177.5,1818.3 178.0,1816.4 178.5,1818.1 179.0,1813.8 179.5,1818.1 180.0,1815.8 180.5,1818.4 181.0,1815.9 181.5,1818.1 182.0,1816.3 182.5,1818.2 183.0,1816.4 183.5,1818.5 184.0,1815.9 184.5,1818.4 185.0,1816.4 185.5,1818.1 186.0,1816.5 186.5,1818.2 187.0,1816.3 187.5,1818.3 188.0,1816.0 188.5,1818.3 189.0,1816.0 189.5,1818.5 190.0,1814.5 190.5,1818.5 191.0,1815.8 191.5,1818.0 192.0,1815.8 192.5,1818.2 192.9,1816.6 193.0,1816.2 193.1,1816.6 193.2,1816.3 193.4,1814.7 193.5,1813.8 193.6,1812.2 193.8,1807.7 193.9,1800.6 194.0,1797.7 194.1,1788.9 194.3,1768.0 194.5,1788.9 194.5,1790.6 194.7,1800.6 194.8,1808.0 195.0,1812.2 195.2,1814.8 195.3,1816.3 195.5,1817.1 195.5,1817.2 195.7,1817.1 196.0,1815.8 196.5,1818.2 197.0,1816.3 197.5,1818.0 198.0,1814.8 198.5,1818.5 199.0,1816.1 199.5,1818.4 200.0,1815.8 200.5,1818.3 201.0,1816.2 201.5,1818.2 202.0,1814.8 202.5,1818.4 203.0,1816.2 203.5,1818.0 204.0,1815.9 204.5,1818.5 205.0,1816.2 205.5,1818.1 206.0,1816.3 206.5,1818.3 207.0,1816.1 207.5,1818.3 208.0,1815.7 208.5,1818.1 209.0,1815.6 209.5,1818.4 210.0,1815.6 210.5,1818.2 210.6,1817.7 210.8,1816.8 210.9,1815.9 211.0,1815.7 211.1,1816.3 211.3,1817.3 211.5,1817.0 211.5,1816.8 211.7,1815.9 211.8,1814.1 212.0,1811.0 212.2,1814.1 212.3,1815.9 212.5,1816.8 212.5,1817.0 212.7,1817.4 212.9,1816.5 213.0,1815.8 213.1,1816.1 213.2,1816.9 213.4,1817.8 213.5,1818.3 214.0,1815.7 214.5,1818.4 215.0,1816.2 215.5,1818.2 216.0,1816.3 216.5,1818.0 217.0,1816.5 217.5,1818.4 218.0,1816.5 218.5,1818.4 219.0,1816.1 219.5,1818.4 220.0,1816.2 220.5,1818.5 221.0,1816.0 221.5,1818.2 222.0,1815.6 222.3,1817.3 222.5,1818.1 222.5,1818.1 222.7,1817.8 222.8,1817.0 222.8,1816.9 223.0,1816.2 223.0,1816.0 223.2,1815.5 223.2,1815.3 223.3,1813.5 223.3,1813.0 223.5,1810.0 223.5,1809.5 223.7,1804.4 223.7,1803.1 223.8,1806.1 223.9,1806.4 224.0,1806.6 224.0,1806.5 224.1,1806.3 224.2,1803.6 224.2,1804.5 224.4,1809.8 224.4,1810.3 224.5,1812.4 224.6,1813.2 224.6,1813.5 224.7,1815.3 224.8,1815.6 224.9,1816.2 224.9,1816.1 225.0,1815.8 225.1,1816.1 225.1,1816.2 225.2,1816.9 225.4,1817.8 225.5,1818.1 225.6,1817.7 226.0,1816.1 226.5,1818.1 227.0,1816.0 227.5,1818.2 228.0,1815.9 228.5,1818.1 229.0,1816.3 229.5,1818.3 230.0,1814.5 230.5,1818.5 231.0,1814.2 231.5,1818.0 232.0,1816.7 232.5,1818.2 233.0,1816.3 233.5,1818.3 234.0,1815.9 234.5,1818.4 235.0,1813.8 235.5,1818.4 236.0,1816.1 236.5,1818.4 237.0,1816.0 237.5,1818.3 238.0,1815.8 238.5,1818.4 239.0,1814.0 239.5,1818.2 240.0,1816.5 240.5,1818.5 241.0,1816.2 241.5,1818.0 242.0,1816.1 242.3,1817.5 242.5,1818.4 242.5,1818.4 242.7,1817.7 242.8,1816.8 243.0,1816.1 243.0,1816.1 243.2,1816.9 243.4,1816.3 243.5,1815.2 243.5,1814.7 243.7,1812.3 243.9,1814.8 244.0,1815.8 244.1,1816.2 244.2,1817.1 244.4,1817.7 244.5,1817.9 244.6,1818.0 244.8,1817.2 244.9,1816.5 245.0,1816.2 245.1,1816.6 245.5,1818.0 246.0,1816.6 246.5,1818.5 247.0,1816.6 247.3,1817.6 247.5,1818.1 247.5,1818.2 247.7,1816.9 247.8,1815.3 248.0,1813.7 248.2,1815.3 248.3,1813.9 248.5,1811.4 248.5,1810.9 248.7,1805.6 248.9,1810.9 249.0,1813.2 249.1,1813.9 249.2,1815.8 249.4,1816.9 249.5,1817.3 249.6,1817.5 249.8,1817.0 249.9,1816.1 250.0,1815.7 250.1,1816.2 250.5,1818.2 251.0,1816.3 251.5,1818.1 252.0,1815.9 252.5,1818.2 253.0,1816.4 253.5,1818.3 254.0,1816.6 254.5,1818.4 255.0,1816.1 255.5,1818.2 256.0,1816.3 256.5,1818.2 257.0,1816.6 257.5,1818.5 258.0,1814.2 258.5,1818.1 258.9,1816.7 259.0,1816.4 259.1,1816.6 259.2,1817.2 259.4,1817.6 259.5,1817.3 259.6,1816.9 259.8,1815.8 259.9,1814.0 260.0,1813.2 260.1,1810.9 260.3,1805.6 260.5,1810.9 260.5,1811.4 260.6,1814.0 260.8,1815.8 261.0,1814.7 261.2,1815.9 261.4,1817.0 261.5,1818.0 261.5,1817.9 261.7,1817.2 262.0,1816.0 262.5,1818.4 263.0,1815.8 263.5,1818.1 264.0,1816.1 264.5,1818.4 265.0,1815.7 265.5,1818.5 266.0,1816.3 266.5,1818.3 267.0,1816.3 267.2,1817.0 267.4,1815.9 267.5,1815.1 267.6,1814.3 267.8,1811.6 267.9,1807.0 268.0,1805.3 268.1,1799.3 268.3,1787.5 268.5,1768.4 268.5,1767.1 268.7,1733.1 268.9,1767.1 269.0,1780.1 269.1,1786.7 269.3,1799.3 269.4,1807.0 269.5,1808.4 269.6,1811.6 269.8,1814.2 270.0,1815.9 270.0,1815.9 270.2,1816.9 270.5,1817.8 271.0,1815.8 271.5,1818.5 272.0,1816.2 272.5,1818.2 273.0,1816.3 273.5,1818.3 274.0,1814.4 274.4,1817.6 274.5,1818.3 274.6,1818.1 274.8,1817.3 274.9,1816.4 275.0,1816.1 275.1,1816.6 275.3,1815.8 275.4,1814.0 275.5,1813.2 275.6,1810.9 275.8,1805.6 276.0,1810.9 276.0,1811.4 276.1,1814.0 276.3,1815.8 276.5,1816.9 276.7,1817.4 276.9,1816.8 277.0,1816.2 277.0,1816.3 277.2,1817.0 277.5,1818.1 277.5,1818.2 277.7,1817.4 277.8,1816.6 278.0,1815.9 278.0,1816.0 278.2,1816.7 278.4,1817.1 278.5,1816.5 278.5,1816.2 278.7,1814.6 278.9,1812.0 279.0,1813.8 279.1,1814.7 279.2,1816.2 279.4,1817.2 279.5,1817.5 279.6,1817.6 279.8,1816.0 279.9,1814.4 280.0,1813.9 280.1,1814.9 280.3,1816.3 280.5,1818.1 281.0,1815.3 281.5,1818.3 282.0,1813.9 282.5,1818.2 283.0,1816.2 283.5,1818.0 284.0,1815.9 284.5,1818.0 285.0,1816.1 285.5,1818.2 286.0,1816.1 286.5,1818.5 287.0,1816.2 287.5,1818.4 287.9,1816.8 288.0,1816.4 288.1,1816.7 288.2,1817.4 288.4,1817.8 288.5,1817.7 288.6,1817.3 288.8,1816.5 288.9,1815.2 289.0,1814.6 289.1,1812.9 289.3,1809.0 289.5,1812.9 289.5,1813.3 289.6,1815.2 289.8,1816.5 290.0,1815.7 290.2,1816.7 290.4,1817.5 290.5,1818.3 290.5,1818.2 290.7,1817.2 291.0,1815.6 291.5,1818.1 292.0,1814.1 292.5,1818.3 293.0,1815.6 293.5,1818.3 294.0,1815.5 294.5,1818.4 295.0,1816.2 295.5,1818.0 296.0,1815.8 296.4,1817.8 296.5,1818.3 296.6,1817.9 296.8,1816.9 296.9,1815.9 297.0,1815.6 297.1,1816.1 297.3,1816.7 297.4,1815.5 297.5,1815.0 297.6,1813.5 297.8,1810.0 298.0,1813.5 298.0,1813.8 298.1,1815.5 298.3,1816.7 298.5,1817.5 298.7,1817.5 298.9,1816.8 299.0,1816.2 299.0,1816.3 299.2,1817.1 299.5,1818.3 300.0,1816.0 300.5,1818.5 301.0,1816.1 301.5,1818.5 302.0,1816.3 302.5,1818.4 303.0,1813.7 303.5,1818.1 303.7,1817.5 303.9,1816.8 304.0,1816.2 304.0,1816.2 304.2,1814.6 304.4,1811.8 304.5,1809.0 304.6,1807.4 304.7,1800.2 304.9,1787.2 305.0,1795.2 305.1,1799.6 305.2,1807.4 305.4,1811.8 305.5,1813.3 305.6,1814.6 305.8,1816.2 305.9,1816.5 306.0,1816.3 306.1,1816.8 306.3,1817.5 306.5,1818.3 307.0,1815.8 307.5,1818.2 308.0,1815.7 308.5,1818.2 309.0,1815.5 309.5,1818.5 310.0,1815.7 310.2,1816.7 310.4,1817.5 310.5,1817.9 310.6,1817.7 310.7,1816.3 310.9,1815.0 311.0,1814.3 311.1,1814.9 311.2,1812.8 311.4,1808.8 311.5,1806.5 311.6,1802.4 311.8,1809.1 311.9,1812.8 312.0,1813.6 312.1,1815.1 312.3,1816.5 312.5,1817.4 312.5,1817.4 312.6,1817.5 312.8,1816.8 313.0,1816.1 313.5,1818.2 314.0,1816.2 314.5,1818.1 315.0,1816.5 315.5,1818.0 316.0,1815.9 316.5,1818.5 317.0,1815.8 317.5,1818.0 318.0,1815.2 318.5,1818.2 319.0,1816.1 319.5,1818.1 320.0,1813.8 320.5,1818.3 321.0,1816.3 321.5,1818.3 322.0,1816.3 322.5,1818.5 323.0,1816.0 323.5,1818.5 324.0,1815.8 324.5,1818.0 325.0,1815.6 325.5,1818.5 326.0,1814.7 326.5,1818.2 327.0,1816.1 327.3,1817.4 327.5,1818.3 328.0,1816.3 328.3,1817.5 328.5,1818.3 329.0,1816.7 329.3,1817.6 329.5,1818.2 330.0,1816.2 330.3,1817.4 330.5,1818.0 331.0,1816.6 331.3,1817.6 331.5,1817.4 332.0,1816.2 332.3,1816.2 332.5,1815.7 332.9,1814.0 333.0,1813.4 333.2,1811.9 333.3,1810.9 333.5,1808.5 333.8,1803.2 334.0,1797.9 334.1,1794.6 334.3,1786.1 334.4,1780.7 334.5,1774.3 334.7,1757.9 335.0,1720.7 335.3,1659.8 335.5,1694.6 335.7,1720.5 336.0,1751.3 336.1,1757.4 336.5,1780.0 336.5,1781.3 336.9,1793.8 337.0,1797.4 337.2,1802.3 337.3,1803.2 337.5,1806.0 337.6,1807.6 338.0,1810.7 338.0,1810.9 338.4,1813.0 338.5,1813.3 339.0,1814.6 339.2,1814.8 339.3,1814.8 339.4,1814.8 339.5,1814.6 339.5,1814.6 339.7,1814.0 339.9,1812.8 340.0,1811.4 340.1,1810.7 340.2,1807.1 340.4,1800.5 340.5,1804.7 340.6,1807.0 340.8,1811.2 340.9,1813.5 341.0,1814.3 341.1,1815.0 341.3,1815.9 341.3,1816.0 341.4,1816.5 341.5,1816.6 341.6,1816.9 341.8,1817.1 342.0,1816.7 342.5,1817.5 343.0,1816.0 343.3,1817.4 343.5,1817.8 344.0,1816.3 344.5,1818.0 345.0,1815.9 345.3,1817.5 345.5,1818.1 346.0,1816.5 346.5,1818.0 347.0,1816.0 347.3,1817.5 347.5,1818.3 348.0,1816.0 348.5,1818.3 349.0,1815.8 349.3,1817.2 349.5,1818.2 350.0,1815.2 350.5,1818.4 351.0,1816.6 351.3,1817.6 351.5,1818.3 352.0,1816.4 352.5,1818.3 353.0,1815.5 353.5,1818.4 354.0,1816.1 354.5,1818.5 355.0,1814.6 355.5,1818.2 356.0,1816.1 356.5,1818.3 357.0,1814.2 357.5,1818.1 358.0,1814.4 358.5,1818.2 359.0,1816.5 359.5,1818.1 360.0,1816.2 360.5,1818.3 361.0,1816.1 361.5,1818.2 362.0,1816.4 362.5,1818.4 363.0,1816.2 363.5,1818.3 364.0,1816.2 364.5,1818.5 365.0,1816.4 365.5,1818.1 366.0,1816.2 366.5,1818.1 367.0,1815.1 367.5,1818.1 368.0,1815.0 368.5,1818.1 369.0,1816.6 369.5,1818.1 370.0,1816.5 370.2,1817.2 370.4,1816.7 370.5,1816.0 370.6,1815.6 370.8,1813.6 370.9,1810.3 371.0,1808.8 371.1,1805.1 371.3,1796.2 371.5,1781.5 371.7,1796.2 371.9,1805.1 372.0,1808.8 372.1,1810.3 372.2,1813.6 372.4,1815.6 372.5,1816.0 372.6,1816.7 372.8,1816.9 373.0,1816.0 373.5,1818.3 374.0,1816.4 374.5,1818.5 375.0,1816.4 375.5,1818.1 376.0,1816.0 376.5,1818.6 377.0,1816.1 377.5,1818.1 378.0,1816.4 378.5,1818.1 379.0,1816.3 379.5,1818.1 380.0,1816.5 380.5,1818.1 381.0,1816.4 381.5,1818.6 382.0,1815.9 382.5,1818.0 383.0,1815.7 383.5,1818.2 384.0,1816.0 384.5,1818.4 385.0,1814.8 385.5,1818.1 386.0,1816.6 386.5,1818.3 387.0,1816.2 387.5,1818.3 388.0,1816.2 388.5,1818.4 389.0,1816.1 389.5,1818.4 390.0,1816.3 390.5,1818.1 391.0,1814.2 391.5,1818.5 392.0,1815.6 392.5,1818.3 393.0,1816.0 393.5,1818.4 393.6,1817.8 393.8,1817.0 394.0,1816.3 394.0,1816.2 394.2,1816.9 394.3,1817.6 394.5,1816.9 394.5,1816.8 394.7,1815.7 394.9,1813.6 395.0,1811.2 395.0,1810.3 395.2,1813.6 395.4,1815.6 395.5,1816.4 395.6,1816.8 395.7,1817.2 395.9,1816.3 396.0,1815.9 396.1,1816.3 396.3,1817.2 396.4,1818.0 396.5,1818.3 397.0,1816.3 397.5,1818.1 398.0,1816.5 398.5,1818.1 399.0,1816.8 399.5,1818.4 400.0,1816.3 400.5,1818.4 401.0,1816.4 401.5,1818.6 402.0,1816.7 402.5,1818.3 403.0,1816.8 403.5,1818.3 404.0,1816.7 404.5,1818.4 405.0,1816.7 405.5,1818.3 406.0,1816.8 406.5,1818.4 407.0,1816.8 407.5,1818.6 408.0,1813.8 408.5,1818.6 409.0,1816.6 409.5,1818.3 410.0,1816.5 410.5,1818.4 411.0,1816.1 411.5,1818.6 412.0,1814.0 412.5,1818.6 413.0,1814.3 413.5,1818.6 414.0,1815.8 414.5,1818.2 415.0,1816.1 415.5,1818.6 416.0,1816.2 416.5,1818.4 417.0,1816.5 417.5,1818.3 418.0,1814.5 418.5,1818.6 419.0,1816.5 419.5,1818.6 420.0,1816.0 420.5,1818.2 421.0,1816.2 421.5,1818.3 422.0,1816.3 422.5,1818.5 423.0,1816.2 423.5,1818.4 424.0,1816.4 424.5,1818.7 425.0,1816.3 425.5,1818.7 426.0,1815.5 426.5,1818.3 427.0,1816.2 427.5,1818.6 428.0,1816.6 428.5,1818.3 429.0,1816.1 429.5,1818.3 430.0,1816.5 430.5,1818.4 431.0,1816.7 431.5,1818.4 432.0,1816.2 432.5,1818.4 433.0,1815.9 433.5,1818.7 434.0,1816.4 434.5,1818.3 435.0,1816.2 435.5,1818.5 436.0,1816.2 436.5,1818.6 437.0,1815.0 437.5,1818.7 438.0,1816.5 438.5,1818.8 439.0,1815.1 439.5,1818.4 439.7,1817.7 439.9,1816.9 440.0,1816.3 440.0,1816.4 440.2,1817.0 440.4,1815.7 440.5,1814.4 440.6,1813.7 440.7,1810.4 440.9,1804.4 441.0,1808.1 441.1,1810.1 441.2,1813.7 441.4,1815.8 441.5,1816.4 441.6,1817.0 441.8,1817.4 441.9,1816.7 442.0,1816.5 442.1,1817.0 442.3,1817.8 442.5,1818.6 443.0,1815.2 443.5,1818.7 444.0,1816.8 444.5,1818.4 445.0,1816.4 445.5,1818.3 446.0,1816.0 446.5,1818.6 447.0,1816.6 447.5,1818.6 448.0,1815.2 448.5,1818.6 449.0,1814.3 449.5,1818.9 450.0,1817.1 450.5,1818.8 451.0,1817.0 451.5,1818.7 452.0,1817.2 452.5,1818.8 453.0,1817.3 453.5,1818.7 454.0,1817.6 454.5,1818.8 455.0,1815.6 455.5,1818.9 456.0,1817.3 456.5,1818.8 457.0,1817.4 457.5,1818.8 457.7,1818.3 457.9,1817.8 458.0,1817.5 458.0,1817.5 458.2,1818.0 458.4,1818.0 458.5,1817.5 458.6,1817.3 458.7,1816.1 458.9,1814.2 459.0,1812.7 459.1,1811.0 459.3,1814.3 459.4,1816.1 459.5,1816.7 459.6,1817.3 459.8,1818.0 460.0,1817.8 460.0,1817.7 460.1,1818.0 460.3,1818.4 460.5,1818.7 460.5,1818.8 461.0,1817.2 461.5,1818.9 462.0,1817.4 462.5,1819.0 463.0,1817.5 463.5,1818.7 464.0,1817.5 464.5,1818.8 465.0,1817.2 465.5,1818.7 466.0,1817.4 466.5,1818.6 467.0,1817.3 467.5,1818.9 468.0,1817.4 468.5,1818.8 469.0,1816.6 469.5,1818.6 470.0,1817.7 470.5,1819.0 471.0,1817.6 471.3,1818.3 471.5,1818.7 471.5,1818.7 471.7,1818.4 471.8,1818.0 472.0,1817.6 472.0,1817.6 472.2,1817.3 472.4,1816.1 472.5,1814.6 472.5,1814.1 472.7,1810.8 472.9,1814.1 473.0,1815.5 473.1,1816.1 473.2,1817.3 473.4,1818.0 473.5,1818.2 473.6,1818.4 473.8,1817.9 473.9,1817.3 474.0,1817.0 474.1,1817.4 474.5,1818.9 475.0,1817.0 475.5,1818.7 475.7,1818.2 475.9,1817.6 476.0,1817.1 476.0,1817.2 476.2,1817.5 476.4,1816.4 476.5,1815.3 476.6,1814.7 476.7,1811.8 476.9,1806.7 477.0,1809.9 477.1,1811.6 477.2,1814.7 477.4,1816.4 477.5,1817.0 477.6,1817.5 477.8,1817.9 477.9,1817.2 478.0,1817.0 478.1,1817.5 478.3,1818.2 478.5,1819.0 479.0,1817.2 479.5,1819.0 480.0,1817.5 480.5,1818.9 481.0,1817.7 481.5,1818.9 482.0,1816.8 482.5,1819.0 483.0,1816.5 483.5,1819.0 484.0,1817.7 484.5,1818.7 485.0,1817.5 485.5,1818.7 486.0,1817.5 486.5,1819.0 487.0,1817.7 487.5,1819.0 488.0,1817.3 488.5,1819.1 489.0,1817.1 489.5,1818.9 490.0,1817.3 490.5,1819.0 491.0,1817.5 491.5,1818.8 492.0,1817.4 492.5,1818.9 493.0,1817.6 493.5,1819.1 494.0,1817.4 494.5,1818.9 495.0,1817.2 495.5,1819.0 496.0,1817.6 496.5,1819.1 497.0,1817.3 497.5,1819.1 498.0,1817.5 498.5,1818.9 499.0,1817.6 499.5,1819.1 500.0,1816.7 500.5,1819.1 501.0,1817.7 501.5,1818.9 502.0,1817.9 502.5,1819.1 503.0,1817.6 503.5,1819.2 504.0,1817.6 504.5,1818.9 505.0,1817.8 505.5,1819.1 506.0,1816.2 506.5,1818.9 507.0,1817.6 507.5,1819.2 508.0,1817.8 508.5,1819.2 509.0,1817.6 509.5,1819.2 510.0,1817.7 510.5,1819.1 511.0,1817.6 511.5,1818.9 512.0,1817.9 512.5,1819.0 513.0,1817.6 513.5,1818.9 513.8,1818.4 514.0,1818.0 514.0,1817.9 514.1,1818.2 514.3,1818.6 514.5,1818.6 514.5,1818.6 514.6,1818.2 514.8,1817.4 515.0,1816.1 515.2,1814.1 515.4,1816.1 515.5,1817.3 515.5,1817.4 515.7,1818.2 515.9,1818.0 516.0,1817.5 516.0,1817.7 516.2,1818.3 516.4,1818.9 516.5,1819.2 516.6,1819.0 517.0,1817.4 517.5,1819.0 518.0,1817.2 518.5,1819.0 519.0,1816.8 519.5,1819.2 520.0,1817.7 520.5,1819.2 520.9,1818.1 521.0,1817.6 521.0,1817.7 521.2,1818.2 521.4,1818.8 521.5,1818.7 521.5,1818.6 521.7,1818.0 521.9,1817.2 522.0,1816.5 522.1,1815.7 522.2,1813.3 522.4,1815.8 522.5,1816.5 522.6,1817.2 522.8,1818.1 523.0,1818.0 523.0,1817.8 523.1,1818.2 523.3,1818.6 523.5,1819.1 523.5,1819.2 523.6,1818.7 524.0,1817.6 524.5,1819.3 525.0,1817.9 525.0,1817.9 525.2,1818.3 525.3,1818.8 525.5,1819.0 525.5,1819.0 525.7,1818.7 525.9,1818.3 526.0,1817.9 526.0,1817.7 526.2,1816.6 526.4,1814.8 526.5,1816.1 526.6,1816.6 526.7,1817.7 526.9,1818.3 527.0,1818.1 527.1,1818.2 527.3,1818.7 527.4,1819.1 527.5,1819.2 527.6,1818.9 527.8,1818.3 528.0,1817.6 528.5,1819.1 529.0,1817.8 529.5,1819.2 530.0,1817.6 530.5,1819.1 531.0,1817.5 531.5,1819.1 532.0,1817.3 532.5,1819.2 533.0,1817.7 533.5,1819.3 534.0,1817.8 534.5,1819.3 535.0,1818.1 535.5,1819.2 536.0,1818.1 536.5,1819.1 537.0,1817.7 537.5,1819.2 538.0,1818.0 538.5,1819.1 539.0,1817.7 539.5,1819.3 540.0,1817.8 540.5,1819.4 541.0,1816.5 541.5,1819.1 542.0,1818.2 542.5,1819.1 543.0,1818.0 543.2,1818.6 543.4,1819.0 543.5,1819.1 543.6,1818.6 543.8,1817.6 544.0,1816.6 544.0,1816.3 544.1,1817.1 544.3,1817.0 544.5,1815.3 544.5,1815.0 544.6,1812.6 544.8,1815.4 545.0,1817.0 545.2,1818.0 545.4,1818.6 545.5,1818.9 545.5,1818.9 545.7,1818.7 545.9,1818.2 546.0,1817.8 546.0,1817.9 546.4,1818.9 546.5,1819.1 546.6,1818.9 546.8,1818.5 546.9,1818.1 547.0,1817.9 547.1,1817.8 547.3,1816.7 547.5,1814.7 547.5,1814.0 547.6,1811.6 547.8,1806.1 548.0,1811.4 548.0,1812.1 548.1,1814.7 548.3,1816.6 548.5,1817.8 548.7,1818.5 548.9,1818.3 549.0,1817.9 549.0,1817.9 549.2,1818.4 549.5,1819.3 550.0,1818.1 550.5,1819.5 551.0,1818.0 551.5,1819.2 552.0,1818.2 552.5,1819.5 553.0,1818.0 553.5,1819.2 554.0,1818.2 554.5,1819.1 555.0,1818.2 555.5,1819.2 556.0,1818.2 556.5,1819.3 557.0,1817.8 557.5,1819.4 558.0,1818.1 558.5,1819.4 559.0,1818.1 559.5,1819.4 560.0,1816.8 560.5,1819.4 561.0,1817.9 561.5,1819.4 562.0,1818.1 562.5,1819.2 563.0,1817.9 563.5,1819.6 564.0,1818.0 564.5,1819.3 565.0,1818.0 565.5,1819.4 566.0,1817.8 566.5,1819.5 567.0,1818.0 567.5,1819.5 568.0,1818.3 568.5,1819.5 569.0,1817.9 569.5,1819.5 570.0,1817.9 570.5,1819.4 571.0,1818.0 571.5,1819.4 572.0,1817.7 572.5,1819.4 573.0,1818.0 573.5,1819.3 574.0,1818.0 574.5,1819.5 575.0,1817.9 575.5,1819.5 576.0,1818.2 576.5,1819.5 577.0,1818.0 577.5,1819.5 578.0,1817.9 578.5,1819.6 579.0,1817.7 579.5,1819.6 580.0,1818.0 580.5,1819.6 581.0,1817.9 581.5,1819.4 582.0,1817.7 582.5,1819.6 583.0,1818.0 583.5,1819.6 584.0,1818.1 584.5,1819.5 585.0,1818.1 585.5,1819.5 586.0,1818.1 586.5,1819.5 587.0,1818.2 587.5,1819.5 588.0,1818.1 588.5,1819.5 589.0,1817.9 589.5,1819.6 590.0,1818.0 590.5,1819.4 591.0,1818.0 591.5,1819.5 591.8,1818.6 592.0,1818.0 592.0,1818.0 592.2,1818.1 592.4,1817.1 592.5,1815.9 592.5,1815.3 592.7,1812.4 592.9,1807.9 593.0,1805.1 593.1,1800.1 593.3,1787.2 593.5,1800.1 593.5,1800.7 593.7,1807.6 593.9,1812.4 594.0,1814.7 594.0,1815.3 594.2,1817.1 594.4,1818.1 594.5,1818.4 594.6,1818.8 594.8,1818.6 595.0,1817.9 595.5,1819.4 596.0,1818.2 596.5,1819.7 597.0,1816.4 597.5,1819.6 598.0,1818.2 598.5,1819.6 599.0,1818.1 599.5,1819.6 600.0,1816.8 600.5,1819.6 601.0,1818.1 601.5,1819.8 602.0,1818.2 602.5,1819.7 603.0,1818.1 603.5,1819.6 604.0,1818.1 604.5,1819.5 605.0,1818.1 605.5,1819.6 606.0,1817.9 606.5,1819.8 607.0,1818.0 607.5,1819.8 608.0,1818.2 608.5,1819.6 609.0,1818.2 609.5,1819.6 610.0,1818.1 610.5,1819.8 611.0,1818.2 611.5,1819.6 612.0,1818.4 612.5,1819.5 613.0,1818.2 613.5,1819.7 614.0,1818.1 614.5,1819.8 615.0,1818.3 615.5,1819.6 616.0,1818.1 616.5,1819.9 617.0,1818.2 617.5,1819.8 618.0,1818.3 618.5,1819.8 619.0,1818.5 619.5,1819.5 620.0,1816.6 620.5,1819.6 621.0,1818.2 621.5,1819.8 622.0,1818.0 622.5,1819.8 623.0,1818.2 623.5,1819.6 624.0,1818.4 624.5,1819.8 625.0,1818.1 625.5,1819.7 626.0,1818.2 626.5,1819.8 627.0,1818.0 627.5,1819.8 628.0,1817.9 628.5,1819.9 629.0,1817.9 629.5,1819.6 630.0,1818.3 630.5,1819.6 631.0,1818.5 631.5,1819.8 632.0,1818.2 632.5,1819.6 633.0,1818.5 633.5,1819.8 634.0,1818.6 634.5,1819.9 635.0,1818.4 635.5,1819.8 636.0,1818.5 636.5,1819.9 637.0,1817.5 637.5,1819.6 638.0,1818.2 638.5,1819.8 639.0,1818.6 639.5,1819.7 640.0,1816.4 640.5,1819.6 641.0,1816.2 641.5,1819.9 642.0,1818.2 642.5,1819.8 642.7,1819.2 642.9,1818.6 643.0,1818.3 643.0,1818.4 643.2,1819.1 643.4,1818.5 643.5,1818.0 643.6,1817.5 643.8,1815.8 643.9,1812.9 644.0,1811.2 644.1,1808.2 644.3,1812.9 644.5,1815.8 644.5,1816.4 644.6,1817.4 644.8,1818.5 645.0,1818.1 645.0,1818.0 645.1,1818.5 645.3,1819.1 645.5,1819.7 645.6,1819.4 645.8,1818.9 646.0,1818.4 646.0,1818.2 646.1,1818.6 646.3,1818.5 646.5,1817.5 646.5,1817.3 646.6,1815.8 646.8,1812.9 647.0,1808.2 647.2,1812.9 647.4,1815.8 647.5,1817.3 647.5,1817.5 647.7,1818.5 647.9,1818.7 648.0,1818.3 648.0,1818.4 648.2,1818.9 648.4,1819.3 648.5,1819.6 649.0,1818.4 649.5,1819.6 650.0,1818.1 650.5,1819.9 651.0,1818.3 651.5,1819.7 652.0,1818.2 652.5,1819.9 653.0,1818.1 653.5,1819.8 654.0,1818.4 654.5,1819.9 655.0,1818.4 655.5,1819.6 656.0,1818.2 656.5,1819.6 657.0,1818.1 657.5,1819.9 658.0,1816.7 658.2,1817.8 658.4,1818.9 658.5,1818.3 658.5,1818.2 658.7,1816.9 658.9,1814.7 659.0,1812.4 659.0,1811.2 659.2,1805.0 659.4,1795.2 659.5,1801.6 659.6,1805.0 659.8,1811.2 659.9,1814.7 660.0,1815.8 660.1,1816.9 660.3,1818.1 660.5,1818.9 660.5,1819.1 660.6,1819.4 660.8,1818.9 661.0,1818.5 661.5,1819.7 662.0,1817.2 662.5,1819.7 663.0,1818.4 663.5,1820.0 664.0,1818.7 664.5,1819.9 665.0,1817.4 665.5,1819.7 666.0,1818.6 666.5,1819.8 667.0,1818.4 667.5,1819.7 668.0,1818.2 668.5,1819.7 669.0,1816.4 669.5,1820.0 670.0,1818.3 670.5,1819.9 671.0,1818.2 671.5,1819.8 672.0,1818.0 672.3,1819.1 672.5,1819.7 672.5,1819.7 672.6,1818.9 672.8,1817.7 673.0,1816.6 673.2,1817.1 673.4,1815.1 673.5,1812.3 673.5,1811.6 673.7,1806.1 673.9,1811.9 674.0,1814.3 674.0,1815.1 674.2,1817.2 674.4,1818.3 674.5,1818.8 674.6,1819.1 674.8,1819.0 674.9,1818.3 675.0,1818.0 675.1,1818.3 675.5,1819.8 676.0,1817.2 676.5,1820.0 677.0,1818.3 677.5,1819.8 678.0,1818.4 678.5,1820.1 679.0,1818.6 679.5,1820.0 680.0,1818.5 680.5,1820.0 681.0,1818.2 681.5,1820.1 682.0,1817.8 682.5,1820.1 683.0,1818.5 683.5,1820.0 684.0,1817.1 684.5,1820.0 685.0,1818.8 685.5,1820.0 685.5,1820.0 685.6,1819.6 685.8,1819.1 686.0,1818.6 686.2,1819.1 686.4,1819.1 686.5,1818.6 686.5,1818.4 686.7,1817.3 686.9,1815.4 687.0,1816.8 687.0,1817.3 687.2,1818.5 687.4,1819.1 687.5,1819.4 687.6,1819.5 687.8,1819.2 687.9,1818.7 688.0,1818.5 688.1,1818.7 688.3,1819.3 688.5,1819.9 689.0,1818.7 689.5,1820.0 690.0,1818.5 690.5,1820.0 691.0,1818.8 691.5,1819.9 692.0,1818.8 692.5,1820.1 693.0,1818.8 693.5,1819.8 694.0,1817.6 694.5,1820.1 695.0,1817.9 695.5,1820.0 696.0,1818.8 696.5,1819.9 697.0,1818.5 697.5,1819.9 698.0,1818.2 698.5,1819.9 699.0,1818.3 699.5,1819.9 700.0,1819.1 700.5,1820.1 701.0,1819.1 701.5,1820.1 702.0,1819.1 702.5,1820.1 703.0,1819.3 703.5,1820.0 704.0,1819.1 704.5,1820.1 705.0,1819.3 705.5,1820.2 706.0,1819.3 706.5,1820.0 707.0,1819.4 707.5,1820.1 708.0,1819.4 708.5,1820.1 709.0,1819.2 709.5,1819.7 709.6,1819.5 709.8,1819.0 710.0,1818.3 710.0,1818.2 710.2,1817.1 710.4,1815.1 710.5,1812.5 710.5,1811.7 710.7,1806.1 710.9,1797.4 711.0,1791.2 711.1,1782.3 711.3,1797.4 711.5,1806.4 711.5,1807.2 711.7,1811.7 711.9,1815.1 712.0,1816.8 712.0,1817.1 712.2,1818.3 712.4,1819.1 712.5,1819.3 712.6,1819.5 713.0,1819.3 713.5,1820.1 714.0,1818.6 714.5,1820.1 715.0,1819.2 715.5,1820.0 716.0,1819.4 716.5,1820.0 717.0,1819.2 717.5,1820.1 718.0,1819.2 718.5,1820.1 719.0,1819.1 719.5,1820.2 719.9,1819.3 720.0,1819.1 720.1,1819.3 720.3,1819.7 720.4,1819.9 720.5,1819.8 720.6,1819.6 720.8,1819.2 721.0,1818.5 721.0,1818.3 721.1,1817.3 721.3,1815.3 721.5,1817.3 721.5,1817.4 721.7,1818.5 721.8,1819.2 722.0,1819.4 722.0,1819.4 722.2,1819.6 722.4,1819.9 722.5,1820.1 722.5,1820.0 722.7,1819.7 723.0,1819.3 723.5,1820.1 724.0,1819.2 724.5,1820.1 725.0,1819.0 725.5,1820.3 726.0,1819.2 726.5,1820.1 727.0,1819.1 727.5,1820.2 728.0,1819.1 728.5,1820.1 729.0,1819.1 729.5,1820.2 730.0,1819.3 730.5,1820.2 731.0,1819.2 731.5,1820.1 732.0,1818.7 732.5,1820.1 733.0,1819.2 733.5,1820.1 734.0,1819.2 734.5,1820.3 735.0,1819.3 735.5,1820.2 736.0,1819.3 736.5,1820.2 737.0,1819.2 737.5,1820.2 738.0,1819.2 738.4,1819.8 738.5,1819.6 738.6,1819.5 738.8,1818.9 739.0,1818.1 739.0,1817.8 739.1,1816.6 739.3,1814.1 739.5,1810.9 739.5,1810.4 739.7,1803.8 739.9,1792.9 740.0,1799.3 740.1,1803.8 740.3,1810.1 740.5,1814.1 740.5,1814.8 740.6,1816.6 740.8,1818.1 741.0,1818.8 741.0,1818.9 741.2,1819.5 741.4,1819.8 741.5,1819.9 742.0,1819.3 742.5,1820.2 743.0,1819.3 743.5,1820.1 744.0,1818.9 744.5,1820.2 745.0,1819.4 745.5,1820.3 746.0,1819.5 746.5,1820.2 747.0,1818.4 747.5,1820.1 748.0,1819.5 748.5,1820.1 749.0,1819.5 749.5,1820.3 750.0,1819.3 750.5,1820.2 751.0,1818.5 751.5,1820.1 752.0,1819.3 752.5,1820.3 753.0,1818.4 753.5,1820.3 754.0,1818.4 754.5,1820.2 755.0,1819.2 755.5,1820.2 756.0,1819.3 756.5,1820.2 757.0,1819.1 757.5,1820.3 758.0,1819.4 758.5,1820.3 759.0,1819.3 759.5,1820.1 760.0,1818.8 760.5,1820.3 761.0,1819.6 761.5,1820.3 762.0,1819.5 762.5,1820.4 763.0,1819.4 763.5,1820.3 763.8,1819.8 764.0,1819.5 764.0,1819.4 764.1,1819.6 764.3,1819.9 764.5,1820.1 764.5,1820.1 764.6,1819.9 764.8,1819.6 765.0,1819.0 765.2,1818.1 765.4,1819.0 765.5,1819.5 765.5,1819.6 765.7,1819.9 765.9,1819.6 766.0,1819.4 766.0,1819.5 766.2,1819.8 766.4,1820.1 766.5,1820.3 766.6,1820.2 767.0,1819.5 767.5,1820.3 768.0,1818.5 768.5,1820.3 768.8,1819.9 769.0,1819.6 769.0,1819.6 769.1,1819.8 769.3,1819.5 769.5,1818.9 769.7,1817.8 769.9,1816.1 770.0,1813.7 770.0,1813.0 770.2,1808.2 770.4,1813.2 770.5,1815.4 770.5,1816.1 770.7,1817.9 770.9,1818.9 771.0,1819.3 771.1,1819.5 771.2,1819.9 771.4,1820.1 771.5,1820.1 771.6,1820.0 772.0,1819.5 772.5,1820.2 772.7,1820.0 772.9,1819.8 773.0,1819.4 773.0,1819.4 773.2,1818.6 773.4,1817.3 773.5,1816.0 773.5,1815.3 773.7,1811.8 773.9,1806.1 774.0,1809.8 774.1,1811.8 774.2,1815.3 774.4,1817.3 774.5,1818.0 774.6,1818.6 774.8,1819.3 775.0,1819.7 775.0,1819.6 775.1,1819.8 775.3,1820.1 775.5,1820.3 776.0,1819.7 776.5,1820.4 777.0,1819.6 777.5,1820.4 778.0,1819.5 778.5,1820.3 779.0,1819.6 779.5,1820.2 780.0,1819.6 780.5,1820.2 781.0,1819.5 781.5,1820.3 782.0,1819.6 782.5,1820.4 783.0,1819.5 783.5,1820.2 784.0,1819.4 784.5,1820.2 785.0,1819.6 785.5,1820.3 786.0,1818.7 786.5,1820.3 787.0,1819.6 787.5,1820.4 788.0,1819.4 788.5,1820.4 789.0,1819.5 789.5,1820.4 790.0,1819.4 790.5,1820.3 791.0,1819.5 791.5,1820.3 792.0,1819.4 792.5,1820.4 793.0,1819.5 793.5,1820.4 794.0,1819.4 794.5,1820.5 795.0,1819.3 795.5,1820.4 796.0,1819.4 796.5,1820.4 797.0,1819.4 797.5,1820.4 798.0,1819.3 798.5,1820.5 799.0,1818.9 799.5,1820.3 800.0,1819.9 800.5,1820.4 801.0,1819.9 801.5,1820.4 802.0,1820.0 802.5,1820.4 803.0,1819.4 803.5,1820.5 804.0,1819.7 804.5,1820.4 805.0,1820.0 805.5,1820.5 806.0,1820.1 806.5,1820.4 807.0,1820.0 807.5,1820.4 808.0,1820.0 808.5,1820.4 809.0,1820.0 809.5,1820.4 810.0,1820.1 810.5,1820.5 811.0,1820.0 811.5,1820.5 812.0,1820.0 812.5,1820.4 813.0,1819.9 813.5,1820.4 814.0,1819.7 814.5,1820.5 815.0,1820.0 815.5,1820.5 816.0,1820.0 816.5,1820.5 817.0,1820.0 817.5,1820.5 818.0,1820.0 818.5,1820.4 819.0,1820.0 819.5,1820.5 820.0,1819.4 820.5,1820.5 821.0,1819.5 821.5,1820.5 822.0,1820.1 822.5,1820.5 823.0,1819.7 823.5,1820.5 824.0,1820.0 824.5,1820.5 825.0,1820.0 825.5,1820.5 826.0,1820.0 826.5,1820.5 827.0,1820.0 827.5,1820.5 828.0,1820.1 828.5,1820.4 829.0,1820.0 829.1,1820.1 829.3,1820.3 829.5,1820.3 829.5,1820.2 829.6,1820.1 829.8,1819.7 830.0,1819.1 830.0,1819.0 830.1,1818.2 830.3,1816.5 830.5,1813.9 830.7,1816.5 830.9,1818.2 831.0,1819.0 831.0,1819.1 831.2,1819.7 831.4,1820.1 831.5,1820.2 831.5,1820.3 831.7,1820.3 831.9,1820.1 832.0,1820.0 832.5,1820.5 832.7,1820.3 832.8,1820.2 833.0,1820.0 833.0,1820.0 833.2,1820.2 833.4,1820.0 833.5,1819.8 833.5,1819.7 833.7,1819.1 833.9,1818.1 834.0,1817.2 834.1,1816.5 834.2,1818.1 834.4,1819.1 834.5,1819.4 834.6,1819.7 834.8,1820.1 834.9,1820.1 835.0,1820.0 835.1,1820.1 835.3,1820.3 835.5,1820.4 835.5,1820.5 836.0,1820.0 836.5,1820.5 837.0,1820.0 837.5,1820.5 838.0,1820.1 838.5,1820.0 838.7,1819.7 838.9,1819.1 839.0,1818.6 839.1,1818.3 839.2,1816.7 839.4,1814.2 839.5,1813.1 839.6,1810.3 839.8,1803.5 840.0,1792.3 840.2,1803.5 840.4,1810.3 840.5,1813.1 840.6,1814.2 840.8,1816.7 840.9,1818.3 841.0,1818.6 841.1,1819.1 841.3,1819.7 841.5,1820.1 842.0,1820.0 842.5,1820.5 843.0,1820.1 843.5,1820.5 844.0,1820.1 844.5,1820.5 845.0,1820.0 845.5,1820.6 846.0,1820.0 846.5,1820.5 847.0,1820.1 847.5,1820.5 848.0,1819.6 848.5,1820.5 849.0,1820.1 849.5,1820.5 850.0,1820.0 850.5,1820.5 851.0,1820.1 851.5,1820.5 852.0,1820.0 852.5,1820.5 853.0,1820.1 853.5,1820.5 854.0,1820.1 854.5,1820.6 855.0,1820.0 855.5,1820.5 856.0,1820.0 856.5,1820.5 857.0,1820.1 857.5,1820.5 858.0,1820.0 858.5,1820.6 859.0,1820.0 859.5,1820.5 860.0,1820.0 860.5,1820.5 861.0,1819.9 861.5,1820.5 862.0,1820.1 862.5,1820.5 863.0,1820.0 863.5,1820.4 863.7,1820.3 863.9,1820.1 864.0,1819.9 864.1,1819.8 864.2,1819.2 864.4,1818.3 864.5,1817.9 864.6,1816.8 864.8,1814.3 865.0,1810.2 865.2,1814.3 865.4,1816.8 865.5,1817.9 865.6,1818.3 865.8,1819.2 865.9,1819.8 866.0,1819.6 866.1,1819.9 866.3,1820.2 866.5,1820.4 867.0,1820.1 867.5,1820.6 868.0,1820.2 868.5,1820.5 869.0,1820.1 869.5,1820.5 870.0,1820.0 870.5,1820.6 871.0,1820.1 871.5,1820.5 872.0,1820.0 872.5,1820.5 873.0,1819.9 873.5,1820.5 874.0,1819.8 874.5,1820.6 875.0,1820.1 875.5,1820.6 876.0,1820.0 876.5,1820.6 877.0,1820.1 877.5,1820.6 878.0,1820.2 878.5,1820.6 879.0,1820.1 879.5,1820.5 880.0,1820.2 880.5,1820.6 881.0,1819.7 881.5,1820.6 882.0,1820.1 882.5,1820.5 883.0,1820.1 883.5,1820.5 884.0,1820.2 884.5,1820.6 885.0,1820.1 885.5,1820.5 886.0,1820.2 886.5,1820.6 887.0,1820.2 887.5,1820.6 888.0,1820.1 888.5,1820.6 889.0,1820.1 889.5,1820.6 890.0,1820.2 890.5,1820.6 891.0,1820.2 891.5,1820.6 892.0,1820.2 892.5,1820.6 893.0,1819.9 893.5,1820.6 894.0,1820.1 894.5,1820.6 895.0,1820.2 895.5,1820.6 896.0,1819.7 896.5,1820.6 897.0,1820.1 897.5,1820.6 898.0,1820.2 898.5,1820.6 899.0,1820.2 899.5,1820.6 900.0,1820.2 900.5,1820.6 901.0,1820.1 901.5,1820.6 902.0,1820.1 902.5,1820.6 903.0,1820.2 903.5,1820.6 904.0,1819.9 904.5,1820.6 905.0,1820.3 905.5,1820.7 906.0,1820.2 906.5,1820.7 907.0,1819.9 907.5,1820.6 908.0,1820.1 908.5,1820.6 909.0,1820.1 909.5,1820.6 910.0,1820.1 910.5,1820.6 911.0,1820.1 911.5,1820.6 912.0,1820.1 912.5,1820.7 913.0,1820.2 913.5,1820.6 914.0,1820.2 914.5,1820.6 915.0,1820.1 915.5,1820.7 916.0,1820.1 916.5,1820.6 917.0,1820.1 917.5,1820.6 918.0,1819.8 918.5,1820.7 919.0,1820.1 919.5,1820.6 920.0,1820.2 920.5,1820.6 921.0,1820.1 921.5,1820.6 922.0,1820.1 922.5,1820.6 923.0,1820.1 923.5,1820.6 924.0,1820.2 924.5,1820.7 925.0,1820.2 925.5,1820.7 926.0,1819.9 926.5,1820.6 927.0,1820.2 927.5,1820.6 928.0,1820.2 928.5,1820.6 929.0,1820.2 929.5,1820.6 930.0,1820.2 930.5,1820.7 931.0,1819.9 931.5,1820.7 932.0,1820.3 932.5,1820.6 933.0,1820.3 933.5,1820.6 934.0,1820.3 934.5,1820.6 935.0,1819.7 935.5,1820.7 936.0,1820.3 936.5,1820.7 937.0,1820.2 937.5,1820.7 938.0,1819.8 938.5,1820.7 939.0,1820.2 939.5,1820.7 940.0,1820.2 940.5,1820.7 941.0,1819.9 941.5,1820.7 942.0,1820.3 942.5,1820.6 943.0,1820.3 943.5,1820.7 943.5,1820.7 943.7,1820.5 943.9,1820.4 944.0,1820.3 944.1,1820.4 944.2,1820.2 944.4,1819.8 944.5,1819.5 944.6,1819.1 944.8,1818.0 944.9,1816.1 945.0,1816.8 945.1,1818.0 945.3,1819.1 945.5,1819.8 945.5,1819.9 945.6,1820.2 945.8,1820.4 946.0,1820.2 946.0,1820.2 946.2,1820.4 946.3,1820.6 946.5,1820.7 947.0,1820.3 947.5,1820.7 948.0,1820.3 948.5,1820.7 949.0,1820.3 949.5,1820.6 950.0,1820.3 950.5,1820.7 951.0,1820.2 951.5,1820.7 952.0,1820.3 952.5,1820.7 953.0,1820.3 953.5,1820.7 954.0,1820.2 954.5,1820.7 955.0,1820.3 955.5,1820.7 956.0,1820.3 956.5,1820.7 957.0,1820.3 957.5,1820.7 958.0,1820.3 958.5,1820.7 959.0,1820.4 959.5,1820.7 960.0,1820.2 960.5,1820.7 961.0,1820.2 961.5,1820.7 962.0,1819.9 962.5,1820.7 963.0,1820.2 963.5,1820.7 964.0,1820.0 964.5,1820.7 965.0,1820.3 965.5,1820.7 966.0,1820.2 966.5,1820.8 967.0,1819.9 967.5,1820.7 968.0,1819.8 968.5,1820.7 969.0,1820.0 969.5,1820.7 970.0,1820.2 970.5,1820.7 971.0,1820.3 971.5,1820.7 972.0,1820.2 972.5,1820.8 973.0,1820.2 973.5,1820.7 974.0,1820.3 974.5,1820.8 975.0,1820.3 975.5,1820.7 976.0,1819.8 976.5,1820.7 977.0,1820.3 977.5,1820.8 978.0,1820.2 978.5,1820.7 979.0,1819.6 979.5,1820.7 980.0,1820.3 980.5,1820.8 981.0,1820.3 981.5,1820.7 982.0,1820.3 982.5,1820.8 983.0,1820.3 983.5,1820.7 984.0,1819.9 984.5,1820.7 985.0,1820.3 985.5,1820.8 986.0,1820.4 986.5,1820.8 987.0,1820.1 987.5,1820.8 988.0,1820.2 988.5,1820.7 989.0,1820.3 989.5,1820.7 990.0,1820.4 990.5,1820.7 991.0,1820.4 991.5,1820.7 992.0,1820.4 992.5,1820.8 993.0,1820.4 993.5,1820.7 993.7,1820.6 993.9,1820.5 994.0,1820.4 994.1,1820.5 994.3,1820.3 994.5,1819.9 994.5,1819.8 994.6,1819.3 994.8,1818.2 995.0,1816.8 995.0,1816.7 995.2,1813.9 995.4,1816.7 995.5,1817.7 995.6,1818.3 995.8,1819.3 996.0,1819.9 996.0,1820.0 996.1,1820.3 996.3,1820.5 996.5,1820.6 996.5,1820.6 996.7,1820.6 997.0,1820.3 997.5,1820.8 998.0,1820.3 998.5,1820.8 999.0,1820.3 999.5,1820.8 1000.0,1820.3 1000.5,1820.8 1001.0,1820.4 1001.5,1820.7 1002.0,1820.1 1002.5,1820.8 1003.0,1820.4 1003.5,1820.7 1004.0,1819.9 1004.5,1820.7 1005.0,1820.3 1005.5,1820.8 1006.0,1820.4 1006.5,1820.8 1007.0,1820.4 1007.5,1820.8 1008.0,1820.4 1008.5,1820.8 1009.0,1820.3 1009.5,1820.8 1010.0,1820.4 1010.5,1820.8 1011.0,1820.2 1011.5,1820.8 1012.0,1820.4 1012.5,1820.8 1013.0,1820.3 1013.5,1820.8 1014.0,1819.9 1014.5,1820.7 1015.0,1820.4 1015.5,1820.8 1016.0,1820.3 1016.5,1820.8 1017.0,1820.3 1017.5,1820.8 1018.0,1820.4 1018.5,1820.8 1019.0,1820.3 1019.5,1820.8 1020.0,1820.3 1020.5,1820.9 1021.0,1820.3 1021.5,1820.8 1022.0,1820.4 1022.5,1820.8 1023.0,1820.3 1023.5,1820.8 1024.0,1820.4 1024.5,1820.9 1025.0,1820.5 1025.5,1820.8 1026.0,1820.4 1026.5,1820.8 1027.0,1820.4 1027.5,1820.8 1028.0,1820.5 1028.5,1820.8 1029.0,1820.4 1029.5,1820.8 1030.0,1820.3 1030.5,1820.8 1031.0,1820.4 1031.5,1820.8 1032.0,1820.3 1032.5,1820.8 1033.0,1820.3 1033.5,1820.9 1034.0,1819.7 1034.5,1820.9 1035.0,1820.3 1035.5,1820.8 1036.0,1820.3 1036.5,1820.8 1037.0,1819.9 1037.5,1820.9 1038.0,1820.9 1038.5,1820.9 1039.0,1820.9 1039.5,1820.9 1040.0,1820.9 1040.4,1820.9" fill="none" stroke="#1e1b1b" stroke-width="2.40" stroke-linejoin="round"/>
<path d="M73 1017H79 M73 1103.7H77 M73 1113.1H77 M74 1819.3H79" stroke="#888" stroke-width="1" fill="none"/>
<circle cx="81.2" cy="1809.9" r="1.6" fill="#2b2626"/><circle cx="81.2" cy="1819.3" r="1.8" fill="#2b2626"/>
</svg></body></html>
